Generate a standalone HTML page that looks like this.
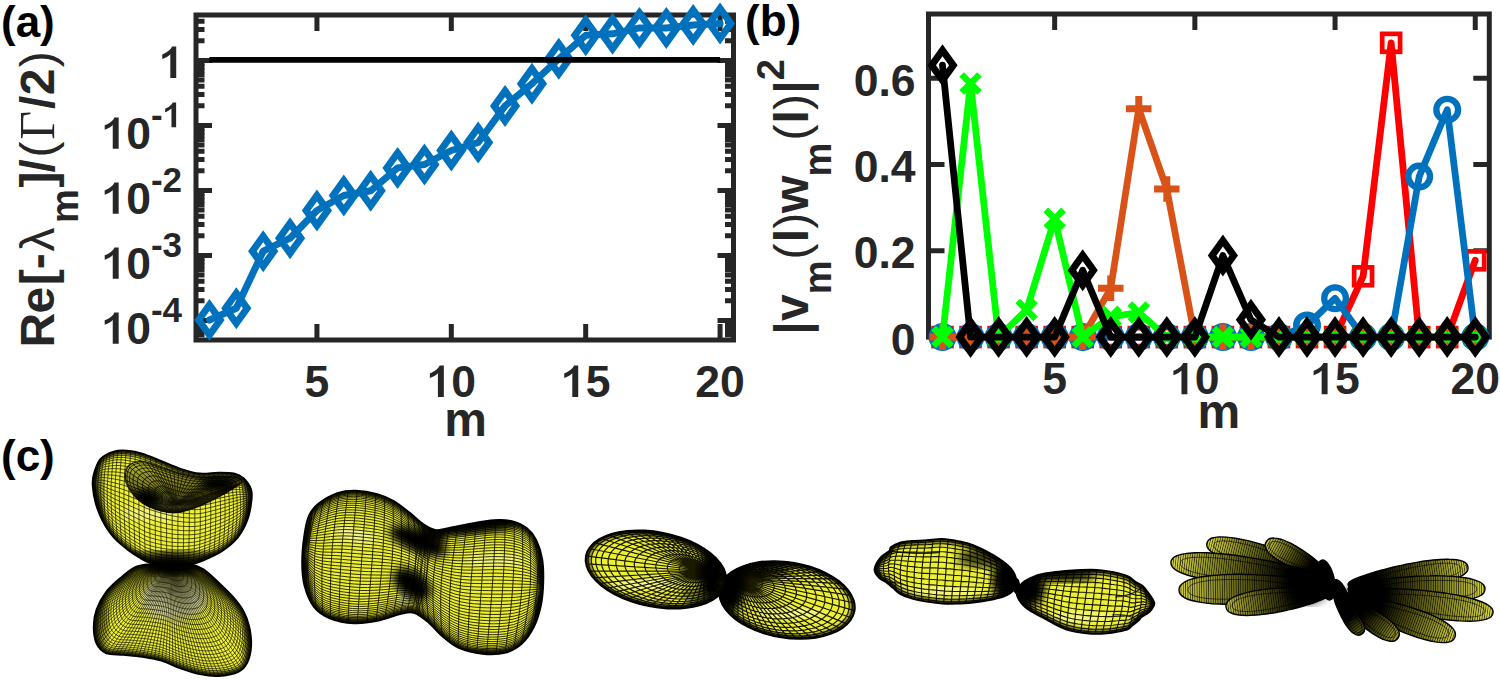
<!DOCTYPE html>
<html><head><meta charset="utf-8"><style>
html,body{margin:0;padding:0;background:#fff;width:1500px;height:680px;overflow:hidden}
svg{display:block}
</style></head><body>
<svg width="1500" height="680" viewBox="0 0 1500 680">
<defs>
<pattern id="mesh" width="3.6" height="3.6" patternUnits="userSpaceOnUse"><path d="M0 0.4H3.6M0.4 0V3.6" stroke="#1e1e00" stroke-width="0.7" fill="none"/></pattern>
<pattern id="mesh2" width="4.5" height="3" patternUnits="userSpaceOnUse" patternTransform="rotate(5)"><path d="M0 0.4H4.5M0.4 0V3" stroke="#1e1e00" stroke-width="0.65" fill="none"/></pattern>
<pattern id="mesh3" width="6" height="4.5" patternUnits="userSpaceOnUse" patternTransform="rotate(10)"><path d="M0 0.5H6M0.5 0V4.5" stroke="#1e1e00" stroke-width="1" fill="none"/></pattern>
<pattern id="mesh4" width="5.5" height="4.5" patternUnits="userSpaceOnUse" patternTransform="rotate(-20)"><path d="M0 0.5H5.5M0.5 0V4.5" stroke="#1e1e00" stroke-width="0.9" fill="none"/></pattern>
<radialGradient id="dk" cx="0.5" cy="0.5" r="0.5"><stop offset="0" stop-color="#000" stop-opacity="1"/><stop offset="0.55" stop-color="#000" stop-opacity="0.85"/><stop offset="1" stop-color="#000" stop-opacity="0"/></radialGradient>
<radialGradient id="hl" cx="0.5" cy="0.5" r="0.5"><stop offset="0" stop-color="#fff" stop-opacity="0.75"/><stop offset="1" stop-color="#fff" stop-opacity="0"/></radialGradient>
<filter id="bl2"><feGaussianBlur stdDeviation="2"/></filter>
<filter id="bl4"><feGaussianBlur stdDeviation="4"/></filter>
</defs>
<clipPath id="c1a"><path d="M93.6 474.4C94.9 469.9 96.9 462.8 100.3 459.0C103.7 455.2 109.2 452.9 113.7 451.5C118.2 450.1 122.2 450.2 127.0 450.5C131.8 450.8 136.6 451.6 142.3 453.4C148.0 455.1 155.0 458.4 161.4 461.0C167.8 463.6 174.1 466.6 180.5 468.7C186.9 470.8 193.3 472.8 199.7 473.4C206.1 474.0 213.1 472.5 218.8 472.5C224.5 472.5 229.9 472.4 234.0 473.4C238.1 474.3 240.7 475.5 243.6 478.2C246.5 480.9 250.0 485.6 251.3 489.7C252.6 493.8 252.0 497.9 251.3 503.0C250.7 508.1 249.6 514.5 247.4 520.3C245.2 526.0 242.0 532.4 237.9 537.5C233.8 542.6 228.3 547.0 222.6 550.8C216.9 554.6 208.9 558.1 203.5 560.4C198.1 562.7 195.6 563.6 190.0 564.5C184.4 565.4 176.7 566.2 170.0 566.0C163.3 565.8 155.0 564.3 150.0 563.0C145.0 561.7 143.5 560.0 140.0 558.0C136.5 556.0 133.4 554.2 129.0 550.8C124.6 547.4 118.2 542.6 113.7 537.5C109.2 532.4 105.2 526.0 102.2 520.3C99.2 514.5 97.1 508.7 95.5 503.0C93.9 497.3 92.9 490.8 92.6 486.0C92.3 481.2 92.3 478.9 93.6 474.4Z"/></clipPath>
<g clip-path="url(#c1a)">
<path d="M93.6 474.4C94.9 469.9 96.9 462.8 100.3 459.0C103.7 455.2 109.2 452.9 113.7 451.5C118.2 450.1 122.2 450.2 127.0 450.5C131.8 450.8 136.6 451.6 142.3 453.4C148.0 455.1 155.0 458.4 161.4 461.0C167.8 463.6 174.1 466.6 180.5 468.7C186.9 470.8 193.3 472.8 199.7 473.4C206.1 474.0 213.1 472.5 218.8 472.5C224.5 472.5 229.9 472.4 234.0 473.4C238.1 474.3 240.7 475.5 243.6 478.2C246.5 480.9 250.0 485.6 251.3 489.7C252.6 493.8 252.0 497.9 251.3 503.0C250.7 508.1 249.6 514.5 247.4 520.3C245.2 526.0 242.0 532.4 237.9 537.5C233.8 542.6 228.3 547.0 222.6 550.8C216.9 554.6 208.9 558.1 203.5 560.4C198.1 562.7 195.6 563.6 190.0 564.5C184.4 565.4 176.7 566.2 170.0 566.0C163.3 565.8 155.0 564.3 150.0 563.0C145.0 561.7 143.5 560.0 140.0 558.0C136.5 556.0 133.4 554.2 129.0 550.8C124.6 547.4 118.2 542.6 113.7 537.5C109.2 532.4 105.2 526.0 102.2 520.3C99.2 514.5 97.1 508.7 95.5 503.0C93.9 497.3 92.9 490.8 92.6 486.0C92.3 481.2 92.3 478.9 93.6 474.4Z" fill="#eef034"/>
<ellipse cx="150" cy="514" rx="30" ry="6" fill="#fff" opacity="0.45" filter="url(#bl4)"/>
<path d="M92.6 478.9L91.6 479.5 90.6 480.1 89.8 480.8 89.2 481.4 88.8 482.0 88.6 482.6 88.8 483.3 89.2 483.9 89.8 484.5 90.6 485.1 91.6 485.8 92.6 486.4M93.2 476.0L92.2 477.3 91.2 478.6 90.4 479.9 89.8 481.2 89.4 482.5 89.2 483.8 89.4 485.1 89.8 486.4 90.4 487.7 91.2 489.0 92.2 490.3 93.2 491.6M94.1 472.6L93.1 474.7 92.2 476.7 91.3 478.8 90.7 480.8 90.3 482.8 90.2 484.9 90.3 486.9 90.7 489.0 91.3 491.0 92.2 493.1 93.1 495.1 94.1 497.1M95.4 468.6L94.4 471.4 93.5 474.2 92.7 477.1 92.1 479.9 91.7 482.8 91.6 485.6 91.7 488.4 92.1 491.3 92.7 494.1 93.5 497.0 94.4 499.8 95.4 502.6M97.1 464.4L96.1 468.0 95.2 471.7 94.4 475.3 93.8 478.9 93.4 482.6 93.3 486.2 93.4 489.9 93.8 493.5 94.4 497.1 95.2 500.8 96.1 504.4 97.1 508.1M99 460.7L98.1 465.1 97.2 469.5 96.5 473.9 95.9 478.3 95.5 482.7 95.4 487.1 95.5 491.5 95.9 495.9 96.5 500.3 97.2 504.7 98.1 509.1 99.0 513.5M101.4 457.9L100.5 463.0 99.6 468.0 98.9 473.1 98.3 478.2 98.0 483.2 97.8 488.3 98.0 493.4 98.3 498.4 98.9 503.5 99.6 508.6 100.5 513.6 101.4 518.7M104.1 455.8L103.2 461.5 102.4 467.1 101.6 472.8 101.1 478.4 100.8 484.1 100.6 489.7 100.8 495.4 101.1 501.1 101.6 506.7 102.4 512.4 103.2 518.0 104.1 523.7M107 454.1L106.2 460.3 105.4 466.5 104.7 472.7 104.2 478.9 103.9 485.1 103.8 491.4 103.9 497.6 104.2 503.8 104.7 510.0 105.4 516.2 106.2 522.4 107.0 528.6M110.3 452.7L109.5 459.4 108.8 466.1 108.1 472.8 107.7 479.6 107.3 486.3 107.2 493.0 107.3 499.7 107.7 506.4 108.1 513.2 108.8 519.9 109.5 526.6 110.3 533.3M113.9 451.4L113.2 458.6 112.5 465.8 111.9 473.0 111.4 480.2 111.1 487.4 111.0 494.6 111.1 501.8 111.4 509.0 111.9 516.2 112.5 523.4 113.2 530.5 113.9 537.7M117.8 450.6L117.1 458.2 116.4 465.8 115.8 473.3 115.4 480.9 115.1 488.5 115.0 496.1 115.1 503.7 115.4 511.3 115.8 518.9 116.4 526.4 117.1 534.0 117.8 541.6M121.9 450.3L121.2 458.2 120.6 466.1 120.1 474.0 119.7 481.9 119.4 489.8 119.4 497.7 119.4 505.7 119.7 513.6 120.1 521.5 120.6 529.4 121.2 537.3 121.9 545.2M126.2 450.5L125.6 458.6 125.1 466.8 124.6 475.0 124.2 483.2 124.0 491.4 123.9 499.5 124.0 507.7 124.2 515.9 124.6 524.1 125.1 532.3 125.6 540.5 126.2 548.6M130.8 450.9L130.2 459.3 129.7 467.7 129.3 476.2 129.0 484.6 128.8 493.1 128.7 501.5 128.8 509.9 129.0 518.4 129.3 526.8 129.7 535.3 130.2 543.7 130.8 552.1M135.5 451.7L135.1 460.3 134.6 468.9 134.2 477.6 133.9 486.2 133.7 494.9 133.7 503.5 133.7 512.1 133.9 520.8 134.2 529.4 134.6 538.1 135.1 546.7 135.5 555.4M140.4 452.9L140.0 461.6 139.7 470.4 139.3 479.2 139.1 488.0 138.9 496.8 138.9 505.6 138.9 514.3 139.1 523.1 139.3 531.9 139.7 540.7 140.0 549.5 140.4 558.3M145.5 454.5L145.2 463.4 144.8 472.3 144.6 481.2 144.4 490.1 144.2 499.0 144.2 507.9 144.2 516.8 144.4 525.7 144.6 534.6 144.8 543.5 145.2 552.4 145.5 561.3M150.7 456.5L150.4 465.4 150.2 474.3 149.9 483.2 149.8 492.1 149.7 501.0 149.6 509.9 149.7 518.7 149.8 527.6 149.9 536.5 150.2 545.4 150.4 554.3 150.7 563.2M156 458.8L155.8 467.6 155.6 476.4 155.4 485.1 155.3 493.9 155.2 502.7 155.2 511.5 155.2 520.3 155.3 529.1 155.4 537.9 155.6 546.7 155.8 555.5 156.0 564.3M161.4 461.0L161.2 469.7 161.1 478.4 161.0 487.0 160.9 495.7 160.8 504.4 160.8 513.1 160.8 521.8 160.9 530.5 161.0 539.1 161.1 547.8 161.2 556.5 161.4 565.2M166.8 463.3L166.7 471.8 166.7 480.3 166.6 488.9 166.6 497.4 166.5 506.0 166.5 514.5 166.5 523.1 166.6 531.6 166.6 540.2 166.7 548.7 166.7 557.3 166.8 565.8M172.2 465.6L172.2 473.9 172.2 482.3 172.2 490.7 172.2 499.1 172.2 507.4 172.2 515.8 172.2 524.2 172.2 532.6 172.2 540.9 172.2 549.3 172.2 557.7 172.2 566.0M177.7 467.7L177.8 475.9 177.8 484.1 177.9 492.3 177.9 500.4 177.9 508.6 178.0 516.8 177.9 525.0 177.9 533.2 177.9 541.3 177.8 549.5 177.8 557.7 177.7 565.9M183.1 469.5L183.2 477.5 183.4 485.5 183.5 493.5 183.6 501.5 183.6 509.5 183.6 517.5 183.6 525.5 183.6 533.5 183.5 541.5 183.4 549.5 183.2 557.4 183.1 565.4M188.5 471.1L188.7 478.9 188.9 486.7 189.0 494.5 189.2 502.3 189.3 510.1 189.3 517.9 189.3 525.7 189.2 533.5 189.0 541.3 188.9 549.1 188.7 556.9 188.5 564.7M193.8 472.5L194.0 480.1 194.3 487.7 194.5 495.3 194.7 502.9 194.8 510.5 194.8 518.1 194.8 525.7 194.7 533.3 194.5 540.9 194.3 548.6 194.0 556.2 193.8 563.8M199 473.3L199.3 480.7 199.6 488.1 199.9 495.5 200.1 502.9 200.3 510.4 200.3 517.8 200.3 525.2 200.1 532.6 199.9 540.0 199.6 547.4 199.3 554.8 199.0 562.2M204 473.5L204.4 480.8 204.8 488.0 205.2 495.2 205.4 502.4 205.6 509.6 205.6 516.9 205.6 524.1 205.4 531.3 205.2 538.5 204.8 545.7 204.4 553.0 204.0 560.2M208.9 473.2L209.4 480.3 209.9 487.4 210.3 494.4 210.5 501.5 210.7 508.6 210.8 515.6 210.7 522.7 210.5 529.8 210.3 536.8 209.9 543.9 209.4 551.0 208.9 558.0M213.7 472.8L214.2 479.7 214.7 486.6 215.2 493.5 215.5 500.5 215.7 507.4 215.8 514.3 215.7 521.2 215.5 528.1 215.2 535.0 214.7 542.0 214.2 548.9 213.7 555.8M218.3 472.5L218.9 479.3 219.4 486.0 219.9 492.7 220.3 499.5 220.5 506.2 220.6 513.0 220.5 519.7 220.3 526.5 219.9 533.2 219.4 539.9 218.9 546.7 218.3 553.4M222.6 472.5L223.2 479.0 223.9 485.6 224.4 492.1 224.8 498.6 225.0 505.1 225.1 511.7 225.0 518.2 224.8 524.7 224.4 531.2 223.9 537.8 223.2 544.3 222.6 550.8M226.7 472.6L227.4 478.9 228.1 485.1 228.6 491.4 229.1 497.7 229.3 504.0 229.4 510.3 229.3 516.5 229.1 522.8 228.6 529.1 228.1 535.4 227.4 541.6 226.7 547.9M230.6 472.8L231.3 478.8 232.0 484.9 232.6 490.9 233.1 496.9 233.4 502.9 233.5 508.9 233.4 514.9 233.1 520.9 232.6 526.9 232.0 532.9 231.3 538.9 230.6 544.9M234.1 473.4L234.9 479.1 235.7 484.8 236.3 490.5 236.8 496.2 237.1 501.8 237.2 507.5 237.1 513.2 236.8 518.9 236.3 524.6 235.7 530.2 234.9 535.9 234.1 541.6M237.4 474.4L238.3 479.7 239.1 485.0 239.7 490.3 240.3 495.6 240.6 500.9 240.7 506.2 240.6 511.5 240.3 516.8 239.7 522.1 239.1 527.4 238.3 532.8 237.4 538.1M240.4 475.8L241.3 480.6 242.1 485.5 242.8 490.3 243.4 495.2 243.7 500.1 243.8 504.9 243.7 509.8 243.4 514.6 242.8 519.5 242.1 524.4 241.3 529.2 240.4 534.1M243.1 477.7L244.0 482.1 244.9 486.4 245.6 490.7 246.2 495.0 246.5 499.4 246.6 503.7 246.5 508.0 246.2 512.3 245.6 516.7 244.9 521.0 244.0 525.3 243.1 529.6M245.4 480.1L246.4 483.8 247.3 487.6 248.0 491.3 248.6 495.1 249.0 498.8 249.1 502.5 249.0 506.3 248.6 510.0 248.0 513.8 247.3 517.5 246.4 521.2 245.4 525.0M247.4 482.6L248.4 485.7 249.3 488.8 250.1 492.0 250.7 495.1 251.1 498.3 251.2 501.4 251.1 504.5 250.7 507.7 250.1 510.8 249.3 514.0 248.4 517.1 247.4 520.2M249.1 485.0L250.1 487.5 251.0 490.0 251.8 492.5 252.4 495.0 252.8 497.5 252.9 500.0 252.8 502.5 252.4 505.1 251.8 507.6 251.0 510.1 250.1 512.6 249.1 515.1M250.4 487.4L251.4 489.2 252.3 491.0 253.1 492.8 253.8 494.6 254.1 496.5 254.3 498.3 254.1 500.1 253.8 501.9 253.1 503.7 252.3 505.6 251.4 507.4 250.4 509.2M251.3 489.7L252.3 490.8 253.3 491.9 254.1 493.0 254.7 494.1 255.1 495.3 255.3 496.4 255.1 497.5 254.7 498.6 254.1 499.7 253.3 500.8 252.3 502.0 251.3 503.1M251.8 492.2L252.9 492.7 253.8 493.2 254.7 493.8 255.3 494.3 255.7 494.8 255.8 495.3 255.7 495.8 255.3 496.4 254.7 496.9 253.8 497.4 252.9 497.9 251.8 498.5M92.4 481.4L96.9 464.8 101.3 458.1 105.7 455.0 110.2 452.9 114.6 451.4 119.0 450.6 123.5 450.5 127.9 450.8 132.3 451.3 136.8 452.1 141.2 453.3 145.6 454.8 150.1 456.5 154.5 458.3 158.9 460.2 163.4 462.0 167.8 463.9 172.2 465.8 176.7 467.6 181.1 469.1 185.5 470.5 190.0 471.8 194.4 472.8 198.8 473.5 203.3 473.7 207.7 473.5 212.1 473.1 216.6 472.7 221.0 472.7 225.4 472.7 229.9 472.9 234.3 473.6 238.7 475.0 243.2 477.9 247.6 482.9 252.0 494.5M92.4 481.4L96.9 465.1 101.3 458.5 105.7 455.4 110.2 453.4 114.6 452.0 119.0 451.2 123.5 451.1 127.9 451.4 132.3 452.0 136.8 452.8 141.2 454.0 145.6 455.4 150.1 457.2 154.5 459.0 158.9 460.9 163.4 462.7 167.8 464.6 172.2 466.4 176.7 468.2 181.1 469.7 185.5 471.1 190.0 472.3 194.4 473.4 198.8 474.1 203.3 474.3 207.7 474.1 212.1 473.6 216.6 473.3 221.0 473.2 225.4 473.2 229.9 473.4 234.3 474.1 238.7 475.4 243.2 478.2 247.6 483.1 252.0 494.5M92.4 481.4L96.9 465.6 101.3 459.1 105.7 456.2 110.2 454.3 114.6 452.9 119.0 452.2 123.5 452.2 127.9 452.5 132.3 453.0 136.8 453.9 141.2 455.1 145.6 456.6 150.1 458.3 154.5 460.1 158.9 462.0 163.4 463.8 167.8 465.6 172.2 467.5 176.7 469.2 181.1 470.7 185.5 472.1 190.0 473.3 194.4 474.3 198.8 475.0 203.3 475.2 207.7 475.0 212.1 474.5 216.6 474.1 221.0 474.0 225.4 474.0 229.9 474.2 234.3 474.8 238.7 476.1 243.2 478.8 247.6 483.5 252.0 494.6M92.4 481.4L96.9 466.2 101.3 460.0 105.7 457.2 110.2 455.5 114.6 454.2 119.0 453.6 123.5 453.6 127.9 453.9 132.3 454.5 136.8 455.4 141.2 456.6 145.6 458.1 150.1 459.9 154.5 461.7 158.9 463.5 163.4 465.3 167.8 467.1 172.2 469.0 176.7 470.7 181.1 472.2 185.5 473.5 190.0 474.7 194.4 475.7 198.8 476.3 203.3 476.5 207.7 476.2 212.1 475.8 216.6 475.3 221.0 475.2 225.4 475.1 229.9 475.2 234.3 475.8 238.7 477.0 243.2 479.6 247.6 484.0 252.0 494.6M92.4 481.5L96.9 467.0 101.3 461.1 105.7 458.6 110.2 457.0 114.6 455.8 119.0 455.3 123.5 455.4 127.9 455.8 132.3 456.4 136.8 457.4 141.2 458.6 145.6 460.1 150.1 461.9 154.5 463.7 158.9 465.5 163.4 467.2 167.8 469.0 172.2 470.8 176.7 472.5 181.1 474.0 185.5 475.3 190.0 476.4 194.4 477.4 198.8 478.0 203.3 478.1 207.7 477.8 212.1 477.3 216.6 476.9 221.0 476.7 225.4 476.5 229.9 476.6 234.3 477.0 238.7 478.1 243.2 480.5 247.6 484.7 252.0 494.6M92.4 481.5L96.9 468.0 101.3 462.5 105.7 460.2 110.2 458.8 114.6 457.8 119.0 457.4 123.5 457.5 127.9 458.0 132.3 458.7 136.8 459.7 141.2 461.0 145.6 462.5 150.1 464.3 154.5 466.1 158.9 467.8 163.4 469.6 167.8 471.3 172.2 473.1 176.7 474.7 181.1 476.1 185.5 477.4 190.0 478.5 194.4 479.4 198.8 480.0 203.3 480.1 207.7 479.7 212.1 479.2 216.6 478.7 221.0 478.4 225.4 478.3 229.9 478.2 234.3 478.6 238.7 479.5 243.2 481.7 247.6 485.6 252.0 494.6M92.4 481.5L96.9 469.1 101.3 464.1 105.7 462.0 110.2 460.9 114.6 460.0 119.0 459.8 123.5 460.0 127.9 460.6 132.3 461.4 136.8 462.4 141.2 463.7 145.6 465.3 150.1 467.0 154.5 468.8 158.9 470.6 163.4 472.3 167.8 474.0 172.2 475.7 176.7 477.3 181.1 478.7 185.5 479.9 190.0 480.9 194.4 481.8 198.8 482.3 203.3 482.3 207.7 482.0 212.1 481.4 216.6 480.8 221.0 480.5 225.4 480.3 229.9 480.1 234.3 480.3 238.7 481.1 243.2 483.0 247.6 486.5 252.0 494.6M92.4 481.6L96.9 470.3 101.3 465.9 105.7 464.2 110.2 463.2 114.6 462.6 119.0 462.5 123.5 462.9 127.9 463.5 132.3 464.4 136.8 465.5 141.2 466.9 145.6 468.5 150.1 470.2 154.5 471.9 158.9 473.7 163.4 475.3 167.8 477.0 172.2 478.7 176.7 480.2 181.1 481.5 185.5 482.7 190.0 483.7 194.4 484.5 198.8 484.9 203.3 484.9 207.7 484.5 212.1 483.8 216.6 483.2 221.0 482.9 225.4 482.5 229.9 482.3 234.3 482.3 238.7 482.9 243.2 484.6 247.6 487.6 252.0 494.7M92.4 481.6L96.9 471.7 101.3 467.8 105.7 466.5 110.2 465.9 114.6 465.5 119.0 465.5 123.5 466.0 127.9 466.8 132.3 467.8 136.8 468.9 141.2 470.3 145.6 472.0 150.1 473.7 154.5 475.4 158.9 477.1 163.4 478.7 167.8 480.4 172.2 482.0 176.7 483.4 181.1 484.7 185.5 485.8 190.0 486.7 194.4 487.4 198.8 487.8 203.3 487.7 207.7 487.3 212.1 486.6 216.6 485.9 221.0 485.4 225.4 485.0 229.9 484.6 234.3 484.6 238.7 484.9 243.2 486.2 247.6 488.8 252.0 494.7M92.4 481.7L96.9 473.3 101.3 470.0 105.7 469.1 110.2 468.7 114.6 468.6 119.0 468.8 123.5 469.4 127.9 470.3 132.3 471.4 136.8 472.6 141.2 474.1 145.6 475.8 150.1 477.5 154.5 479.2 158.9 480.8 163.4 482.4 167.8 484.0 172.2 485.5 176.7 486.9 181.1 488.1 185.5 489.1 190.0 490.0 194.4 490.7 198.8 491.0 203.3 490.8 207.7 490.3 212.1 489.5 216.6 488.8 221.0 488.3 225.4 487.7 229.9 487.2 234.3 487.0 238.7 487.1 243.2 488.1 247.6 490.1 252.0 494.7M92.4 481.7L96.9 474.9 101.3 472.3 105.7 471.8 110.2 471.8 114.6 471.9 119.0 472.3 123.5 473.1 127.9 474.1 132.3 475.3 136.8 476.6 141.2 478.1 145.6 479.8 150.1 481.5 154.5 483.2 158.9 484.8 163.4 486.3 167.8 487.9 172.2 489.4 176.7 490.7 181.1 491.8 185.5 492.8 190.0 493.6 194.4 494.1 198.8 494.4 203.3 494.1 207.7 493.5 212.1 492.7 216.6 491.9 221.0 491.3 225.4 490.6 229.9 490.0 234.3 489.6 238.7 489.5 243.2 490.0 247.6 491.5 252.0 494.8M92.4 481.8L96.9 476.6 101.3 474.8 105.7 474.7 110.2 475.0 114.6 475.4 119.0 476.0 123.5 477.0 127.9 478.1 132.3 479.4 136.8 480.8 141.2 482.4 145.6 484.1 150.1 485.8 154.5 487.5 158.9 489.0 163.4 490.5 167.8 492.0 172.2 493.4 176.7 494.7 181.1 495.7 185.5 496.6 190.0 497.3 194.4 497.8 198.8 498.0 203.3 497.6 207.7 497.0 212.1 496.1 216.6 495.2 221.0 494.5 225.4 493.7 229.9 492.9 234.3 492.3 238.7 491.9 243.2 492.1 247.6 493.0 252.0 494.8M92.4 481.8L96.9 478.4 101.3 477.3 105.7 477.7 110.2 478.4 114.6 479.1 119.0 479.9 123.5 481.0 127.9 482.3 132.3 483.7 136.8 485.2 141.2 486.8 145.6 488.7 150.1 490.4 154.5 491.9 158.9 493.5 163.4 494.9 167.8 496.3 172.2 497.7 176.7 498.8 181.1 499.8 185.5 500.6 190.0 501.2 194.4 501.7 198.8 501.7 203.3 501.3 207.7 500.6 212.1 499.6 216.6 498.7 221.0 497.8 225.4 496.9 229.9 496.0 234.3 495.2 238.7 494.5 243.2 494.3 247.6 494.6 252.0 494.8M92.4 481.9L96.9 480.3 101.3 480.0 105.7 480.8 110.2 481.9 114.6 482.9 119.0 484.0 123.5 485.2 127.9 486.7 132.3 488.2 136.8 489.8 141.2 491.4 145.6 493.3 150.1 495.0 154.5 496.6 158.9 498.1 163.4 499.4 167.8 500.8 172.2 502.1 176.7 503.2 181.1 504.0 185.5 504.7 190.0 505.3 194.4 505.6 198.8 505.6 203.3 505.1 207.7 504.3 212.1 503.3 216.6 502.3 221.0 501.3 225.4 500.3 229.9 499.2 234.3 498.2 238.7 497.2 243.2 496.6 247.6 496.2 252.0 494.9M92.4 482.0L96.9 482.2 101.3 482.7 105.7 484.1 110.2 485.5 114.6 486.8 119.0 488.1 123.5 489.6 127.9 491.1 132.3 492.8 136.8 494.4 141.2 496.2 145.6 498.1 150.1 499.8 154.5 501.3 158.9 502.8 163.4 504.1 167.8 505.4 172.2 506.6 176.7 507.6 181.1 508.4 185.5 509.0 190.0 509.5 194.4 509.7 198.8 509.6 203.3 509.0 207.7 508.1 212.1 507.1 216.6 505.9 221.0 504.9 225.4 503.7 229.9 502.4 234.3 501.2 238.7 500.0 243.2 498.9 247.6 497.9 252.0 494.9M92.4 482.0L96.9 484.2 101.3 485.5 105.7 487.4 110.2 489.2 114.6 490.8 119.0 492.3 123.5 494.0 127.9 495.7 132.3 497.5 136.8 499.2 141.2 501.0 145.6 503.0 150.1 504.7 154.5 506.2 158.9 507.6 163.4 508.8 167.8 510.1 172.2 511.2 176.7 512.1 181.1 512.8 185.5 513.3 190.0 513.7 194.4 513.9 198.8 513.7 203.3 513.0 207.7 512.0 212.1 510.9 216.6 509.7 221.0 508.5 225.4 507.2 229.9 505.8 234.3 504.3 238.7 502.8 243.2 501.3 247.6 499.6 252.0 495.0M92.4 482.1L96.9 486.2 101.3 488.3 105.7 490.7 110.2 492.9 114.6 494.9 119.0 496.6 123.5 498.4 127.9 500.3 132.3 502.2 136.8 504.0 141.2 505.9 145.6 508.0 150.1 509.6 154.5 511.1 158.9 512.4 163.4 513.6 167.8 514.8 172.2 515.8 176.7 516.6 181.1 517.3 185.5 517.7 190.0 518.0 194.4 518.1 198.8 517.8 203.3 517.0 207.7 516.0 212.1 514.7 216.6 513.5 221.0 512.2 225.4 510.7 229.9 509.1 234.3 507.5 238.7 505.7 243.2 503.7 247.6 501.3 252.0 495.0M92.4 482.2L96.9 488.1 101.3 491.1 105.7 494.0 110.2 496.6 114.6 498.9 119.0 500.9 123.5 502.8 127.9 504.8 132.3 506.9 136.8 508.8 141.2 510.8 145.6 512.9 150.1 514.6 154.5 516.0 158.9 517.3 163.4 518.4 167.8 519.5 172.2 520.4 176.7 521.2 181.1 521.7 185.5 522.1 190.0 522.3 194.4 522.3 198.8 521.9 203.3 521.0 207.7 519.9 212.1 518.6 216.6 517.2 221.0 515.8 225.4 514.2 229.9 512.5 234.3 510.6 238.7 508.5 243.2 506.0 247.6 503.0 252.0 495.1M92.4 482.2L96.9 490.1 101.3 493.8 105.7 497.3 110.2 500.3 114.6 502.9 119.0 505.1 123.5 507.2 127.9 509.4 132.3 511.6 136.8 513.6 141.2 515.6 145.6 517.8 150.1 519.4 154.5 520.8 158.9 522.0 163.4 523.2 167.8 524.2 172.2 525.0 176.7 525.7 181.1 526.2 185.5 526.4 190.0 526.6 194.4 526.5 198.8 526.0 203.3 525.0 207.7 523.8 212.1 522.4 216.6 521.0 221.0 519.4 225.4 517.7 229.9 515.8 234.3 513.7 238.7 511.3 243.2 508.4 247.6 504.7 252.0 495.1M92.4 482.3L96.9 492.0 101.3 496.5 105.7 500.5 110.2 503.9 114.6 506.8 119.0 509.2 123.5 511.6 127.9 513.9 132.3 516.2 136.8 518.3 141.2 520.4 145.6 522.6 150.1 524.2 154.5 525.6 158.9 526.8 163.4 527.8 167.8 528.8 172.2 529.6 176.7 530.1 181.1 530.5 185.5 530.7 190.0 530.7 194.4 530.6 198.8 530.0 203.3 528.9 207.7 527.6 212.1 526.2 216.6 524.6 221.0 523.0 225.4 521.1 229.9 519.1 234.3 516.8 238.7 514.1 243.2 510.7 247.6 506.3 252.0 495.2M92.4 482.4L96.9 493.9 101.3 499.2 105.7 503.6 110.2 507.4 114.6 510.6 119.0 513.3 123.5 515.8 127.9 518.2 132.3 520.6 136.8 522.8 141.2 525.0 145.6 527.3 150.1 528.9 154.5 530.2 158.9 531.4 163.4 532.4 167.8 533.2 172.2 534.0 176.7 534.5 181.1 534.7 185.5 534.9 190.0 534.8 194.4 534.5 198.8 533.9 203.3 532.7 207.7 531.4 212.1 529.8 216.6 528.2 221.0 526.5 225.4 524.5 229.9 522.2 234.3 519.7 238.7 516.8 243.2 513.0 247.6 508.0 252.0 495.2M92.4 482.4L96.9 495.7 101.3 501.8 105.7 506.6 110.2 510.8 114.6 514.3 119.0 517.2 123.5 519.8 127.9 522.4 132.3 524.9 136.8 527.2 141.2 529.5 145.6 531.8 150.1 533.4 154.5 534.7 158.9 535.8 163.4 536.7 167.8 537.6 172.2 538.2 176.7 538.6 181.1 538.8 185.5 538.9 190.0 538.7 194.4 538.4 198.8 537.6 203.3 536.4 207.7 535.0 212.1 533.4 216.6 531.7 221.0 529.8 225.4 527.7 229.9 525.3 234.3 522.6 238.7 519.4 243.2 515.2 247.6 509.5 252.0 495.2M92.4 482.5L96.9 497.4 101.3 504.2 105.7 509.5 110.2 514.1 114.6 517.8 119.0 520.9 123.5 523.7 127.9 526.4 132.3 529.1 136.8 531.4 141.2 533.7 145.6 536.1 150.1 537.7 154.5 539.0 158.9 540.0 163.4 540.9 167.8 541.7 172.2 542.3 176.7 542.6 181.1 542.7 185.5 542.7 190.0 542.5 194.4 542.1 198.8 541.2 203.3 539.9 207.7 538.4 212.1 536.8 216.6 535.0 221.0 533.0 225.4 530.8 229.9 528.2 234.3 525.4 238.7 521.9 243.2 517.3 247.6 511.0 252.0 495.3M92.4 482.6L96.9 499.0 101.3 506.5 105.7 512.3 110.2 517.1 114.6 521.2 119.0 524.4 123.5 527.4 127.9 530.2 132.3 533.0 136.8 535.4 141.2 537.7 145.6 540.2 150.1 541.8 154.5 543.0 158.9 544.0 163.4 544.9 167.8 545.6 172.2 546.1 176.7 546.4 181.1 546.4 185.5 546.3 190.0 546.0 194.4 545.5 198.8 544.6 203.3 543.2 207.7 541.7 212.1 539.9 216.6 538.1 221.0 536.1 225.4 533.7 229.9 531.0 234.3 527.9 238.7 524.2 243.2 519.2 247.6 512.4 252.0 495.3M92.4 482.6L96.9 500.6 101.3 508.7 105.7 514.8 110.2 520.0 114.6 524.3 119.0 527.7 123.5 530.8 127.9 533.7 132.3 536.6 136.8 539.1 141.2 541.5 145.6 544.0 150.1 545.6 154.5 546.8 158.9 547.7 163.4 548.5 167.8 549.2 172.2 549.6 176.7 549.9 181.1 549.8 185.5 549.7 190.0 549.3 194.4 548.8 198.8 547.8 203.3 546.3 207.7 544.7 212.1 542.9 216.6 541.0 221.0 538.9 225.4 536.4 229.9 533.6 234.3 530.4 238.7 526.4 243.2 521.1 247.6 513.7 252.0 495.3M92.4 482.7L96.9 502.0 101.3 510.6 105.7 517.2 110.2 522.6 114.6 527.1 119.0 530.7 123.5 533.9 127.9 537.0 132.3 539.9 136.8 542.5 141.2 544.9 145.6 547.5 150.1 549.1 154.5 550.2 158.9 551.2 163.4 551.9 167.8 552.5 172.2 552.9 176.7 553.1 181.1 553.0 185.5 552.8 190.0 552.4 194.4 551.7 198.8 550.7 203.3 549.1 207.7 547.5 212.1 545.6 216.6 543.7 221.0 541.5 225.4 538.9 229.9 536.0 234.3 532.6 238.7 528.4 243.2 522.8 247.6 514.9 252.0 495.4M92.4 482.7L96.9 503.2 101.3 512.4 105.7 519.3 110.2 525.0 114.6 529.7 119.0 533.4 123.5 536.8 127.9 539.9 132.3 542.9 136.8 545.6 141.2 548.1 145.6 550.6 150.1 552.2 154.5 553.3 158.9 554.2 163.4 555.0 167.8 555.6 172.2 555.9 176.7 556.0 181.1 555.9 185.5 555.6 190.0 555.1 194.4 554.4 198.8 553.3 203.3 551.7 207.7 550.0 212.1 548.1 216.6 546.1 221.0 543.8 225.4 541.1 229.9 538.1 234.3 534.6 238.7 530.2 243.2 524.3 247.6 516.0 252.0 495.4M92.4 482.7L96.9 504.3 101.3 514.0 105.7 521.1 110.2 527.1 114.6 532.0 119.0 535.9 123.5 539.3 127.9 542.5 132.3 545.6 136.8 548.3 141.2 550.8 145.6 553.4 150.1 555.0 154.5 556.1 158.9 557.0 163.4 557.7 167.8 558.2 172.2 558.5 176.7 558.6 181.1 558.4 185.5 558.0 190.0 557.5 194.4 556.8 198.8 555.6 203.3 554.0 207.7 552.2 212.1 550.3 216.6 548.2 221.0 545.9 225.4 543.1 229.9 540.0 234.3 536.4 238.7 531.8 243.2 525.6 247.6 517.0 252.0 495.4M92.4 482.8L96.9 505.3 101.3 515.4 105.7 522.8 110.2 528.9 114.6 533.9 119.0 537.9 123.5 541.4 127.9 544.7 132.3 547.9 136.8 550.7 141.2 553.2 145.6 555.8 150.1 557.4 154.5 558.5 158.9 559.3 163.4 560.0 167.8 560.5 172.2 560.8 176.7 560.8 181.1 560.6 185.5 560.2 190.0 559.6 194.4 558.8 198.8 557.6 203.3 555.9 207.7 554.1 212.1 552.2 216.6 550.1 221.0 547.7 225.4 544.8 229.9 541.6 234.3 537.9 238.7 533.2 243.2 526.8 247.6 517.8 252.0 495.4M92.4 482.8L96.9 506.1 101.3 516.5 105.7 524.1 110.2 530.4 114.6 535.5 119.0 539.6 123.5 543.2 127.9 546.6 132.3 549.8 136.8 552.6 141.2 555.2 145.6 557.8 150.1 559.4 154.5 560.5 158.9 561.3 163.4 562.0 167.8 562.4 172.2 562.6 176.7 562.6 181.1 562.4 185.5 561.9 190.0 561.4 194.4 560.5 198.8 559.3 203.3 557.6 207.7 555.7 212.1 553.7 216.6 551.6 221.0 549.1 225.4 546.3 229.9 543.0 234.3 539.2 238.7 534.4 243.2 527.8 247.6 518.5 252.0 495.5M92.4 482.8L96.9 506.7 101.3 517.4 105.7 525.1 110.2 531.6 114.6 536.8 119.0 541.0 123.5 544.6 127.9 548.1 132.3 551.3 136.8 554.1 141.2 556.7 145.6 559.4 150.1 561.0 154.5 562.0 158.9 562.8 163.4 563.5 167.8 563.9 172.2 564.1 176.7 564.1 181.1 563.8 185.5 563.3 190.0 562.7 194.4 561.9 198.8 560.6 203.3 558.8 207.7 557.0 212.1 555.0 216.6 552.8 221.0 550.3 225.4 547.4 229.9 544.1 234.3 540.2 238.7 535.3 243.2 528.5 247.6 519.0 252.0 495.5M92.4 482.8L96.9 507.2 101.3 518.0 105.7 525.9 110.2 532.4 114.6 537.8 119.0 542.0 123.5 545.7 127.9 549.1 132.3 552.4 136.8 555.2 141.2 557.8 145.6 560.5 150.1 562.1 154.5 563.1 158.9 563.9 163.4 564.6 167.8 565.0 172.2 565.2 176.7 565.1 181.1 564.8 185.5 564.3 190.0 563.7 194.4 562.8 198.8 561.5 203.3 559.8 207.7 557.9 212.1 555.8 216.6 553.6 221.0 551.1 225.4 548.2 229.9 544.8 234.3 540.9 238.7 535.9 243.2 529.1 247.6 519.4 252.0 495.5M92.4 482.8L96.9 507.5 101.3 518.4 105.7 526.4 110.2 532.9 114.6 538.3 119.0 542.6 123.5 546.3 127.9 549.7 132.3 553.0 136.8 555.9 141.2 558.5 145.6 561.2 150.1 562.8 154.5 563.8 158.9 564.6 163.4 565.2 167.8 565.7 172.2 565.8 176.7 565.7 181.1 565.4 185.5 565.0 190.0 564.3 194.4 563.4 198.8 562.1 203.3 560.3 207.7 558.4 212.1 556.4 216.6 554.2 221.0 551.7 225.4 548.7 229.9 545.3 234.3 541.3 238.7 536.3 243.2 529.4 247.6 519.7 252.0 495.5" fill="none" stroke="#1a1a00" stroke-width="0.75"/>

<ellipse cx="150" cy="562" rx="40" ry="10" fill="#000" opacity="0.8" filter="url(#bl4)"/>
<ellipse cx="190" cy="562" rx="40" ry="10" fill="#000" opacity="0.8" filter="url(#bl4)"/>
<ellipse cx="95" cy="505" rx="8" ry="40" fill="#000" opacity="0.5" filter="url(#bl4)"/>
<ellipse cx="250" cy="505" rx="6" ry="35" fill="#000" opacity="0.5" filter="url(#bl4)"/>


<linearGradient id="bowlg" x1="0" y1="0" x2="0" y2="1"><stop offset="0" stop-color="#b8b830"/><stop offset="0.6" stop-color="#6a6a14"/><stop offset="1" stop-color="#303006"/></linearGradient>
<clipPath id="c1i"><path d="M128.0 466.0C130.8 463.0 136.5 460.8 142.0 461.0C147.5 461.2 154.7 465.0 161.0 467.0C167.3 469.0 173.5 471.3 180.0 473.0C186.5 474.7 193.5 476.5 200.0 477.0C206.5 477.5 213.0 476.0 219.0 476.0C225.0 476.0 232.2 476.0 236.0 477.0C239.8 478.0 242.8 479.8 242.0 482.0C241.2 484.2 235.5 487.2 231.0 490.0C226.5 492.8 221.0 496.0 215.0 499.0C209.0 502.0 201.7 505.7 195.0 508.0C188.3 510.3 181.3 512.7 175.0 513.0C168.7 513.3 162.5 511.7 157.0 510.0C151.5 508.3 146.3 506.0 142.0 503.0C137.7 500.0 133.8 496.0 131.0 492.0C128.2 488.0 125.5 483.3 125.0 479.0C124.5 474.7 125.2 469.0 128.0 466.0Z"/></clipPath>
<g clip-path="url(#c1i)">
<path d="M128.0 466.0C130.8 463.0 136.5 460.8 142.0 461.0C147.5 461.2 154.7 465.0 161.0 467.0C167.3 469.0 173.5 471.3 180.0 473.0C186.5 474.7 193.5 476.5 200.0 477.0C206.5 477.5 213.0 476.0 219.0 476.0C225.0 476.0 232.2 476.0 236.0 477.0C239.8 478.0 242.8 479.8 242.0 482.0C241.2 484.2 235.5 487.2 231.0 490.0C226.5 492.8 221.0 496.0 215.0 499.0C209.0 502.0 201.7 505.7 195.0 508.0C188.3 510.3 181.3 512.7 175.0 513.0C168.7 513.3 162.5 511.7 157.0 510.0C151.5 508.3 146.3 506.0 142.0 503.0C137.7 500.0 133.8 496.0 131.0 492.0C128.2 488.0 125.5 483.3 125.0 479.0C124.5 474.7 125.2 469.0 128.0 466.0Z" fill="url(#bowlg)"/>
<ellipse cx="176" cy="503" rx="16" ry="7" fill="#d8d8c8" filter="url(#bl4)"/>
<path d="M169.2 498.6L169.5 498.3 170.0 498.1 170.6 497.9 171.2 497.9 171.8 498.0 172.5 498.2 173.2 498.5 173.9 498.7 174.5 499.0 175.2 499.2 175.9 499.4 176.6 499.6 177.3 499.8 178.0 499.9 178.7 500.1 179.4 500.2 180.1 500.2 180.8 500.1 181.5 500.0 182.1 500.0 182.8 500.0 183.4 500.0 184.1 500.1 184.5 500.2 184.9 500.3 185.2 500.5 185.4 500.6 185.4 500.9 185.2 501.1 184.8 501.4 184.3 501.7 183.8 502.0 183.3 502.3 182.8 502.6 182.2 503.0 181.6 503.3 180.9 503.6 180.2 504.0 179.4 504.3 178.7 504.6 178.0 504.8 177.3 505.0 176.5 505.2 175.9 505.3 175.2 505.3 174.5 505.2 173.9 505.0 173.3 504.9 172.7 504.7 172.2 504.4 171.6 504.2 171.2 503.9 170.7 503.5 170.3 503.1 169.9 502.7 169.6 502.3 169.3 501.8 169.0 501.4 168.8 500.9 168.7 500.4 168.7 500.0 168.8 499.4 168.9 499.0 169.2 498.6M162.5 493.3L163.2 492.7 164.2 492.3 165.3 492.0 166.4 491.9 167.7 492.1 169.0 492.5 170.4 493.1 171.8 493.6 173.1 494.0 174.4 494.5 175.8 494.9 177.1 495.3 178.5 495.6 179.9 496.0 181.4 496.2 182.8 496.4 184.1 496.4 185.5 496.3 186.8 496.2 188.1 496.1 189.4 496.1 190.7 496.1 191.9 496.2 192.9 496.4 193.7 496.6 194.2 497.0 194.6 497.4 194.6 497.8 194.2 498.3 193.4 498.9 192.5 499.5 191.5 500.1 190.5 500.7 189.4 501.3 188.2 502.0 187.0 502.6 185.7 503.3 184.2 503.9 182.8 504.6 181.4 505.1 179.9 505.6 178.5 506.0 177.1 506.4 175.7 506.5 174.4 506.5 173.1 506.3 171.8 506.0 170.6 505.7 169.5 505.3 168.4 504.8 167.4 504.3 166.4 503.7 165.5 503.0 164.7 502.3 164.0 501.5 163.3 500.6 162.7 499.7 162.2 498.8 161.8 497.9 161.6 497.0 161.6 496.0 161.7 495.0 162.0 494.1 162.5 493.3M156.1 488.2L157.1 487.4 158.6 486.7 160.2 486.3 161.9 486.1 163.7 486.4 165.7 487.1 167.7 487.9 169.8 488.6 171.7 489.3 173.7 489.9 175.7 490.6 177.7 491.1 179.7 491.6 181.8 492.1 183.9 492.5 186.0 492.8 188.0 492.8 190.0 492.7 192.0 492.5 193.9 492.4 195.8 492.4 197.7 492.4 199.5 492.5 200.9 492.8 202.0 493.2 202.9 493.6 203.4 494.2 203.4 494.9 202.8 495.6 201.7 496.4 200.3 497.3 198.8 498.2 197.4 499.1 195.8 500.0 194.0 501.0 192.2 501.9 190.2 502.9 188.2 503.9 186.0 504.8 183.9 505.7 181.8 506.4 179.7 507.0 177.6 507.5 175.6 507.7 173.6 507.7 171.7 507.4 169.9 507.0 168.1 506.5 166.4 505.9 164.8 505.2 163.3 504.5 161.9 503.6 160.6 502.6 159.4 501.5 158.3 500.3 157.3 499.0 156.4 497.7 155.7 496.4 155.1 495.0 154.8 493.6 154.8 492.2 154.9 490.7 155.3 489.3 156.1 488.2M150 483.5L151.5 482.3 153.3 481.5 155.4 480.9 157.6 480.8 160.0 481.1 162.6 482.0 165.3 483.0 167.9 484.0 170.4 484.8 173.0 485.7 175.6 486.5 178.2 487.2 180.8 487.9 183.6 488.6 186.3 489.1 189.0 489.4 191.6 489.4 194.2 489.2 196.8 489.0 199.2 488.9 201.8 488.9 204.3 488.9 206.6 489.1 208.4 489.4 209.9 489.9 211.0 490.5 211.7 491.3 211.7 492.1 210.9 493.1 209.5 494.1 207.6 495.3 205.7 496.4 203.8 497.6 201.7 498.8 199.5 500.1 197.1 501.3 194.5 502.6 191.8 503.9 189.0 505.1 186.3 506.2 183.5 507.1 180.8 507.9 178.1 508.5 175.5 508.9 172.9 508.8 170.4 508.5 168.0 507.9 165.7 507.2 163.5 506.5 161.4 505.6 159.5 504.6 157.6 503.5 155.9 502.1 154.3 500.7 152.9 499.1 151.7 497.5 150.6 495.8 149.6 494.1 148.8 492.3 148.4 490.5 148.4 488.6 148.6 486.7 149.1 484.9 150.0 483.5M144.6 479.1L146.3 477.8 148.5 476.7 151.0 476.0 153.7 475.8 156.6 476.3 159.8 477.4 163.0 478.6 166.2 479.8 169.3 480.8 172.4 481.8 175.5 482.8 178.6 483.7 181.9 484.5 185.2 485.3 188.5 485.9 191.7 486.3 194.9 486.4 198.1 486.1 201.2 485.8 204.2 485.7 207.2 485.7 210.3 485.7 213.0 485.9 215.3 486.3 217.0 486.9 218.4 487.7 219.2 488.6 219.2 489.6 218.3 490.7 216.5 492.0 214.3 493.4 212.0 494.8 209.7 496.3 207.1 497.7 204.4 499.2 201.5 500.7 198.4 502.3 195.2 503.8 191.8 505.3 188.4 506.6 185.1 507.7 181.8 508.7 178.5 509.5 175.3 509.9 172.3 509.8 169.2 509.4 166.3 508.7 163.6 507.9 160.9 507.0 158.4 506.0 156.0 504.7 153.7 503.3 151.7 501.8 149.8 500.0 148.0 498.1 146.5 496.1 145.2 494.1 144.0 492.0 143.1 489.8 142.6 487.6 142.5 485.4 142.8 483.0 143.4 480.9 144.6 479.1M139.7 475.3L141.7 473.7 144.3 472.5 147.2 471.7 150.3 471.5 153.6 472.1 157.2 473.3 161.0 474.7 164.7 476.0 168.2 477.2 171.8 478.4 175.4 479.5 179.0 480.6 182.8 481.5 186.6 482.4 190.4 483.1 194.1 483.6 197.8 483.6 201.5 483.4 205.0 483.0 208.5 482.8 212.0 482.9 215.5 482.9 218.8 483.2 221.3 483.6 223.4 484.3 224.9 485.2 225.8 486.2 225.9 487.4 224.8 488.7 222.8 490.2 220.2 491.8 217.6 493.4 214.9 495.1 211.9 496.8 208.8 498.5 205.5 500.2 201.9 502.0 198.1 503.8 194.2 505.5 190.4 507.0 186.5 508.3 182.7 509.5 178.9 510.4 175.2 510.8 171.7 510.7 168.2 510.2 164.8 509.5 161.6 508.5 158.6 507.5 155.6 506.3 152.9 504.9 150.3 503.2 147.9 501.4 145.7 499.4 143.7 497.2 142.0 494.9 140.4 492.6 139.1 490.1 138.0 487.6 137.5 485.1 137.4 482.5 137.6 479.8 138.4 477.3 139.7 475.3M135.6 472.0L137.8 470.3 140.7 468.9 143.9 468.1 147.4 467.8 151.1 468.4 155.1 469.8 159.3 471.4 163.4 472.9 167.4 474.2 171.3 475.5 175.3 476.8 179.4 477.9 183.5 479.0 187.8 480.0 192.0 480.8 196.2 481.3 200.3 481.3 204.3 481.0 208.3 480.6 212.2 480.4 216.1 480.5 220.0 480.6 223.6 480.8 226.5 481.3 228.7 482.0 230.5 483.0 231.5 484.2 231.5 485.5 230.3 487.0 228.1 488.6 225.2 490.4 222.3 492.2 219.3 494.1 216.0 496.0 212.5 497.9 208.8 499.8 204.8 501.8 200.6 503.8 196.3 505.7 192.0 507.4 187.7 508.8 183.5 510.1 179.2 511.1 175.2 511.6 171.2 511.5 167.3 510.9 163.6 510.1 160.0 509.0 156.6 507.9 153.3 506.5 150.3 504.9 147.4 503.2 144.7 501.1 142.3 498.8 140.1 496.4 138.1 493.9 136.4 491.3 134.9 488.5 133.7 485.7 133.1 483.0 133.0 480.1 133.3 477.1 134.2 474.3 135.6 472.0M132.3 469.4L134.7 467.6 137.8 466.1 141.3 465.1 145.1 464.9 149.1 465.5 153.4 467.0 157.9 468.7 162.4 470.3 166.7 471.8 170.9 473.2 175.3 474.6 179.6 475.8 184.1 476.9 188.7 478.0 193.3 478.9 197.8 479.4 202.3 479.5 206.6 479.2 210.9 478.7 215.1 478.5 219.3 478.5 223.6 478.6 227.5 478.9 230.6 479.4 233.0 480.3 234.9 481.3 236.0 482.6 236.0 484.0 234.7 485.6 232.3 487.4 229.2 489.3 226.0 491.3 222.8 493.2 219.3 495.3 215.5 497.4 211.5 499.5 207.2 501.6 202.6 503.8 197.9 505.8 193.3 507.6 188.7 509.2 184.1 510.6 179.5 511.6 175.1 512.2 170.8 512.1 166.6 511.5 162.6 510.6 158.7 509.5 155.0 508.2 151.5 506.7 148.2 505.0 145.1 503.1 142.2 500.9 139.6 498.4 137.2 495.8 135.1 493.1 133.2 490.3 131.5 487.3 130.3 484.3 129.6 481.3 129.5 478.1 129.8 474.9 130.8 471.9 132.3 469.4M129.9 467.5L132.4 465.6 135.7 464.0 139.4 463.0 143.4 462.7 147.6 463.4 152.2 465.0 156.9 466.8 161.6 468.5 166.1 470.0 170.7 471.5 175.2 473.0 179.8 474.3 184.6 475.5 189.4 476.6 194.3 477.5 199.0 478.1 203.7 478.1 208.3 477.8 212.9 477.4 217.3 477.1 221.7 477.1 226.2 477.3 230.3 477.5 233.6 478.1 236.1 479.0 238.1 480.1 239.3 481.4 239.3 482.9 237.9 484.6 235.4 486.5 232.1 488.5 228.8 490.6 225.4 492.7 221.6 494.8 217.6 497.0 213.4 499.2 208.9 501.5 204.1 503.8 199.1 505.9 194.2 507.8 189.4 509.5 184.5 511.0 179.7 512.1 175.0 512.6 170.5 512.5 166.1 511.9 161.8 510.9 157.8 509.8 153.9 508.4 150.2 506.9 146.6 505.1 143.4 503.0 140.4 500.7 137.6 498.1 135.0 495.3 132.8 492.5 130.8 489.5 129.1 486.4 127.8 483.2 127.1 480.0 126.9 476.7 127.3 473.3 128.3 470.1 129.9 467.5M128.5 466.4L131.1 464.3 134.4 462.7 138.3 461.7 142.3 461.4 146.7 462.2 151.4 463.7 156.3 465.6 161.2 467.4 165.8 468.9 170.5 470.5 175.2 472.0 180.0 473.3 184.9 474.6 189.9 475.7 194.9 476.7 199.8 477.3 204.6 477.3 209.3 477.0 214.0 476.5 218.6 476.3 223.2 476.3 227.8 476.4 232.0 476.7 235.4 477.3 238.0 478.2 240.1 479.3 241.3 480.7 241.3 482.2 239.9 484.0 237.2 485.9 233.9 488.0 230.4 490.1 226.9 492.3 223.1 494.5 219.0 496.8 214.6 499.1 209.9 501.4 205.0 503.8 199.8 506.0 194.8 508.0 189.8 509.7 184.8 511.2 179.8 512.3 175.0 512.9 170.3 512.8 165.8 512.2 161.4 511.1 157.2 509.9 153.2 508.6 149.3 507.0 145.7 505.1 142.3 503.0 139.2 500.6 136.3 497.9 133.7 495.1 131.5 492.1 129.4 489.0 127.6 485.8 126.3 482.5 125.5 479.3 125.4 475.9 125.8 472.3 126.8 469.0 128.5 466.4M176 504.0L128.0 466.0M176 504.0L132.0 463.3M176 504.0L136.6 461.6M176 504.0L141.4 461.0M176 504.0L146.3 461.7M176 504.0L150.9 463.2M176 504.0L155.5 465.0M176 504.0L160.1 466.7M176 504.0L164.7 468.2M176 504.0L169.3 469.8M176 504.0L174.0 471.3M176 504.0L178.7 472.6M176 504.0L183.4 473.9M176 504.0L188.1 475.0M176 504.0L192.9 476.0M176 504.0L197.8 476.7M176 504.0L202.6 477.0M176 504.0L207.5 476.9M176 504.0L212.4 476.4M176 504.0L217.2 476.1M176 504.0L222.1 476.0M176 504.0L227.0 476.1M176 504.0L231.9 476.4M176 504.0L236.7 477.2M176 504.0L241.0 479.4M176 504.0L240.8 483.5M176 504.0L236.9 486.4M176 504.0L232.7 488.9M176 504.0L228.6 491.5M176 504.0L224.3 494.0M176 504.0L220.1 496.4M176 504.0L215.7 498.6M176 504.0L211.4 500.8M176 504.0L207.0 502.9M176 504.0L202.5 505.0M176 504.0L198.0 506.8M176 504.0L193.4 508.5M176 504.0L188.8 510.1M176 504.0L184.1 511.4M176 504.0L179.3 512.5M176 504.0L174.5 513.0M176 504.0L169.6 512.8M176 504.0L164.8 512.0M176 504.0L160.0 510.9M176 504.0L155.4 509.4M176 504.0L150.8 507.7M176 504.0L146.4 505.6M176 504.0L142.2 503.1M176 504.0L138.3 500.1M176 504.0L134.9 496.7M176 504.0L131.7 492.9M176 504.0L129.0 488.9M176 504.0L126.7 484.6M176 504.0L125.2 479.9M176 504.0L124.9 475.1M176 504.0L125.8 470.3" fill="none" stroke="#141400" stroke-width="0.9"/>
<ellipse cx="146" cy="499" rx="14" ry="10" fill="#000" filter="url(#bl4)"/>
<ellipse cx="220" cy="484" rx="20" ry="9" fill="#000" filter="url(#bl4)"/>
<ellipse cx="180" cy="514" rx="30" ry="5" fill="#000" opacity="0.6" filter="url(#bl4)"/>
</g>
<path d="M128.0 466.0C130.8 463.0 136.5 460.8 142.0 461.0C147.5 461.2 154.7 465.0 161.0 467.0C167.3 469.0 173.5 471.3 180.0 473.0C186.5 474.7 193.5 476.5 200.0 477.0C206.5 477.5 213.0 476.0 219.0 476.0C225.0 476.0 232.2 476.0 236.0 477.0C239.8 478.0 242.8 479.8 242.0 482.0C241.2 484.2 235.5 487.2 231.0 490.0C226.5 492.8 221.0 496.0 215.0 499.0C209.0 502.0 201.7 505.7 195.0 508.0C188.3 510.3 181.3 512.7 175.0 513.0C168.7 513.3 162.5 511.7 157.0 510.0C151.5 508.3 146.3 506.0 142.0 503.0C137.7 500.0 133.8 496.0 131.0 492.0C128.2 488.0 125.5 483.3 125.0 479.0C124.5 474.7 125.2 469.0 128.0 466.0Z" fill="none" stroke="#000" stroke-width="1.2" opacity="0.6"/>

<path d="M93.6 474.4C94.9 469.9 96.9 462.8 100.3 459.0C103.7 455.2 109.2 452.9 113.7 451.5C118.2 450.1 122.2 450.2 127.0 450.5C131.8 450.8 136.6 451.6 142.3 453.4C148.0 455.1 155.0 458.4 161.4 461.0C167.8 463.6 174.1 466.6 180.5 468.7C186.9 470.8 193.3 472.8 199.7 473.4C206.1 474.0 213.1 472.5 218.8 472.5C224.5 472.5 229.9 472.4 234.0 473.4C238.1 474.3 240.7 475.5 243.6 478.2C246.5 480.9 250.0 485.6 251.3 489.7C252.6 493.8 252.0 497.9 251.3 503.0C250.7 508.1 249.6 514.5 247.4 520.3C245.2 526.0 242.0 532.4 237.9 537.5C233.8 542.6 228.3 547.0 222.6 550.8C216.9 554.6 208.9 558.1 203.5 560.4C198.1 562.7 195.6 563.6 190.0 564.5C184.4 565.4 176.7 566.2 170.0 566.0C163.3 565.8 155.0 564.3 150.0 563.0C145.0 561.7 143.5 560.0 140.0 558.0C136.5 556.0 133.4 554.2 129.0 550.8C124.6 547.4 118.2 542.6 113.7 537.5C109.2 532.4 105.2 526.0 102.2 520.3C99.2 514.5 97.1 508.7 95.5 503.0C93.9 497.3 92.9 490.8 92.6 486.0C92.3 481.2 92.3 478.9 93.6 474.4Z" fill="none" stroke="#000" stroke-width="7" opacity="0.85" filter="url(#bl2)"/>
</g>
<path d="M93.6 474.4C94.9 469.9 96.9 462.8 100.3 459.0C103.7 455.2 109.2 452.9 113.7 451.5C118.2 450.1 122.2 450.2 127.0 450.5C131.8 450.8 136.6 451.6 142.3 453.4C148.0 455.1 155.0 458.4 161.4 461.0C167.8 463.6 174.1 466.6 180.5 468.7C186.9 470.8 193.3 472.8 199.7 473.4C206.1 474.0 213.1 472.5 218.8 472.5C224.5 472.5 229.9 472.4 234.0 473.4C238.1 474.3 240.7 475.5 243.6 478.2C246.5 480.9 250.0 485.6 251.3 489.7C252.6 493.8 252.0 497.9 251.3 503.0C250.7 508.1 249.6 514.5 247.4 520.3C245.2 526.0 242.0 532.4 237.9 537.5C233.8 542.6 228.3 547.0 222.6 550.8C216.9 554.6 208.9 558.1 203.5 560.4C198.1 562.7 195.6 563.6 190.0 564.5C184.4 565.4 176.7 566.2 170.0 566.0C163.3 565.8 155.0 564.3 150.0 563.0C145.0 561.7 143.5 560.0 140.0 558.0C136.5 556.0 133.4 554.2 129.0 550.8C124.6 547.4 118.2 542.6 113.7 537.5C109.2 532.4 105.2 526.0 102.2 520.3C99.2 514.5 97.1 508.7 95.5 503.0C93.9 497.3 92.9 490.8 92.6 486.0C92.3 481.2 92.3 478.9 93.6 474.4Z" fill="none" stroke="#000" stroke-width="1.6"/>
<clipPath id="c1b"><path d="M134.7 567.2C129.6 569.7 124.2 574.6 119.4 578.7C114.6 582.8 109.8 586.9 106.0 592.0C102.2 597.1 98.6 603.5 96.5 609.2C94.4 614.9 93.6 620.7 93.6 626.4C93.6 632.1 94.4 639.1 96.5 643.6C98.6 648.1 101.5 651.3 106.0 653.2C110.5 655.1 117.2 654.4 123.2 655.0C129.2 655.6 135.9 656.0 142.3 657.0C148.7 658.0 155.0 658.9 161.4 660.8C167.8 662.7 174.1 666.3 180.5 668.5C186.9 670.7 193.3 672.9 199.7 674.2C206.1 675.5 212.4 676.4 218.8 676.1C225.2 675.8 233.1 674.5 237.9 672.3C242.7 670.1 245.2 667.2 247.4 662.7C249.6 658.2 251.0 651.5 251.3 645.5C251.6 639.5 250.6 632.1 249.3 626.4C248.0 620.7 246.2 616.0 243.6 611.2C241.0 606.4 238.1 602.6 234.0 597.8C229.9 593.0 223.9 587.3 218.8 582.5C213.7 577.7 208.3 572.2 203.5 569.1C198.7 566.0 195.6 565.0 190.0 564.0C184.4 563.0 176.7 563.0 170.0 563.0C163.3 563.0 155.9 563.3 150.0 564.0C144.1 564.7 139.8 564.8 134.7 567.2Z"/></clipPath>
<g clip-path="url(#c1b)">
<path d="M134.7 567.2C129.6 569.7 124.2 574.6 119.4 578.7C114.6 582.8 109.8 586.9 106.0 592.0C102.2 597.1 98.6 603.5 96.5 609.2C94.4 614.9 93.6 620.7 93.6 626.4C93.6 632.1 94.4 639.1 96.5 643.6C98.6 648.1 101.5 651.3 106.0 653.2C110.5 655.1 117.2 654.4 123.2 655.0C129.2 655.6 135.9 656.0 142.3 657.0C148.7 658.0 155.0 658.9 161.4 660.8C167.8 662.7 174.1 666.3 180.5 668.5C186.9 670.7 193.3 672.9 199.7 674.2C206.1 675.5 212.4 676.4 218.8 676.1C225.2 675.8 233.1 674.5 237.9 672.3C242.7 670.1 245.2 667.2 247.4 662.7C249.6 658.2 251.0 651.5 251.3 645.5C251.6 639.5 250.6 632.1 249.3 626.4C248.0 620.7 246.2 616.0 243.6 611.2C241.0 606.4 238.1 602.6 234.0 597.8C229.9 593.0 223.9 587.3 218.8 582.5C213.7 577.7 208.3 572.2 203.5 569.1C198.7 566.0 195.6 565.0 190.0 564.0C184.4 563.0 176.7 563.0 170.0 563.0C163.3 563.0 155.9 563.3 150.0 564.0C144.1 564.7 139.8 564.8 134.7 567.2Z" fill="#eef034"/>
<ellipse cx="174" cy="597" rx="34" ry="24" fill="#e0e0d0" opacity="0.8" filter="url(#bl4)"/>
<path d="M169.1 563.2L168.9 563.3 168.7 563.5 168.5 563.7 168.3 563.8 168.1 564.0 167.9 564.2 167.8 564.3 167.6 564.5 167.5 564.7 167.3 565.0 167.2 565.2 167.1 565.4 167.0 565.6 167.0 565.9 167.0 566.1 166.9 566.3 167.0 566.6 167.0 566.8 167.0 567.0 167.1 567.2 167.2 567.4 167.3 567.5 167.4 567.6 167.6 567.7 167.8 567.8 168.0 567.8 168.3 567.8 168.5 567.8 168.7 567.8 169.0 567.9 169.2 567.9 169.5 567.9 169.7 568.0 170.0 568.0 170.2 568.1 170.5 568.1 170.7 568.2 171.0 568.3 171.2 568.4 171.5 568.5 171.7 568.6 172.0 568.7 172.3 568.8 172.5 568.8 172.8 568.9 173.0 568.9 173.3 568.9 173.5 568.9 173.8 568.9 174.0 568.9 174.3 568.8 174.5 568.7 174.7 568.6 174.8 568.5 174.9 568.4 175.0 568.2 175.1 568.0 175.1 567.8 175.2 567.6 175.2 567.3 175.2 567.1 175.2 566.8 175.1 566.6 175.1 566.3 175.0 566.1 175.0 565.9 174.9 565.7 174.8 565.5 174.7 565.3 174.6 565.2 174.4 565.0 174.3 564.8 174.1 564.6 173.9 564.4 173.7 564.2 173.5 564.0 173.3 563.8 173.1 563.6 172.9 563.5 172.7 563.3 172.5 563.2 172.4 563.1 172.2 563.1 172.0 563.1 171.8 563.0 171.5 563.0 171.2 563.0 170.9 563.0 170.7 563.0 170.4 563.0 170.1 563.0 169.9 563.1 169.7 563.1 169.5 563.1 169.3 563.1 169.1 563.2M167.2 563.4L166.8 563.7 166.4 564.0 166.0 564.3 165.6 564.6 165.2 565.0 164.9 565.3 164.5 565.7 164.2 566.0 163.9 566.5 163.6 566.9 163.4 567.4 163.2 567.8 163.1 568.3 163.0 568.7 162.9 569.2 162.9 569.6 162.9 570.1 163.0 570.6 163.1 571.0 163.2 571.4 163.4 571.8 163.6 572.0 163.9 572.3 164.2 572.4 164.6 572.5 165.0 572.6 165.5 572.6 166.0 572.6 166.5 572.7 167.0 572.7 167.5 572.8 168.0 572.8 168.5 572.9 169.0 573.0 169.5 573.1 170.0 573.2 170.5 573.4 171.0 573.6 171.5 573.8 172.0 574.0 172.5 574.2 173.0 574.4 173.5 574.5 174.0 574.6 174.5 574.7 175.0 574.8 175.5 574.8 176.0 574.8 176.5 574.8 177.1 574.7 177.6 574.6 178.0 574.4 178.3 574.2 178.6 574.0 178.8 573.7 179.0 573.4 179.1 573.0 179.3 572.6 179.3 572.1 179.4 571.6 179.4 571.1 179.4 570.6 179.3 570.1 179.2 569.6 179.1 569.2 178.9 568.8 178.8 568.4 178.6 568.0 178.4 567.7 178.1 567.3 177.9 567.0 177.6 566.6 177.2 566.2 176.8 565.8 176.4 565.4 176.0 565.0 175.6 564.7 175.2 564.3 174.8 563.9 174.4 563.6 174.0 563.4 173.7 563.3 173.4 563.2 173.0 563.1 172.5 563.0 172.0 563.0 171.4 563.0 170.9 563.0 170.4 563.0 169.8 563.0 169.3 563.1 168.8 563.1 168.4 563.2 168.0 563.2 167.6 563.3 167.2 563.4M165.3 563.7L164.7 564.0 164.1 564.5 163.5 565.0 162.9 565.5 162.4 565.9 161.8 566.4 161.3 567.0 160.8 567.5 160.4 568.2 160.0 568.8 159.6 569.5 159.3 570.2 159.1 570.9 159.0 571.6 158.9 572.2 158.9 572.9 158.9 573.6 159.0 574.3 159.1 575.0 159.3 575.6 159.6 576.1 159.9 576.5 160.4 576.8 160.8 577.1 161.4 577.3 162.1 577.3 162.8 577.3 163.5 577.4 164.2 577.5 165.0 577.5 165.8 577.6 166.5 577.7 167.3 577.8 168.0 577.9 168.8 578.1 169.5 578.3 170.2 578.6 171.0 578.9 171.7 579.2 172.5 579.5 173.2 579.8 174.0 580.0 174.7 580.2 175.5 580.4 176.2 580.5 177.0 580.6 177.7 580.7 178.5 580.7 179.3 580.6 180.1 580.5 180.8 580.3 181.5 580.1 182.0 579.8 182.4 579.5 182.7 579.1 183.0 578.6 183.2 578.0 183.4 577.3 183.5 576.6 183.6 575.9 183.6 575.2 183.5 574.4 183.4 573.6 183.2 572.9 183.1 572.3 182.9 571.7 182.6 571.1 182.4 570.5 182.0 570.0 181.7 569.5 181.3 569.0 180.9 568.4 180.3 567.9 179.7 567.2 179.1 566.6 178.5 566.1 177.9 565.5 177.3 564.9 176.7 564.4 176.1 564.0 175.6 563.6 175.1 563.4 174.6 563.3 174.0 563.2 173.3 563.1 172.5 563.0 171.6 563.0 170.8 563.0 170.0 563.0 169.2 563.0 168.4 563.1 167.7 563.2 167.1 563.2 166.5 563.3 165.9 563.4 165.3 563.7M163.5 563.9L162.6 564.3 161.8 564.9 161.0 565.6 160.3 566.3 159.5 566.9 158.8 567.6 158.1 568.3 157.5 569.0 156.9 569.9 156.4 570.8 155.9 571.7 155.5 572.6 155.2 573.5 155.0 574.4 154.9 575.3 154.9 576.2 154.9 577.1 155.0 578.1 155.2 579.0 155.5 579.8 155.9 580.4 156.3 581.0 156.8 581.4 157.5 581.8 158.3 582.0 159.1 582.0 160.1 582.1 161.1 582.1 162.0 582.2 163.0 582.3 164.0 582.4 165.0 582.5 166.0 582.7 167.0 582.9 168.0 583.1 169.0 583.3 170.0 583.7 171.0 584.1 172.0 584.5 173.0 584.9 174.0 585.3 175.0 585.6 176.0 585.9 177.0 586.1 178.0 586.3 179.0 586.4 179.9 586.5 180.9 586.5 182.0 586.4 183.0 586.3 184.1 586.0 184.9 585.7 185.6 585.3 186.1 584.9 186.5 584.4 186.9 583.7 187.2 583.0 187.4 582.1 187.6 581.1 187.7 580.2 187.7 579.2 187.6 578.1 187.5 577.1 187.3 576.2 187.1 575.3 186.8 574.5 186.5 573.8 186.1 573.0 185.7 572.3 185.2 571.6 184.7 571.0 184.1 570.2 183.4 569.5 182.6 568.6 181.8 567.8 180.9 567.1 180.1 566.3 179.3 565.5 178.5 564.8 177.8 564.3 177.1 563.9 176.4 563.6 175.7 563.4 175.0 563.2 174.0 563.1 173.0 563.0 171.9 563.0 170.8 563.0 169.7 563.0 168.7 563.0 167.6 563.1 166.6 563.2 165.8 563.3 165.0 563.4 164.2 563.6 163.5 563.9M161.6 564.1L160.6 564.7 159.6 565.4 158.6 566.2 157.6 567.1 156.7 567.9 155.8 568.7 155.0 569.6 154.2 570.5 153.5 571.5 152.8 572.7 152.2 573.8 151.7 575.0 151.4 576.1 151.1 577.2 151.0 578.3 151.0 579.4 151.0 580.6 151.1 581.8 151.4 582.9 151.7 583.9 152.2 584.7 152.7 585.4 153.4 585.9 154.2 586.3 155.1 586.6 156.2 586.7 157.4 586.7 158.6 586.8 159.8 586.9 161.1 587.0 162.3 587.2 163.6 587.3 164.8 587.5 166.0 587.7 167.3 588.0 168.5 588.3 169.8 588.8 171.0 589.3 172.2 589.8 173.5 590.3 174.7 590.7 175.9 591.1 177.2 591.5 178.4 591.8 179.7 592.0 180.9 592.2 182.1 592.3 183.4 592.3 184.7 592.2 186.0 592.0 187.3 591.7 188.3 591.3 189.1 590.8 189.8 590.3 190.3 589.6 190.8 588.8 191.2 587.8 191.5 586.7 191.7 585.5 191.8 584.4 191.8 583.1 191.7 581.8 191.5 580.6 191.3 579.4 191.0 578.3 190.7 577.3 190.3 576.4 189.8 575.5 189.3 574.6 188.7 573.7 188.1 572.9 187.3 572.0 186.4 571.0 185.4 570.0 184.4 569.0 183.4 568.0 182.4 567.1 181.4 566.1 180.4 565.3 179.4 564.6 178.5 564.1 177.7 563.7 176.9 563.5 175.9 563.3 174.7 563.1 173.4 563.0 172.1 563.0 170.7 563.0 169.4 563.0 168.1 563.1 166.8 563.1 165.6 563.3 164.5 563.4 163.5 563.5 162.6 563.7 161.6 564.1M159.8 564.3L158.6 565.0 157.4 565.9 156.2 566.9 155.1 567.9 153.9 568.8 152.9 569.8 151.9 570.8 150.9 572.0 150.0 573.2 149.2 574.5 148.5 575.9 148.0 577.3 147.6 578.6 147.3 579.9 147.1 581.3 147.1 582.6 147.1 584.0 147.3 585.4 147.6 586.7 148.0 587.9 148.5 588.9 149.2 589.7 150.0 590.4 150.9 590.9 152.1 591.2 153.4 591.3 154.8 591.3 156.2 591.4 157.7 591.6 159.1 591.7 160.6 591.9 162.1 592.0 163.6 592.3 165.1 592.5 166.6 592.8 168.0 593.2 169.5 593.7 171.0 594.4 172.5 595.0 173.9 595.6 175.4 596.1 176.9 596.6 178.4 597.0 179.9 597.4 181.3 597.6 182.8 597.8 184.3 598.0 185.8 597.9 187.3 597.8 188.9 597.6 190.4 597.2 191.7 596.8 192.7 596.2 193.4 595.6 194.1 594.8 194.6 593.8 195.1 592.7 195.4 591.3 195.7 589.9 195.8 588.5 195.8 587.0 195.7 585.5 195.5 584.0 195.2 582.6 194.9 581.3 194.5 580.1 194.0 579.0 193.4 577.9 192.8 576.8 192.1 575.8 191.4 574.8 190.5 573.8 189.4 572.6 188.2 571.4 187.0 570.2 185.8 569.0 184.6 567.9 183.4 566.8 182.2 565.7 181.0 564.9 180.0 564.3 179.0 563.9 178.0 563.6 176.9 563.3 175.5 563.1 173.9 563.0 172.3 563.0 170.7 563.0 169.1 563.0 167.5 563.1 166.0 563.2 164.5 563.3 163.2 563.4 162.1 563.6 160.9 563.9 159.8 564.3M158 564.5L156.6 565.3 155.2 566.3 153.8 567.5 152.5 568.6 151.2 569.7 150.0 570.9 148.8 572.1 147.7 573.4 146.7 574.8 145.8 576.4 145.0 578.0 144.3 579.6 143.8 581.1 143.5 582.6 143.3 584.2 143.3 585.7 143.3 587.3 143.5 589.0 143.8 590.5 144.3 591.9 144.9 593.0 145.7 593.9 146.6 594.7 147.7 595.3 149.0 595.7 150.6 595.8 152.2 595.9 153.9 596.0 155.5 596.1 157.2 596.3 159.0 596.5 160.7 596.7 162.4 596.9 164.1 597.2 165.8 597.6 167.6 598.0 169.3 598.7 171.0 599.4 172.7 600.1 174.4 600.8 176.1 601.4 177.8 602.0 179.6 602.5 181.3 602.9 183.0 603.2 184.7 603.4 186.4 603.5 188.1 603.5 189.9 603.4 191.8 603.1 193.5 602.7 195.0 602.2 196.1 601.5 197.0 600.7 197.7 599.8 198.4 598.7 198.9 597.4 199.3 595.9 199.6 594.2 199.8 592.6 199.8 590.9 199.6 589.1 199.4 587.3 199.1 585.7 198.7 584.2 198.2 582.9 197.7 581.6 197.0 580.3 196.3 579.0 195.5 577.9 194.6 576.7 193.6 575.5 192.4 574.1 191.0 572.7 189.5 571.3 188.1 570.0 186.7 568.7 185.4 567.4 184.0 566.2 182.6 565.2 181.4 564.5 180.3 564.0 179.2 563.6 177.8 563.4 176.2 563.1 174.4 563.0 172.5 563.0 170.6 563.0 168.8 563.0 167.0 563.1 165.1 563.2 163.5 563.4 162.0 563.5 160.6 563.7 159.3 564.0 158.0 564.5M156.2 564.7L154.7 565.6 153.1 566.8 151.5 568.1 150.0 569.4 148.6 570.6 147.1 571.9 145.8 573.3 144.6 574.8 143.4 576.4 142.4 578.2 141.4 580.0 140.7 581.8 140.2 583.5 139.8 585.3 139.6 587.0 139.5 588.8 139.6 590.6 139.8 592.5 140.2 594.3 140.7 595.8 141.4 597.1 142.3 598.1 143.3 599.0 144.6 599.7 146.1 600.1 147.8 600.2 149.7 600.3 151.6 600.4 153.4 600.6 155.4 600.8 157.4 601.0 159.3 601.2 161.3 601.5 163.2 601.9 165.2 602.3 167.1 602.8 169.0 603.5 171.0 604.3 172.9 605.1 174.9 605.9 176.8 606.6 178.8 607.2 180.7 607.8 182.7 608.2 184.6 608.6 186.6 608.9 188.5 609.0 190.4 609.0 192.5 608.8 194.6 608.5 196.5 608.1 198.2 607.5 199.5 606.7 200.5 605.8 201.4 604.8 202.1 603.6 202.7 602.0 203.2 600.3 203.5 598.4 203.7 596.6 203.7 594.6 203.5 592.6 203.2 590.6 202.8 588.8 202.4 587.1 201.9 585.6 201.3 584.1 200.5 582.6 199.7 581.2 198.8 579.9 197.8 578.6 196.6 577.2 195.2 575.6 193.7 574.0 192.0 572.5 190.4 570.9 188.9 569.4 187.3 567.9 185.7 566.6 184.2 565.5 182.9 564.7 181.6 564.1 180.3 563.7 178.7 563.4 176.9 563.2 174.8 563.0 172.7 563.0 170.6 563.0 168.5 563.0 166.4 563.1 164.4 563.2 162.5 563.4 160.8 563.6 159.2 563.8 157.7 564.1 156.2 564.7M154.5 564.9L152.8 565.9 151.0 567.2 149.2 568.7 147.6 570.1 146.0 571.5 144.4 573.0 142.9 574.5 141.5 576.2 140.2 578.0 139.0 580.0 138.0 582.0 137.2 584.0 136.6 585.9 136.2 587.9 135.9 589.8 135.9 591.8 135.9 593.8 136.2 595.9 136.6 597.9 137.2 599.6 138.0 601.0 138.9 602.2 140.1 603.2 141.5 603.9 143.2 604.4 145.1 604.6 147.2 604.6 149.3 604.8 151.4 605.0 153.6 605.2 155.8 605.4 158.0 605.7 160.1 606.0 162.3 606.4 164.5 606.8 166.6 607.4 168.8 608.2 171.0 609.1 173.1 610.0 175.3 610.9 177.5 611.6 179.7 612.4 181.9 613.0 184.0 613.5 186.2 613.9 188.4 614.2 190.5 614.4 192.7 614.3 195.0 614.2 197.3 613.8 199.5 613.3 201.4 612.6 202.8 611.8 204.0 610.8 204.9 609.7 205.7 608.3 206.4 606.6 206.9 604.6 207.3 602.5 207.5 600.5 207.5 598.3 207.3 596.1 207.0 593.8 206.5 591.8 206.1 589.9 205.5 588.2 204.8 586.5 204.0 584.9 203.1 583.3 202.1 581.8 200.9 580.4 199.6 578.8 198.1 577.1 196.3 575.3 194.5 573.5 192.7 571.9 190.9 570.2 189.2 568.5 187.4 567.0 185.8 565.8 184.2 564.9 182.8 564.3 181.3 563.8 179.6 563.5 177.6 563.2 175.3 563.1 172.9 563.0 170.5 563.0 168.2 563.0 165.9 563.1 163.6 563.2 161.5 563.5 159.6 563.7 157.9 563.9 156.2 564.3 154.5 564.9M152.8 565.1L150.9 566.2 149.0 567.7 147.0 569.3 145.2 570.9 143.4 572.4 141.7 574.0 140.0 575.7 138.5 577.5 137.1 579.5 135.8 581.7 134.7 583.9 133.8 586.1 133.1 588.2 132.6 590.4 132.4 592.5 132.3 594.7 132.4 596.9 132.6 599.2 133.1 601.4 133.8 603.3 134.6 604.9 135.7 606.2 137.0 607.3 138.5 608.1 140.4 608.6 142.5 608.8 144.8 608.9 147.1 609.0 149.4 609.2 151.8 609.4 154.2 609.7 156.7 610.0 159.0 610.4 161.4 610.8 163.8 611.3 166.2 611.9 168.6 612.7 171.0 613.8 173.4 614.8 175.8 615.8 178.1 616.6 180.5 617.4 183.0 618.0 185.3 618.6 187.7 619.0 190.1 619.4 192.5 619.6 194.9 619.5 197.4 619.3 200.0 619.0 202.4 618.4 204.4 617.6 206.0 616.7 207.3 615.7 208.3 614.4 209.2 612.9 210.0 611.0 210.5 608.8 210.9 606.6 211.2 604.2 211.2 601.9 210.9 599.4 210.6 597.0 210.2 594.7 209.6 592.6 209.0 590.7 208.2 588.9 207.3 587.1 206.3 585.4 205.2 583.8 203.9 582.1 202.5 580.4 200.8 578.5 198.9 576.6 196.9 574.6 194.9 572.8 193.0 570.9 191.0 569.1 189.1 567.4 187.2 566.0 185.6 565.1 184.0 564.4 182.4 563.9 180.5 563.5 178.2 563.2 175.7 563.1 173.1 563.0 170.5 563.0 167.9 563.0 165.4 563.1 162.8 563.3 160.5 563.5 158.4 563.7 156.5 564.0 154.7 564.4 152.8 565.1M151.2 565.3L149.1 566.5 147.0 568.1 144.9 569.8 142.9 571.6 140.9 573.2 139.1 575.0 137.2 576.8 135.6 578.8 134.1 581.0 132.7 583.3 131.4 585.8 130.4 588.2 129.7 590.5 129.2 592.8 128.9 595.2 128.8 597.5 128.9 600.0 129.2 602.5 129.7 604.8 130.4 606.9 131.4 608.6 132.5 610.0 133.9 611.2 135.6 612.1 137.6 612.7 140.0 612.9 142.5 613.0 145.0 613.1 147.5 613.3 150.1 613.6 152.7 613.9 155.4 614.2 158.0 614.6 160.6 615.0 163.2 615.6 165.8 616.3 168.4 617.2 171.0 618.3 173.6 619.4 176.2 620.5 178.8 621.4 181.4 622.2 184.0 623.0 186.6 623.6 189.2 624.0 191.8 624.4 194.4 624.6 197.0 624.6 199.8 624.4 202.6 624.0 205.2 623.3 207.4 622.5 209.2 621.5 210.5 620.4 211.7 619.0 212.6 617.3 213.4 615.3 214.1 612.9 214.5 610.4 214.7 607.9 214.7 605.4 214.5 602.7 214.1 600.0 213.6 597.5 213.1 595.3 212.4 593.2 211.5 591.2 210.5 589.3 209.5 587.4 208.2 585.6 206.9 583.8 205.3 582.0 203.5 579.9 201.4 577.8 199.2 575.7 197.0 573.6 194.9 571.6 192.8 569.6 190.7 567.8 188.7 566.3 186.9 565.3 185.2 564.5 183.4 564.0 181.3 563.5 178.9 563.2 176.1 563.1 173.3 563.0 170.5 563.0 167.7 563.0 164.8 563.1 162.1 563.3 159.6 563.5 157.3 563.8 155.2 564.1 153.3 564.5 151.2 565.3M149.7 565.5L147.4 566.8 145.1 568.5 142.8 570.3 140.7 572.2 138.6 574.1 136.5 575.9 134.6 577.9 132.8 580.0 131.1 582.4 129.6 585.0 128.3 587.6 127.2 590.2 126.4 592.7 125.9 595.2 125.6 597.7 125.5 600.3 125.6 602.9 125.9 605.6 126.4 608.2 127.2 610.4 128.2 612.2 129.5 613.8 131.0 615.0 132.8 616.0 135.0 616.6 137.5 616.8 140.2 616.9 142.9 617.1 145.6 617.3 148.4 617.6 151.3 617.9 154.1 618.3 156.9 618.7 159.7 619.2 162.6 619.7 165.4 620.5 168.2 621.5 171.0 622.7 173.8 623.9 176.6 625.0 179.4 626.0 182.2 626.9 185.1 627.7 187.9 628.4 190.7 628.9 193.5 629.3 196.3 629.5 199.1 629.5 202.0 629.2 205.1 628.8 207.9 628.1 210.3 627.2 212.2 626.2 213.7 624.9 214.9 623.4 215.9 621.6 216.8 619.4 217.5 616.9 217.9 614.2 218.2 611.5 218.2 608.7 218.0 605.8 217.6 602.9 217.0 600.3 216.4 597.8 215.6 595.6 214.7 593.4 213.7 591.3 212.5 589.3 211.2 587.4 209.7 585.5 208.0 583.5 206.0 581.3 203.8 579.0 201.4 576.7 199.1 574.5 196.8 572.3 194.5 570.1 192.3 568.2 190.1 566.6 188.1 565.4 186.3 564.6 184.4 564.1 182.2 563.6 179.5 563.2 176.5 563.1 173.4 563.0 170.4 563.0 167.4 563.0 164.4 563.1 161.4 563.3 158.7 563.6 156.2 563.9 154.0 564.1 151.8 564.6 149.7 565.5M148.2 565.6L145.7 567.1 143.3 568.9 140.9 570.9 138.5 572.9 136.3 574.8 134.1 576.8 132.0 579.0 130.1 581.3 128.3 583.8 126.7 586.5 125.3 589.3 124.1 592.1 123.3 594.8 122.7 597.5 122.4 600.2 122.3 602.9 122.4 605.7 122.7 608.6 123.3 611.4 124.1 613.7 125.2 615.7 126.5 617.3 128.2 618.7 130.1 619.8 132.4 620.4 135.1 620.6 138.0 620.7 140.9 620.9 143.8 621.2 146.9 621.4 149.9 621.8 152.9 622.2 155.9 622.6 158.9 623.1 162.0 623.8 165.0 624.5 168.0 625.6 171.0 626.9 174.0 628.2 177.0 629.4 180.0 630.4 183.0 631.4 186.0 632.3 189.1 633.0 192.1 633.5 195.1 634.0 198.1 634.2 201.1 634.2 204.2 633.9 207.5 633.4 210.5 632.7 213.1 631.8 215.1 630.6 216.7 629.3 218.0 627.7 219.1 625.7 220.0 623.4 220.8 620.7 221.3 617.8 221.5 614.9 221.5 611.9 221.3 608.8 220.8 605.8 220.3 602.9 219.6 600.3 218.8 597.9 217.8 595.6 216.7 593.3 215.4 591.2 214.0 589.1 212.5 587.1 210.6 584.9 208.5 582.5 206.1 580.1 203.6 577.6 201.1 575.3 198.7 573.0 196.2 570.7 193.8 568.6 191.5 566.8 189.3 565.6 187.4 564.7 185.3 564.1 183.0 563.6 180.1 563.3 176.9 563.1 173.6 563.0 170.4 563.0 167.2 563.0 163.9 563.1 160.7 563.3 157.8 563.6 155.2 563.9 152.8 564.2 150.5 564.7 148.2 565.6M146.7 565.8L144.1 567.3 141.5 569.2 138.9 571.4 136.5 573.5 134.1 575.6 131.7 577.7 129.5 580.0 127.5 582.4 125.6 585.1 123.9 588.0 122.4 591.0 121.1 593.9 120.3 596.8 119.7 599.7 119.3 602.5 119.2 605.4 119.3 608.4 119.7 611.5 120.3 614.4 121.1 616.9 122.3 619.0 123.7 620.8 125.5 622.2 127.5 623.4 130.0 624.0 132.9 624.3 135.9 624.4 139.0 624.6 142.1 624.9 145.3 625.1 148.6 625.5 151.8 625.9 155.0 626.4 158.2 626.9 161.4 627.6 164.6 628.4 167.8 629.6 171.0 630.9 174.2 632.3 177.4 633.6 180.6 634.7 183.8 635.7 187.0 636.7 190.2 637.4 193.4 638.0 196.6 638.4 199.8 638.7 203.0 638.7 206.3 638.4 209.8 637.9 213.0 637.1 215.8 636.1 217.9 634.9 219.6 633.5 220.9 631.8 222.1 629.7 223.1 627.2 223.9 624.4 224.4 621.3 224.7 618.2 224.7 615.0 224.5 611.7 224.0 608.5 223.4 605.4 222.7 602.7 221.8 600.1 220.8 597.6 219.6 595.3 218.2 593.0 216.8 590.8 215.1 588.6 213.2 586.3 210.9 583.8 208.3 581.2 205.6 578.5 203.0 576.0 200.4 573.6 197.8 571.1 195.2 568.9 192.7 567.1 190.5 565.8 188.4 564.9 186.2 564.2 183.7 563.7 180.7 563.3 177.3 563.1 173.8 563.0 170.3 563.0 166.9 563.0 163.4 563.2 160.1 563.4 156.9 563.7 154.2 564.0 151.6 564.3 149.2 564.9 146.7 565.8M145.3 566.0L142.6 567.6 139.8 569.6 137.1 571.8 134.5 574.1 132.0 576.3 129.5 578.6 127.2 580.9 125.0 583.5 123.1 586.4 121.2 589.4 119.6 592.6 118.3 595.7 117.4 598.7 116.7 601.7 116.4 604.8 116.3 607.8 116.4 611.0 116.7 614.2 117.4 617.3 118.3 620.0 119.5 622.2 121.0 624.1 122.9 625.6 125.0 626.8 127.7 627.5 130.7 627.8 133.9 627.9 137.2 628.1 140.5 628.4 143.9 628.7 147.3 629.0 150.7 629.5 154.1 630.0 157.5 630.6 160.8 631.3 164.2 632.2 167.6 633.4 171.0 634.8 174.3 636.3 177.7 637.6 181.1 638.8 184.5 639.9 187.9 640.8 191.3 641.6 194.7 642.2 198.1 642.7 201.4 643.0 204.8 643.0 208.3 642.7 212.0 642.1 215.4 641.3 218.3 640.3 220.6 639.0 222.3 637.5 223.8 635.7 225.0 633.5 226.1 630.9 226.9 627.8 227.5 624.6 227.8 621.3 227.8 618.0 227.5 614.5 227.0 611.0 226.4 607.8 225.6 604.9 224.7 602.2 223.6 599.6 222.3 597.1 220.9 594.7 219.4 592.3 217.6 590.0 215.5 587.6 213.1 585.0 210.4 582.2 207.6 579.4 204.8 576.8 202.1 574.2 199.3 571.6 196.6 569.2 194.0 567.3 191.6 565.9 189.4 565.0 187.1 564.3 184.4 563.7 181.2 563.3 177.7 563.1 173.9 563.0 170.3 563.0 166.7 563.0 163.0 563.2 159.5 563.4 156.2 563.7 153.2 564.0 150.5 564.4 148.0 565.0 145.3 566.0M144 566.1L141.1 567.8 138.3 569.9 135.4 572.3 132.7 574.7 130.0 577.0 127.4 579.3 124.9 581.8 122.7 584.6 120.6 587.5 118.7 590.8 117.0 594.1 115.6 597.3 114.7 600.5 114.0 603.7 113.6 606.9 113.5 610.1 113.6 613.4 114.0 616.9 114.7 620.1 115.6 622.9 116.9 625.2 118.5 627.2 120.4 628.8 122.7 630.0 125.5 630.8 128.6 631.1 132.0 631.2 135.5 631.4 138.9 631.7 142.5 632.0 146.1 632.4 149.7 632.9 153.2 633.4 156.8 634.0 160.3 634.7 163.9 635.7 167.4 636.9 171.0 638.5 174.5 640.0 178.1 641.4 181.6 642.6 185.2 643.8 188.8 644.8 192.3 645.6 195.9 646.3 199.4 646.8 203.0 647.1 206.5 647.0 210.2 646.7 214.1 646.2 217.7 645.3 220.7 644.2 223.1 642.9 225.0 641.3 226.5 639.4 227.8 637.1 228.9 634.3 229.8 631.1 230.4 627.7 230.7 624.3 230.7 620.8 230.4 617.1 229.9 613.5 229.2 610.1 228.4 607.1 227.4 604.2 226.3 601.5 225.0 598.8 223.5 596.3 221.8 593.8 220.0 591.4 217.8 588.9 215.3 586.1 212.4 583.2 209.4 580.3 206.5 577.5 203.7 574.8 200.8 572.0 197.9 569.6 195.2 567.5 192.7 566.1 190.4 565.1 187.9 564.3 185.1 563.7 181.7 563.3 178.0 563.1 174.1 563.0 170.3 563.0 166.5 563.0 162.6 563.2 158.9 563.4 155.4 563.7 152.3 564.1 149.5 564.4 146.8 565.1 144.0 566.1M142.8 566.3L139.8 568.0 136.8 570.2 133.8 572.7 130.9 575.2 128.1 577.6 125.4 580.1 122.8 582.7 120.5 585.5 118.3 588.7 116.3 592.0 114.5 595.5 113.1 598.9 112.1 602.2 111.4 605.6 111.0 608.9 110.8 612.3 111.0 615.8 111.4 619.3 112.1 622.7 113.1 625.6 114.4 628.1 116.1 630.1 118.1 631.8 120.5 633.1 123.4 633.9 126.7 634.2 130.3 634.3 133.9 634.5 137.5 634.8 141.2 635.2 145.0 635.6 148.7 636.1 152.4 636.6 156.1 637.3 159.8 638.0 163.5 639.0 167.2 640.3 171.0 641.9 174.7 643.5 178.4 645.0 182.1 646.3 185.8 647.5 189.6 648.6 193.3 649.4 197.0 650.1 200.7 650.6 204.4 650.9 208.1 650.9 212.0 650.6 216.0 650.0 219.8 649.1 223.0 647.9 225.5 646.5 227.4 644.9 229.0 642.9 230.4 640.5 231.5 637.6 232.4 634.3 233.1 630.7 233.4 627.1 233.4 623.4 233.1 619.6 232.5 615.8 231.9 612.3 231.0 609.1 230.0 606.1 228.8 603.2 227.4 600.5 225.9 597.8 224.2 595.3 222.2 592.7 220.0 590.0 217.3 587.1 214.3 584.1 211.2 581.1 208.1 578.2 205.1 575.3 202.1 572.5 199.1 569.9 196.3 567.7 193.7 566.2 191.2 565.2 188.7 564.4 185.8 563.8 182.2 563.3 178.3 563.1 174.2 563.0 170.2 563.0 166.3 563.0 162.2 563.2 158.3 563.4 154.7 563.8 151.5 564.1 148.5 564.5 145.7 565.1 142.8 566.3M141.6 566.4L138.5 568.2 135.3 570.5 132.2 573.1 129.3 575.7 126.4 578.2 123.5 580.8 120.9 583.5 118.4 586.5 116.1 589.7 114.0 593.2 112.2 596.8 110.7 600.4 109.7 603.9 108.9 607.3 108.5 610.8 108.4 614.3 108.5 617.9 108.9 621.6 109.7 625.2 110.7 628.2 112.1 630.7 113.8 632.9 115.9 634.6 118.4 636.0 121.4 636.8 124.9 637.1 128.6 637.2 132.3 637.4 136.1 637.8 140.0 638.1 143.9 638.5 147.8 639.0 151.6 639.6 155.5 640.3 159.4 641.1 163.2 642.1 167.1 643.5 171.0 645.1 174.8 646.8 178.7 648.4 182.6 649.7 186.5 651.0 190.3 652.1 194.2 653.0 198.1 653.7 201.9 654.2 205.8 654.5 209.7 654.5 213.7 654.2 217.9 653.5 221.8 652.6 225.1 651.4 227.7 650.0 229.7 648.2 231.4 646.1 232.8 643.7 234.0 640.6 235.0 637.2 235.6 633.5 236.0 629.7 236.0 625.9 235.6 621.9 235.1 618.0 234.3 614.3 233.5 611.0 232.4 607.9 231.2 604.9 229.7 602.0 228.1 599.2 226.3 596.6 224.3 593.9 222.0 591.2 219.2 588.1 216.1 585.0 212.9 581.8 209.7 578.8 206.5 575.8 203.4 572.8 200.3 570.1 197.3 567.9 194.6 566.4 192.1 565.2 189.4 564.4 186.4 563.8 182.7 563.3 178.6 563.1 174.4 563.0 170.2 563.0 166.1 563.0 161.9 563.2 157.8 563.4 154.0 563.8 150.6 564.2 147.6 564.6 144.6 565.2 141.6 566.4M140.6 566.5L137.3 568.4 134.0 570.8 130.8 573.5 127.7 576.2 124.7 578.8 121.8 581.4 119.0 584.3 116.5 587.3 114.1 590.7 112.0 594.3 110.0 598.1 108.5 601.7 107.4 605.4 106.7 609.0 106.2 612.6 106.1 616.2 106.2 619.9 106.7 623.8 107.4 627.4 108.5 630.6 110.0 633.2 111.8 635.4 113.9 637.2 116.5 638.6 119.6 639.5 123.2 639.8 127.0 639.9 130.9 640.2 134.8 640.5 138.8 640.9 142.9 641.3 146.9 641.8 150.9 642.4 154.9 643.1 158.9 644.0 162.9 645.0 167.0 646.4 171.0 648.2 175.0 649.9 179.0 651.5 183.0 652.9 187.0 654.2 191.0 655.3 195.1 656.3 199.1 657.0 203.1 657.6 207.1 657.9 211.1 657.9 215.3 657.5 219.6 656.9 223.7 655.9 227.1 654.7 229.8 653.1 231.9 651.3 233.6 649.2 235.1 646.6 236.3 643.5 237.3 639.9 238.0 636.1 238.3 632.2 238.3 628.2 238.0 624.1 237.4 620.0 236.7 616.2 235.8 612.7 234.7 609.5 233.4 606.4 231.9 603.4 230.2 600.5 228.4 597.8 226.3 595.1 223.8 592.2 221.0 589.1 217.8 585.8 214.4 582.5 211.1 579.4 207.9 576.3 204.6 573.2 201.4 570.4 198.3 568.1 195.4 566.5 192.8 565.3 190.1 564.5 186.9 563.8 183.1 563.3 178.9 563.1 174.5 563.0 170.2 563.0 165.9 563.0 161.5 563.2 157.3 563.5 153.4 563.8 149.9 564.2 146.7 564.6 143.7 565.3 140.6 566.5M139.6 566.6L136.2 568.6 132.8 571.1 129.5 573.8 126.3 576.6 123.2 579.3 120.2 582.0 117.3 585.0 114.7 588.1 112.3 591.6 110.0 595.4 108.1 599.2 106.5 603.0 105.3 606.7 104.6 610.5 104.1 614.2 104.0 617.9 104.1 621.8 104.6 625.8 105.3 629.5 106.5 632.8 108.0 635.5 109.8 637.8 112.0 639.7 114.7 641.1 117.9 642.0 121.6 642.3 125.6 642.4 129.6 642.7 133.6 643.1 137.8 643.4 142.0 643.9 146.1 644.4 150.3 645.0 154.4 645.7 158.6 646.6 162.7 647.7 166.8 649.2 171.0 650.9 175.1 652.7 179.2 654.4 183.4 655.8 187.5 657.1 191.7 658.3 195.9 659.3 200.0 660.1 204.1 660.6 208.3 661.0 212.4 660.9 216.7 660.6 221.2 659.9 225.4 658.9 228.9 657.7 231.7 656.1 233.9 654.2 235.6 652.0 237.2 649.3 238.5 646.1 239.5 642.4 240.2 638.4 240.5 634.4 240.5 630.3 240.2 626.1 239.6 621.8 238.8 617.9 237.9 614.3 236.8 611.0 235.4 607.8 233.9 604.7 232.1 601.8 230.2 598.9 228.1 596.1 225.6 593.1 222.6 589.9 219.3 586.5 215.8 583.1 212.4 579.9 209.1 576.7 205.7 573.5 202.4 570.6 199.1 568.3 196.2 566.6 193.6 565.4 190.7 564.6 187.5 563.9 183.5 563.4 179.1 563.1 174.6 563.0 170.1 563.0 165.7 563.1 161.2 563.2 156.9 563.5 152.8 563.9 149.2 564.3 145.9 564.7 142.8 565.4 139.6 566.6M138.7 566.7L135.2 568.7 131.7 571.3 128.3 574.1 125.0 577.0 121.8 579.8 118.7 582.6 115.8 585.6 113.1 588.8 110.6 592.4 108.3 596.3 106.2 600.3 104.6 604.2 103.4 608.0 102.6 611.8 102.2 615.7 102.0 619.5 102.2 623.5 102.6 627.6 103.4 631.5 104.6 634.8 106.2 637.6 108.1 639.9 110.3 641.9 113.1 643.4 116.4 644.3 120.2 644.6 124.3 644.7 128.4 645.0 132.5 645.4 136.8 645.8 141.1 646.2 145.4 646.8 149.7 647.4 153.9 648.1 158.2 649.0 162.4 650.1 166.7 651.7 170.9 653.5 175.2 655.3 179.5 657.0 183.7 658.5 188.0 659.9 192.3 661.1 196.6 662.1 200.8 662.9 205.1 663.5 209.3 663.8 213.6 663.8 218.0 663.4 222.6 662.7 227.0 661.7 230.6 660.4 233.4 658.8 235.7 656.9 237.5 654.6 239.1 651.8 240.4 648.5 241.5 644.7 242.2 640.6 242.5 636.5 242.5 632.3 242.2 627.9 241.6 623.5 240.8 619.5 239.8 615.8 238.6 612.4 237.3 609.1 235.7 605.9 233.9 602.9 231.9 600.0 229.7 597.1 227.1 594.0 224.1 590.7 220.7 587.2 217.1 583.7 213.6 580.4 210.2 577.1 206.7 573.8 203.3 570.9 200.0 568.4 197.0 566.7 194.2 565.5 191.3 564.6 187.9 563.9 183.9 563.4 179.4 563.1 174.7 563.0 170.1 563.0 165.6 563.1 160.9 563.2 156.4 563.5 152.3 563.9 148.6 564.3 145.2 564.7 142.0 565.5 138.7 566.7M137.8 566.8L134.3 568.9 130.7 571.5 127.2 574.4 123.9 577.3 120.6 580.2 117.4 583.1 114.4 586.2 111.6 589.5 109.1 593.2 106.7 597.1 104.6 601.2 102.9 605.2 101.7 609.1 100.9 613.1 100.4 617.0 100.3 620.9 100.4 625.0 100.9 629.2 101.7 633.2 102.9 636.6 104.5 639.5 106.5 641.9 108.8 643.9 111.6 645.4 115.0 646.3 118.9 646.7 123.1 646.8 127.3 647.0 131.6 647.5 135.9 647.8 140.4 648.3 144.8 648.9 149.1 649.5 153.5 650.3 157.9 651.2 162.2 652.3 166.6 653.9 170.9 655.8 175.3 657.7 179.7 659.4 184.1 660.9 188.4 662.3 192.8 663.6 197.2 664.6 201.6 665.4 205.9 666.0 210.3 666.3 214.7 666.3 219.2 665.9 223.9 665.2 228.4 664.2 232.1 662.9 235.0 661.2 237.3 659.2 239.2 656.9 240.8 654.1 242.2 650.7 243.2 646.8 244.0 642.6 244.4 638.4 244.4 634.0 244.0 629.5 243.4 625.1 242.5 620.9 241.5 617.2 240.4 613.7 239.0 610.3 237.3 607.0 235.5 603.9 233.5 600.9 231.2 597.9 228.6 594.8 225.4 591.4 221.9 587.8 218.3 584.2 214.7 580.8 211.1 577.5 207.6 574.1 204.1 571.1 200.7 568.6 197.6 566.8 194.8 565.5 191.8 564.6 188.4 563.9 184.2 563.4 179.6 563.1 174.8 563.0 170.1 563.0 165.4 563.1 160.7 563.2 156.1 563.5 151.8 563.9 148.0 564.3 144.6 564.8 141.2 565.5 137.8 566.8M137.1 566.9L133.5 569.0 129.9 571.7 126.3 574.7 122.8 577.7 119.5 580.6 116.2 583.5 113.1 586.7 110.3 590.1 107.7 593.8 105.3 597.9 103.1 602.0 101.4 606.1 100.2 610.1 99.4 614.2 98.9 618.2 98.7 622.2 98.9 626.4 99.4 630.7 100.2 634.7 101.4 638.2 103.1 641.2 105.0 643.6 107.5 645.6 110.3 647.2 113.8 648.1 117.8 648.5 122.1 648.6 126.4 648.9 130.7 649.3 135.2 649.7 139.7 650.2 144.2 650.8 148.7 651.4 153.1 652.2 157.6 653.1 162.0 654.3 166.5 655.9 170.9 657.8 175.4 659.7 179.9 661.5 184.3 663.0 188.8 664.5 193.3 665.8 197.8 666.8 202.3 667.6 206.7 668.3 211.2 668.6 215.6 668.6 220.3 668.2 225.1 667.5 229.6 666.4 233.5 665.0 236.4 663.3 238.8 661.3 240.7 658.9 242.3 656.1 243.7 652.6 244.8 648.6 245.6 644.3 246.0 640.0 246.0 635.6 245.6 631.0 244.9 626.4 244.1 622.2 243.1 618.3 241.9 614.8 240.4 611.3 238.8 608.0 236.9 604.8 234.9 601.7 232.5 598.7 229.8 595.5 226.6 592.0 223.1 588.3 219.3 584.7 215.6 581.2 212.0 577.8 208.4 574.4 204.8 571.2 201.3 568.7 198.2 566.9 195.3 565.6 192.3 564.7 188.7 563.9 184.5 563.4 179.8 563.1 174.9 563.0 170.1 563.0 165.3 563.1 160.5 563.2 155.8 563.5 151.4 563.9 147.5 564.4 144.0 564.8 140.6 565.6 137.1 566.9M136.5 567.0L132.8 569.1 129.1 571.9 125.4 574.9 121.9 577.9 118.5 580.9 115.2 583.9 112.1 587.1 109.2 590.6 106.5 594.4 104.0 598.5 101.9 602.8 100.1 606.9 98.9 611.0 98.0 615.1 97.5 619.2 97.4 623.3 97.5 627.6 98.0 631.9 98.9 636.1 100.1 639.7 101.8 642.6 103.8 645.1 106.3 647.2 109.2 648.8 112.7 649.7 116.8 650.1 121.2 650.2 125.5 650.5 130.0 650.9 134.5 651.3 139.1 651.8 143.7 652.4 148.2 653.1 152.8 653.9 157.3 654.8 161.9 656.0 166.4 657.6 170.9 659.6 175.5 661.6 180.0 663.3 184.6 664.9 189.2 666.4 193.7 667.7 198.3 668.8 202.8 669.6 207.4 670.2 211.9 670.6 216.5 670.6 221.2 670.2 226.1 669.4 230.7 668.4 234.6 667.0 237.7 665.2 240.0 663.2 242.0 660.7 243.7 657.8 245.1 654.3 246.2 650.2 247.0 645.8 247.4 641.5 247.4 637.0 247.0 632.3 246.3 627.6 245.5 623.3 244.4 619.4 243.2 615.7 241.7 612.2 240.0 608.8 238.1 605.6 236.0 602.5 233.7 599.4 230.9 596.1 227.7 592.5 224.0 588.8 220.2 585.1 216.5 581.5 212.8 578.0 209.1 574.6 205.4 571.4 201.9 568.8 198.7 566.9 195.8 565.6 192.7 564.7 189.1 564.0 184.7 563.4 179.9 563.1 174.9 563.0 170.0 563.0 165.2 563.1 160.3 563.2 155.5 563.5 151.0 564.0 147.1 564.4 143.5 564.8 140.0 565.6 136.5 567.0M135.9 567.1L132.2 569.2 128.4 572.0 124.7 575.1 121.2 578.2 117.7 581.2 114.3 584.2 111.1 587.5 108.2 591.0 105.5 594.9 103.0 599.1 100.8 603.4 99.0 607.6 97.8 611.8 96.9 615.9 96.4 620.1 96.2 624.2 96.4 628.6 96.9 633.0 97.8 637.2 99.0 640.9 100.7 643.9 102.8 646.4 105.2 648.5 108.2 650.1 111.8 651.1 115.9 651.5 120.4 651.6 124.8 651.9 129.3 652.3 133.9 652.7 138.6 653.2 143.3 653.8 147.9 654.5 152.5 655.3 157.1 656.2 161.7 657.5 166.3 659.1 170.9 661.1 175.6 663.1 180.2 664.9 184.8 666.5 189.4 668.0 194.1 669.3 198.7 670.4 203.3 671.3 208.0 671.9 212.6 672.3 217.2 672.2 222.0 671.8 227.0 671.1 231.7 670.0 235.6 668.6 238.7 666.8 241.1 664.7 243.1 662.3 244.8 659.3 246.3 655.7 247.4 651.6 248.1 647.1 248.6 642.7 248.6 638.1 248.2 633.3 247.5 628.6 246.6 624.2 245.6 620.3 244.3 616.6 242.9 613.0 241.1 609.6 239.2 606.2 237.1 603.1 234.6 599.9 231.9 596.6 228.6 593.0 224.9 589.2 221.0 585.4 217.2 581.8 213.4 578.3 209.7 574.7 206.0 571.5 202.4 568.9 199.2 567.0 196.2 565.7 193.0 564.7 189.4 564.0 185.0 563.4 180.1 563.1 175.0 563.0 170.0 563.0 165.1 563.1 160.1 563.2 155.2 563.5 150.7 564.0 146.7 564.4 143.0 564.9 139.5 565.7 135.9 567.1M135.5 567.1L131.7 569.3 127.9 572.1 124.1 575.2 120.5 578.4 117.0 581.4 113.6 584.5 110.4 587.8 107.4 591.4 104.7 595.3 102.1 599.5 99.9 603.9 98.1 608.2 96.8 612.4 96.0 616.6 95.5 620.8 95.3 625.0 95.5 629.4 96.0 633.9 96.8 638.2 98.1 641.8 99.8 644.9 101.9 647.5 104.4 649.6 107.4 651.2 111.1 652.2 115.2 652.6 119.7 652.7 124.2 653.0 128.8 653.4 133.5 653.8 138.2 654.3 142.9 654.9 147.6 655.7 152.3 656.5 156.9 657.4 161.6 658.7 166.3 660.3 170.9 662.3 175.6 664.4 180.3 666.2 185.0 667.8 189.7 669.3 194.4 670.7 199.1 671.8 203.8 672.6 208.4 673.3 213.1 673.6 217.8 673.6 222.6 673.2 227.7 672.5 232.4 671.4 236.4 669.9 239.5 668.1 242.0 666.0 244.0 663.5 245.7 660.5 247.2 656.9 248.3 652.7 249.1 648.2 249.5 643.7 249.5 639.1 249.2 634.2 248.5 629.5 247.6 625.0 246.5 621.0 245.3 617.2 243.8 613.7 242.0 610.1 240.1 606.8 237.9 603.6 235.4 600.4 232.6 597.0 229.3 593.4 225.5 589.6 221.6 585.7 217.8 582.1 214.0 578.5 210.2 574.9 206.4 571.6 202.8 569.0 199.5 567.1 196.5 565.7 193.3 564.8 189.6 564.0 185.1 563.4 180.2 563.1 175.1 563.0 170.0 563.0 165.0 563.1 160.0 563.2 155.0 563.5 150.5 564.0 146.4 564.4 142.7 564.9 139.1 565.7 135.5 567.1M135.1 567.1L131.3 569.4 127.5 572.2 123.7 575.3 120.0 578.5 116.5 581.6 113.1 584.7 109.8 588.0 106.8 591.6 104.0 595.6 101.5 599.9 99.2 604.3 97.4 608.6 96.1 612.9 95.2 617.1 94.7 621.4 94.6 625.6 94.7 630.0 95.2 634.6 96.1 638.9 97.4 642.6 99.1 645.7 101.2 648.3 103.8 650.4 106.8 652.1 110.5 653.1 114.7 653.4 119.2 653.6 123.8 653.9 128.4 654.3 133.1 654.7 137.9 655.2 142.7 655.8 147.4 656.6 152.1 657.4 156.8 658.3 161.5 659.6 166.2 661.3 170.9 663.3 175.7 665.3 180.4 667.2 185.1 668.8 189.9 670.4 194.6 671.7 199.3 672.8 204.1 673.7 208.8 674.4 213.5 674.7 218.2 674.7 223.1 674.3 228.2 673.5 233.0 672.4 237.1 671.0 240.2 669.2 242.7 667.0 244.7 664.5 246.5 661.5 247.9 657.8 249.1 653.6 249.9 649.0 250.3 644.5 250.3 639.8 249.9 634.9 249.2 630.1 248.3 625.6 247.3 621.6 246.0 617.8 244.5 614.1 242.7 610.6 240.7 607.2 238.6 604.0 236.1 600.8 233.2 597.4 229.9 593.7 226.1 589.8 222.1 585.9 218.2 582.3 214.4 578.6 210.6 575.0 206.8 571.7 203.1 569.0 199.8 567.1 196.7 565.7 193.5 564.8 189.8 564.0 185.3 563.4 180.3 563.1 175.1 563.0 170.0 563.0 165.0 563.1 159.8 563.2 154.9 563.5 150.3 564.0 146.2 564.4 142.4 564.9 138.8 565.7 135.1 567.1M134.9 567.2L131.1 569.4 127.2 572.3 123.4 575.4 119.7 578.6 116.1 581.7 112.7 584.9 109.4 588.2 106.4 591.8 103.6 595.8 101.0 600.2 98.7 604.6 96.9 608.9 95.6 613.2 94.7 617.5 94.2 621.8 94.0 626.1 94.2 630.5 94.7 635.1 95.6 639.4 96.9 643.2 98.6 646.3 100.7 648.9 103.3 651.0 106.4 652.7 110.0 653.7 114.3 654.1 118.9 654.2 123.5 654.5 128.1 654.9 132.8 655.4 137.7 655.9 142.5 656.5 147.2 657.2 152.0 658.0 156.7 659.0 161.5 660.3 166.2 662.0 170.9 664.0 175.7 666.1 180.4 667.9 185.2 669.6 190.0 671.1 194.8 672.5 199.5 673.6 204.3 674.5 209.0 675.1 213.8 675.5 218.5 675.5 223.5 675.1 228.6 674.3 233.5 673.2 237.5 671.7 240.7 669.9 243.2 667.8 245.2 665.2 247.0 662.2 248.5 658.5 249.6 654.2 250.4 649.6 250.9 645.0 250.9 640.3 250.5 635.4 249.8 630.6 248.9 626.1 247.8 622.0 246.5 618.1 245.0 614.5 243.2 610.9 241.2 607.5 239.0 604.3 236.5 601.0 233.7 597.6 230.3 593.9 226.5 590.0 222.5 586.1 218.5 582.4 214.7 578.7 210.8 575.1 207.0 571.8 203.3 569.1 200.0 567.1 196.9 565.8 193.7 564.8 189.9 564.0 185.4 563.4 180.4 563.1 175.1 563.0 170.0 563.0 164.9 563.1 159.8 563.2 154.8 563.5 150.1 564.0 146.0 564.4 142.2 564.9 138.6 565.7 134.9 567.2M134.7 567.2L130.9 569.4 127.0 572.3 123.2 575.5 119.5 578.7 115.9 581.8 112.4 585.0 109.1 588.3 106.1 592.0 103.3 596.0 100.7 600.3 98.4 604.8 96.6 609.1 95.3 613.4 94.4 617.7 93.9 622.0 93.7 626.3 93.9 630.8 94.4 635.4 95.3 639.7 96.6 643.5 98.3 646.6 100.5 649.2 103.0 651.4 106.1 653.1 109.8 654.1 114.1 654.4 118.7 654.6 123.3 654.9 127.9 655.3 132.7 655.7 137.5 656.2 142.3 656.9 147.1 657.6 151.9 658.4 156.6 659.4 161.4 660.7 166.2 662.4 170.9 664.4 175.7 666.5 180.5 668.4 185.3 670.0 190.1 671.6 194.9 672.9 199.7 674.0 204.4 674.9 209.2 675.6 214.0 676.0 218.7 675.9 223.7 675.5 228.9 674.8 233.7 673.6 237.8 672.2 241.0 670.3 243.5 668.2 245.5 665.6 247.3 662.6 248.8 658.8 250.0 654.6 250.8 650.0 251.2 645.4 251.2 640.7 250.8 635.7 250.1 630.9 249.2 626.3 248.1 622.2 246.8 618.4 245.3 614.7 243.5 611.1 241.5 607.7 239.3 604.4 236.8 601.2 233.9 597.8 230.5 594.0 226.7 590.1 222.7 586.2 218.7 582.5 214.9 578.8 211.0 575.1 207.2 571.8 203.5 569.1 200.1 567.1 197.0 565.8 193.8 564.8 190.0 564.0 185.4 563.4 180.4 563.1 175.1 563.0 170.0 563.0 164.9 563.1 159.7 563.2 154.7 563.5 150.0 564.0 145.9 564.4 142.1 564.9 138.5 565.8 134.7 567.2M171 563.0L134.7 567.2M171 563.0L131.3 569.2M171 563.0L128.0 571.5M171 563.0L124.9 574.0M171 563.0L121.9 576.6M171 563.0L118.9 579.2M171 563.0L115.8 581.8M171 563.0L112.9 584.5M171 563.0L110.1 587.3M171 563.0L107.4 590.3M171 563.0L105.0 593.4M171 563.0L102.8 596.7M171 563.0L100.7 600.1M171 563.0L98.9 603.7M171 563.0L97.3 607.3M171 563.0L95.9 611.0M171 563.0L94.9 614.9M171 563.0L94.2 618.8M171 563.0L93.7 622.7M171 563.0L93.6 626.7M171 563.0L93.8 630.7M171 563.0L94.2 634.7M171 563.0L94.9 638.6M171 563.0L96.1 642.4M171 563.0L97.8 646.0M171 563.0L100.2 649.1M171 563.0L103.2 651.7M171 563.0L106.8 653.4M171 563.0L110.7 654.3M171 563.0L114.6 654.6M171 563.0L118.6 654.7M171 563.0L122.6 655.0M171 563.0L126.6 655.3M171 563.0L130.5 655.7M171 563.0L134.5 656.1M171 563.0L138.4 656.5M171 563.0L142.4 657.0M171 563.0L146.3 657.6M171 563.0L150.3 658.3M171 563.0L154.2 659.0M171 563.0L158.1 659.9M171 563.0L161.9 661.0M171 563.0L165.6 662.3M171 563.0L169.3 663.8M171 563.0L173.0 665.4M171 563.0L176.6 667.0M171 563.0L180.3 668.4M171 563.0L184.1 669.7M171 563.0L187.9 671.0M171 563.0L191.7 672.2M171 563.0L195.5 673.2M171 563.0L199.4 674.1M171 563.0L203.3 674.9M171 563.0L207.3 675.5M171 563.0L211.2 675.9M171 563.0L215.2 676.1M171 563.0L219.2 676.1M171 563.0L223.1 675.7M171 563.0L227.1 675.2M171 563.0L231.0 674.4M171 563.0L234.8 673.4M171 563.0L238.5 671.9M171 563.0L241.9 669.8M171 563.0L244.7 667.0M171 563.0L246.8 663.7M171 563.0L248.5 660.1M171 563.0L249.6 656.3M171 563.0L250.5 652.4M171 563.0L251.0 648.4M171 563.0L251.3 644.4M171 563.0L251.3 640.5M171 563.0L251.0 636.5M171 563.0L250.4 632.6M171 563.0L249.7 628.6M171 563.0L248.9 624.7M171 563.0L247.8 620.9M171 563.0L246.4 617.2M171 563.0L244.8 613.6M171 563.0L242.9 610.0M171 563.0L240.8 606.6M171 563.0L238.5 603.4M171 563.0L236.1 600.3M171 563.0L233.5 597.2M171 563.0L230.8 594.3M171 563.0L228.0 591.4M171 563.0L225.2 588.6M171 563.0L222.3 585.9M171 563.0L219.4 583.1M171 563.0L216.6 580.4M171 563.0L213.7 577.6M171 563.0L210.8 574.9M171 563.0L207.8 572.3M171 563.0L204.6 569.9M171 563.0L201.2 567.8M171 563.0L197.6 566.0M171 563.0L193.9 564.8M171 563.0L190.0 564.0M171 563.0L186.0 563.5M171 563.0L182.0 563.2M171 563.0L178.1 563.1M171 563.0L174.1 563.0M171 563.0L170.1 563.0M171 563.0L166.1 563.0M171 563.0L162.1 563.2M171 563.0L158.2 563.3M171 563.0L154.2 563.6M171 563.0L150.2 564.0M171 563.0L146.3 564.4M171 563.0L142.3 564.9M171 563.0L138.4 565.8" fill="none" stroke="#1a1a00" stroke-width="0.7"/>

<ellipse cx="172" cy="567" rx="30" ry="8" fill="#000" filter="url(#bl4)"/>
<ellipse cx="100" cy="625" rx="8" ry="30" fill="#000" opacity="0.45" filter="url(#bl4)"/>
<ellipse cx="250" cy="630" rx="6" ry="30" fill="#000" opacity="0.45" filter="url(#bl4)"/>


<path d="M134.7 567.2C129.6 569.7 124.2 574.6 119.4 578.7C114.6 582.8 109.8 586.9 106.0 592.0C102.2 597.1 98.6 603.5 96.5 609.2C94.4 614.9 93.6 620.7 93.6 626.4C93.6 632.1 94.4 639.1 96.5 643.6C98.6 648.1 101.5 651.3 106.0 653.2C110.5 655.1 117.2 654.4 123.2 655.0C129.2 655.6 135.9 656.0 142.3 657.0C148.7 658.0 155.0 658.9 161.4 660.8C167.8 662.7 174.1 666.3 180.5 668.5C186.9 670.7 193.3 672.9 199.7 674.2C206.1 675.5 212.4 676.4 218.8 676.1C225.2 675.8 233.1 674.5 237.9 672.3C242.7 670.1 245.2 667.2 247.4 662.7C249.6 658.2 251.0 651.5 251.3 645.5C251.6 639.5 250.6 632.1 249.3 626.4C248.0 620.7 246.2 616.0 243.6 611.2C241.0 606.4 238.1 602.6 234.0 597.8C229.9 593.0 223.9 587.3 218.8 582.5C213.7 577.7 208.3 572.2 203.5 569.1C198.7 566.0 195.6 565.0 190.0 564.0C184.4 563.0 176.7 563.0 170.0 563.0C163.3 563.0 155.9 563.3 150.0 564.0C144.1 564.7 139.8 564.8 134.7 567.2Z" fill="none" stroke="#000" stroke-width="7" opacity="0.85" filter="url(#bl2)"/>
</g>
<path d="M134.7 567.2C129.6 569.7 124.2 574.6 119.4 578.7C114.6 582.8 109.8 586.9 106.0 592.0C102.2 597.1 98.6 603.5 96.5 609.2C94.4 614.9 93.6 620.7 93.6 626.4C93.6 632.1 94.4 639.1 96.5 643.6C98.6 648.1 101.5 651.3 106.0 653.2C110.5 655.1 117.2 654.4 123.2 655.0C129.2 655.6 135.9 656.0 142.3 657.0C148.7 658.0 155.0 658.9 161.4 660.8C167.8 662.7 174.1 666.3 180.5 668.5C186.9 670.7 193.3 672.9 199.7 674.2C206.1 675.5 212.4 676.4 218.8 676.1C225.2 675.8 233.1 674.5 237.9 672.3C242.7 670.1 245.2 667.2 247.4 662.7C249.6 658.2 251.0 651.5 251.3 645.5C251.6 639.5 250.6 632.1 249.3 626.4C248.0 620.7 246.2 616.0 243.6 611.2C241.0 606.4 238.1 602.6 234.0 597.8C229.9 593.0 223.9 587.3 218.8 582.5C213.7 577.7 208.3 572.2 203.5 569.1C198.7 566.0 195.6 565.0 190.0 564.0C184.4 563.0 176.7 563.0 170.0 563.0C163.3 563.0 155.9 563.3 150.0 564.0C144.1 564.7 139.8 564.8 134.7 567.2Z" fill="none" stroke="#000" stroke-width="1.6"/>
<g clip-path="url(#c1a)"><path d="M93.6 474.4C94.9 469.9 96.9 462.8 100.3 459.0C103.7 455.2 109.2 452.9 113.7 451.5C118.2 450.1 122.2 450.2 127.0 450.5C131.8 450.8 136.6 451.6 142.3 453.4C148.0 455.1 155.0 458.4 161.4 461.0C167.8 463.6 174.1 466.6 180.5 468.7C186.9 470.8 193.3 472.8 199.7 473.4C206.1 474.0 213.1 472.5 218.8 472.5C224.5 472.5 229.9 472.4 234.0 473.4C238.1 474.3 240.7 475.5 243.6 478.2C246.5 480.9 250.0 485.6 251.3 489.7C252.6 493.8 252.0 497.9 251.3 503.0C250.7 508.1 249.6 514.5 247.4 520.3C245.2 526.0 242.0 532.4 237.9 537.5C233.8 542.6 228.3 547.0 222.6 550.8C216.9 554.6 208.9 558.1 203.5 560.4C198.1 562.7 195.6 563.6 190.0 564.5C184.4 565.4 176.7 566.2 170.0 566.0C163.3 565.8 155.0 564.3 150.0 563.0C145.0 561.7 143.5 560.0 140.0 558.0C136.5 556.0 133.4 554.2 129.0 550.8C124.6 547.4 118.2 542.6 113.7 537.5C109.2 532.4 105.2 526.0 102.2 520.3C99.2 514.5 97.1 508.7 95.5 503.0C93.9 497.3 92.9 490.8 92.6 486.0C92.3 481.2 92.3 478.9 93.6 474.4Z" fill="none"/></g>
<clipPath id="c2"><path d="M304.4 534.0C305.6 526.2 306.6 520.4 309.0 515.3C311.4 510.2 313.8 507.2 318.5 503.5C323.2 499.8 331.1 495.1 337.3 493.0C343.6 490.9 349.3 490.4 356.0 490.6C362.7 490.8 371.0 492.3 377.3 494.0C383.6 495.7 388.3 497.8 393.8 501.0C399.3 504.2 405.1 509.1 410.2 513.0C415.3 517.0 420.0 521.9 424.3 524.7C428.6 527.5 432.2 529.4 436.0 530.0C439.8 530.6 441.2 529.3 447.0 528.2C452.8 527.1 462.7 524.9 470.5 523.5C478.3 522.1 486.9 520.4 494.0 520.0C501.1 519.6 507.4 519.8 512.9 521.2C518.4 522.6 523.1 525.1 527.0 528.2C530.9 531.3 533.9 534.9 536.4 540.0C538.9 545.1 541.1 551.8 542.3 558.8C543.5 565.8 543.6 574.5 543.4 582.3C543.2 590.1 542.6 598.3 541.0 605.8C539.4 613.2 537.1 620.7 534.0 627.0C530.9 633.3 527.0 639.1 522.3 643.4C517.6 647.7 512.5 651.0 505.8 652.8C499.1 654.6 490.1 654.8 482.3 654.0C474.5 653.2 465.5 651.0 458.8 648.1C452.1 645.2 447.4 640.7 442.3 636.4C437.2 632.1 432.9 626.2 428.2 622.3C423.5 618.4 418.6 614.3 414.0 612.9C409.4 611.5 406.9 612.6 400.8 614.0C394.7 615.4 385.1 619.4 377.3 621.0C369.5 622.6 361.6 623.8 353.8 623.4C346.0 623.0 337.0 621.4 330.3 618.7C323.6 616.0 318.1 612.5 313.8 607.0C309.5 601.5 306.4 593.2 304.4 585.8C302.4 578.3 302.0 570.9 302.0 562.3C302.0 553.7 303.2 541.8 304.4 534.0Z"/></clipPath>
<g clip-path="url(#c2)">
<path d="M304.4 534.0C305.6 526.2 306.6 520.4 309.0 515.3C311.4 510.2 313.8 507.2 318.5 503.5C323.2 499.8 331.1 495.1 337.3 493.0C343.6 490.9 349.3 490.4 356.0 490.6C362.7 490.8 371.0 492.3 377.3 494.0C383.6 495.7 388.3 497.8 393.8 501.0C399.3 504.2 405.1 509.1 410.2 513.0C415.3 517.0 420.0 521.9 424.3 524.7C428.6 527.5 432.2 529.4 436.0 530.0C439.8 530.6 441.2 529.3 447.0 528.2C452.8 527.1 462.7 524.9 470.5 523.5C478.3 522.1 486.9 520.4 494.0 520.0C501.1 519.6 507.4 519.8 512.9 521.2C518.4 522.6 523.1 525.1 527.0 528.2C530.9 531.3 533.9 534.9 536.4 540.0C538.9 545.1 541.1 551.8 542.3 558.8C543.5 565.8 543.6 574.5 543.4 582.3C543.2 590.1 542.6 598.3 541.0 605.8C539.4 613.2 537.1 620.7 534.0 627.0C530.9 633.3 527.0 639.1 522.3 643.4C517.6 647.7 512.5 651.0 505.8 652.8C499.1 654.6 490.1 654.8 482.3 654.0C474.5 653.2 465.5 651.0 458.8 648.1C452.1 645.2 447.4 640.7 442.3 636.4C437.2 632.1 432.9 626.2 428.2 622.3C423.5 618.4 418.6 614.3 414.0 612.9C409.4 611.5 406.9 612.6 400.8 614.0C394.7 615.4 385.1 619.4 377.3 621.0C369.5 622.6 361.6 623.8 353.8 623.4C346.0 623.0 337.0 621.4 330.3 618.7C323.6 616.0 318.1 612.5 313.8 607.0C309.5 601.5 306.4 593.2 304.4 585.8C302.4 578.3 302.0 570.9 302.0 562.3C302.0 553.7 303.2 541.8 304.4 534.0Z" fill="#eef034"/>
<ellipse cx="355" cy="535" rx="22" ry="6" fill="#fff" opacity="0.55" transform="rotate(15 355 535)" filter="url(#bl4)"/>
<ellipse cx="495" cy="560" rx="32" ry="6" fill="#fff" opacity="0.45" filter="url(#bl4)"/>
<ellipse cx="403" cy="600" rx="8" ry="9" fill="#fff" opacity="0.6" filter="url(#bl4)"/>
<path d="M304.5 533.6L302.5 536.4 300.6 539.1 299.0 541.8 297.7 544.6 296.8 547.4 296.4 550.2 296.4 553.0 296.9 555.9 297.8 558.8 299.0 561.8 300.5 564.7 302.1 567.7M307.7 518.5L305.6 523.6 303.7 528.7 301.9 533.8 300.5 539.0 299.5 544.1 298.9 549.3 298.7 554.5 299.0 559.8 299.7 565.0 300.7 570.3 302.0 575.7 303.3 581.0M311.9 510.2L309.8 516.9 307.8 523.6 306.1 530.3 304.6 537.0 303.5 543.8 302.8 550.5 302.5 557.3 302.7 564.2 303.2 571.0 304.0 577.9 305.0 584.8 306.2 591.7M317.2 504.6L315.2 512.6 313.2 520.6 311.5 528.6 310.0 536.6 308.9 544.7 308.1 552.7 307.8 560.8 307.8 569.0 308.1 577.1 308.7 585.3 309.5 593.5 310.4 601.7M323.6 499.9L321.7 508.9 319.9 518.0 318.2 527.1 316.8 536.1 315.6 545.2 314.8 554.3 314.4 563.5 314.2 572.6 314.4 581.8 314.8 591.0 315.3 600.2 315.9 609.5M331 495.7L329.3 505.5 327.6 515.4 326.1 525.3 324.7 535.2 323.6 545.1 322.8 555.0 322.2 564.9 321.9 574.9 321.9 584.9 322.0 594.9 322.3 604.9 322.7 614.9M339.3 492.4L337.7 502.8 336.2 513.3 334.8 523.8 333.6 534.3 332.5 544.8 331.7 555.3 331.1 565.9 330.7 576.4 330.4 587.0 330.3 597.6 330.4 608.2 330.5 618.8M348.1 490.8L346.8 501.6 345.5 512.5 344.3 523.3 343.2 534.2 342.2 545.0 341.4 555.9 340.7 566.8 340.1 577.7 339.7 588.6 339.4 599.5 339.1 610.4 338.9 621.4M357.2 490.6L356.2 501.7 355.1 512.7 354.1 523.7 353.2 534.7 352.3 545.7 351.5 556.7 350.8 567.7 350.1 578.8 349.5 589.8 349.0 600.8 348.5 611.9 348.0 622.9M366.5 491.7L365.7 502.7 365.0 513.6 364.2 524.6 363.4 535.6 362.7 546.6 361.9 557.6 361.1 568.5 360.4 579.5 359.6 590.5 358.8 601.5 358.1 612.5 357.3 623.5M375.7 493.6L375.3 504.4 374.8 515.2 374.3 525.9 373.7 536.7 373.0 547.5 372.3 558.3 371.5 569.0 370.7 579.8 369.7 590.5 368.8 601.3 367.7 612.0 366.7 622.8M384.7 496.5L384.5 506.9 384.3 517.3 384.0 527.8 383.6 538.2 383.1 548.6 382.5 559.0 381.7 569.4 380.7 579.8 379.7 590.2 378.5 600.5 377.2 610.9 376.0 621.3M393.1 500.6L393.2 510.5 393.3 520.4 393.2 530.3 393.1 540.3 392.7 550.1 392.1 560.0 391.3 569.9 390.3 579.7 389.1 589.6 387.8 599.4 386.3 609.2 384.8 619.0M400.7 505.6L401.1 514.9 401.5 524.2 401.7 533.5 401.7 542.8 401.5 552.0 401.0 561.3 400.2 570.5 399.1 579.7 397.8 588.8 396.3 598.0 394.7 607.2 393.0 616.3M407.5 510.9L408.2 519.6 408.8 528.3 409.2 536.9 409.4 545.6 409.3 554.2 408.8 562.8 408.1 571.4 407.0 580.0 405.6 588.6 404.0 597.1 402.2 605.6 400.3 614.1M413.3 515.5L414.2 523.7 415.0 531.9 415.6 540.1 415.9 548.3 415.9 556.4 415.5 564.5 414.8 572.6 413.6 580.6 412.2 588.7 410.4 596.7 408.5 604.7 406.5 612.7M417.9 519.6L419.0 527.4 419.9 535.3 420.7 543.1 421.1 550.9 421.2 558.7 420.9 566.4 420.1 574.1 419.0 581.8 417.4 589.5 415.6 597.1 413.6 604.7 411.4 612.4M421.3 522.5L422.5 530.2 423.6 537.8 424.4 545.5 424.9 553.1 425.1 560.7 424.8 568.3 424.0 575.9 422.8 583.4 421.2 590.9 419.3 598.3 417.2 605.8 414.9 613.2M423.4 524.1L424.6 531.7 425.8 539.3 426.7 546.9 427.2 554.5 427.4 562.1 427.1 569.6 426.4 577.1 425.1 584.6 423.5 592.0 421.6 599.4 419.4 606.8 417.1 614.2M424.8 525.0L422.5 532.4 420.3 539.8 418.4 547.2 416.7 554.6 415.5 562.0 414.8 569.5 414.5 577.0 414.6 584.6 415.2 592.2 416.1 599.8 417.3 607.4 418.5 615.0M427 526.4L424.7 533.8 422.6 541.2 420.7 548.6 419.1 556.0 417.9 563.4 417.2 570.9 416.9 578.4 417.0 586.0 417.6 593.6 418.4 601.2 419.5 608.8 420.7 616.4M430.5 528.3L428.4 535.7 426.4 543.2 424.6 550.7 423.0 558.2 421.9 565.7 421.2 573.2 420.8 580.8 420.9 588.4 421.4 596.0 422.2 603.7 423.1 611.4 424.2 619.0M435.5 529.9L433.5 537.6 431.6 545.2 429.9 552.9 428.4 560.6 427.3 568.3 426.6 576.1 426.2 583.8 426.3 591.6 426.6 599.4 427.3 607.3 428.1 615.1 429.0 623.0M441.8 529.4L440.0 537.6 438.2 545.9 436.6 554.1 435.2 562.3 434.2 570.6 433.4 578.9 433.0 587.2 432.9 595.5 433.1 603.8 433.6 612.2 434.2 620.6 434.9 628.9M449.3 527.7L447.6 536.7 446.0 545.6 444.5 554.6 443.2 563.6 442.2 572.5 441.4 581.5 440.9 590.6 440.7 599.6 440.7 608.7 441.0 617.7 441.3 626.8 441.8 635.9M457.7 526.0L456.2 535.7 454.8 545.3 453.4 555.0 452.2 564.6 451.2 574.3 450.5 584.0 449.9 593.7 449.5 603.4 449.4 613.2 449.3 622.9 449.4 632.7 449.6 642.4M466.8 524.2L465.5 534.4 464.3 544.7 463.1 555.0 462.0 565.3 461.1 575.5 460.3 585.8 459.7 596.1 459.2 606.5 458.8 616.8 458.5 627.1 458.3 637.5 458.1 647.8M476.3 522.5L475.3 533.2 474.3 543.9 473.3 554.6 472.4 565.3 471.5 576.0 470.7 586.7 470.0 597.4 469.4 608.2 468.8 618.9 468.3 629.6 467.8 640.4 467.3 651.1M486.1 520.8L485.3 531.9 484.6 542.9 483.8 553.9 483.0 565.0 482.2 576.0 481.5 587.0 480.7 598.1 479.9 609.1 479.2 620.2 478.4 631.2 477.6 642.2 476.8 653.3M495.8 519.9L495.3 531.1 494.8 542.4 494.3 553.6 493.6 564.8 493.0 576.0 492.2 587.2 491.4 598.4 490.5 609.6 489.6 620.8 488.5 632.0 487.5 643.1 486.4 654.3M505.2 520.0L505.0 531.3 504.8 542.5 504.4 553.7 504.0 564.9 503.4 576.1 502.7 587.3 501.9 598.5 500.9 609.7 499.7 620.8 498.5 632.0 497.2 643.1 495.9 654.3M514.1 521.5L514.2 532.5 514.2 543.5 514.0 554.6 513.8 565.5 513.3 576.5 512.7 587.5 511.8 598.4 510.7 609.4 509.4 620.3 508.0 631.2 506.5 642.1 504.9 653.0M522.1 524.9L522.5 535.4 522.7 545.9 522.8 556.3 522.8 566.8 522.5 577.2 521.9 587.6 521.0 598.1 519.9 608.4 518.5 618.8 516.9 629.2 515.2 639.5 513.4 649.8M529.1 530.1L529.7 539.7 530.3 549.3 530.6 558.9 530.7 568.5 530.6 578.0 530.1 587.6 529.2 597.1 528.1 606.6 526.6 616.1 524.9 625.5 523.1 635.0 521.1 644.4M534.9 537.3L535.8 545.7 536.6 554.1 537.2 562.5 537.5 570.9 537.5 579.2 537.1 587.6 536.3 595.9 535.2 604.1 533.7 612.4 531.9 620.6 530.0 628.8 527.9 637.0M539.3 547.0L540.5 553.8 541.5 560.6 542.3 567.5 542.8 574.3 543.0 581.0 542.7 587.8 542.0 594.5 540.9 601.1 539.5 607.8 537.7 614.4 535.8 621.0 533.7 627.6M542.2 558.4L543.6 563.3 544.9 568.3 545.9 573.3 546.6 578.2 546.9 583.1 546.8 588.0 546.3 592.8 545.3 597.6 543.9 602.4 542.1 607.1 540.2 611.9 538.2 616.6M543.4 573.2L545.1 575.9 546.5 578.6 547.8 581.4 548.7 584.0 549.2 586.7 549.3 589.3 548.8 591.9 548.0 594.5 546.7 597.0 545.1 599.5 543.2 602.0 541.3 604.5M302.5 550.4L312.1 509.9 319.4 502.9 326.5 498.2 333.5 494.6 340.4 492.1 347.2 490.9 354.0 490.7 360.8 491.0 367.4 491.9 374.1 493.3 380.7 495.1 387.3 497.7 393.8 501.1 400.3 505.4 406.7 510.3 413.1 515.4 419.5 521.0 425.9 525.8 432.4 529.1 439.1 530.1 446.0 528.5 452.8 527.1 459.7 525.7 466.5 524.3 473.4 523.1 480.2 521.9 487.1 520.8 493.9 520.1 500.6 519.9 507.4 520.3 514.0 521.6 520.6 524.2 527.1 528.3 533.4 535.0 539.3 547.0 543.1 588.9M302.5 550.4L312.1 510.1 319.4 503.1 326.4 498.5 333.5 494.9 340.4 492.4 347.2 491.2 354.0 490.9 360.7 491.3 367.4 492.2 374.1 493.5 380.7 495.4 387.3 498.0 393.8 501.3 400.3 505.6 406.7 510.5 413.1 515.6 419.5 521.2 425.9 526.0 432.4 529.3 439.1 530.3 446.0 528.7 452.8 527.3 459.7 525.9 466.5 524.6 473.4 523.3 480.2 522.1 487.0 521.1 493.8 520.4 500.6 520.2 507.3 520.6 514.0 521.9 520.6 524.4 527.1 528.6 533.4 535.2 539.3 547.2 543.1 588.9M302.5 550.4L312.1 510.3 319.3 503.5 326.4 498.9 333.4 495.3 340.4 492.8 347.2 491.7 354.0 491.4 360.7 491.7 367.4 492.6 374.1 494.0 380.7 495.8 387.3 498.4 393.8 501.7 400.3 506.0 406.7 510.9 413.1 516.0 419.4 521.5 425.9 526.3 432.4 529.6 439.1 530.6 445.9 529.0 452.8 527.7 459.6 526.3 466.5 525.0 473.3 523.8 480.2 522.6 487.0 521.5 493.8 520.8 500.6 520.7 507.3 521.1 514.0 522.3 520.6 524.9 527.0 529.0 533.3 535.6 539.3 547.4 543.1 588.9M302.5 550.5L312.1 510.7 319.3 503.9 326.4 499.4 333.4 495.9 340.3 493.4 347.2 492.3 353.9 492.0 360.7 492.4 367.4 493.3 374.0 494.6 380.6 496.4 387.2 499.0 393.8 502.3 400.2 506.5 406.6 511.4 413.0 516.4 419.4 522.0 425.8 526.7 432.4 530.1 439.0 531.1 445.9 529.5 452.8 528.2 459.6 526.9 466.5 525.6 473.3 524.4 480.1 523.2 487.0 522.1 493.8 521.5 500.5 521.3 507.3 521.7 513.9 522.9 520.5 525.5 527.0 529.6 533.3 536.1 539.2 547.8 543.1 588.9M302.5 550.5L312.0 511.2 319.3 504.6 326.3 500.1 333.3 496.6 340.3 494.2 347.1 493.1 353.9 492.8 360.6 493.2 367.3 494.1 374.0 495.4 380.6 497.2 387.2 499.7 393.7 503.0 400.2 507.2 406.6 512.0 413.0 517.0 419.4 522.5 425.8 527.3 432.3 530.6 439.0 531.7 445.9 530.2 452.7 528.9 459.6 527.6 466.4 526.3 473.2 525.2 480.1 524.0 486.9 523.0 493.7 522.3 500.5 522.1 507.2 522.5 513.9 523.7 520.5 526.2 526.9 530.3 533.2 536.7 539.2 548.3 543.1 588.9M302.5 550.5L312.0 511.8 319.2 505.3 326.3 500.9 333.3 497.5 340.2 495.2 347.0 494.0 353.8 493.8 360.5 494.2 367.2 495.0 373.9 496.4 380.5 498.1 387.1 500.6 393.6 503.9 400.1 508.0 406.5 512.8 412.9 517.8 419.3 523.2 425.7 527.9 432.3 531.3 438.9 532.4 445.8 531.0 452.6 529.8 459.5 528.5 466.3 527.2 473.2 526.1 480.0 525.0 486.8 523.9 493.6 523.3 500.4 523.1 507.1 523.5 513.8 524.7 520.4 527.2 526.9 531.2 533.2 537.5 539.2 548.9 543.1 589.0M302.5 550.5L311.9 512.6 319.1 506.2 326.2 501.9 333.2 498.6 340.1 496.3 346.9 495.2 353.7 495.0 360.5 495.3 367.2 496.2 373.8 497.5 380.5 499.3 387.0 501.7 393.6 504.9 400.0 509.0 406.5 513.7 412.9 518.6 419.3 524.0 425.7 528.7 432.2 532.1 438.9 533.2 445.7 531.9 452.6 530.7 459.4 529.5 466.3 528.3 473.1 527.2 479.9 526.1 486.8 525.1 493.6 524.5 500.3 524.3 507.1 524.7 513.7 525.9 520.3 528.3 526.8 532.2 533.1 538.4 539.1 549.6 543.1 589.0M302.5 550.6L311.9 513.4 319.1 507.2 326.1 503.1 333.1 499.8 340.0 497.6 346.9 496.5 353.6 496.3 360.4 496.6 367.1 497.5 373.7 498.8 380.4 500.5 387.0 502.9 393.5 506.1 400.0 510.1 406.4 514.8 412.8 519.6 419.2 524.9 425.6 529.6 432.1 533.0 438.8 534.2 445.7 532.9 452.5 531.9 459.3 530.7 466.2 529.6 473.0 528.5 479.8 527.4 486.7 526.4 493.5 525.8 500.2 525.7 507.0 526.0 513.6 527.2 520.2 529.5 526.7 533.4 533.1 539.4 539.0 550.4 543.1 589.0M302.5 550.6L311.8 514.3 319.0 508.4 326.0 504.4 333.0 501.2 339.9 499.0 346.8 498.0 353.5 497.8 360.3 498.1 367.0 499.0 373.6 500.3 380.3 502.0 386.9 504.3 393.4 507.4 399.9 511.4 406.3 515.9 412.7 520.7 419.1 525.9 425.6 530.6 432.1 534.0 438.7 535.3 445.6 534.1 452.4 533.1 459.2 532.0 466.1 531.0 472.9 529.9 479.7 528.9 486.6 527.9 493.4 527.3 500.1 527.2 506.9 527.5 513.5 528.7 520.1 531.0 526.6 534.7 533.0 540.6 539.0 551.3 543.1 589.1M302.5 550.7L311.8 515.4 318.9 509.7 325.9 505.8 332.9 502.7 339.8 500.6 346.6 499.6 353.4 499.4 360.1 499.8 366.8 500.6 373.5 501.9 380.2 503.5 386.7 505.9 393.3 508.9 399.8 512.8 406.2 517.2 412.7 521.9 419.0 527.1 425.5 531.8 432.0 535.2 438.7 536.5 445.5 535.4 452.3 534.5 459.1 533.5 466.0 532.5 472.8 531.5 479.6 530.5 486.4 529.6 493.2 529.0 500.0 528.9 506.7 529.2 513.4 530.3 520.0 532.6 526.5 536.2 532.9 541.9 538.9 552.3 543.1 589.1M302.5 550.7L311.7 516.5 318.8 511.1 325.8 507.3 332.8 504.3 339.7 502.3 346.5 501.4 353.3 501.2 360.0 501.6 366.7 502.4 373.4 503.7 380.0 505.3 386.6 507.5 393.2 510.5 399.7 514.3 406.1 518.7 412.6 523.2 419.0 528.3 425.4 533.0 431.9 536.4 438.6 537.8 445.4 536.8 452.2 536.0 459.0 535.1 465.9 534.2 472.7 533.3 479.5 532.3 486.3 531.4 493.1 530.8 499.9 530.7 506.6 531.0 513.3 532.1 519.9 534.3 526.4 537.8 532.8 543.3 538.8 553.4 543.1 589.1M302.5 550.8L311.6 517.7 318.7 512.6 325.7 509.0 332.7 506.1 339.6 504.2 346.4 503.3 353.1 503.2 359.9 503.5 366.6 504.4 373.3 505.6 379.9 507.2 386.5 509.4 393.1 512.3 399.6 515.9 406.0 520.2 412.5 524.7 418.9 529.7 425.3 534.3 431.8 537.8 438.5 539.2 445.3 538.4 452.1 537.7 458.9 536.9 465.7 536.0 472.5 535.1 479.4 534.2 486.2 533.4 493.0 532.8 499.7 532.7 506.5 533.0 513.2 534.1 519.8 536.2 526.3 539.5 532.7 544.9 538.8 554.6 543.1 589.2M302.5 550.8L311.5 519.0 318.6 514.2 325.6 510.8 332.5 508.1 339.4 506.2 346.2 505.4 353.0 505.3 359.7 505.7 366.4 506.5 373.1 507.7 379.8 509.2 386.4 511.3 392.9 514.1 399.4 517.7 405.9 521.9 412.4 526.2 418.8 531.2 425.2 535.7 431.7 539.2 438.4 540.8 445.2 540.1 452.0 539.5 458.8 538.8 465.6 538.0 472.4 537.2 479.2 536.3 486.0 535.5 492.8 535.0 499.6 534.8 506.3 535.1 513.0 536.2 519.6 538.2 526.2 541.4 532.6 546.6 538.7 555.9 543.1 589.3M302.5 550.9L311.4 520.4 318.5 515.9 325.4 512.8 332.4 510.2 339.3 508.4 346.1 507.6 352.8 507.5 359.6 507.9 366.3 508.7 373.0 509.9 379.6 511.3 386.2 513.4 392.8 516.1 399.3 519.6 405.8 523.6 412.2 527.9 418.7 532.7 425.1 537.3 431.6 540.8 438.2 542.4 445.0 541.8 451.8 541.4 458.6 540.8 465.4 540.1 472.2 539.3 479.1 538.5 485.9 537.7 492.7 537.2 499.4 537.1 506.2 537.4 512.9 538.4 519.5 540.3 526.0 543.4 532.4 548.3 538.6 557.3 543.1 589.3M302.5 551.0L311.3 521.9 318.3 517.8 325.3 514.8 332.2 512.3 339.1 510.7 345.9 509.9 352.7 509.9 359.4 510.3 366.1 511.1 372.8 512.2 379.4 513.6 386.1 515.6 392.6 518.3 399.2 521.6 405.6 525.5 412.1 529.6 418.5 534.4 425.0 538.9 431.5 542.5 438.1 544.1 444.9 543.7 451.7 543.4 458.5 542.9 465.3 542.3 472.1 541.6 478.9 540.9 485.7 540.1 492.5 539.7 499.3 539.5 506.0 539.8 512.7 540.8 519.3 542.6 525.9 545.6 532.3 550.2 538.5 558.8 543.1 589.4M302.5 551.0L311.2 523.5 318.2 519.7 325.2 517.0 332.1 514.7 338.9 513.1 345.7 512.4 352.5 512.4 359.2 512.8 365.9 513.6 372.6 514.7 379.3 516.0 385.9 518.0 392.5 520.5 399.0 523.7 405.5 527.5 412.0 531.5 418.4 536.1 424.9 540.6 431.4 544.2 438.0 546.0 444.8 545.7 451.5 545.5 458.3 545.2 465.1 544.7 471.9 544.0 478.7 543.3 485.5 542.7 492.3 542.2 499.1 542.1 505.8 542.4 512.5 543.3 519.2 545.0 525.7 547.8 532.2 552.2 538.4 560.3 543.1 589.4M302.5 551.1L311.1 525.1 318.1 521.7 325.0 519.2 331.9 517.1 338.8 515.6 345.6 515.0 352.3 515.0 359.0 515.4 365.7 516.2 372.4 517.2 379.1 518.6 385.7 520.4 392.3 522.8 398.9 525.9 405.4 529.5 411.8 533.4 418.3 537.9 424.7 542.4 431.2 546.0 437.9 547.9 444.6 547.8 451.4 547.7 458.2 547.5 464.9 547.1 471.7 546.6 478.5 545.9 485.3 545.3 492.1 544.9 498.9 544.8 505.6 545.0 512.3 545.9 519.0 547.5 525.6 550.1 532.0 554.3 538.2 561.9 543.1 589.5M302.5 551.2L311.0 526.8 317.9 523.8 324.8 521.6 331.7 519.6 338.6 518.3 345.4 517.7 352.1 517.8 358.9 518.2 365.6 519.0 372.2 519.9 378.9 521.2 385.5 523.0 392.1 525.3 398.7 528.2 405.2 531.7 411.7 535.4 418.2 539.9 424.6 544.3 431.1 547.9 437.7 549.9 444.5 550.0 451.2 550.0 458.0 550.0 464.8 549.7 471.6 549.2 478.4 548.6 485.2 548.1 491.9 547.7 498.7 547.6 505.4 547.8 512.1 548.6 518.8 550.2 525.4 552.6 531.9 556.5 538.1 563.6 543.1 589.6M302.5 551.2L310.8 528.6 317.8 526.0 324.7 524.0 331.5 522.2 338.4 521.0 345.2 520.5 351.9 520.6 358.7 521.0 365.4 521.8 372.1 522.7 378.7 523.9 385.4 525.6 392.0 527.8 398.5 530.6 405.1 534.0 411.6 537.5 418.0 541.8 424.5 546.2 431.0 549.9 437.6 552.0 444.3 552.2 451.1 552.5 457.8 552.5 464.6 552.3 471.4 552.0 478.2 551.4 485.0 550.9 491.7 550.6 498.5 550.5 505.2 550.7 511.9 551.5 518.6 552.9 525.2 555.1 531.7 558.7 538.0 565.3 543.1 589.6M302.5 551.3L310.7 530.4 317.6 528.3 324.5 526.6 331.4 524.9 338.2 523.8 345.0 523.4 351.7 523.5 358.4 524.0 365.2 524.7 371.8 525.6 378.5 526.8 385.2 528.4 391.8 530.5 398.4 533.1 404.9 536.3 411.4 539.7 417.9 543.9 424.3 548.2 430.8 551.9 437.4 554.1 444.2 554.6 450.9 555.0 457.6 555.2 464.4 555.1 471.2 554.8 478.0 554.4 484.7 553.9 491.5 553.6 498.3 553.5 505.0 553.7 511.7 554.4 518.4 555.7 525.0 557.8 531.5 561.0 537.9 567.1 543.1 589.7M302.5 551.4L310.6 532.3 317.4 530.7 324.3 529.2 331.2 527.7 338.0 526.8 344.8 526.4 351.5 526.6 358.2 527.0 364.9 527.8 371.6 528.6 378.3 529.7 385.0 531.2 391.6 533.2 398.2 535.7 404.7 538.7 411.3 542.0 417.7 546.0 424.2 550.3 430.7 554.0 437.3 556.3 444.0 557.0 450.7 557.5 457.4 557.9 464.2 557.9 471.0 557.7 477.7 557.3 484.5 556.9 491.3 556.6 498.1 556.6 504.8 556.8 511.5 557.4 518.2 558.6 524.8 560.5 531.4 563.4 537.7 569.0 543.0 589.8M302.5 551.5L310.4 534.3 317.3 533.1 324.1 531.9 331.0 530.6 337.8 529.8 344.5 529.5 351.3 529.7 358.0 530.2 364.7 530.9 371.4 531.7 378.1 532.7 384.8 534.1 391.4 535.9 398.0 538.3 404.6 541.1 411.1 544.3 417.6 548.2 424.0 552.4 430.5 556.2 437.1 558.6 443.8 559.4 450.5 560.2 457.2 560.7 464.0 560.8 470.8 560.7 477.5 560.4 484.3 560.1 491.1 559.8 497.8 559.8 504.6 559.9 511.3 560.5 518.0 561.6 524.6 563.3 531.2 565.9 537.6 570.9 543.0 589.9M302.5 551.6L310.3 536.3 317.1 535.5 323.9 534.6 330.8 533.6 337.6 532.8 344.3 532.7 351.1 532.9 357.8 533.4 364.5 534.1 371.2 534.8 377.9 535.8 384.6 537.1 391.2 538.8 397.8 541.0 404.4 543.6 410.9 546.6 417.4 550.4 423.9 554.6 430.4 558.4 437.0 560.9 443.6 562.0 450.3 562.9 457.0 563.5 463.8 563.8 470.5 563.8 477.3 563.6 484.1 563.3 490.9 563.1 497.6 563.0 504.4 563.2 511.1 563.7 517.8 564.7 524.4 566.1 531.0 568.4 537.5 572.8 543.0 590.0M302.5 551.7L310.1 538.3 316.9 538.1 323.7 537.4 330.5 536.6 337.3 536.0 344.1 535.9 350.8 536.1 357.6 536.6 364.3 537.3 371.0 538.0 377.7 538.9 384.3 540.1 391.0 541.7 397.6 543.7 404.2 546.2 410.8 549.0 417.3 552.6 423.7 556.8 430.2 560.7 436.8 563.3 443.5 564.5 450.1 565.6 456.8 566.5 463.6 566.9 470.3 567.0 477.1 566.8 483.9 566.6 490.6 566.4 497.4 566.3 504.1 566.5 510.9 566.9 517.6 567.8 524.2 569.1 530.8 571.0 537.3 574.8 543.0 590.0M302.4 551.8L310.0 540.4 316.7 540.6 323.5 540.3 330.3 539.6 337.1 539.2 343.9 539.1 350.6 539.5 357.3 540.0 364.0 540.6 370.8 541.3 377.5 542.1 384.1 543.2 390.8 544.7 397.4 546.5 404.0 548.8 410.6 551.5 417.1 554.9 423.6 559.1 430.1 562.9 436.6 565.7 443.3 567.2 449.9 568.4 456.6 569.4 463.3 570.0 470.1 570.1 476.9 570.1 483.6 569.9 490.4 569.7 497.2 569.7 503.9 569.8 510.6 570.2 517.3 571.0 524.0 572.0 530.7 573.6 537.2 576.9 543.0 590.1M302.4 551.9L309.9 542.5 316.6 543.2 323.3 543.2 330.1 542.7 336.9 542.4 343.6 542.5 350.4 542.8 357.1 543.3 363.8 544.0 370.5 544.6 377.2 545.3 383.9 546.4 390.6 547.7 397.2 549.3 403.8 551.5 410.4 553.9 416.9 557.3 423.4 561.4 429.9 565.3 436.4 568.2 443.1 569.8 449.7 571.3 456.4 572.4 463.1 573.1 469.9 573.4 476.6 573.4 483.4 573.3 490.2 573.1 496.9 573.1 503.7 573.3 510.4 573.6 517.1 574.2 523.8 575.0 530.5 576.3 537.1 578.9 543.0 590.2M302.4 552.0L309.7 544.6 316.4 545.8 323.1 546.1 329.9 545.8 336.7 545.7 343.4 545.8 350.1 546.2 356.9 546.7 363.6 547.3 370.3 547.9 377.0 548.6 383.7 549.5 390.4 550.7 397.0 552.2 403.6 554.2 410.2 556.4 416.8 559.6 423.2 563.7 429.7 567.6 436.3 570.6 442.9 572.5 449.5 574.1 456.2 575.5 462.9 576.3 469.6 576.7 476.4 576.7 483.2 576.7 489.9 576.6 496.7 576.6 503.4 576.7 510.2 577.0 516.9 577.5 523.6 578.1 530.3 579.0 536.9 581.0 543.0 590.3M302.4 552.0L309.6 546.8 316.2 548.5 322.9 549.1 329.7 549.0 336.4 549.0 343.2 549.2 349.9 549.6 356.6 550.2 363.3 550.8 370.1 551.3 376.8 551.9 383.5 552.7 390.2 553.7 396.8 555.1 403.5 556.9 410.1 559.0 416.6 562.0 423.1 566.0 429.6 570.0 436.1 573.1 442.7 575.2 449.3 577.0 456.0 578.5 462.7 579.5 469.4 580.0 476.2 580.1 482.9 580.1 489.7 580.1 496.4 580.1 503.2 580.2 509.9 580.4 516.7 580.7 523.4 581.1 530.1 581.7 536.8 583.1 543.0 590.4M302.4 552.1L309.4 548.9 316.0 551.2 322.7 552.0 329.4 552.2 336.2 552.3 342.9 552.6 349.7 553.1 356.4 553.6 363.1 554.2 369.8 554.7 376.5 555.2 383.2 555.9 389.9 556.8 396.6 558.0 403.3 559.6 409.9 561.5 416.4 564.4 422.9 568.3 429.4 572.4 435.9 575.6 442.5 578.0 449.1 580.0 455.8 581.6 462.5 582.7 469.2 583.3 475.9 583.5 482.7 583.6 489.4 583.6 496.2 583.6 502.9 583.7 509.7 583.8 516.4 584.0 523.2 584.2 529.9 584.4 536.6 585.2 543.0 590.5M302.4 552.2L309.3 551.1 315.8 553.8 322.5 555.0 329.2 555.4 336.0 555.6 342.7 556.0 349.4 556.5 356.1 557.1 362.9 557.6 369.6 558.1 376.3 558.5 383.0 559.2 389.7 559.9 396.4 560.9 403.1 562.3 409.7 564.1 416.3 566.8 422.8 570.7 429.2 574.8 435.7 578.2 442.3 580.7 448.9 582.9 455.6 584.7 462.2 586.0 468.9 586.6 475.7 586.9 482.4 587.1 489.2 587.1 495.9 587.1 502.7 587.2 509.4 587.3 516.2 587.4 523.0 587.3 529.7 587.2 536.5 587.3 543.0 590.6M302.4 552.3L309.1 553.2 315.6 556.5 322.3 558.0 329.0 558.5 335.7 558.9 342.5 559.4 349.2 560.0 355.9 560.5 362.6 561.1 369.3 561.5 376.1 561.8 382.8 562.4 389.5 563.0 396.2 563.8 402.9 565.0 409.5 566.6 416.1 569.2 422.6 573.1 429.1 577.2 435.6 580.7 442.1 583.4 448.7 585.8 455.3 587.8 462.0 589.2 468.7 589.9 475.4 590.3 482.2 590.5 488.9 590.6 495.7 590.7 502.4 590.7 509.2 590.7 516.0 590.7 522.7 590.4 529.5 589.9 536.3 589.4 543.0 590.6M302.4 552.4L309.0 555.4 315.4 559.2 322.1 561.0 328.8 561.7 335.5 562.3 342.2 562.8 348.9 563.4 355.7 564.0 362.4 564.5 369.1 564.9 375.8 565.2 382.6 565.6 389.3 566.0 396.0 566.7 402.7 567.7 409.3 569.1 415.9 571.6 422.4 575.4 428.9 579.6 435.4 583.2 441.9 586.2 448.5 588.7 455.1 590.9 461.8 592.4 468.5 593.3 475.2 593.7 481.9 594.0 488.7 594.1 495.4 594.2 502.2 594.2 509.0 594.1 515.7 594.0 522.5 593.5 529.3 592.6 536.2 591.5 543.0 590.7M302.4 552.5L308.8 557.5 315.3 561.8 321.9 563.9 328.6 564.9 335.3 565.6 342.0 566.2 348.7 566.8 355.4 567.4 362.1 567.9 368.9 568.2 375.6 568.5 382.3 568.8 389.1 569.1 395.8 569.6 402.5 570.4 409.2 571.7 415.8 574.0 422.3 577.7 428.7 581.9 435.2 585.7 441.8 588.9 448.3 591.6 454.9 594.0 461.6 595.6 468.2 596.6 475.0 597.1 481.7 597.4 488.4 597.6 495.2 597.7 502.0 597.6 508.7 597.6 515.5 597.3 522.3 596.5 529.1 595.3 536.0 593.6 543.0 590.8M302.4 552.6L308.7 559.6 315.1 564.4 321.7 566.8 328.3 568.0 335.0 568.8 341.7 569.6 348.5 570.2 355.2 570.8 361.9 571.3 368.6 571.6 375.4 571.7 382.1 571.9 388.9 572.1 395.6 572.5 402.3 573.1 409.0 574.2 415.6 576.3 422.1 580.1 428.6 584.3 435.0 588.2 441.6 591.6 448.1 594.5 454.7 597.0 461.3 598.8 468.0 599.8 474.7 600.5 481.5 600.9 488.2 601.0 495.0 601.1 501.7 601.1 508.5 600.9 515.3 600.5 522.1 599.6 529.0 598.0 535.9 595.7 543.0 590.9M302.4 552.7L308.5 561.7 314.9 567.0 321.5 569.7 328.1 571.1 334.8 572.1 341.5 572.9 348.2 573.6 354.9 574.2 361.7 574.7 368.4 574.9 375.2 575.0 381.9 575.1 388.7 575.1 395.4 575.3 402.1 575.8 408.8 576.7 415.4 578.7 421.9 582.3 428.4 586.6 434.9 590.6 441.4 594.2 447.9 597.3 454.5 600.0 461.1 601.9 467.8 603.1 474.5 603.8 481.2 604.2 488.0 604.5 494.7 604.5 501.5 604.5 508.2 604.3 515.0 603.7 521.9 602.6 528.8 600.7 535.7 597.8 543.0 591.0M302.4 552.8L308.4 563.8 314.7 569.6 321.3 572.6 327.9 574.2 334.6 575.3 341.3 576.1 348.0 576.9 354.7 577.5 361.4 578.0 368.2 578.1 374.9 578.1 381.7 578.2 388.5 578.1 395.2 578.1 401.9 578.4 408.7 579.1 415.3 581.0 421.8 584.6 428.2 588.9 434.7 593.0 441.2 596.9 447.7 600.1 454.3 603.0 460.9 605.0 467.6 606.3 474.3 607.1 481.0 607.6 487.7 607.8 494.5 607.9 501.2 607.9 508.0 607.6 514.8 606.9 521.7 605.5 528.6 603.3 535.6 599.8 543.0 591.1M302.4 552.9L308.2 565.8 314.5 572.1 321.1 575.4 327.7 577.2 334.4 578.4 341.1 579.4 347.8 580.2 354.5 580.8 361.2 581.2 368.0 581.3 374.7 581.3 381.5 581.2 388.2 581.0 395.0 580.8 401.8 580.9 408.5 581.5 415.1 583.2 421.6 586.8 428.1 591.2 434.5 595.4 441.0 599.4 447.5 602.9 454.1 605.9 460.7 608.1 467.3 609.4 474.0 610.3 480.8 610.8 487.5 611.1 494.2 611.2 501.0 611.2 507.8 610.8 514.6 610.0 521.5 608.4 528.4 605.9 535.5 601.8 543.0 591.2M302.4 553.0L308.1 567.8 314.4 574.6 320.9 578.1 327.5 580.1 334.2 581.5 340.8 582.5 347.5 583.4 354.3 584.0 361.0 584.4 367.7 584.5 374.5 584.3 381.3 584.2 388.1 583.8 394.8 583.5 401.6 583.5 408.3 583.9 415.0 585.4 421.5 589.0 427.9 593.4 434.4 597.7 440.8 602.0 447.3 605.6 453.9 608.8 460.5 611.1 467.1 612.5 473.8 613.4 480.5 614.0 487.3 614.4 494.0 614.5 500.8 614.4 507.6 614.0 514.4 613.1 521.3 611.3 528.2 608.4 535.3 603.7 542.9 591.2M302.4 553.1L307.9 569.8 314.2 577.0 320.7 580.8 327.3 583.0 333.9 584.5 340.6 585.6 347.3 586.5 354.0 587.1 360.8 587.5 367.5 587.5 374.3 587.3 381.1 587.1 387.9 586.6 394.6 586.1 401.4 585.9 408.2 586.2 414.8 587.6 421.3 591.1 427.8 595.5 434.2 600.0 440.7 604.4 447.2 608.2 453.7 611.6 460.3 614.0 466.9 615.5 473.6 616.5 480.3 617.2 487.1 617.6 493.8 617.7 500.6 617.6 507.4 617.1 514.2 616.1 521.1 614.1 528.1 610.9 535.2 605.7 542.9 591.3M302.4 553.1L307.8 571.7 314.0 579.3 320.5 583.4 327.1 585.8 333.7 587.4 340.4 588.6 347.1 589.5 353.8 590.2 360.6 590.5 367.3 590.5 374.1 590.3 380.9 589.9 387.7 589.3 394.5 588.7 401.3 588.3 408.0 588.4 414.7 589.7 421.2 593.2 427.6 597.6 434.1 602.2 440.5 606.8 447.0 610.8 453.5 614.3 460.1 616.8 466.7 618.4 473.4 619.5 480.1 620.2 486.8 620.6 493.6 620.8 500.3 620.6 507.1 620.1 514.0 619.0 520.9 616.8 527.9 613.3 535.1 607.5 542.9 591.4M302.3 553.2L307.7 573.5 313.9 581.6 320.3 586.0 326.9 588.5 333.5 590.2 340.2 591.5 346.9 592.4 353.6 593.1 360.3 593.5 367.1 593.4 373.9 593.1 380.7 592.7 387.5 592.0 394.3 591.2 401.1 590.6 407.9 590.6 414.5 591.8 421.0 595.2 427.5 599.7 433.9 604.4 440.3 609.2 446.8 613.3 453.3 616.9 459.9 619.6 466.5 621.3 473.2 622.4 479.9 623.2 486.6 623.6 493.4 623.8 500.1 623.6 506.9 623.1 513.8 621.8 520.7 619.4 527.7 615.6 534.9 609.3 542.9 591.5M302.3 553.3L307.6 575.3 313.7 583.8 320.2 588.4 326.7 591.1 333.4 593.0 340.0 594.3 346.7 595.3 353.4 596.0 360.1 596.3 366.9 596.2 373.7 595.8 380.5 595.3 387.3 594.5 394.1 593.6 400.9 592.9 407.7 592.7 414.4 593.8 420.9 597.1 427.3 601.7 433.8 606.5 440.2 611.4 446.6 615.7 453.1 619.5 459.7 622.2 466.3 624.0 473.0 625.2 479.7 626.1 486.4 626.5 493.2 626.7 499.9 626.5 506.7 625.9 513.6 624.6 520.5 622.0 527.6 617.9 534.8 611.1 542.9 591.5M302.3 553.4L307.4 577.0 313.6 585.9 320.0 590.8 326.6 593.6 333.2 595.6 339.8 597.0 346.5 598.0 353.2 598.7 360.0 599.1 366.7 598.9 373.5 598.5 380.3 597.9 387.1 596.9 394.0 595.9 400.8 595.0 407.6 594.7 414.3 595.7 420.8 599.0 427.2 603.6 433.6 608.5 440.0 613.6 446.5 618.0 453.0 621.9 459.5 624.8 466.1 626.7 472.8 627.9 479.5 628.8 486.2 629.3 493.0 629.5 499.7 629.3 506.5 628.7 513.4 627.2 520.4 624.4 527.4 620.1 534.7 612.7 542.9 591.6M302.3 553.5L307.3 578.7 313.4 587.9 319.8 593.1 326.4 596.1 333.0 598.1 339.6 599.6 346.3 600.7 353.0 601.4 359.8 601.7 366.5 601.5 373.3 601.0 380.1 600.3 387.0 599.3 393.8 598.1 400.6 597.1 407.4 596.6 414.1 597.5 420.7 600.8 427.1 605.4 433.5 610.4 439.9 615.7 446.3 620.2 452.8 624.3 459.3 627.3 466.0 629.2 472.6 630.5 479.3 631.5 486.0 632.0 492.8 632.2 499.6 632.0 506.4 631.3 513.2 629.7 520.2 626.8 527.3 622.1 534.6 614.3 542.9 591.7M302.3 553.5L307.2 580.2 313.3 589.9 319.7 595.2 326.2 598.4 332.8 600.6 339.5 602.1 346.2 603.2 352.9 603.9 359.6 604.2 366.4 604.0 373.2 603.4 380.0 602.7 386.8 601.5 393.7 600.2 400.5 599.1 407.3 598.5 414.0 599.2 420.5 602.5 427.0 607.1 433.4 612.2 439.7 617.7 446.2 622.4 452.6 626.5 459.2 629.6 465.8 631.6 472.5 633.0 479.1 634.0 485.9 634.5 492.6 634.7 499.4 634.5 506.2 633.8 513.1 632.1 520.0 629.0 527.1 624.1 534.5 615.9 542.9 591.7M302.3 553.6L307.1 581.7 313.2 591.7 319.5 597.3 326.1 600.6 332.7 602.8 339.3 604.4 346.0 605.5 352.7 606.3 359.4 606.5 366.2 606.3 373.0 605.7 379.8 604.9 386.7 603.6 393.5 602.2 400.4 601.0 407.2 600.2 413.9 600.9 420.4 604.1 426.9 608.8 433.2 613.9 439.6 619.6 446.0 624.4 452.5 628.7 459.0 631.8 465.6 633.9 472.3 635.4 479.0 636.4 485.7 637.0 492.4 637.1 499.2 636.9 506.0 636.1 512.9 634.4 519.9 631.2 527.0 626.0 534.4 617.3 542.9 591.8M302.3 553.7L307.0 583.1 313.0 593.5 319.4 599.2 325.9 602.6 332.5 605.0 339.2 606.7 345.8 607.8 352.5 608.5 359.3 608.8 366.1 608.5 372.9 607.9 379.7 607.0 386.5 605.6 393.4 604.1 400.2 602.7 407.1 601.9 413.8 602.4 420.3 605.7 426.7 610.3 433.1 615.6 439.5 621.3 445.9 626.3 452.3 630.7 458.9 633.9 465.5 636.1 472.1 637.6 478.8 638.6 485.5 639.2 492.3 639.4 499.1 639.2 505.9 638.4 512.8 636.5 519.7 633.2 526.9 627.8 534.3 618.7 542.9 591.9M302.3 553.7L306.9 584.4 312.9 595.1 319.3 601.0 325.8 604.6 332.4 607.0 339.0 608.7 345.7 609.9 352.4 610.6 359.1 610.9 365.9 610.6 372.7 609.9 379.5 608.9 386.4 607.5 393.3 605.9 400.1 604.4 407.0 603.4 413.7 603.9 420.2 607.1 426.6 611.8 433.0 617.1 439.4 623.0 445.8 628.1 452.2 632.5 458.7 635.9 465.3 638.1 472.0 639.6 478.7 640.7 485.4 641.4 492.1 641.6 498.9 641.3 505.7 640.5 512.6 638.6 519.6 635.0 526.8 629.5 534.2 620.0 542.9 591.9M302.3 553.8L306.8 585.6 312.8 596.6 319.2 602.7 325.7 606.4 332.2 608.9 338.9 610.7 345.5 611.8 352.3 612.6 359.0 612.8 365.8 612.5 372.6 611.8 379.4 610.8 386.3 609.3 393.2 607.5 400.0 605.9 406.9 604.9 413.6 605.3 420.1 608.4 426.5 613.1 432.9 618.5 439.3 624.6 445.7 629.7 452.1 634.3 458.6 637.7 465.2 640.0 471.9 641.6 478.5 642.7 485.2 643.4 492.0 643.6 498.8 643.3 505.6 642.4 512.5 640.4 519.5 636.8 526.7 631.0 534.1 621.2 542.9 592.0M302.3 553.8L306.8 586.8 312.7 598.0 319.1 604.2 325.5 608.0 332.1 610.7 338.8 612.4 345.4 613.6 352.1 614.4 358.9 614.6 365.6 614.3 372.5 613.5 379.3 612.4 386.2 610.9 393.0 609.0 399.9 607.4 406.8 606.2 413.5 606.5 420.0 609.7 426.5 614.4 432.8 619.8 439.2 626.0 445.6 631.2 452.0 635.9 458.5 639.4 465.1 641.7 471.7 643.4 478.4 644.5 485.1 645.2 491.9 645.4 498.6 645.1 505.5 644.2 512.4 642.2 519.4 638.4 526.6 632.4 534.0 622.3 542.9 592.0M302.3 553.9L306.7 587.8 312.6 599.3 319.0 605.7 325.4 609.6 332.0 612.2 338.6 614.1 345.3 615.3 352.0 616.0 358.8 616.3 365.5 615.9 372.4 615.1 379.2 614.0 386.1 612.3 392.9 610.4 399.8 608.7 406.7 607.4 413.4 607.7 420.0 610.8 426.4 615.5 432.7 621.0 439.1 627.3 445.5 632.6 451.9 637.4 458.4 641.0 465.0 643.3 471.6 645.0 478.3 646.2 485.0 646.9 491.7 647.1 498.5 646.8 505.3 645.9 512.2 643.7 519.3 639.9 526.5 633.7 533.9 623.3 542.9 592.1M302.3 553.9L306.6 588.7 312.6 600.4 318.9 607.0 325.3 610.9 331.9 613.7 338.5 615.5 345.2 616.8 351.9 617.5 358.6 617.8 365.4 617.4 372.3 616.5 379.1 615.4 386.0 613.7 392.9 611.7 399.7 609.8 406.6 608.5 413.3 608.7 419.9 611.8 426.3 616.6 432.7 622.1 439.0 628.5 445.4 633.9 451.8 638.7 458.3 642.3 464.9 644.7 471.5 646.5 478.2 647.7 484.9 648.4 491.6 648.6 498.4 648.3 505.2 647.3 512.1 645.2 519.2 641.2 526.4 634.9 533.9 624.2 542.9 592.1M302.3 553.9L306.6 589.6 312.5 601.4 318.8 608.1 325.3 612.2 331.8 614.9 338.4 616.8 345.1 618.1 351.8 618.9 358.6 619.1 365.3 618.7 372.2 617.8 379.0 616.6 385.9 614.8 392.8 612.8 399.7 610.9 406.5 609.5 413.3 609.6 419.8 612.7 426.2 617.5 432.6 623.1 438.9 629.5 445.3 635.0 451.7 639.9 458.2 643.6 464.8 646.0 471.4 647.8 478.1 649.0 484.8 649.7 491.5 650.0 498.3 649.7 505.1 648.7 512.1 646.4 519.1 642.4 526.3 636.0 533.8 625.0 542.9 592.1M302.3 554.0L306.5 590.3 312.4 602.3 318.7 609.1 325.2 613.2 331.7 616.1 338.4 618.0 345.0 619.3 351.7 620.0 358.5 620.2 365.3 619.8 372.1 618.9 378.9 617.7 385.8 615.9 392.7 613.7 399.6 611.8 406.5 610.3 413.2 610.4 419.8 613.5 426.2 618.3 432.5 623.9 438.8 630.4 445.2 636.0 451.6 640.9 458.1 644.7 464.7 647.1 471.3 648.9 478.0 650.2 484.7 650.9 491.5 651.1 498.2 650.8 505.1 649.8 512.0 647.5 519.0 643.4 526.2 636.9 533.8 625.7 542.9 592.2M302.3 554.0L306.5 590.9 312.4 603.1 318.7 609.9 325.1 614.1 331.7 617.0 338.3 619.0 345.0 620.2 351.7 621.0 358.4 621.2 365.2 620.8 372.0 619.8 378.9 618.6 385.7 616.8 392.7 614.6 399.6 612.6 406.4 611.1 413.2 611.1 419.7 614.1 426.1 618.9 432.5 624.6 438.8 631.2 445.2 636.8 451.6 641.8 458.1 645.6 464.6 648.1 471.3 649.9 477.9 651.1 484.6 651.9 491.4 652.1 498.2 651.8 505.0 650.8 511.9 648.5 519.0 644.3 526.2 637.7 533.7 626.3 542.9 592.2M302.3 554.0L306.4 591.4 312.3 603.7 318.6 610.6 325.1 614.9 331.6 617.8 338.2 619.7 344.9 621.0 351.6 621.8 358.4 622.0 365.1 621.6 372.0 620.6 378.8 619.3 385.7 617.5 392.6 615.3 399.5 613.2 406.4 611.7 413.1 611.6 419.7 614.7 426.1 619.5 432.5 625.2 438.8 631.9 445.1 637.5 451.5 642.5 458.0 646.3 464.6 648.9 471.2 650.7 477.9 652.0 484.6 652.7 491.3 653.0 498.1 652.6 504.9 651.6 511.9 649.3 518.9 645.0 526.1 638.3 533.7 626.8 542.9 592.2M302.3 554.0L306.4 591.8 312.3 604.2 318.6 611.2 325.0 615.4 331.6 618.4 338.2 620.4 344.9 621.7 351.6 622.4 358.3 622.6 365.1 622.2 371.9 621.2 378.8 619.9 385.7 618.0 392.6 615.8 399.5 613.7 406.3 612.1 413.1 612.1 419.6 615.1 426.1 619.9 432.4 625.7 438.7 632.4 445.1 638.0 451.5 643.1 458.0 646.9 464.5 649.5 471.2 651.3 477.8 652.6 484.5 653.4 491.3 653.6 498.1 653.3 504.9 652.2 511.8 649.9 518.9 645.6 526.1 638.8 533.7 627.2 542.9 592.2M302.3 554.1L306.4 592.1 312.3 604.5 318.5 611.6 325.0 615.9 331.5 618.8 338.2 620.8 344.8 622.1 351.5 622.9 358.3 623.1 365.1 622.6 371.9 621.7 378.7 620.3 385.6 618.4 392.5 616.2 399.5 614.0 406.3 612.5 413.1 612.4 419.6 615.4 426.0 620.3 432.4 626.0 438.7 632.7 445.0 638.4 451.4 643.5 457.9 647.3 464.5 649.9 471.1 651.7 477.8 653.0 484.5 653.8 491.3 654.1 498.0 653.7 504.9 652.7 511.8 650.3 518.8 646.0 526.1 639.1 533.7 627.5 542.9 592.2M302.3 554.1L306.4 592.2 312.3 604.8 318.5 611.8 325.0 616.1 331.5 619.1 338.1 621.1 344.8 622.4 351.5 623.2 358.3 623.4 365.0 622.9 371.9 621.9 378.7 620.6 385.6 618.7 392.5 616.4 399.4 614.3 406.3 612.7 413.1 612.6 419.6 615.6 426.0 620.4 432.4 626.2 438.7 632.9 445.0 638.6 451.4 643.8 457.9 647.6 464.5 650.2 471.1 652.0 477.8 653.3 484.5 654.1 491.2 654.3 498.0 654.0 504.8 652.9 511.8 650.5 518.8 646.2 526.1 639.4 533.6 627.6 542.9 592.2" fill="none" stroke="#1a1a00" stroke-width="0.9"/>

<ellipse cx="418" cy="541" rx="30" ry="11" fill="#000" transform="rotate(22 418 541)" filter="url(#bl4)"/>
<ellipse cx="472" cy="526" rx="48" ry="8" fill="#000" transform="rotate(-5 472 526)" filter="url(#bl4)"/>
<ellipse cx="432" cy="537" rx="14" ry="8" fill="#000" opacity="0.9" filter="url(#bl4)"/>
<ellipse cx="412" cy="584" rx="21" ry="13" fill="#000" transform="rotate(35 412 584)" filter="url(#bl4)"/>
<ellipse cx="305" cy="565" rx="6" ry="30" fill="#000" opacity="0.4" filter="url(#bl4)"/>
<ellipse cx="541" cy="590" rx="6" ry="40" fill="#000" opacity="0.4" filter="url(#bl4)"/>
<ellipse cx="340" cy="622" rx="40" ry="5" fill="#000" opacity="0.5" filter="url(#bl4)"/>
<ellipse cx="490" cy="654" rx="40" ry="5" fill="#000" opacity="0.5" filter="url(#bl4)"/>


<path d="M304.4 534.0C305.6 526.2 306.6 520.4 309.0 515.3C311.4 510.2 313.8 507.2 318.5 503.5C323.2 499.8 331.1 495.1 337.3 493.0C343.6 490.9 349.3 490.4 356.0 490.6C362.7 490.8 371.0 492.3 377.3 494.0C383.6 495.7 388.3 497.8 393.8 501.0C399.3 504.2 405.1 509.1 410.2 513.0C415.3 517.0 420.0 521.9 424.3 524.7C428.6 527.5 432.2 529.4 436.0 530.0C439.8 530.6 441.2 529.3 447.0 528.2C452.8 527.1 462.7 524.9 470.5 523.5C478.3 522.1 486.9 520.4 494.0 520.0C501.1 519.6 507.4 519.8 512.9 521.2C518.4 522.6 523.1 525.1 527.0 528.2C530.9 531.3 533.9 534.9 536.4 540.0C538.9 545.1 541.1 551.8 542.3 558.8C543.5 565.8 543.6 574.5 543.4 582.3C543.2 590.1 542.6 598.3 541.0 605.8C539.4 613.2 537.1 620.7 534.0 627.0C530.9 633.3 527.0 639.1 522.3 643.4C517.6 647.7 512.5 651.0 505.8 652.8C499.1 654.6 490.1 654.8 482.3 654.0C474.5 653.2 465.5 651.0 458.8 648.1C452.1 645.2 447.4 640.7 442.3 636.4C437.2 632.1 432.9 626.2 428.2 622.3C423.5 618.4 418.6 614.3 414.0 612.9C409.4 611.5 406.9 612.6 400.8 614.0C394.7 615.4 385.1 619.4 377.3 621.0C369.5 622.6 361.6 623.8 353.8 623.4C346.0 623.0 337.0 621.4 330.3 618.7C323.6 616.0 318.1 612.5 313.8 607.0C309.5 601.5 306.4 593.2 304.4 585.8C302.4 578.3 302.0 570.9 302.0 562.3C302.0 553.7 303.2 541.8 304.4 534.0Z" fill="none" stroke="#000" stroke-width="7" opacity="0.85" filter="url(#bl2)"/>
</g>
<path d="M304.4 534.0C305.6 526.2 306.6 520.4 309.0 515.3C311.4 510.2 313.8 507.2 318.5 503.5C323.2 499.8 331.1 495.1 337.3 493.0C343.6 490.9 349.3 490.4 356.0 490.6C362.7 490.8 371.0 492.3 377.3 494.0C383.6 495.7 388.3 497.8 393.8 501.0C399.3 504.2 405.1 509.1 410.2 513.0C415.3 517.0 420.0 521.9 424.3 524.7C428.6 527.5 432.2 529.4 436.0 530.0C439.8 530.6 441.2 529.3 447.0 528.2C452.8 527.1 462.7 524.9 470.5 523.5C478.3 522.1 486.9 520.4 494.0 520.0C501.1 519.6 507.4 519.8 512.9 521.2C518.4 522.6 523.1 525.1 527.0 528.2C530.9 531.3 533.9 534.9 536.4 540.0C538.9 545.1 541.1 551.8 542.3 558.8C543.5 565.8 543.6 574.5 543.4 582.3C543.2 590.1 542.6 598.3 541.0 605.8C539.4 613.2 537.1 620.7 534.0 627.0C530.9 633.3 527.0 639.1 522.3 643.4C517.6 647.7 512.5 651.0 505.8 652.8C499.1 654.6 490.1 654.8 482.3 654.0C474.5 653.2 465.5 651.0 458.8 648.1C452.1 645.2 447.4 640.7 442.3 636.4C437.2 632.1 432.9 626.2 428.2 622.3C423.5 618.4 418.6 614.3 414.0 612.9C409.4 611.5 406.9 612.6 400.8 614.0C394.7 615.4 385.1 619.4 377.3 621.0C369.5 622.6 361.6 623.8 353.8 623.4C346.0 623.0 337.0 621.4 330.3 618.7C323.6 616.0 318.1 612.5 313.8 607.0C309.5 601.5 306.4 593.2 304.4 585.8C302.4 578.3 302.0 570.9 302.0 562.3C302.0 553.7 303.2 541.8 304.4 534.0Z" fill="none" stroke="#000" stroke-width="1.6"/>
<clipPath id="c3r"><path d="M854.7 610.7C854.1 614.0 852.8 617.2 850.8 620.1C848.8 623.0 846.0 625.7 842.6 628.0C839.3 630.4 835.1 632.5 830.6 634.1C826.1 635.8 821.0 637.0 815.7 637.9C810.4 638.7 804.5 639.1 798.8 639.0C793.0 639.0 786.9 638.5 781.1 637.5C775.2 636.6 769.3 635.2 763.7 633.5C758.2 631.7 752.8 629.6 748.0 627.1C743.2 624.7 738.7 621.9 735.0 619.0C731.2 616.0 727.9 612.8 725.4 609.5C723.0 606.2 721.1 602.7 720.1 599.4C719.1 596.0 718.8 592.5 719.3 589.3C719.9 586.0 721.2 582.8 723.2 579.9C725.2 577.0 728.0 574.3 731.4 572.0C734.7 569.6 738.9 567.5 743.4 565.9C747.9 564.2 753.0 563.0 758.3 562.1C763.6 561.3 769.5 560.9 775.2 561.0C781.0 561.0 787.1 561.5 792.9 562.5C798.8 563.4 804.7 564.8 810.3 566.5C815.8 568.3 821.2 570.4 826.0 572.9C830.8 575.3 835.3 578.1 839.0 581.0C842.8 584.0 846.1 587.2 848.6 590.5C851.0 593.8 852.9 597.3 853.9 600.6C854.9 604.0 855.2 607.5 854.7 610.7Z"/></clipPath>
<g clip-path="url(#c3r)">
<path d="M854.7 610.7C854.1 614.0 852.8 617.2 850.8 620.1C848.8 623.0 846.0 625.7 842.6 628.0C839.3 630.4 835.1 632.5 830.6 634.1C826.1 635.8 821.0 637.0 815.7 637.9C810.4 638.7 804.5 639.1 798.8 639.0C793.0 639.0 786.9 638.5 781.1 637.5C775.2 636.6 769.3 635.2 763.7 633.5C758.2 631.7 752.8 629.6 748.0 627.1C743.2 624.7 738.7 621.9 735.0 619.0C731.2 616.0 727.9 612.8 725.4 609.5C723.0 606.2 721.1 602.7 720.1 599.4C719.1 596.0 718.8 592.5 719.3 589.3C719.9 586.0 721.2 582.8 723.2 579.9C725.2 577.0 728.0 574.3 731.4 572.0C734.7 569.6 738.9 567.5 743.4 565.9C747.9 564.2 753.0 563.0 758.3 562.1C763.6 561.3 769.5 560.9 775.2 561.0C781.0 561.0 787.1 561.5 792.9 562.5C798.8 563.4 804.7 564.8 810.3 566.5C815.8 568.3 821.2 570.4 826.0 572.9C830.8 575.3 835.3 578.1 839.0 581.0C842.8 584.0 846.1 587.2 848.6 590.5C851.0 593.8 852.9 597.3 853.9 600.6C854.9 604.0 855.2 607.5 854.7 610.7Z" fill="#eef034"/>
<ellipse cx="790" cy="614" rx="34" ry="5" fill="#fff" opacity="0.6" filter="url(#bl4)"/>
<path d="M750.2 581.4L750.1 581.7 750.1 581.9 749.9 582.2 749.8 582.4 749.6 582.6 749.4 582.8 749.2 583.0 748.9 583.2 748.7 583.4 748.4 583.6 748.0 583.7 747.7 583.9 747.3 584.0 746.9 584.1 746.5 584.2 746.1 584.3 745.7 584.3 745.3 584.4 744.8 584.4 744.4 584.4 743.9 584.4 743.4 584.3 743.0 584.3 742.5 584.2 742.0 584.1 741.6 584.0 741.1 583.9 740.7 583.8 740.3 583.7 739.8 583.5 739.4 583.3 739.0 583.1 738.7 582.9 738.3 582.7 738.0 582.5 737.7 582.3 737.4 582.0 737.1 581.8 736.9 581.5 736.7 581.3 736.5 581.0 736.4 580.8 736.2 580.5 736.1 580.2 736.1 580.0 736.0 579.7 736.0 579.4 736.0 579.2 736.1 578.9 736.2 578.7 736.3 578.4 736.5 578.2 736.6 578.0 736.8 577.8 737.1 577.6 737.3 577.4 737.6 577.2 737.9 577.0 738.2 576.9 738.6 576.7 738.9 576.6 739.3 576.5 739.7 576.4 740.1 576.3 740.5 576.3 741.0 576.2 741.4 576.2 741.9 576.2 742.3 576.2 742.8 576.3 743.3 576.3 743.7 576.4 744.2 576.5 744.7 576.6 745.1 576.7 745.6 576.8 746.0 576.9 746.4 577.1 746.8 577.3 747.2 577.5 747.6 577.7 747.9 577.9 748.3 578.1 748.6 578.3 748.8 578.6 749.1 578.8 749.3 579.1 749.6 579.3 749.7 579.6 749.9 579.8 750.0 580.1 750.1 580.4 750.2 580.6 750.2 580.9 750.2 581.2 750.2 581.4M762.3 584.8L762.1 585.3 762.0 585.8 761.7 586.3 761.5 586.7 761.1 587.2 760.7 587.6 760.3 588.0 759.8 588.4 759.2 588.8 758.6 589.1 757.9 589.4 757.3 589.7 756.5 589.9 755.8 590.1 755.0 590.3 754.2 590.4 753.3 590.6 752.4 590.6 751.5 590.7 750.6 590.7 749.7 590.7 748.8 590.6 747.9 590.5 747.0 590.4 746.0 590.2 745.1 590.0 744.2 589.8 743.4 589.5 742.5 589.2 741.7 588.9 740.9 588.6 740.1 588.2 739.3 587.8 738.6 587.4 738.0 587.0 737.4 586.5 736.8 586.0 736.3 585.6 735.8 585.1 735.4 584.5 735.0 584.0 734.7 583.5 734.5 583.0 734.3 582.4 734.2 581.9 734.1 581.4 734.1 580.9 734.1 580.3 734.2 579.8 734.4 579.3 734.6 578.9 734.9 578.4 735.3 578.0 735.7 577.5 736.1 577.1 736.6 576.7 737.2 576.4 737.8 576.1 738.4 575.8 739.1 575.5 739.8 575.2 740.6 575.0 741.4 574.8 742.2 574.7 743.1 574.6 743.9 574.5 744.8 574.5 745.7 574.5 746.7 574.5 747.6 574.5 748.5 574.6 749.4 574.8 750.3 574.9 751.2 575.1 752.1 575.4 753.0 575.6 753.9 575.9 754.7 576.2 755.5 576.6 756.3 576.9 757.0 577.3 757.7 577.7 758.4 578.2 759.0 578.6 759.6 579.1 760.1 579.6 760.6 580.1 761.0 580.6 761.3 581.1 761.7 581.6 761.9 582.2 762.1 582.7 762.2 583.2 762.3 583.8 762.3 584.3 762.3 584.8M774 588.1L773.9 588.9 773.6 589.6 773.3 590.3 772.9 591.0 772.4 591.7 771.8 592.3 771.1 592.9 770.3 593.5 769.5 594.0 768.6 594.5 767.6 594.9 766.6 595.3 765.5 595.7 764.4 596.0 763.2 596.3 762.0 596.5 760.7 596.7 759.4 596.8 758.1 596.8 756.8 596.9 755.4 596.8 754.0 596.7 752.7 596.6 751.3 596.4 749.9 596.2 748.6 595.9 747.3 595.5 746.0 595.1 744.7 594.7 743.4 594.2 742.2 593.7 741.1 593.2 740.0 592.6 739.0 592.0 738.0 591.3 737.1 590.7 736.2 590.0 735.4 589.2 734.7 588.5 734.1 587.7 733.6 587.0 733.1 586.2 732.8 585.4 732.5 584.6 732.3 583.8 732.2 583.0 732.2 582.2 732.2 581.5 732.4 580.7 732.7 580.0 733.0 579.3 733.4 578.6 733.9 577.9 734.5 577.3 735.2 576.7 736.0 576.1 736.8 575.6 737.7 575.1 738.6 574.7 739.7 574.3 740.7 573.9 741.9 573.6 743.1 573.3 744.3 573.1 745.5 572.9 746.8 572.8 748.2 572.8 749.5 572.7 750.9 572.8 752.2 572.9 753.6 573.0 755.0 573.2 756.3 573.4 757.7 573.7 759.0 574.1 760.3 574.5 761.6 574.9 762.8 575.4 764.0 575.9 765.2 576.4 766.3 577.0 767.3 577.6 768.3 578.3 769.2 578.9 770.1 579.6 770.8 580.4 771.5 581.1 772.2 581.9 772.7 582.6 773.2 583.4 773.5 584.2 773.8 585.0 774.0 585.8 774.1 586.6 774.1 587.3 774.0 588.1M785.4 591.3L785.2 592.3 784.9 593.3 784.4 594.2 783.9 595.1 783.2 596.0 782.4 596.8 781.5 597.6 780.6 598.4 779.5 599.0 778.3 599.7 777.0 600.3 775.7 600.8 774.3 601.3 772.8 601.7 771.2 602.1 769.6 602.3 767.9 602.6 766.2 602.7 764.5 602.8 762.7 602.8 760.9 602.8 759.1 602.7 757.3 602.5 755.5 602.2 753.7 601.9 751.9 601.5 750.2 601.1 748.5 600.6 746.8 600.0 745.2 599.4 743.6 598.7 742.1 598.0 740.6 597.2 739.3 596.4 738.0 595.5 736.8 594.7 735.7 593.7 734.6 592.8 733.7 591.8 732.9 590.8 732.2 589.8 731.6 588.8 731.1 587.7 730.7 586.7 730.5 585.7 730.3 584.6 730.3 583.6 730.4 582.6 730.6 581.6 731.0 580.6 731.4 579.7 732.0 578.8 732.6 577.9 733.4 577.1 734.3 576.3 735.3 575.5 736.4 574.8 737.6 574.2 738.8 573.6 740.2 573.1 741.6 572.6 743.1 572.2 744.7 571.8 746.3 571.5 747.9 571.3 749.6 571.2 751.4 571.1 753.1 571.1 754.9 571.1 756.7 571.2 758.6 571.4 760.3 571.7 762.1 572.0 763.9 572.4 765.7 572.8 767.4 573.3 769.1 573.9 770.7 574.5 772.3 575.2 773.8 575.9 775.2 576.7 776.6 577.5 777.9 578.3 779.1 579.2 780.2 580.2 781.2 581.1 782.2 582.1 783.0 583.1 783.7 584.1 784.3 585.1 784.8 586.2 785.1 587.2 785.4 588.2 785.5 589.3 785.5 590.3 785.4 591.3M796.3 594.4L796.1 595.6 795.6 596.8 795.1 597.9 794.4 599.0 793.6 600.1 792.6 601.1 791.5 602.1 790.3 603.0 789.0 603.9 787.5 604.7 786.0 605.4 784.3 606.1 782.6 606.6 780.7 607.1 778.8 607.6 776.8 607.9 774.8 608.2 772.7 608.4 770.5 608.5 768.4 608.5 766.2 608.5 764.0 608.3 761.7 608.1 759.5 607.8 757.3 607.4 755.1 606.9 753.0 606.4 750.9 605.7 748.8 605.1 746.8 604.3 744.9 603.5 743.0 602.6 741.2 601.6 739.6 600.6 738.0 599.6 736.5 598.5 735.1 597.3 733.9 596.2 732.7 595.0 731.7 593.7 730.9 592.5 730.1 591.2 729.5 590.0 729.1 588.7 728.7 587.4 728.6 586.1 728.6 584.9 728.7 583.6 728.9 582.4 729.4 581.2 729.9 580.1 730.6 579.0 731.4 577.9 732.4 576.9 733.5 575.9 734.7 575.0 736.0 574.1 737.5 573.3 739.0 572.6 740.7 571.9 742.4 571.4 744.3 570.9 746.2 570.4 748.2 570.1 750.2 569.8 752.3 569.6 754.5 569.5 756.6 569.5 758.8 569.5 761.0 569.7 763.3 569.9 765.5 570.2 767.7 570.6 769.9 571.1 772.0 571.6 774.1 572.3 776.2 572.9 778.2 573.7 780.1 574.5 782.0 575.4 783.8 576.4 785.4 577.4 787.0 578.4 788.5 579.5 789.9 580.7 791.1 581.8 792.3 583.0 793.3 584.3 794.1 585.5 794.9 586.8 795.5 588.0 795.9 589.3 796.3 590.6 796.4 591.9 796.4 593.1 796.3 594.4M806.6 597.2L806.3 598.7 805.8 600.1 805.1 601.4 804.3 602.7 803.3 604.0 802.2 605.2 800.9 606.3 799.5 607.4 797.9 608.4 796.2 609.4 794.4 610.2 792.5 611.0 790.4 611.7 788.2 612.3 786.0 612.8 783.7 613.2 781.3 613.5 778.8 613.7 776.3 613.8 773.7 613.9 771.1 613.8 768.5 613.6 765.9 613.4 763.3 613.0 760.7 612.5 758.1 612.0 755.6 611.3 753.1 610.6 750.7 609.8 748.4 608.9 746.1 607.9 743.9 606.9 741.8 605.8 739.8 604.6 737.9 603.4 736.2 602.1 734.6 600.7 733.1 599.4 731.8 597.9 730.6 596.5 729.6 595.0 728.7 593.6 728.0 592.1 727.5 590.6 727.1 589.1 726.9 587.6 726.9 586.1 727.0 584.6 727.3 583.2 727.8 581.8 728.5 580.4 729.3 579.1 730.3 577.9 731.4 576.7 732.7 575.5 734.1 574.4 735.7 573.4 737.4 572.5 739.2 571.6 741.2 570.9 743.2 570.2 745.4 569.6 747.6 569.1 749.9 568.7 752.3 568.4 754.8 568.1 757.3 568.0 759.9 568.0 762.5 568.1 765.1 568.2 767.7 568.5 770.3 568.9 772.9 569.3 775.5 569.9 778.0 570.5 780.5 571.3 782.9 572.1 785.2 573.0 787.5 573.9 789.7 575.0 791.8 576.1 793.8 577.3 795.7 578.5 797.4 579.8 799.0 581.1 800.5 582.5 801.8 583.9 803.0 585.4 804.0 586.8 804.9 588.3 805.6 589.8 806.1 591.3 806.5 592.8 806.7 594.3 806.7 595.8 806.6 597.2M816.1 599.9L815.7 601.5 815.1 603.1 814.4 604.7 813.5 606.1 812.4 607.6 811.1 609.0 809.6 610.3 808.0 611.5 806.2 612.6 804.3 613.7 802.2 614.7 800.0 615.5 797.7 616.3 795.2 617.0 792.6 617.6 790.0 618.1 787.3 618.4 784.4 618.7 781.6 618.8 778.7 618.8 775.7 618.8 772.8 618.6 769.8 618.2 766.8 617.8 763.9 617.3 760.9 616.7 758.0 615.9 755.2 615.1 752.5 614.2 749.8 613.2 747.2 612.1 744.7 610.9 742.3 609.6 740.1 608.3 737.9 606.9 736.0 605.4 734.1 603.9 732.5 602.3 730.9 600.7 729.6 599.1 728.4 597.4 727.4 595.7 726.6 594.0 726.0 592.3 725.6 590.6 725.4 588.9 725.4 587.2 725.5 585.6 725.9 583.9 726.4 582.3 727.2 580.8 728.1 579.3 729.2 577.9 730.5 576.5 732.0 575.2 733.6 574.0 735.3 572.8 737.3 571.7 739.4 570.8 741.6 569.9 743.9 569.1 746.4 568.4 749.0 567.9 751.6 567.4 754.3 567.0 757.1 566.8 760.0 566.6 762.9 566.6 765.8 566.7 768.8 566.9 771.8 567.2 774.8 567.6 777.7 568.1 780.6 568.8 783.5 569.5 786.3 570.3 789.1 571.2 791.8 572.3 794.4 573.4 796.9 574.6 799.2 575.8 801.5 577.2 803.6 578.6 805.6 580.0 807.4 581.5 809.1 583.1 810.6 584.7 812.0 586.4 813.1 588.0 814.1 589.7 814.9 591.4 815.5 593.1 816.0 594.8 816.2 596.6 816.2 598.2 816.1 599.9M824.7 602.3L824.3 604.1 823.7 605.9 822.9 607.6 821.8 609.3 820.6 610.8 819.2 612.4 817.5 613.8 815.7 615.2 813.8 616.5 811.6 617.6 809.3 618.7 806.8 619.7 804.3 620.6 801.5 621.3 798.7 622.0 795.7 622.5 792.7 622.9 789.6 623.2 786.4 623.3 783.2 623.4 779.9 623.3 776.6 623.0 773.3 622.7 770.0 622.2 766.7 621.7 763.5 621.0 760.3 620.1 757.1 619.2 754.1 618.2 751.1 617.1 748.2 615.8 745.4 614.5 742.8 613.1 740.3 611.6 737.9 610.1 735.7 608.4 733.7 606.8 731.8 605.0 730.2 603.2 728.7 601.4 727.4 599.6 726.3 597.7 725.4 595.8 724.7 593.9 724.2 592.0 724.0 590.1 724.0 588.2 724.1 586.4 724.5 584.6 725.1 582.8 726.0 581.1 727.0 579.4 728.2 577.9 729.7 576.3 731.3 574.9 733.1 573.5 735.1 572.2 737.2 571.1 739.5 570.0 742.0 569.0 744.6 568.1 747.3 567.4 750.2 566.7 753.1 566.2 756.1 565.8 759.3 565.5 762.5 565.4 765.7 565.3 768.9 565.4 772.2 565.7 775.5 566.0 778.8 566.5 782.1 567.0 785.4 567.7 788.6 568.6 791.7 569.5 794.7 570.5 797.7 571.6 800.6 572.9 803.4 574.2 806.0 575.6 808.5 577.1 810.9 578.6 813.1 580.3 815.1 581.9 817.0 583.7 818.7 585.5 820.2 587.3 821.5 589.1 822.6 591.0 823.4 592.9 824.1 594.8 824.6 596.7 824.8 598.6 824.9 600.5 824.7 602.3M832.4 604.5L831.9 606.4 831.3 608.4 830.4 610.2 829.3 612.0 827.9 613.8 826.4 615.4 824.6 617.0 822.6 618.5 820.5 619.9 818.1 621.2 815.6 622.3 812.9 623.4 810.1 624.3 807.1 625.2 804.0 625.9 800.8 626.4 797.6 626.9 794.1 627.2 790.7 627.3 787.2 627.4 783.6 627.3 780.0 627.0 776.4 626.7 772.8 626.2 769.3 625.5 765.7 624.8 762.2 623.9 758.8 622.9 755.5 621.8 752.3 620.5 749.1 619.2 746.1 617.8 743.2 616.2 740.5 614.6 737.9 612.9 735.5 611.1 733.3 609.3 731.3 607.4 729.5 605.5 727.8 603.5 726.4 601.5 725.2 599.4 724.3 597.3 723.5 595.3 723.0 593.2 722.8 591.2 722.7 589.1 722.9 587.1 723.3 585.2 724.0 583.2 724.9 581.4 726.0 579.6 727.4 577.8 728.9 576.2 730.7 574.6 732.6 573.1 734.8 571.7 737.1 570.4 739.7 569.3 742.3 568.2 745.2 567.3 748.1 566.4 751.2 565.7 754.4 565.2 757.7 564.7 761.1 564.4 764.6 564.3 768.1 564.2 771.7 564.3 775.3 564.6 778.9 564.9 782.5 565.4 786.0 566.1 789.6 566.8 793.1 567.7 796.5 568.7 799.8 569.8 803.0 571.1 806.2 572.4 809.2 573.8 812.0 575.4 814.8 577.0 817.4 578.7 819.7 580.5 822.0 582.3 824.0 584.2 825.8 586.1 827.4 588.1 828.9 590.1 830.0 592.2 831.0 594.3 831.8 596.3 832.3 598.4 832.5 600.4 832.6 602.5 832.4 604.5M839 606.3L838.6 608.4 837.8 610.5 836.9 612.5 835.7 614.4 834.3 616.3 832.6 618.1 830.7 619.8 828.6 621.3 826.3 622.8 823.8 624.2 821.1 625.5 818.2 626.6 815.2 627.6 812.0 628.5 808.7 629.2 805.3 629.8 801.7 630.3 798.1 630.6 794.4 630.8 790.6 630.9 786.8 630.7 783.0 630.5 779.1 630.1 775.3 629.6 771.5 628.9 767.7 628.1 763.9 627.1 760.3 626.0 756.7 624.9 753.3 623.5 749.9 622.1 746.7 620.6 743.6 618.9 740.7 617.2 737.9 615.4 735.4 613.5 733.0 611.5 730.8 609.5 728.9 607.4 727.1 605.3 725.6 603.1 724.3 600.9 723.3 598.7 722.5 596.5 722.0 594.3 721.7 592.1 721.6 589.9 721.8 587.8 722.3 585.7 723.0 583.6 724.0 581.6 725.2 579.7 726.6 577.8 728.3 576.0 730.2 574.3 732.3 572.8 734.6 571.3 737.1 569.9 739.8 568.6 742.6 567.5 745.7 566.5 748.9 565.6 752.2 564.9 755.6 564.3 759.1 563.8 762.8 563.5 766.5 563.3 770.2 563.3 774.0 563.4 777.9 563.6 781.8 564.0 785.6 564.5 789.4 565.2 793.2 566.0 796.9 567.0 800.6 568.1 804.1 569.3 807.6 570.6 811.0 572.0 814.2 573.5 817.3 575.2 820.2 576.9 822.9 578.7 825.5 580.6 827.9 582.6 830.0 584.6 832.0 586.7 833.8 588.8 835.3 591.0 836.5 593.2 837.6 595.4 838.4 597.6 838.9 599.8 839.2 602.0 839.2 604.2 839.0 606.3M844.6 607.9L844.1 610.1 843.3 612.3 842.3 614.4 841.1 616.4 839.5 618.4 837.8 620.3 835.8 622.0 833.6 623.7 831.1 625.3 828.5 626.7 825.6 628.1 822.6 629.3 819.4 630.3 816.1 631.3 812.6 632.0 809.0 632.7 805.2 633.2 801.4 633.5 797.5 633.7 793.5 633.8 789.5 633.6 785.4 633.4 781.4 632.9 777.3 632.4 773.3 631.7 769.3 630.8 765.4 629.8 761.5 628.7 757.8 627.4 754.1 626.0 750.5 624.5 747.2 622.9 743.9 621.2 740.8 619.3 737.9 617.4 735.2 615.4 732.7 613.4 730.4 611.2 728.4 609.0 726.5 606.8 724.9 604.5 723.6 602.2 722.5 599.8 721.7 597.5 721.1 595.2 720.8 592.9 720.7 590.6 721.0 588.3 721.4 586.1 722.2 583.9 723.2 581.8 724.5 579.8 726.0 577.8 727.7 575.9 729.7 574.1 732.0 572.5 734.4 570.9 737.0 569.5 739.9 568.1 742.9 566.9 746.1 565.9 749.4 564.9 753.0 564.1 756.6 563.5 760.3 563.0 764.1 562.7 768.1 562.5 772.0 562.4 776.0 562.6 780.1 562.8 784.2 563.2 788.2 563.8 792.2 564.5 796.2 565.4 800.2 566.4 804.0 567.5 807.8 568.8 811.4 570.2 815.0 571.7 818.4 573.3 821.6 575.0 824.7 576.9 827.6 578.8 830.3 580.8 832.8 582.8 835.1 585.0 837.2 587.2 839.0 589.4 840.6 591.7 841.9 594.0 843.0 596.4 843.9 598.7 844.4 601.0 844.7 603.3 844.8 605.6 844.6 607.9M848.9 609.1L848.4 611.4 847.7 613.7 846.6 615.9 845.3 618.0 843.7 620.0 841.9 622.0 839.8 623.9 837.5 625.6 835.0 627.2 832.2 628.7 829.2 630.1 826.1 631.4 822.8 632.5 819.3 633.4 815.6 634.3 811.9 634.9 808.0 635.4 804.0 635.8 799.9 636.0 795.8 636.0 791.6 635.9 787.4 635.6 783.2 635.2 778.9 634.6 774.8 633.9 770.6 633.0 766.5 631.9 762.5 630.8 758.6 629.5 754.8 628.0 751.1 626.4 747.5 624.7 744.2 622.9 741.0 621.0 737.9 619.0 735.1 617.0 732.5 614.8 730.1 612.6 728.0 610.3 726.1 607.9 724.4 605.6 723.0 603.2 721.9 600.7 721.0 598.3 720.4 595.9 720.1 593.5 720.0 591.1 720.3 588.7 720.8 586.4 721.6 584.2 722.6 582.0 723.9 579.8 725.5 577.8 727.3 575.9 729.4 574.0 731.7 572.2 734.2 570.6 737.0 569.1 740.0 567.7 743.1 566.5 746.4 565.4 749.9 564.4 753.6 563.6 757.3 562.9 761.2 562.4 765.2 562.0 769.3 561.8 773.4 561.8 777.6 561.9 781.8 562.2 786.1 562.6 790.3 563.2 794.4 564.0 798.6 564.9 802.7 565.9 806.7 567.1 810.6 568.4 814.4 569.8 818.1 571.4 821.7 573.1 825.0 574.9 828.3 576.8 831.3 578.8 834.1 580.9 836.7 583.0 839.1 585.3 841.2 587.6 843.2 589.9 844.8 592.3 846.2 594.7 847.4 597.1 848.2 599.5 848.8 601.9 849.1 604.4 849.2 606.8 848.9 609.1M852.1 610.0L851.6 612.4 850.8 614.7 849.7 617.0 848.3 619.1 846.7 621.2 844.8 623.2 842.7 625.2 840.3 627.0 837.7 628.6 834.9 630.2 831.8 631.6 828.6 632.9 825.2 634.0 821.6 635.0 817.8 635.9 814.0 636.6 810.0 637.1 805.9 637.4 801.7 637.7 797.4 637.7 793.2 637.6 788.8 637.3 784.4 636.8 780.1 636.2 775.8 635.5 771.5 634.5 767.3 633.5 763.2 632.3 759.2 630.9 755.2 629.4 751.4 627.8 747.8 626.1 744.3 624.2 741.0 622.3 737.9 620.2 735.0 618.1 732.4 615.9 729.9 613.6 727.7 611.2 725.7 608.8 724.0 606.4 722.6 603.9 721.4 601.4 720.5 598.9 719.9 596.4 719.6 593.9 719.5 591.5 719.8 589.0 720.3 586.7 721.1 584.3 722.2 582.1 723.5 579.9 725.1 577.8 727.0 575.8 729.2 573.9 731.5 572.1 734.1 570.4 737.0 568.9 740.0 567.4 743.2 566.1 746.7 565.0 750.3 564.0 754.0 563.2 757.9 562.5 761.9 562.0 766.0 561.6 770.2 561.4 774.4 561.3 778.7 561.5 783.1 561.8 787.4 562.2 791.7 562.8 796.0 563.6 800.3 564.5 804.6 565.6 808.7 566.8 812.7 568.1 816.6 569.6 820.4 571.2 824.1 573.0 827.5 574.8 830.8 576.8 833.9 578.8 836.8 581.0 839.5 583.2 842.0 585.5 844.2 587.8 846.1 590.2 847.8 592.7 849.3 595.2 850.5 597.7 851.4 600.1 852.0 602.6 852.3 605.1 852.3 607.6 852.1 610.0M854 610.5L853.5 612.9 852.7 615.3 851.6 617.6 850.2 619.8 848.6 622.0 846.6 624.0 844.5 626.0 842.0 627.8 839.4 629.5 836.5 631.1 833.4 632.5 830.1 633.8 826.7 635.0 823.0 636.0 819.2 636.8 815.3 637.5 811.2 638.1 807.0 638.4 802.7 638.6 798.4 638.7 794.1 638.6 789.7 638.3 785.2 637.8 780.8 637.2 776.5 636.4 772.1 635.5 767.8 634.4 763.6 633.2 759.5 631.8 755.5 630.3 751.7 628.6 748.0 626.9 744.5 625.0 741.1 623.0 737.9 620.9 735.0 618.7 732.3 616.5 729.8 614.1 727.5 611.7 725.5 609.3 723.8 606.8 722.3 604.3 721.1 601.8 720.2 599.2 719.6 596.7 719.3 594.2 719.2 591.7 719.4 589.2 720.0 586.8 720.8 584.4 721.9 582.1 723.3 579.9 724.9 577.8 726.8 575.8 729.0 573.8 731.4 572.0 734.1 570.3 737.0 568.7 740.1 567.3 743.3 565.9 746.8 564.8 750.5 563.8 754.3 562.9 758.2 562.2 762.3 561.7 766.4 561.3 770.7 561.1 775.0 561.1 779.4 561.2 783.8 561.5 788.2 561.9 792.6 562.6 797.0 563.3 801.4 564.3 805.7 565.4 809.9 566.6 813.9 568.0 817.9 569.5 821.8 571.1 825.5 572.9 829.0 574.8 832.4 576.8 835.6 578.9 838.5 581.0 841.2 583.3 843.7 585.6 846.0 588.0 848.0 590.4 849.7 592.9 851.2 595.4 852.3 598.0 853.3 600.5 853.9 603.0 854.2 605.6 854.3 608.1 854.0 610.5M738 578.0L854.7 610.7M738 578.0L852.1 618.0M738 578.0L847.4 624.1M738 578.0L841.3 628.9M738 578.0L834.4 632.6M738 578.0L827.2 635.3M738 578.0L819.7 637.2M738 578.0L812.0 638.3M738 578.0L804.3 638.9M738 578.0L796.5 639.0M738 578.0L788.8 638.5M738 578.0L781.1 637.5M738 578.0L773.4 636.1M738 578.0L765.9 634.1M738 578.0L758.6 631.7M738 578.0L751.4 628.7M738 578.0L744.5 625.2M738 578.0L737.9 621.1M738 578.0L731.8 616.3M738 578.0L726.4 610.7M738 578.0L722.1 604.3M738 578.0L719.5 597.0M738 578.0L719.3 589.3M738 578.0L721.9 582.0M738 578.0L726.6 575.9M738 578.0L732.7 571.1M738 578.0L739.6 567.4M738 578.0L746.8 564.7M738 578.0L754.3 562.8M738 578.0L762.0 561.7M738 578.0L769.7 561.1M738 578.0L777.5 561.0M738 578.0L785.2 561.5M738 578.0L792.9 562.5M738 578.0L800.6 563.9M738 578.0L808.1 565.9M738 578.0L815.4 568.3M738 578.0L822.6 571.3M738 578.0L829.5 574.8M738 578.0L836.1 578.9M738 578.0L842.2 583.7M738 578.0L847.6 589.3M738 578.0L851.9 595.7M738 578.0L854.5 603.0" fill="none" stroke="#1a1a00" stroke-width="1.2"/>

<ellipse cx="730" cy="586" rx="16" ry="26" fill="#000" filter="url(#bl4)"/>
<ellipse cx="760" cy="570" rx="32" ry="7" fill="#000" opacity="0.8" filter="url(#bl4)"/>


<path d="M854.7 610.7C854.1 614.0 852.8 617.2 850.8 620.1C848.8 623.0 846.0 625.7 842.6 628.0C839.3 630.4 835.1 632.5 830.6 634.1C826.1 635.8 821.0 637.0 815.7 637.9C810.4 638.7 804.5 639.1 798.8 639.0C793.0 639.0 786.9 638.5 781.1 637.5C775.2 636.6 769.3 635.2 763.7 633.5C758.2 631.7 752.8 629.6 748.0 627.1C743.2 624.7 738.7 621.9 735.0 619.0C731.2 616.0 727.9 612.8 725.4 609.5C723.0 606.2 721.1 602.7 720.1 599.4C719.1 596.0 718.8 592.5 719.3 589.3C719.9 586.0 721.2 582.8 723.2 579.9C725.2 577.0 728.0 574.3 731.4 572.0C734.7 569.6 738.9 567.5 743.4 565.9C747.9 564.2 753.0 563.0 758.3 562.1C763.6 561.3 769.5 560.9 775.2 561.0C781.0 561.0 787.1 561.5 792.9 562.5C798.8 563.4 804.7 564.8 810.3 566.5C815.8 568.3 821.2 570.4 826.0 572.9C830.8 575.3 835.3 578.1 839.0 581.0C842.8 584.0 846.1 587.2 848.6 590.5C851.0 593.8 852.9 597.3 853.9 600.6C854.9 604.0 855.2 607.5 854.7 610.7Z" fill="none" stroke="#000" stroke-width="7" opacity="0.85" filter="url(#bl2)"/>
</g>
<path d="M854.7 610.7C854.1 614.0 852.8 617.2 850.8 620.1C848.8 623.0 846.0 625.7 842.6 628.0C839.3 630.4 835.1 632.5 830.6 634.1C826.1 635.8 821.0 637.0 815.7 637.9C810.4 638.7 804.5 639.1 798.8 639.0C793.0 639.0 786.9 638.5 781.1 637.5C775.2 636.6 769.3 635.2 763.7 633.5C758.2 631.7 752.8 629.6 748.0 627.1C743.2 624.7 738.7 621.9 735.0 619.0C731.2 616.0 727.9 612.8 725.4 609.5C723.0 606.2 721.1 602.7 720.1 599.4C719.1 596.0 718.8 592.5 719.3 589.3C719.9 586.0 721.2 582.8 723.2 579.9C725.2 577.0 728.0 574.3 731.4 572.0C734.7 569.6 738.9 567.5 743.4 565.9C747.9 564.2 753.0 563.0 758.3 562.1C763.6 561.3 769.5 560.9 775.2 561.0C781.0 561.0 787.1 561.5 792.9 562.5C798.8 563.4 804.7 564.8 810.3 566.5C815.8 568.3 821.2 570.4 826.0 572.9C830.8 575.3 835.3 578.1 839.0 581.0C842.8 584.0 846.1 587.2 848.6 590.5C851.0 593.8 852.9 597.3 853.9 600.6C854.9 604.0 855.2 607.5 854.7 610.7Z" fill="none" stroke="#000" stroke-width="1.6"/>
<clipPath id="c3l"><path d="M726.2 583.1C725.6 586.3 724.1 589.4 721.9 592.2C719.8 595.0 716.8 597.6 713.2 599.7C709.6 601.9 705.3 603.8 700.6 605.2C695.9 606.6 690.4 607.6 684.9 608.2C679.3 608.8 673.3 608.9 667.3 608.6C661.2 608.3 654.9 607.5 648.8 606.3C642.8 605.1 636.6 603.5 630.9 601.5C625.2 599.6 619.6 597.2 614.7 594.6C609.8 592.0 605.2 589.0 601.3 585.9C597.5 582.8 594.1 579.4 591.6 576.1C589.1 572.8 587.3 569.2 586.4 565.8C585.4 562.5 585.2 559.0 585.8 555.9C586.4 552.7 587.9 549.6 590.1 546.8C592.2 544.0 595.2 541.4 598.8 539.3C602.4 537.1 606.7 535.2 611.4 533.8C616.1 532.4 621.6 531.4 627.1 530.8C632.7 530.2 638.7 530.1 644.7 530.4C650.8 530.7 657.1 531.5 663.2 532.7C669.2 533.9 675.4 535.5 681.1 537.5C686.8 539.4 692.4 541.8 697.3 544.4C702.2 547.0 706.8 550.0 710.7 553.1C714.5 556.2 717.9 559.6 720.4 562.9C722.9 566.2 724.7 569.8 725.6 573.2C726.6 576.5 726.8 580.0 726.2 583.1Z"/></clipPath>
<g clip-path="url(#c3l)">
<path d="M726.2 583.1C725.6 586.3 724.1 589.4 721.9 592.2C719.8 595.0 716.8 597.6 713.2 599.7C709.6 601.9 705.3 603.8 700.6 605.2C695.9 606.6 690.4 607.6 684.9 608.2C679.3 608.8 673.3 608.9 667.3 608.6C661.2 608.3 654.9 607.5 648.8 606.3C642.8 605.1 636.6 603.5 630.9 601.5C625.2 599.6 619.6 597.2 614.7 594.6C609.8 592.0 605.2 589.0 601.3 585.9C597.5 582.8 594.1 579.4 591.6 576.1C589.1 572.8 587.3 569.2 586.4 565.8C585.4 562.5 585.2 559.0 585.8 555.9C586.4 552.7 587.9 549.6 590.1 546.8C592.2 544.0 595.2 541.4 598.8 539.3C602.4 537.1 606.7 535.2 611.4 533.8C616.1 532.4 621.6 531.4 627.1 530.8C632.7 530.2 638.7 530.1 644.7 530.4C650.8 530.7 657.1 531.5 663.2 532.7C669.2 533.9 675.4 535.5 681.1 537.5C686.8 539.4 692.4 541.8 697.3 544.4C702.2 547.0 706.8 550.0 710.7 553.1C714.5 556.2 717.9 559.6 720.4 562.9C722.9 566.2 724.7 569.8 725.6 573.2C726.6 576.5 726.8 580.0 726.2 583.1Z" fill="#eef034"/>
<ellipse cx="648" cy="584" rx="36" ry="5" fill="#fff" opacity="0.6" filter="url(#bl4)"/>
<path d="M706.3 572.3L706.3 572.5 706.2 572.8 706.0 573.0 705.9 573.2 705.7 573.4 705.5 573.6 705.2 573.8 705.0 574.0 704.7 574.2 704.3 574.3 704.0 574.5 703.6 574.6 703.3 574.7 702.9 574.8 702.4 574.8 702.0 574.9 701.6 574.9 701.1 574.9 700.6 574.9 700.2 574.9 699.7 574.9 699.2 574.8 698.7 574.8 698.2 574.7 697.8 574.6 697.3 574.5 696.8 574.3 696.4 574.2 695.9 574.0 695.5 573.9 695.1 573.7 694.7 573.5 694.3 573.3 693.9 573.0 693.6 572.8 693.3 572.6 693.0 572.3 692.7 572.1 692.5 571.8 692.3 571.5 692.1 571.3 691.9 571.0 691.8 570.7 691.7 570.5 691.6 570.2 691.6 569.9 691.6 569.7 691.6 569.4 691.7 569.2 691.8 568.9 691.9 568.7 692.1 568.5 692.3 568.3 692.5 568.1 692.7 567.9 693.0 567.7 693.3 567.5 693.6 567.4 694.0 567.2 694.3 567.1 694.7 567.0 695.1 566.9 695.5 566.9 696.0 566.8 696.4 566.8 696.9 566.7 697.3 566.7 697.8 566.8 698.3 566.8 698.8 566.8 699.3 566.9 699.7 567.0 700.2 567.1 700.7 567.2 701.1 567.3 701.6 567.5 702.0 567.7 702.5 567.8 702.9 568.0 703.3 568.2 703.7 568.4 704.0 568.7 704.4 568.9 704.7 569.1 705.0 569.4 705.3 569.6 705.5 569.9 705.7 570.2 705.9 570.4 706.0 570.7 706.2 571.0 706.3 571.2 706.3 571.5 706.4 571.8 706.4 572.0 706.3 572.3M708.6 573.5L708.5 574.0 708.3 574.5 708.0 575.0 707.7 575.4 707.4 575.8 706.9 576.2 706.4 576.6 705.9 577.0 705.3 577.3 704.7 577.6 704.0 577.9 703.3 578.1 702.5 578.3 701.7 578.5 700.9 578.6 700.0 578.7 699.1 578.8 698.2 578.8 697.3 578.8 696.4 578.8 695.4 578.7 694.4 578.6 693.5 578.5 692.5 578.3 691.6 578.1 690.6 577.9 689.7 577.6 688.8 577.3 687.9 577.0 687.1 576.7 686.2 576.3 685.4 575.9 684.7 575.5 684.0 575.0 683.3 574.6 682.6 574.1 682.1 573.6 681.5 573.1 681.1 572.6 680.6 572.1 680.3 571.5 680.0 571.0 679.7 570.5 679.5 569.9 679.4 569.4 679.4 568.9 679.4 568.4 679.4 567.9 679.6 567.4 679.7 566.9 680.0 566.4 680.3 566.0 680.7 565.5 681.1 565.1 681.6 564.8 682.1 564.4 682.7 564.1 683.3 563.8 684.0 563.5 684.8 563.3 685.5 563.1 686.3 562.9 687.2 562.7 688.0 562.6 688.9 562.6 689.8 562.5 690.7 562.5 691.7 562.6 692.6 562.6 693.6 562.7 694.6 562.9 695.5 563.0 696.5 563.2 697.4 563.5 698.3 563.7 699.2 564.0 700.1 564.4 701.0 564.7 701.8 565.1 702.6 565.5 703.4 565.9 704.1 566.3 704.8 566.8 705.4 567.3 706.0 567.8 706.5 568.3 707.0 568.8 707.4 569.3 707.8 569.8 708.1 570.4 708.3 570.9 708.5 571.4 708.6 572.0 708.7 572.5 708.7 573.0 708.6 573.5M710.9 574.8L710.7 575.5 710.4 576.2 710.0 576.9 709.5 577.6 709.0 578.2 708.4 578.8 707.6 579.4 706.8 579.9 706.0 580.4 705.0 580.8 704.0 581.2 702.9 581.6 701.8 581.9 700.6 582.1 699.4 582.3 698.1 582.5 696.8 582.6 695.4 582.7 694.0 582.7 692.6 582.6 691.2 582.5 689.8 582.4 688.4 582.2 687.0 581.9 685.5 581.6 684.1 581.3 682.8 580.9 681.4 580.4 680.1 580.0 678.8 579.4 677.6 578.9 676.4 578.3 675.3 577.7 674.2 577.0 673.2 576.3 672.3 575.6 671.4 574.9 670.6 574.1 669.9 573.3 669.3 572.6 668.7 571.8 668.3 571.0 667.9 570.2 667.6 569.4 667.5 568.6 667.4 567.8 667.4 567.1 667.5 566.3 667.7 565.6 668.0 564.9 668.3 564.2 668.8 563.5 669.3 562.9 670.0 562.3 670.7 561.7 671.5 561.2 672.4 560.7 673.3 560.3 674.3 559.9 675.4 559.5 676.5 559.2 677.7 558.9 679.0 558.7 680.2 558.6 681.6 558.5 682.9 558.4 684.3 558.4 685.7 558.5 687.1 558.6 688.5 558.7 690.0 558.9 691.4 559.2 692.8 559.5 694.2 559.8 695.6 560.2 696.9 560.6 698.2 561.1 699.5 561.6 700.7 562.2 701.9 562.8 703.0 563.4 704.1 564.1 705.1 564.8 706.1 565.5 706.9 566.2 707.7 567.0 708.4 567.7 709.1 568.5 709.6 569.3 710.0 570.1 710.4 570.9 710.7 571.7 710.9 572.4 711.0 573.2 711.0 574.0 710.9 574.8M713 575.9L712.8 576.9 712.4 577.8 711.9 578.8 711.3 579.6 710.6 580.5 709.7 581.2 708.8 582.0 707.7 582.7 706.6 583.3 705.4 583.9 704.0 584.4 702.6 584.9 701.1 585.3 699.5 585.6 697.9 585.9 696.2 586.1 694.5 586.3 692.7 586.3 690.9 586.4 689.1 586.3 687.2 586.2 685.3 586.0 683.4 585.7 681.6 585.4 679.7 585.0 677.9 584.5 676.0 584.0 674.3 583.4 672.6 582.8 670.9 582.1 669.2 581.4 667.7 580.6 666.2 579.8 664.8 578.9 663.5 578.0 662.2 577.1 661.1 576.1 660.1 575.1 659.1 574.1 658.3 573.1 657.6 572.0 657.0 571.0 656.5 569.9 656.1 568.9 655.9 567.9 655.8 566.8 655.8 565.8 655.9 564.8 656.2 563.9 656.6 562.9 657.0 562.0 657.7 561.2 658.4 560.3 659.2 559.5 660.2 558.8 661.2 558.1 662.4 557.5 663.6 556.9 664.9 556.3 666.3 555.9 667.8 555.5 669.4 555.1 671.0 554.9 672.7 554.6 674.5 554.5 676.2 554.4 678.1 554.4 679.9 554.5 681.8 554.6 683.6 554.8 685.5 555.1 687.4 555.4 689.2 555.8 691.1 556.3 692.9 556.8 694.7 557.4 696.4 558.0 698.1 558.7 699.7 559.4 701.3 560.2 702.7 561.0 704.2 561.9 705.5 562.8 706.7 563.7 707.9 564.7 708.9 565.7 709.8 566.7 710.7 567.7 711.4 568.7 712.0 569.8 712.4 570.8 712.8 571.9 713.0 572.9 713.2 573.9 713.2 575.0 713.0 575.9M715.1 577.1L714.8 578.3 714.3 579.4 713.7 580.5 713.0 581.6 712.1 582.6 711.0 583.6 709.9 584.5 708.6 585.4 707.2 586.1 705.7 586.9 704.0 587.5 702.3 588.1 700.5 588.6 698.5 589.0 696.5 589.3 694.4 589.6 692.3 589.8 690.1 589.9 687.9 589.9 685.6 589.8 683.3 589.6 681.0 589.4 678.7 589.1 676.4 588.7 674.1 588.2 671.9 587.6 669.6 587.0 667.5 586.3 665.3 585.5 663.3 584.6 661.3 583.7 659.4 582.8 657.5 581.8 655.8 580.7 654.2 579.6 652.7 578.4 651.3 577.3 650.0 576.0 648.8 574.8 647.8 573.5 646.9 572.3 646.2 571.0 645.6 569.7 645.2 568.4 644.9 567.2 644.7 565.9 644.8 564.6 644.9 563.4 645.2 562.2 645.7 561.1 646.3 560.0 647.0 558.9 647.9 557.9 649.0 556.9 650.1 556.0 651.4 555.1 652.8 554.4 654.3 553.6 656.0 553.0 657.7 552.4 659.5 551.9 661.5 551.5 663.5 551.2 665.6 550.9 667.7 550.7 669.9 550.6 672.1 550.6 674.4 550.7 676.7 550.9 679.0 551.1 681.3 551.4 683.6 551.8 685.9 552.3 688.1 552.9 690.4 553.5 692.5 554.2 694.7 555.0 696.7 555.9 698.7 556.8 700.6 557.7 702.5 558.7 704.2 559.8 705.8 560.9 707.3 562.1 708.7 563.2 710.0 564.5 711.2 565.7 712.2 567.0 713.1 568.2 713.8 569.5 714.4 570.8 714.8 572.1 715.1 573.3 715.3 574.6 715.2 575.9 715.1 577.1M717 578.1L716.7 579.5 716.1 580.9 715.4 582.2 714.5 583.5 713.5 584.7 712.3 585.8 710.9 586.9 709.4 587.9 707.8 588.8 706.0 589.6 704.0 590.4 702.0 591.1 699.8 591.7 697.6 592.2 695.2 592.6 692.8 592.9 690.3 593.1 687.7 593.2 685.1 593.2 682.4 593.1 679.7 592.9 677.0 592.6 674.3 592.2 671.6 591.8 668.9 591.2 666.2 590.5 663.6 589.8 661.0 588.9 658.6 588.0 656.1 587.0 653.8 586.0 651.5 584.8 649.4 583.7 647.3 582.4 645.4 581.1 643.6 579.7 642.0 578.4 640.5 576.9 639.1 575.5 638.0 574.0 636.9 572.5 636.1 571.0 635.4 569.5 634.8 568.0 634.5 566.5 634.3 565.0 634.3 563.5 634.5 562.1 634.9 560.7 635.4 559.3 636.2 558.0 637.0 556.8 638.1 555.6 639.3 554.4 640.7 553.4 642.2 552.4 643.8 551.4 645.6 550.6 647.6 549.8 649.6 549.1 651.7 548.6 654.0 548.1 656.4 547.7 658.8 547.4 661.3 547.2 663.9 547.1 666.5 547.1 669.2 547.1 671.9 547.3 674.6 547.6 677.3 548.0 680.0 548.5 682.7 549.1 685.3 549.7 688.0 550.5 690.5 551.3 693.0 552.2 695.5 553.2 697.8 554.3 700.1 555.4 702.2 556.6 704.2 557.8 706.2 559.1 707.9 560.5 709.6 561.9 711.1 563.3 712.4 564.8 713.6 566.2 714.6 567.7 715.5 569.2 716.2 570.8 716.7 572.3 717.1 573.8 717.2 575.2 717.2 576.7 717.0 578.1M718.8 579.1L718.4 580.7 717.8 582.3 717.0 583.8 716.0 585.2 714.8 586.6 713.4 587.9 711.9 589.1 710.2 590.2 708.3 591.3 706.2 592.2 704.0 593.1 701.7 593.9 699.3 594.5 696.7 595.1 694.0 595.5 691.2 595.9 688.4 596.1 685.4 596.2 682.4 596.3 679.4 596.2 676.4 595.9 673.3 595.6 670.2 595.2 667.1 594.6 664.0 594.0 661.0 593.2 658.0 592.4 655.1 591.4 652.3 590.4 649.5 589.3 646.8 588.0 644.3 586.8 641.8 585.4 639.5 584.0 637.3 582.5 635.3 581.0 633.4 579.4 631.7 577.7 630.2 576.1 628.8 574.4 627.7 572.7 626.7 571.0 625.9 569.3 625.3 567.6 624.9 565.9 624.7 564.2 624.7 562.5 624.9 560.9 625.3 559.3 625.9 557.7 626.8 556.2 627.8 554.8 628.9 553.4 630.3 552.1 631.9 550.9 633.6 549.8 635.5 548.7 637.5 547.8 639.7 546.9 642.1 546.1 644.5 545.5 647.1 544.9 649.8 544.4 652.5 544.1 655.4 543.9 658.3 543.7 661.3 543.7 664.4 543.8 667.4 544.1 670.5 544.4 673.6 544.8 676.7 545.4 679.7 546.0 682.8 546.8 685.8 547.6 688.7 548.6 691.5 549.6 694.3 550.7 697.0 551.9 699.5 553.2 701.9 554.6 704.3 556.0 706.5 557.5 708.5 559.0 710.3 560.6 712.1 562.2 713.6 563.9 714.9 565.6 716.1 567.3 717.1 569.0 717.9 570.7 718.5 572.4 718.9 574.1 719.1 575.8 719.1 577.5 718.8 579.1M720.5 580.0L720.0 581.8 719.3 583.5 718.4 585.2 717.3 586.8 716.0 588.3 714.5 589.7 712.7 591.1 710.8 592.3 708.8 593.5 706.5 594.6 704.0 595.5 701.5 596.4 698.7 597.1 695.9 597.8 692.9 598.3 689.8 598.6 686.6 598.9 683.4 599.0 680.0 599.0 676.7 598.9 673.3 598.7 669.9 598.3 666.4 597.8 663.0 597.2 659.6 596.5 656.3 595.7 652.9 594.7 649.7 593.7 646.5 592.5 643.5 591.3 640.5 589.9 637.6 588.5 634.9 587.0 632.4 585.4 629.9 583.8 627.7 582.1 625.6 580.3 623.7 578.5 622.0 576.6 620.5 574.8 619.2 572.9 618.1 571.0 617.2 569.1 616.6 567.2 616.1 565.3 615.9 563.4 615.9 561.6 616.2 559.7 616.6 558.0 617.3 556.3 618.2 554.6 619.3 553.0 620.6 551.5 622.2 550.1 623.9 548.7 625.8 547.4 627.9 546.3 630.2 545.2 632.6 544.2 635.2 543.4 637.9 542.6 640.8 542.0 643.8 541.5 646.9 541.1 650.0 540.9 653.3 540.7 656.6 540.7 660.0 540.8 663.4 541.1 666.8 541.4 670.2 541.9 673.6 542.5 677.0 543.2 680.4 544.1 683.7 545.0 687.0 546.1 690.1 547.2 693.2 548.5 696.2 549.8 699.0 551.3 701.7 552.8 704.3 554.4 706.7 556.0 709.0 557.7 711.0 559.5 712.9 561.3 714.7 563.1 716.2 565.0 717.5 566.9 718.5 568.8 719.4 570.7 720.1 572.6 720.5 574.5 720.7 576.4 720.7 578.2 720.5 580.0M721.9 580.8L721.4 582.7 720.7 584.6 719.7 586.4 718.5 588.2 717.1 589.8 715.4 591.4 713.5 592.9 711.4 594.2 709.2 595.5 706.7 596.7 704.0 597.7 701.2 598.6 698.3 599.4 695.1 600.1 691.9 600.7 688.5 601.1 685.1 601.4 681.5 601.5 677.9 601.5 674.3 601.4 670.6 601.1 666.8 600.7 663.1 600.2 659.4 599.6 655.7 598.8 652.0 597.9 648.4 596.8 644.9 595.7 641.4 594.4 638.1 593.1 634.8 591.6 631.8 590.1 628.8 588.4 626.0 586.7 623.4 584.9 620.9 583.0 618.7 581.1 616.6 579.2 614.7 577.1 613.1 575.1 611.7 573.1 610.5 571.0 609.5 568.9 608.8 566.8 608.4 564.8 608.1 562.7 608.1 560.7 608.4 558.7 608.9 556.8 609.6 555.0 610.6 553.1 611.8 551.4 613.3 549.8 614.9 548.2 616.8 546.7 618.9 545.3 621.2 544.1 623.6 542.9 626.3 541.8 629.1 540.9 632.1 540.1 635.2 539.4 638.4 538.9 641.8 538.5 645.2 538.2 648.8 538.1 652.4 538.0 656.1 538.2 659.8 538.4 663.5 538.8 667.2 539.4 671.0 540.0 674.6 540.8 678.3 541.7 681.9 542.7 685.5 543.9 688.9 545.1 692.2 546.5 695.5 548.0 698.6 549.5 701.5 551.2 704.3 552.9 707.0 554.7 709.4 556.5 711.7 558.4 713.7 560.4 715.6 562.4 717.2 564.5 718.6 566.5 719.8 568.6 720.8 570.7 721.5 572.7 722.0 574.8 722.2 576.8 722.2 578.9 721.9 580.8M723.2 581.5L722.7 583.6 721.9 585.6 720.8 587.5 719.5 589.4 718.0 591.1 716.2 592.8 714.2 594.4 712.0 595.9 709.5 597.2 706.9 598.5 704.0 599.6 701.0 600.6 697.9 601.5 694.5 602.2 691.0 602.8 687.5 603.2 683.8 603.5 680.0 603.7 676.1 603.7 672.2 603.6 668.2 603.3 664.2 602.8 660.2 602.3 656.2 601.6 652.3 600.7 648.4 599.8 644.5 598.7 640.7 597.4 637.0 596.1 633.4 594.6 630.0 593.1 626.7 591.4 623.5 589.7 620.5 587.8 617.7 585.9 615.1 583.9 612.7 581.8 610.4 579.7 608.4 577.6 606.7 575.4 605.2 573.2 603.9 571.0 602.9 568.8 602.1 566.5 601.6 564.3 601.4 562.1 601.4 560.0 601.6 557.9 602.2 555.8 603.0 553.8 604.0 551.9 605.3 550.0 606.9 548.3 608.7 546.6 610.7 545.0 612.9 543.5 615.3 542.2 618.0 540.9 620.8 539.8 623.8 538.8 627.0 537.9 630.3 537.2 633.8 536.6 637.4 536.2 641.1 535.9 644.9 535.7 648.8 535.7 652.7 535.8 656.6 536.1 660.6 536.6 664.7 537.1 668.6 537.8 672.6 538.7 676.5 539.6 680.4 540.7 684.1 542.0 687.8 543.3 691.4 544.8 694.9 546.3 698.2 548.0 701.3 549.8 704.3 551.6 707.2 553.5 709.8 555.5 712.2 557.6 714.4 559.7 716.4 561.8 718.2 564.0 719.7 566.2 721.0 568.4 722.0 570.7 722.7 572.9 723.2 575.1 723.5 577.3 723.5 579.4 723.2 581.5M724.3 582.1L723.7 584.3 722.9 586.4 721.8 588.4 720.4 590.4 718.8 592.2 716.9 594.0 714.8 595.7 712.4 597.2 709.8 598.7 707.0 600.0 704.0 601.2 700.9 602.2 697.5 603.1 694.0 603.9 690.3 604.5 686.5 605.0 682.7 605.3 678.6 605.5 674.6 605.5 670.4 605.3 666.3 605.0 662.0 604.6 657.8 604.0 653.6 603.3 649.5 602.4 645.3 601.3 641.2 600.2 637.2 598.9 633.4 597.5 629.6 595.9 625.9 594.3 622.4 592.5 619.1 590.7 615.9 588.7 612.9 586.7 610.2 584.6 607.6 582.4 605.3 580.2 603.2 577.9 601.4 575.7 599.8 573.3 598.4 571.0 597.3 568.6 596.5 566.3 596.0 564.0 595.7 561.7 595.7 559.4 596.0 557.2 596.6 555.0 597.4 552.9 598.5 550.8 599.9 548.9 601.5 547.0 603.4 545.2 605.5 543.6 607.9 542.0 610.5 540.6 613.3 539.3 616.3 538.1 619.4 537.0 622.8 536.1 626.3 535.4 630.0 534.7 633.8 534.3 637.6 534.0 641.7 533.8 645.7 533.8 649.9 533.9 654.0 534.2 658.3 534.7 662.5 535.3 666.7 536.0 670.8 536.9 675.0 537.9 679.1 539.1 683.1 540.4 686.9 541.8 690.7 543.3 694.4 545.0 697.9 546.7 701.2 548.6 704.4 550.5 707.4 552.6 710.1 554.7 712.7 556.8 715.0 559.0 717.1 561.3 718.9 563.6 720.5 565.9 721.9 568.3 723.0 570.6 723.8 573.0 724.3 575.3 724.6 577.6 724.6 579.9 724.3 582.1M725.1 582.5L724.5 584.8 723.6 587.0 722.5 589.1 721.1 591.2 719.4 593.1 717.4 595.0 715.2 596.7 712.8 598.3 710.1 599.8 707.2 601.2 704.0 602.4 700.7 603.5 697.3 604.4 693.6 605.2 689.8 605.9 685.8 606.4 681.8 606.7 677.6 606.9 673.3 606.9 669.1 606.7 664.7 606.4 660.3 606.0 655.9 605.4 651.5 604.6 647.2 603.7 642.9 602.6 638.6 601.4 634.5 600.0 630.5 598.6 626.5 596.9 622.7 595.2 619.1 593.4 615.6 591.5 612.3 589.4 609.2 587.3 606.3 585.2 603.7 582.9 601.3 580.6 599.1 578.2 597.1 575.8 595.5 573.4 594.1 571.0 593.0 568.5 592.1 566.1 591.6 563.7 591.3 561.3 591.3 558.9 591.6 556.6 592.2 554.3 593.1 552.1 594.2 550.0 595.6 548.0 597.3 546.0 599.3 544.2 601.5 542.4 603.9 540.8 606.6 539.3 609.5 538.0 612.7 536.7 616.0 535.6 619.4 534.7 623.1 533.9 626.9 533.3 630.9 532.8 634.9 532.4 639.1 532.3 643.4 532.3 647.6 532.4 652.0 532.7 656.4 533.2 660.8 533.8 665.2 534.6 669.5 535.5 673.8 536.6 678.1 537.8 682.2 539.1 686.2 540.6 690.2 542.2 694.0 543.9 697.6 545.7 701.1 547.7 704.4 549.7 707.5 551.8 710.4 554.0 713.0 556.2 715.4 558.6 717.6 560.9 719.6 563.3 721.2 565.7 722.6 568.2 723.7 570.6 724.6 573.0 725.1 575.5 725.4 577.9 725.4 580.2 725.1 582.5M725.7 582.9L725.1 585.2 724.2 587.5 723.0 589.7 721.6 591.7 719.8 593.7 717.8 595.6 715.5 597.4 713.0 599.1 710.3 600.6 707.2 602.0 704.0 603.3 700.6 604.4 697.1 605.4 693.3 606.2 689.4 606.9 685.3 607.4 681.2 607.7 676.9 607.9 672.5 607.9 668.1 607.8 663.6 607.5 659.1 607.0 654.5 606.3 650.0 605.5 645.6 604.6 641.2 603.5 636.8 602.2 632.5 600.9 628.4 599.3 624.3 597.7 620.4 595.9 616.7 594.0 613.1 592.1 609.7 590.0 606.5 587.8 603.6 585.6 600.8 583.2 598.3 580.9 596.1 578.4 594.1 576.0 592.4 573.5 591.0 571.0 589.8 568.5 588.9 566.0 588.4 563.5 588.1 561.0 588.1 558.6 588.4 556.2 589.0 553.9 589.9 551.6 591.1 549.4 592.5 547.3 594.3 545.3 596.3 543.4 598.6 541.6 601.1 540.0 603.8 538.4 606.8 537.0 610.1 535.8 613.5 534.6 617.0 533.7 620.8 532.8 624.7 532.2 628.8 531.7 632.9 531.3 637.2 531.2 641.6 531.2 646.0 531.3 650.5 531.6 655.0 532.1 659.6 532.7 664.0 533.5 668.5 534.5 672.9 535.6 677.3 536.8 681.6 538.2 685.7 539.7 689.8 541.4 693.7 543.2 697.4 545.0 701.0 547.0 704.4 549.1 707.6 551.3 710.5 553.5 713.3 555.8 715.8 558.2 718.0 560.6 720.0 563.1 721.7 565.6 723.1 568.1 724.3 570.6 725.2 573.1 725.7 575.6 726.0 578.1 726.0 580.5 725.7 582.9M726.1 583.1L725.4 585.4 724.5 587.7 723.3 590.0 721.8 592.1 720.1 594.1 718.0 596.1 715.7 597.9 713.2 599.6 710.4 601.1 707.3 602.6 704.0 603.9 700.6 605.0 696.9 606.0 693.1 606.8 689.1 607.5 685.0 608.0 680.8 608.3 676.4 608.5 671.9 608.5 667.5 608.4 662.9 608.1 658.3 607.6 653.7 606.9 649.1 606.1 644.6 605.2 640.1 604.0 635.6 602.8 631.3 601.4 627.1 599.8 623.0 598.1 619.0 596.3 615.2 594.4 611.6 592.4 608.1 590.3 604.9 588.1 601.9 585.8 599.1 583.5 596.6 581.0 594.3 578.6 592.3 576.1 590.5 573.5 589.1 571.0 587.9 568.4 587.0 565.9 586.4 563.4 586.1 560.8 586.2 558.4 586.5 555.9 587.1 553.6 588.0 551.3 589.2 549.1 590.7 546.9 592.4 544.9 594.5 543.0 596.8 541.1 599.4 539.5 602.2 537.9 605.2 536.5 608.5 535.2 611.9 534.0 615.6 533.0 619.4 532.2 623.4 531.5 627.5 531.0 631.8 530.7 636.1 530.5 640.6 530.5 645.1 530.6 649.6 531.0 654.2 531.4 658.8 532.1 663.4 532.9 667.9 533.9 672.4 535.0 676.9 536.3 681.2 537.7 685.4 539.2 689.5 540.9 693.5 542.7 697.3 544.6 700.9 546.6 704.4 548.7 707.6 550.9 710.7 553.2 713.4 555.6 716.0 558.0 718.3 560.5 720.3 563.0 722.0 565.5 723.5 568.0 724.6 570.6 725.5 573.1 726.1 575.7 726.4 578.2 726.4 580.7 726.1 583.1M704 571.0L726.2 583.1M704 571.0L723.2 590.5M704 571.0L717.9 596.4M704 571.0L711.3 600.8M704 571.0L704.0 604.1M704 571.0L696.3 606.3M704 571.0L688.5 607.8M704 571.0L680.6 608.5M704 571.0L672.6 608.7M704 571.0L664.6 608.4M704 571.0L656.7 607.6M704 571.0L648.8 606.3M704 571.0L641.1 604.5M704 571.0L633.4 602.3M704 571.0L625.9 599.7M704 571.0L618.6 596.5M704 571.0L611.5 592.8M704 571.0L604.8 588.5M704 571.0L598.6 583.6M704 571.0L593.0 577.8M704 571.0L588.6 571.2M704 571.0L585.9 563.8M704 571.0L585.8 555.9M704 571.0L588.8 548.5M704 571.0L594.1 542.6M704 571.0L600.7 538.2M704 571.0L608.0 534.9M704 571.0L615.7 532.7M704 571.0L623.5 531.2M704 571.0L631.4 530.5M704 571.0L639.4 530.3M704 571.0L647.4 530.6M704 571.0L655.3 531.4M704 571.0L663.2 532.7M704 571.0L670.9 534.5M704 571.0L678.6 536.7M704 571.0L686.1 539.3M704 571.0L693.4 542.5M704 571.0L700.5 546.2M704 571.0L707.2 550.5M704 571.0L713.4 555.4M704 571.0L719.0 561.2M704 571.0L723.4 567.8M704 571.0L726.1 575.2" fill="none" stroke="#1a1a00" stroke-width="1.2"/>

<ellipse cx="712" cy="575" rx="14" ry="24" fill="#000" filter="url(#bl4)"/>
<ellipse cx="700" cy="595" rx="18" ry="8" fill="#000" opacity="0.5" filter="url(#bl4)"/>


<path d="M726.2 583.1C725.6 586.3 724.1 589.4 721.9 592.2C719.8 595.0 716.8 597.6 713.2 599.7C709.6 601.9 705.3 603.8 700.6 605.2C695.9 606.6 690.4 607.6 684.9 608.2C679.3 608.8 673.3 608.9 667.3 608.6C661.2 608.3 654.9 607.5 648.8 606.3C642.8 605.1 636.6 603.5 630.9 601.5C625.2 599.6 619.6 597.2 614.7 594.6C609.8 592.0 605.2 589.0 601.3 585.9C597.5 582.8 594.1 579.4 591.6 576.1C589.1 572.8 587.3 569.2 586.4 565.8C585.4 562.5 585.2 559.0 585.8 555.9C586.4 552.7 587.9 549.6 590.1 546.8C592.2 544.0 595.2 541.4 598.8 539.3C602.4 537.1 606.7 535.2 611.4 533.8C616.1 532.4 621.6 531.4 627.1 530.8C632.7 530.2 638.7 530.1 644.7 530.4C650.8 530.7 657.1 531.5 663.2 532.7C669.2 533.9 675.4 535.5 681.1 537.5C686.8 539.4 692.4 541.8 697.3 544.4C702.2 547.0 706.8 550.0 710.7 553.1C714.5 556.2 717.9 559.6 720.4 562.9C722.9 566.2 724.7 569.8 725.6 573.2C726.6 576.5 726.8 580.0 726.2 583.1Z" fill="none" stroke="#000" stroke-width="7" opacity="0.85" filter="url(#bl2)"/>
</g>
<path d="M726.2 583.1C725.6 586.3 724.1 589.4 721.9 592.2C719.8 595.0 716.8 597.6 713.2 599.7C709.6 601.9 705.3 603.8 700.6 605.2C695.9 606.6 690.4 607.6 684.9 608.2C679.3 608.8 673.3 608.9 667.3 608.6C661.2 608.3 654.9 607.5 648.8 606.3C642.8 605.1 636.6 603.5 630.9 601.5C625.2 599.6 619.6 597.2 614.7 594.6C609.8 592.0 605.2 589.0 601.3 585.9C597.5 582.8 594.1 579.4 591.6 576.1C589.1 572.8 587.3 569.2 586.4 565.8C585.4 562.5 585.2 559.0 585.8 555.9C586.4 552.7 587.9 549.6 590.1 546.8C592.2 544.0 595.2 541.4 598.8 539.3C602.4 537.1 606.7 535.2 611.4 533.8C616.1 532.4 621.6 531.4 627.1 530.8C632.7 530.2 638.7 530.1 644.7 530.4C650.8 530.7 657.1 531.5 663.2 532.7C669.2 533.9 675.4 535.5 681.1 537.5C686.8 539.4 692.4 541.8 697.3 544.4C702.2 547.0 706.8 550.0 710.7 553.1C714.5 556.2 717.9 559.6 720.4 562.9C722.9 566.2 724.7 569.8 725.6 573.2C726.6 576.5 726.8 580.0 726.2 583.1Z" fill="none" stroke="#000" stroke-width="1.6"/>
<clipPath id="c4r"><path d="M1016.5 592.4C1017.0 589.6 1018.9 585.8 1022.0 583.0C1025.1 580.2 1030.3 577.6 1035.0 575.9C1039.7 574.1 1044.8 573.4 1050.0 572.5C1055.2 571.6 1060.7 571.2 1065.9 570.7C1071.1 570.2 1075.8 570.0 1081.0 569.8C1086.2 569.6 1091.6 569.4 1096.8 569.7C1102.0 570.0 1106.9 570.8 1112.0 571.8C1117.1 572.8 1123.6 574.2 1127.6 575.9C1131.6 577.6 1133.3 580.3 1135.9 582.0C1138.5 583.7 1141.0 584.3 1143.0 586.0C1145.0 587.7 1146.3 589.6 1148.2 592.4C1150.1 595.2 1153.8 599.8 1154.4 602.6C1155.0 605.4 1153.0 607.3 1152.0 609.0C1151.0 610.7 1149.9 611.7 1148.2 613.0C1146.5 614.3 1143.7 615.6 1142.0 617.0C1140.3 618.4 1139.7 619.7 1138.0 621.2C1136.3 622.7 1133.7 624.6 1132.0 626.0C1130.3 627.4 1130.1 628.4 1127.6 629.4C1125.1 630.4 1120.4 631.3 1117.0 632.0C1113.6 632.7 1110.5 633.2 1107.0 633.5C1103.5 633.8 1099.4 634.0 1096.0 634.0C1092.6 634.0 1089.8 633.8 1086.5 633.5C1083.2 633.2 1079.4 632.7 1076.0 632.0C1072.6 631.3 1069.4 630.6 1065.9 629.4C1062.4 628.1 1058.4 626.2 1055.0 624.5C1051.6 622.8 1048.8 621.0 1045.3 619.1C1041.8 617.2 1037.4 615.0 1034.0 613.0C1030.6 611.0 1027.2 609.0 1024.7 606.8C1022.2 604.6 1020.4 602.4 1019.0 600.0C1017.6 597.6 1016.0 595.2 1016.5 592.4Z"/></clipPath>
<g clip-path="url(#c4r)">
<path d="M1016.5 592.4C1017.0 589.6 1018.9 585.8 1022.0 583.0C1025.1 580.2 1030.3 577.6 1035.0 575.9C1039.7 574.1 1044.8 573.4 1050.0 572.5C1055.2 571.6 1060.7 571.2 1065.9 570.7C1071.1 570.2 1075.8 570.0 1081.0 569.8C1086.2 569.6 1091.6 569.4 1096.8 569.7C1102.0 570.0 1106.9 570.8 1112.0 571.8C1117.1 572.8 1123.6 574.2 1127.6 575.9C1131.6 577.6 1133.3 580.3 1135.9 582.0C1138.5 583.7 1141.0 584.3 1143.0 586.0C1145.0 587.7 1146.3 589.6 1148.2 592.4C1150.1 595.2 1153.8 599.8 1154.4 602.6C1155.0 605.4 1153.0 607.3 1152.0 609.0C1151.0 610.7 1149.9 611.7 1148.2 613.0C1146.5 614.3 1143.7 615.6 1142.0 617.0C1140.3 618.4 1139.7 619.7 1138.0 621.2C1136.3 622.7 1133.7 624.6 1132.0 626.0C1130.3 627.4 1130.1 628.4 1127.6 629.4C1125.1 630.4 1120.4 631.3 1117.0 632.0C1113.6 632.7 1110.5 633.2 1107.0 633.5C1103.5 633.8 1099.4 634.0 1096.0 634.0C1092.6 634.0 1089.8 633.8 1086.5 633.5C1083.2 633.2 1079.4 632.7 1076.0 632.0C1072.6 631.3 1069.4 630.6 1065.9 629.4C1062.4 628.1 1058.4 626.2 1055.0 624.5C1051.6 622.8 1048.8 621.0 1045.3 619.1C1041.8 617.2 1037.4 615.0 1034.0 613.0C1030.6 611.0 1027.2 609.0 1024.7 606.8C1022.2 604.6 1020.4 602.4 1019.0 600.0C1017.6 597.6 1016.0 595.2 1016.5 592.4Z" fill="#eef034"/>
<ellipse cx="1080" cy="617" rx="32" ry="5" fill="#fff" opacity="0.5" filter="url(#bl4)"/>
<path d="M1017.3 589.8L1015.7 590.0 1014.2 590.2 1012.9 590.5 1011.9 590.8 1011.3 591.1 1011.0 591.5 1011.1 591.9 1011.7 592.4 1012.6 593.0 1013.7 593.5 1015.1 594.2 1016.6 594.8M1018.8 586.8L1017.2 587.4 1015.7 588.1 1014.4 588.8 1013.3 589.5 1012.6 590.3 1012.3 591.1 1012.4 592.0 1012.8 592.9 1013.6 593.9 1014.7 595.0 1016.0 596.0 1017.4 597.1M1021.1 583.8L1019.5 585.0 1017.9 586.1 1016.6 587.3 1015.5 588.5 1014.7 589.7 1014.4 591.0 1014.4 592.4 1014.7 593.8 1015.5 595.3 1016.4 596.7 1017.6 598.3 1018.9 599.8M1024.1 581.4L1022.4 583.0 1020.9 584.6 1019.5 586.2 1018.4 587.9 1017.6 589.7 1017.1 591.4 1017.1 593.3 1017.4 595.1 1018.0 597.1 1018.8 599.0 1019.9 601.0 1021.1 603.0M1027.7 579.2L1026.1 581.2 1024.5 583.3 1023.1 585.4 1022.0 587.5 1021.2 589.7 1020.7 591.9 1020.5 594.2 1020.7 596.5 1021.2 598.9 1022.0 601.3 1022.9 603.7 1023.9 606.1M1032 577.1L1030.4 579.6 1028.8 582.1 1027.5 584.6 1026.3 587.1 1025.5 589.7 1024.9 592.4 1024.7 595.0 1024.8 597.8 1025.2 600.5 1025.9 603.3 1026.6 606.1 1027.5 609.0M1036.8 575.3L1035.3 578.1 1033.8 581.0 1032.4 583.9 1031.3 586.9 1030.5 589.8 1029.9 592.8 1029.6 595.9 1029.6 599.0 1029.9 602.1 1030.4 605.3 1031.0 608.5 1031.7 611.6M1042.2 573.9L1040.7 577.1 1039.3 580.4 1038.0 583.6 1036.9 586.9 1036.0 590.2 1035.4 593.6 1035.0 597.0 1035.0 600.4 1035.1 603.9 1035.5 607.4 1036.0 610.9 1036.5 614.4M1048 572.8L1046.6 576.4 1045.3 580.0 1044.0 583.6 1042.9 587.2 1042.1 590.9 1041.4 594.5 1041.0 598.3 1040.9 602.0 1040.9 605.8 1041.1 609.6 1041.4 613.4 1041.8 617.2M1054.3 571.9L1053.0 575.8 1051.7 579.7 1050.5 583.7 1049.5 587.7 1048.6 591.7 1047.9 595.7 1047.5 599.7 1047.2 603.8 1047.1 607.9 1047.1 612.0 1047.3 616.2 1047.5 620.3M1060.9 571.1L1059.7 575.4 1058.5 579.7 1057.4 584.1 1056.4 588.4 1055.5 592.7 1054.8 597.1 1054.3 601.5 1053.9 605.9 1053.7 610.3 1053.5 614.8 1053.5 619.3 1053.5 623.7M1067.8 570.5L1066.7 575.2 1065.6 579.8 1064.5 584.4 1063.6 589.1 1062.7 593.8 1062.0 598.5 1061.4 603.2 1061.0 607.9 1060.6 612.6 1060.3 617.4 1060.1 622.1 1059.9 626.9M1074.9 570.1L1073.9 575.0 1072.9 579.9 1072.0 584.8 1071.1 589.8 1070.3 594.7 1069.5 599.7 1068.9 604.6 1068.3 609.6 1067.8 614.6 1067.4 619.6 1067.0 624.6 1066.6 629.6M1082.2 569.8L1081.3 574.9 1080.4 580.0 1079.6 585.1 1078.8 590.3 1078.0 595.4 1077.2 600.5 1076.5 605.7 1075.9 610.8 1075.3 616.0 1074.7 621.2 1074.1 626.3 1073.5 631.5M1089.5 569.6L1088.8 574.8 1088.1 580.1 1087.3 585.4 1086.6 590.6 1085.8 595.9 1085.1 601.2 1084.3 606.4 1083.6 611.7 1082.9 617.0 1082.1 622.2 1081.4 627.5 1080.6 632.8M1096.8 569.7L1096.2 575.1 1095.6 580.4 1095.0 585.7 1094.4 591.1 1093.7 596.4 1092.9 601.8 1092.2 607.1 1091.4 612.4 1090.5 617.7 1089.6 623.0 1088.7 628.3 1087.8 633.6M1103.9 570.4L1103.5 575.8 1103.1 581.1 1102.6 586.4 1102.0 591.8 1101.4 597.1 1100.7 602.4 1099.9 607.7 1099.0 613.0 1098.1 618.2 1097.1 623.5 1096.1 628.7 1095.0 634.0M1110.8 571.6L1110.6 576.8 1110.3 582.1 1109.9 587.3 1109.5 592.6 1108.9 597.8 1108.3 603.0 1107.5 608.1 1106.6 613.3 1105.6 618.5 1104.4 623.6 1103.3 628.7 1102.1 633.8M1117.4 572.9L1117.4 578.1 1117.2 583.2 1117.0 588.3 1116.7 593.4 1116.2 598.4 1115.6 603.5 1114.8 608.5 1113.9 613.5 1112.8 618.4 1111.6 623.4 1110.3 628.4 1109.0 633.3M1123.7 574.5L1123.8 579.5 1123.9 584.4 1123.8 589.3 1123.6 594.1 1123.2 599.0 1122.6 603.8 1121.9 608.6 1120.9 613.4 1119.8 618.1 1118.5 622.9 1117.1 627.6 1115.6 632.3M1129.5 576.9L1129.8 581.5 1130.0 586.2 1130.1 590.8 1130.0 595.4 1129.7 599.9 1129.2 604.4 1128.5 608.9 1127.5 613.4 1126.3 617.8 1124.9 622.2 1123.5 626.6 1121.9 631.0M1134.6 581.0L1135.1 585.2 1135.5 589.4 1135.7 593.5 1135.8 597.6 1135.6 601.7 1135.2 605.7 1134.5 609.7 1133.6 613.7 1132.4 617.6 1131.0 621.5 1129.4 625.4 1127.8 629.3M1139.4 583.9L1140.1 587.4 1140.7 591.0 1141.1 594.5 1141.3 598.0 1141.3 601.5 1140.9 604.9 1140.3 608.3 1139.4 611.6 1138.2 614.9 1136.8 618.2 1135.3 621.5 1133.7 624.7M1143.6 586.6L1144.5 589.5 1145.2 592.5 1145.8 595.5 1146.2 598.4 1146.3 601.3 1146.1 604.1 1145.5 606.9 1144.6 609.7 1143.5 612.4 1142.1 615.0 1140.5 617.7 1138.9 620.3M1147 590.7L1148.1 593.0 1149.0 595.3 1149.8 597.5 1150.3 599.7 1150.5 601.9 1150.4 604.1 1149.9 606.1 1149.1 608.2 1148.0 610.2 1146.6 612.1 1145.1 614.1 1143.5 616.0M1149.8 594.6L1151.0 596.4 1152.0 598.2 1152.9 600.0 1153.6 601.7 1153.9 603.4 1153.9 605.0 1153.5 606.5 1152.7 608.1 1151.6 609.5 1150.3 611.0 1148.7 612.4 1147.1 613.8M1152 597.8L1153.3 599.1 1154.5 600.5 1155.5 601.8 1156.2 603.0 1156.6 604.2 1156.6 605.4 1156.3 606.5 1155.6 607.6 1154.5 608.6 1153.2 609.6 1151.7 610.5 1150.0 611.4M1153.5 600.3L1154.9 601.2 1156.2 602.1 1157.3 602.9 1158.1 603.8 1158.6 604.5 1158.7 605.2 1158.4 605.9 1157.8 606.5 1156.7 607.0 1155.4 607.5 1153.9 608.0 1152.3 608.5M1154.3 602.4L1155.8 602.9 1157.2 603.5 1158.4 603.9 1159.3 604.4 1159.8 604.8 1160.0 605.1 1159.7 605.4 1159.1 605.7 1158.1 605.9 1156.9 606.0 1155.4 606.1 1153.8 606.2M1016.5 592.3L1021.6 583.5 1026.0 580.4 1030.1 578.2 1034.3 576.5 1038.3 575.1 1042.3 574.2 1046.3 573.5 1050.3 572.8 1054.2 572.3 1058.2 571.8 1062.1 571.5 1066.0 571.2 1070.0 570.9 1073.9 570.6 1077.8 570.4 1081.7 570.3 1085.6 570.2 1089.5 570.1 1093.3 570.1 1097.2 570.3 1101.0 570.6 1104.8 571.1 1108.6 571.7 1112.4 572.4 1116.2 573.2 1119.9 574.0 1123.7 575.0 1127.4 576.3 1131.0 578.4 1134.4 581.3 1138.0 583.6 1141.6 585.4 1145.1 588.4 1148.3 592.8 1151.6 597.3 1154.5 603.9M1016.5 592.3L1021.6 583.9 1025.9 581.0 1030.0 578.9 1034.1 577.3 1038.2 576.1 1042.2 575.2 1046.2 574.6 1050.1 574.0 1054.1 573.5 1058.0 573.1 1061.9 572.8 1065.8 572.6 1069.8 572.3 1073.7 572.1 1077.6 572.0 1081.5 571.9 1085.3 571.8 1089.2 571.7 1093.1 571.7 1097.0 571.9 1100.8 572.2 1104.6 572.7 1108.4 573.3 1112.2 574.0 1116.0 574.7 1119.7 575.5 1123.5 576.5 1127.2 577.7 1130.8 579.7 1134.2 582.6 1137.8 584.6 1141.5 586.3 1145.0 589.1 1148.2 593.4 1151.5 597.7 1154.5 603.9M1016.5 592.3L1021.5 584.6 1025.7 582.0 1029.9 580.2 1033.9 578.7 1038.0 577.6 1042.0 576.9 1045.9 576.4 1049.9 575.9 1053.8 575.5 1057.7 575.2 1061.6 575.0 1065.5 574.8 1069.4 574.7 1073.3 574.5 1077.2 574.5 1081.1 574.4 1085.0 574.3 1088.9 574.3 1092.7 574.3 1096.6 574.5 1100.4 574.9 1104.2 575.3 1108.0 575.9 1111.8 576.5 1115.6 577.2 1119.4 578.0 1123.1 578.9 1126.8 580.0 1130.5 581.9 1134.0 584.5 1137.6 586.4 1141.3 587.9 1144.8 590.4 1148.1 594.3 1151.4 598.3 1154.5 604.0M1016.5 592.3L1021.4 585.6 1025.5 583.4 1029.6 581.8 1033.7 580.6 1037.7 579.7 1041.6 579.2 1045.6 578.8 1049.5 578.4 1053.4 578.2 1057.3 578.1 1061.2 578.0 1065.1 577.9 1069.0 577.9 1072.9 577.8 1076.7 577.8 1080.6 577.8 1084.5 577.8 1088.4 577.8 1092.2 577.9 1096.1 578.1 1099.9 578.4 1103.7 578.8 1107.5 579.4 1111.3 580.0 1115.1 580.6 1118.9 581.3 1122.7 582.1 1126.4 583.1 1130.1 584.8 1133.6 587.2 1137.2 588.8 1141.0 589.9 1144.5 592.0 1147.9 595.5 1151.3 599.1 1154.5 604.0M1016.5 592.4L1021.2 586.7 1025.3 585.0 1029.3 583.9 1033.4 582.9 1037.3 582.3 1041.3 581.9 1045.2 581.7 1049.1 581.6 1052.9 581.5 1056.8 581.5 1060.7 581.6 1064.6 581.7 1068.4 581.8 1072.3 581.9 1076.2 582.0 1080.0 582.0 1083.9 582.1 1087.8 582.1 1091.6 582.2 1095.5 582.4 1099.3 582.8 1103.1 583.2 1106.9 583.6 1110.7 584.2 1114.5 584.8 1118.3 585.3 1122.1 586.0 1125.9 586.9 1129.5 588.4 1133.1 590.5 1136.8 591.7 1140.6 592.5 1144.3 594.1 1147.7 597.0 1151.2 600.1 1154.5 604.0M1016.5 592.4L1021.0 588.1 1025.0 587.0 1029.0 586.2 1033.0 585.6 1036.9 585.2 1040.8 585.1 1044.7 585.1 1048.6 585.2 1052.4 585.3 1056.3 585.5 1060.1 585.8 1063.9 586.0 1067.8 586.3 1071.6 586.5 1075.5 586.7 1079.3 586.9 1083.2 587.0 1087.1 587.1 1090.9 587.2 1094.8 587.5 1098.6 587.8 1102.4 588.1 1106.3 588.6 1110.1 589.0 1113.9 589.5 1117.7 590.0 1121.5 590.5 1125.3 591.3 1129.0 592.5 1132.6 594.3 1136.4 595.1 1140.2 595.4 1143.9 596.4 1147.5 598.8 1151.0 601.3 1154.5 604.1M1016.5 592.5L1020.8 589.5 1024.7 589.1 1028.7 588.8 1032.6 588.6 1036.5 588.5 1040.3 588.6 1044.2 588.8 1048.0 589.1 1051.8 589.5 1055.6 589.9 1059.5 590.4 1063.3 590.8 1067.1 591.2 1070.9 591.6 1074.8 591.9 1078.6 592.2 1082.4 592.3 1086.3 592.5 1090.2 592.7 1094.0 593.0 1097.8 593.3 1101.7 593.6 1105.5 594.0 1109.3 594.4 1113.1 594.7 1117.0 595.1 1120.8 595.5 1124.6 596.0 1128.3 597.0 1132.0 598.5 1135.8 598.7 1139.7 598.7 1143.6 599.0 1147.2 600.7 1150.8 602.6 1154.5 604.2M1016.5 592.5L1020.6 591.1 1024.4 591.3 1028.3 591.5 1032.1 591.6 1036.0 591.9 1039.8 592.3 1043.6 592.8 1047.4 593.3 1051.2 593.9 1055.0 594.6 1058.8 595.2 1062.6 595.8 1066.4 596.4 1070.2 597.0 1074.0 597.4 1077.8 597.7 1081.7 598.0 1085.5 598.3 1089.3 598.5 1093.2 598.7 1097.0 599.1 1100.9 599.4 1104.7 599.7 1108.5 600.0 1112.4 600.3 1116.2 600.5 1120.1 600.7 1123.9 601.1 1127.7 601.8 1131.4 602.9 1135.3 602.6 1139.3 602.1 1143.2 601.7 1146.9 602.7 1150.6 603.9 1154.5 604.2M1016.5 592.6L1020.4 592.7 1024.1 593.6 1027.9 594.3 1031.7 594.8 1035.5 595.4 1039.3 596.1 1043.0 596.8 1046.8 597.5 1050.6 598.3 1054.3 599.3 1058.1 600.1 1061.8 601.0 1065.6 601.7 1069.4 602.4 1073.2 603.0 1077.0 603.4 1080.8 603.8 1084.7 604.1 1088.5 604.4 1092.4 604.6 1096.2 604.9 1100.0 605.2 1103.9 605.4 1107.7 605.7 1111.6 605.9 1115.4 606.0 1119.3 606.1 1123.2 606.2 1127.0 606.7 1130.8 607.4 1134.7 606.6 1138.8 605.5 1142.8 604.4 1146.6 604.8 1150.4 605.2 1154.5 604.3M1016.5 592.6L1020.1 594.2 1023.8 595.8 1027.5 597.0 1031.3 597.9 1035.0 598.8 1038.7 599.8 1042.5 600.7 1046.2 601.7 1050.0 602.7 1053.7 603.9 1057.4 605.0 1061.1 606.0 1064.9 607.0 1068.6 607.8 1072.4 608.5 1076.2 609.0 1080.0 609.5 1083.9 609.8 1087.7 610.1 1091.5 610.4 1095.4 610.7 1099.2 611.0 1103.1 611.1 1106.9 611.3 1110.8 611.4 1114.7 611.4 1118.6 611.3 1122.5 611.3 1126.3 611.5 1130.1 611.8 1134.2 610.4 1138.3 608.9 1142.4 607.2 1146.3 606.8 1150.3 606.6 1154.5 604.4M1016.5 592.7L1019.9 595.7 1023.5 597.9 1027.1 599.6 1030.8 600.8 1034.5 602.0 1038.3 603.3 1042.0 604.4 1045.7 605.6 1049.4 606.9 1053.1 608.3 1056.8 609.6 1060.5 610.8 1064.2 611.9 1067.9 612.9 1071.7 613.7 1075.5 614.3 1079.3 614.8 1083.1 615.3 1086.9 615.6 1090.8 615.9 1094.6 616.2 1098.5 616.4 1102.3 616.5 1106.2 616.6 1110.1 616.6 1114.0 616.5 1117.9 616.3 1121.8 616.1 1125.7 616.0 1129.6 615.9 1133.7 614.1 1137.8 612.2 1142.1 609.7 1146.1 608.7 1150.1 607.8 1154.4 604.4M1016.5 592.7L1019.7 597.0 1023.2 599.8 1026.8 601.9 1030.5 603.5 1034.1 605.0 1037.8 606.4 1041.5 607.8 1045.2 609.2 1048.8 610.7 1052.5 612.3 1056.2 613.7 1059.9 615.1 1063.6 616.4 1067.3 617.5 1071.0 618.5 1074.8 619.2 1078.6 619.7 1082.4 620.2 1086.2 620.6 1090.1 621.0 1093.9 621.2 1097.8 621.4 1101.6 621.5 1105.5 621.5 1109.4 621.4 1113.3 621.1 1117.2 620.8 1121.2 620.4 1125.1 620.1 1129.0 619.7 1133.2 617.5 1137.4 615.1 1141.7 612.1 1145.8 610.5 1149.9 609.0 1154.4 604.5M1016.5 592.8L1019.6 598.2 1023.0 601.5 1026.5 603.9 1030.1 605.8 1033.8 607.5 1037.4 609.2 1041.1 610.8 1044.7 612.4 1048.4 614.0 1052.0 615.7 1055.7 617.4 1059.3 618.9 1063.0 620.3 1066.7 621.6 1070.4 622.6 1074.2 623.4 1078.0 624.0 1081.8 624.5 1085.6 625.0 1089.5 625.3 1093.3 625.6 1097.2 625.7 1101.0 625.7 1104.9 625.7 1108.8 625.5 1112.7 625.2 1116.7 624.7 1120.6 624.2 1124.6 623.7 1128.6 623.0 1132.8 620.4 1137.1 617.7 1141.4 614.1 1145.6 612.0 1149.8 610.0 1154.4 604.5M1016.5 592.8L1019.4 599.2 1022.8 602.9 1026.3 605.6 1029.9 607.7 1033.5 609.6 1037.1 611.5 1040.7 613.2 1044.4 614.9 1048.0 616.7 1051.6 618.6 1055.2 620.3 1058.9 622.0 1062.6 623.5 1066.2 624.9 1070.0 625.9 1073.7 626.8 1077.5 627.5 1081.3 628.1 1085.1 628.5 1089.0 628.9 1092.8 629.1 1096.7 629.2 1100.5 629.2 1104.4 629.1 1108.3 628.9 1112.3 628.5 1116.2 627.9 1120.2 627.3 1124.2 626.6 1128.2 625.7 1132.5 622.8 1136.8 619.8 1141.2 615.8 1145.4 613.3 1149.7 610.8 1154.4 604.6M1016.5 592.8L1019.3 599.9 1022.7 603.9 1026.1 606.8 1029.7 609.1 1033.3 611.2 1036.9 613.1 1040.5 615.0 1044.1 616.8 1047.7 618.7 1051.3 620.7 1054.9 622.5 1058.6 624.3 1062.2 625.9 1065.9 627.3 1069.6 628.4 1073.4 629.3 1077.2 630.1 1080.9 630.7 1084.8 631.1 1088.6 631.5 1092.4 631.8 1096.3 631.9 1100.2 631.8 1104.1 631.7 1108.0 631.4 1111.9 630.9 1115.9 630.3 1119.9 629.6 1123.9 628.8 1127.9 627.7 1132.2 624.5 1136.6 621.3 1141.0 617.0 1145.3 614.2 1149.6 611.4 1154.4 604.6M1016.4 592.8L1019.3 600.3 1022.6 604.5 1026.0 607.6 1029.6 610.0 1033.1 612.1 1036.7 614.2 1040.3 616.1 1043.9 618.0 1047.5 619.9 1051.1 622.0 1054.7 623.9 1058.4 625.7 1062.0 627.3 1065.7 628.8 1069.4 630.0 1073.2 630.9 1076.9 631.6 1080.7 632.3 1084.5 632.7 1088.4 633.1 1092.2 633.4 1096.1 633.5 1100.0 633.4 1103.9 633.2 1107.8 632.9 1111.7 632.4 1115.7 631.8 1119.7 631.0 1123.7 630.1 1127.7 629.0 1132.1 625.6 1136.4 622.3 1140.9 617.8 1145.2 614.7 1149.5 611.8 1154.4 604.6" fill="none" stroke="#1a1a00" stroke-width="1.15"/>

<ellipse cx="1028" cy="589" rx="17" ry="18" fill="#000" filter="url(#bl4)"/>
<ellipse cx="1058" cy="575" rx="38" ry="7" fill="#000" opacity="0.9" filter="url(#bl4)"/>


<path d="M1016.5 592.4C1017.0 589.6 1018.9 585.8 1022.0 583.0C1025.1 580.2 1030.3 577.6 1035.0 575.9C1039.7 574.1 1044.8 573.4 1050.0 572.5C1055.2 571.6 1060.7 571.2 1065.9 570.7C1071.1 570.2 1075.8 570.0 1081.0 569.8C1086.2 569.6 1091.6 569.4 1096.8 569.7C1102.0 570.0 1106.9 570.8 1112.0 571.8C1117.1 572.8 1123.6 574.2 1127.6 575.9C1131.6 577.6 1133.3 580.3 1135.9 582.0C1138.5 583.7 1141.0 584.3 1143.0 586.0C1145.0 587.7 1146.3 589.6 1148.2 592.4C1150.1 595.2 1153.8 599.8 1154.4 602.6C1155.0 605.4 1153.0 607.3 1152.0 609.0C1151.0 610.7 1149.9 611.7 1148.2 613.0C1146.5 614.3 1143.7 615.6 1142.0 617.0C1140.3 618.4 1139.7 619.7 1138.0 621.2C1136.3 622.7 1133.7 624.6 1132.0 626.0C1130.3 627.4 1130.1 628.4 1127.6 629.4C1125.1 630.4 1120.4 631.3 1117.0 632.0C1113.6 632.7 1110.5 633.2 1107.0 633.5C1103.5 633.8 1099.4 634.0 1096.0 634.0C1092.6 634.0 1089.8 633.8 1086.5 633.5C1083.2 633.2 1079.4 632.7 1076.0 632.0C1072.6 631.3 1069.4 630.6 1065.9 629.4C1062.4 628.1 1058.4 626.2 1055.0 624.5C1051.6 622.8 1048.8 621.0 1045.3 619.1C1041.8 617.2 1037.4 615.0 1034.0 613.0C1030.6 611.0 1027.2 609.0 1024.7 606.8C1022.2 604.6 1020.4 602.4 1019.0 600.0C1017.6 597.6 1016.0 595.2 1016.5 592.4Z" fill="none" stroke="#000" stroke-width="7" opacity="0.85" filter="url(#bl2)"/>
</g>
<path d="M1016.5 592.4C1017.0 589.6 1018.9 585.8 1022.0 583.0C1025.1 580.2 1030.3 577.6 1035.0 575.9C1039.7 574.1 1044.8 573.4 1050.0 572.5C1055.2 571.6 1060.7 571.2 1065.9 570.7C1071.1 570.2 1075.8 570.0 1081.0 569.8C1086.2 569.6 1091.6 569.4 1096.8 569.7C1102.0 570.0 1106.9 570.8 1112.0 571.8C1117.1 572.8 1123.6 574.2 1127.6 575.9C1131.6 577.6 1133.3 580.3 1135.9 582.0C1138.5 583.7 1141.0 584.3 1143.0 586.0C1145.0 587.7 1146.3 589.6 1148.2 592.4C1150.1 595.2 1153.8 599.8 1154.4 602.6C1155.0 605.4 1153.0 607.3 1152.0 609.0C1151.0 610.7 1149.9 611.7 1148.2 613.0C1146.5 614.3 1143.7 615.6 1142.0 617.0C1140.3 618.4 1139.7 619.7 1138.0 621.2C1136.3 622.7 1133.7 624.6 1132.0 626.0C1130.3 627.4 1130.1 628.4 1127.6 629.4C1125.1 630.4 1120.4 631.3 1117.0 632.0C1113.6 632.7 1110.5 633.2 1107.0 633.5C1103.5 633.8 1099.4 634.0 1096.0 634.0C1092.6 634.0 1089.8 633.8 1086.5 633.5C1083.2 633.2 1079.4 632.7 1076.0 632.0C1072.6 631.3 1069.4 630.6 1065.9 629.4C1062.4 628.1 1058.4 626.2 1055.0 624.5C1051.6 622.8 1048.8 621.0 1045.3 619.1C1041.8 617.2 1037.4 615.0 1034.0 613.0C1030.6 611.0 1027.2 609.0 1024.7 606.8C1022.2 604.6 1020.4 602.4 1019.0 600.0C1017.6 597.6 1016.0 595.2 1016.5 592.4Z" fill="none" stroke="#000" stroke-width="1.6"/>
<clipPath id="c4l"><path d="M874.4 569.5C874.6 566.2 877.6 561.1 880.0 558.0C882.4 554.9 887.2 552.8 889.0 551.0C890.8 549.2 889.2 548.4 891.0 547.0C892.8 545.6 896.6 543.5 900.0 542.5C903.4 541.5 907.0 541.3 911.5 540.9C916.0 540.5 921.9 540.4 927.0 540.0C932.1 539.6 937.2 538.6 942.4 538.8C947.6 539.0 952.9 540.0 958.0 541.0C963.1 542.0 967.2 542.6 973.2 545.0C979.2 547.4 987.6 551.5 993.8 555.3C1000.0 559.1 1006.5 563.5 1010.3 567.6C1014.1 571.7 1015.9 576.3 1016.5 580.0C1017.1 583.7 1016.1 587.2 1014.0 590.0C1011.9 592.8 1008.4 594.8 1004.1 596.5C999.8 598.2 993.1 599.5 988.0 600.5C982.9 601.5 978.2 602.1 973.2 602.6C968.2 603.1 963.1 603.6 958.0 603.8C952.9 604.0 947.9 604.1 942.4 603.7C936.9 603.3 930.1 602.4 925.0 601.5C919.9 600.6 915.7 599.8 911.5 598.5C907.3 597.2 903.1 595.8 900.0 594.0C896.9 592.2 895.2 589.8 893.0 588.0C890.8 586.2 889.3 584.7 887.0 583.0C884.7 581.3 881.1 580.2 879.0 578.0C876.9 575.8 874.2 572.8 874.4 569.5Z"/></clipPath>
<g clip-path="url(#c4l)">
<path d="M874.4 569.5C874.6 566.2 877.6 561.1 880.0 558.0C882.4 554.9 887.2 552.8 889.0 551.0C890.8 549.2 889.2 548.4 891.0 547.0C892.8 545.6 896.6 543.5 900.0 542.5C903.4 541.5 907.0 541.3 911.5 540.9C916.0 540.5 921.9 540.4 927.0 540.0C932.1 539.6 937.2 538.6 942.4 538.8C947.6 539.0 952.9 540.0 958.0 541.0C963.1 542.0 967.2 542.6 973.2 545.0C979.2 547.4 987.6 551.5 993.8 555.3C1000.0 559.1 1006.5 563.5 1010.3 567.6C1014.1 571.7 1015.9 576.3 1016.5 580.0C1017.1 583.7 1016.1 587.2 1014.0 590.0C1011.9 592.8 1008.4 594.8 1004.1 596.5C999.8 598.2 993.1 599.5 988.0 600.5C982.9 601.5 978.2 602.1 973.2 602.6C968.2 603.1 963.1 603.6 958.0 603.8C952.9 604.0 947.9 604.1 942.4 603.7C936.9 603.3 930.1 602.4 925.0 601.5C919.9 600.6 915.7 599.8 911.5 598.5C907.3 597.2 903.1 595.8 900.0 594.0C896.9 592.2 895.2 589.8 893.0 588.0C890.8 586.2 889.3 584.7 887.0 583.0C884.7 581.3 881.1 580.2 879.0 578.0C876.9 575.8 874.2 572.8 874.4 569.5Z" fill="#eef034"/>
<ellipse cx="945" cy="592" rx="38" ry="5" fill="#fff" opacity="0.5" filter="url(#bl4)"/>
<path d="M875 566.8L873.4 567.1 872.0 567.4 870.7 567.7 869.7 568.0 869.1 568.4 868.9 568.7 869.0 569.2 869.6 569.6 870.5 570.1 871.7 570.6 873.1 571.1 874.7 571.6M876.4 563.6L874.8 564.3 873.3 565.1 872.1 565.9 871.1 566.7 870.4 567.5 870.2 568.3 870.3 569.2 870.8 570.1 871.7 571.0 872.9 571.9 874.2 572.9 875.7 573.9M878.6 559.9L877.0 561.2 875.5 562.5 874.3 563.7 873.3 565.0 872.6 566.4 872.3 567.7 872.4 569.1 872.9 570.5 873.7 571.9 874.8 573.4 876.1 574.8 877.4 576.3M881.5 556.4L880.0 558.2 878.5 560.0 877.3 561.8 876.3 563.6 875.6 565.4 875.3 567.3 875.3 569.1 875.7 571.1 876.5 573.0 877.5 574.9 878.7 576.9 879.9 578.9M885.1 553.8L883.6 555.9 882.2 558.1 881.0 560.3 880.0 562.5 879.3 564.7 879.0 567.0 879.0 569.2 879.3 571.5 880.0 573.8 880.9 576.2 882.0 578.5 883.2 580.9M889.4 550.5L888.0 553.2 886.6 555.8 885.4 558.4 884.5 561.1 883.8 563.8 883.4 566.5 883.4 569.2 883.7 571.9 884.3 574.7 885.1 577.5 886.1 580.3 887.1 583.1M894.5 544.8L893.1 548.2 891.8 551.6 890.6 555.1 889.7 558.5 889.0 562.0 888.6 565.5 888.5 569.0 888.7 572.5 889.2 576.1 889.9 579.6 890.7 583.2 891.6 586.8M900 542.5L898.7 546.5 897.4 550.5 896.3 554.5 895.4 558.6 894.7 562.6 894.3 566.7 894.1 570.8 894.2 574.9 894.6 579.0 895.1 583.1 895.8 587.3 896.6 591.4M905.9 541.4L904.7 545.8 903.5 550.2 902.5 554.7 901.6 559.1 900.9 563.5 900.5 568.0 900.3 572.5 900.3 577.0 900.6 581.5 901.0 586.0 901.5 590.6 902.1 595.1M912.2 540.8L911.1 545.5 910.0 550.2 909.1 554.8 908.3 559.5 907.7 564.2 907.2 568.9 907.0 573.7 907.0 578.4 907.1 583.2 907.4 587.9 907.8 592.7 908.2 597.5M918.9 540.4L917.9 545.3 917.0 550.2 916.2 555.1 915.4 559.9 914.8 564.8 914.4 569.7 914.2 574.7 914.1 579.6 914.1 584.5 914.3 589.5 914.5 594.5 914.8 599.4M925.9 540.1L925.1 545.1 924.3 550.1 923.6 555.2 922.9 560.2 922.4 565.3 922.0 570.4 921.7 575.4 921.5 580.5 921.4 585.6 921.5 590.7 921.6 595.8 921.7 600.9M933.2 539.4L932.5 544.6 931.9 549.8 931.2 555.0 930.7 560.2 930.2 565.4 929.8 570.7 929.5 575.9 929.2 581.1 929.0 586.4 928.9 591.6 928.9 596.9 928.8 602.1M940.7 538.8L940.1 544.1 939.6 549.5 939.1 554.8 938.6 560.2 938.2 565.5 937.8 570.9 937.4 576.3 937.1 581.6 936.8 587.0 936.6 592.4 936.4 597.7 936.2 603.1M948.1 539.3L947.7 544.7 947.4 550.0 947.0 555.4 946.6 560.8 946.2 566.2 945.9 571.5 945.5 576.9 945.1 582.3 944.7 587.7 944.3 593.0 944.0 598.4 943.6 603.8M955.5 540.5L955.3 545.8 955.1 551.1 954.8 556.4 954.6 561.7 954.3 567.0 953.9 572.3 953.5 577.6 953.1 582.8 952.6 588.1 952.1 593.4 951.6 598.7 951.1 604.0M962.8 541.9L962.8 547.1 962.7 552.3 962.6 557.5 962.4 562.6 962.2 567.8 961.9 573.0 961.5 578.1 961.0 583.2 960.4 588.4 959.8 593.5 959.2 598.7 958.5 603.8M969.9 543.8L970.0 548.8 970.1 553.8 970.2 558.8 970.1 563.8 970.0 568.7 969.7 573.7 969.3 578.7 968.7 583.6 968.1 588.5 967.4 593.5 966.6 598.4 965.7 603.3M976.7 546.5L977.0 551.2 977.3 555.9 977.5 560.6 977.5 565.4 977.4 570.0 977.2 574.7 976.8 579.4 976.2 584.1 975.5 588.7 974.7 593.4 973.7 598.0 972.8 602.6M983.2 549.5L983.7 553.9 984.1 558.3 984.4 562.7 984.6 567.1 984.5 571.5 984.3 575.9 983.9 580.3 983.3 584.6 982.6 588.9 981.6 593.2 980.6 597.6 979.5 601.9M989.2 552.7L989.9 556.8 990.4 560.8 990.9 564.9 991.2 569.0 991.2 573.0 991.1 577.0 990.7 581.0 990.0 585.0 989.2 589.0 988.2 593.0 987.1 596.9 985.9 600.9M994.8 555.9L995.6 559.7 996.3 563.4 996.9 567.1 997.3 570.8 997.4 574.5 997.3 578.1 996.9 581.8 996.3 585.4 995.4 589.0 994.3 592.6 993.1 596.2 991.8 599.8M999.9 559.2L1000.8 562.6 1001.7 565.9 1002.4 569.3 1002.8 572.6 1003.1 575.9 1003.0 579.2 1002.6 582.5 1001.9 585.7 1001.0 589.0 999.8 592.2 998.5 595.4 997.2 598.6M1004.4 562.4L1005.5 565.4 1006.4 568.4 1007.2 571.4 1007.8 574.3 1008.1 577.3 1008.0 580.2 1007.7 583.1 1007.0 585.9 1006.0 588.8 1004.8 591.6 1003.4 594.4 1002.0 597.3M1008.3 565.6L1009.4 568.2 1010.5 570.8 1011.4 573.3 1012.0 575.9 1012.4 578.4 1012.4 581.0 1012.0 583.5 1011.3 585.9 1010.4 588.4 1009.1 590.8 1007.7 593.2 1006.2 595.6M1011.4 568.9L1012.7 571.1 1013.9 573.3 1014.9 575.4 1015.6 577.5 1016.0 579.6 1016.0 581.7 1015.7 583.8 1015.0 585.8 1014.0 587.8 1012.7 589.8 1011.3 591.8 1009.7 593.8M1013.9 572.5L1015.2 574.2 1016.5 575.9 1017.6 577.6 1018.3 579.2 1018.8 580.9 1018.9 582.5 1018.6 584.1 1017.9 585.6 1016.9 587.1 1015.6 588.6 1014.1 590.1 1012.5 591.6M1015.5 576.3L1017.0 577.4 1018.3 578.6 1019.5 579.8 1020.3 580.9 1020.8 582.0 1020.9 583.1 1020.7 584.1 1020.0 585.1 1019.0 586.1 1017.7 587.1 1016.2 588.1 1014.6 589.1M1016.5 579.8L1018.0 580.4 1019.4 581.1 1020.6 581.7 1021.5 582.3 1022.0 582.9 1022.2 583.4 1022.0 583.9 1021.3 584.4 1020.3 584.9 1019.1 585.3 1017.6 585.7 1016.0 586.2M874.4 569.3L879.1 559.3 883.4 555.2 887.5 552.4 891.9 546.7 896.0 544.4 900.1 542.9 904.2 542.1 908.2 541.7 912.2 541.3 916.2 541.1 920.2 540.9 924.1 540.7 928.1 540.4 932.1 540.0 936.2 539.6 940.1 539.3 944.1 539.4 948.1 539.8 952.0 540.4 955.9 541.1 959.9 541.9 963.8 542.7 967.7 543.6 971.6 544.9 975.4 546.4 979.3 548.1 983.2 550.0 987.0 551.9 990.8 554.0 994.6 556.2 998.5 558.6 1002.3 561.2 1006.0 564.0 1009.8 567.3 1013.4 572.0 1016.7 582.6M874.4 569.3L879.1 559.8 883.3 555.8 887.5 553.2 891.8 547.6 896.0 545.5 900.0 544.1 904.1 543.4 908.1 543.0 912.1 542.8 916.1 542.5 920.1 542.4 924.0 542.2 928.0 542.0 932.0 541.6 936.0 541.2 940.0 541.0 944.0 541.1 948.0 541.5 951.9 542.0 955.8 542.7 959.7 543.5 963.7 544.2 967.6 545.2 971.5 546.4 975.3 547.9 979.2 549.5 983.1 551.3 986.9 553.2 990.7 555.2 994.6 557.3 998.4 559.6 1002.2 562.1 1006.0 564.8 1009.7 568.0 1013.4 572.5 1016.7 582.6M874.4 569.3L879.0 560.5 883.2 556.8 887.4 554.4 891.7 549.2 895.8 547.3 899.9 546.1 903.9 545.6 907.9 545.3 911.9 545.1 915.9 544.9 919.9 544.8 923.9 544.7 927.9 544.5 931.9 544.2 935.9 543.8 939.8 543.6 943.8 543.7 947.8 544.1 951.7 544.7 955.6 545.3 959.6 546.1 963.5 546.8 967.4 547.6 971.3 548.8 975.2 550.2 979.0 551.8 982.9 553.4 986.8 555.2 990.6 557.1 994.4 559.1 998.3 561.3 1002.1 563.6 1005.9 566.2 1009.6 569.2 1013.3 573.3 1016.7 582.6M874.4 569.3L878.9 561.5 883.2 558.2 887.3 556.1 891.6 551.3 895.7 549.8 899.7 548.9 903.7 548.5 907.7 548.3 911.7 548.2 915.7 548.2 919.7 548.1 923.6 548.1 927.6 547.9 931.6 547.6 935.6 547.3 939.6 547.2 943.6 547.3 947.5 547.7 951.5 548.2 955.4 548.9 959.3 549.5 963.3 550.2 967.2 551.0 971.1 552.1 975.0 553.4 978.8 554.8 982.7 556.3 986.6 558.0 990.4 559.7 994.3 561.6 998.1 563.6 1001.9 565.7 1005.8 568.0 1009.5 570.7 1013.3 574.4 1016.7 582.7M874.4 569.3L878.9 562.7 883.0 559.9 887.1 558.1 891.4 554.0 895.5 552.8 899.5 552.2 903.5 552.1 907.4 552.1 911.4 552.1 915.4 552.1 919.4 552.2 923.3 552.2 927.3 552.1 931.3 551.9 935.3 551.7 939.3 551.6 943.3 551.7 947.2 552.1 951.2 552.6 955.1 553.2 959.0 553.8 963.0 554.4 966.9 555.1 970.8 556.1 974.7 557.2 978.6 558.5 982.5 559.9 986.3 561.4 990.2 562.9 994.1 564.6 997.9 566.3 1001.8 568.2 1005.6 570.2 1009.4 572.6 1013.2 575.8 1016.7 582.7M874.4 569.4L878.8 564.1 882.9 561.9 887.0 560.4 891.2 557.0 895.2 556.2 899.2 556.1 903.2 556.2 907.1 556.4 911.1 556.5 915.1 556.7 919.0 556.8 923.0 556.9 927.0 556.9 931.0 556.8 935.0 556.6 938.9 556.6 942.9 556.8 946.9 557.2 950.8 557.6 954.7 558.2 958.7 558.7 962.6 559.2 966.6 559.9 970.5 560.7 974.4 561.7 978.3 562.8 982.2 564.0 986.1 565.3 989.9 566.6 993.8 568.0 997.7 569.5 1001.6 571.1 1005.4 572.8 1009.3 574.8 1013.0 577.4 1016.6 582.8M874.4 569.4L878.7 565.6 882.7 564.1 886.8 563.0 891.0 560.3 895.0 560.0 898.9 560.3 902.9 560.7 906.8 561.1 910.8 561.4 914.7 561.7 918.7 561.9 922.6 562.1 926.6 562.2 930.6 562.2 934.6 562.1 938.6 562.1 942.5 562.3 946.5 562.7 950.4 563.1 954.4 563.6 958.3 564.1 962.2 564.5 966.2 565.1 970.1 565.7 974.0 566.6 977.9 567.5 981.9 568.5 985.8 569.6 989.7 570.6 993.6 571.8 997.4 573.0 1001.3 574.3 1005.2 575.7 1009.1 577.1 1012.9 579.2 1016.6 582.9M874.4 569.4L878.5 567.2 882.6 566.3 886.6 565.7 890.7 563.8 894.7 564.0 898.6 564.7 902.5 565.5 906.5 566.1 910.4 566.5 914.4 566.9 918.3 567.3 922.3 567.6 926.2 567.8 930.2 567.8 934.2 567.9 938.1 568.0 942.1 568.2 946.1 568.6 950.0 568.9 954.0 569.4 957.9 569.7 961.9 570.1 965.8 570.5 969.7 571.1 973.7 571.7 977.6 572.5 981.5 573.3 985.4 574.1 989.4 574.9 993.3 575.8 997.2 576.7 1001.1 577.7 1005.0 578.6 1008.9 579.7 1012.8 581.0 1016.6 583.0M874.4 569.5L878.4 568.8 882.4 568.6 886.4 568.5 890.5 567.3 894.4 568.0 898.3 569.3 902.2 570.4 906.1 571.2 910.0 571.8 914.0 572.3 917.9 572.8 921.9 573.2 925.8 573.4 929.8 573.6 933.8 573.7 937.7 573.9 941.7 574.2 945.6 574.5 949.6 574.9 953.5 575.2 957.5 575.5 961.5 575.8 965.4 576.1 969.4 576.5 973.3 577.0 977.2 577.5 981.2 578.1 985.1 578.7 989.1 579.2 993.0 579.8 996.9 580.5 1000.9 581.1 1004.8 581.7 1008.7 582.2 1012.7 582.9 1016.6 583.1M874.4 569.5L878.3 570.4 882.3 570.9 886.2 571.2 890.2 570.8 894.1 572.0 898.0 573.7 901.9 575.2 905.8 576.1 909.7 576.9 913.6 577.6 917.5 578.2 921.5 578.6 925.4 579.0 929.4 579.3 933.4 579.5 937.3 579.7 941.3 580.0 945.2 580.4 949.2 580.7 953.1 580.9 957.1 581.2 961.1 581.4 965.0 581.6 969.0 581.8 972.9 582.1 976.9 582.5 980.9 582.8 984.8 583.2 988.8 583.5 992.7 583.8 996.7 584.2 1000.6 584.5 1004.6 584.7 1008.6 584.7 1012.5 584.7 1016.6 583.1M874.4 569.5L878.2 571.9 882.1 573.1 886.0 573.8 890.0 574.1 893.9 575.8 897.7 578.0 901.5 579.7 905.4 580.9 909.3 581.8 913.3 582.6 917.2 583.3 921.1 583.8 925.1 584.3 929.0 584.6 933.0 584.9 936.9 585.2 940.9 585.6 944.8 585.9 948.8 586.2 952.8 586.4 956.7 586.6 960.7 586.7 964.7 586.8 968.6 586.9 972.6 587.0 976.6 587.2 980.5 587.4 984.5 587.5 988.5 587.6 992.4 587.6 996.4 587.7 1000.4 587.7 1004.4 587.5 1008.4 587.1 1012.4 586.5 1016.6 583.2M874.4 569.5L878.1 573.3 882.0 575.0 885.9 576.1 889.8 577.1 893.6 579.3 897.4 581.8 901.2 583.8 905.1 585.2 909.0 586.2 912.9 587.1 916.9 587.9 920.8 588.6 924.7 589.1 928.7 589.5 932.6 589.9 936.6 590.3 940.5 590.6 944.5 591.0 948.5 591.2 952.4 591.4 956.4 591.5 960.4 591.5 964.3 591.5 968.3 591.5 972.3 591.5 976.3 591.5 980.2 591.5 984.2 591.4 988.2 591.2 992.2 591.1 996.2 590.9 1000.2 590.6 1004.2 590.1 1008.2 589.3 1012.3 588.0 1016.6 583.3M874.4 569.6L878.0 574.5 881.9 576.7 885.7 578.2 889.6 579.7 893.4 582.3 897.2 585.2 901.0 587.4 904.9 588.9 908.8 590.1 912.7 591.1 916.6 592.0 920.5 592.7 924.4 593.3 928.4 593.8 932.3 594.3 936.3 594.7 940.2 595.0 944.2 595.4 948.1 595.6 952.1 595.7 956.1 595.7 960.1 595.7 964.1 595.6 968.0 595.5 972.0 595.4 976.0 595.2 980.0 595.0 984.0 594.8 988.0 594.4 992.0 594.1 996.0 593.6 1000.0 593.1 1004.0 592.3 1008.1 591.2 1012.2 589.4 1016.6 583.3M874.4 569.6L878.0 575.5 881.8 578.1 885.6 579.8 889.5 581.9 893.2 584.7 897.0 587.9 900.8 590.3 904.7 591.9 908.5 593.2 912.4 594.3 916.4 595.3 920.3 596.1 924.2 596.7 928.1 597.3 932.1 597.8 936.0 598.2 940.0 598.6 943.9 598.9 947.9 599.1 951.9 599.2 955.8 599.2 959.8 599.1 963.8 599.0 967.8 598.8 971.8 598.5 975.8 598.2 979.8 597.9 983.8 597.6 987.8 597.1 991.8 596.5 995.8 595.9 999.9 595.2 1003.9 594.2 1008.0 592.7 1012.1 590.6 1016.6 583.4M874.4 569.6L877.9 576.2 881.7 579.2 885.5 581.0 889.3 583.5 893.1 586.5 896.8 589.9 900.6 592.5 904.5 594.2 908.4 595.6 912.3 596.7 916.2 597.7 920.1 598.5 924.0 599.2 928.0 599.8 931.9 600.4 935.8 600.9 939.8 601.3 943.7 601.6 947.7 601.8 951.7 601.8 955.7 601.8 959.7 601.7 963.6 601.5 967.6 601.2 971.6 600.9 975.6 600.5 979.6 600.1 983.7 599.6 987.7 599.0 991.7 598.3 995.7 597.6 999.8 596.7 1003.8 595.5 1007.9 593.9 1012.1 591.4 1016.6 583.4M874.4 569.6L877.9 576.6 881.6 579.8 885.5 581.8 889.3 584.4 893.0 587.6 896.8 591.2 900.5 593.8 904.4 595.6 908.3 597.0 912.2 598.2 916.1 599.2 920.0 600.1 923.9 600.8 927.9 601.4 931.8 602.0 935.7 602.5 939.7 602.9 943.6 603.2 947.6 603.4 951.6 603.4 955.6 603.3 959.5 603.2 963.5 603.0 967.5 602.7 971.5 602.3 975.5 601.9 979.6 601.4 983.6 600.9 987.6 600.2 991.6 599.4 995.7 598.6 999.7 597.6 1003.8 596.4 1007.9 594.6 1012.0 591.9 1016.6 583.4" fill="none" stroke="#1a1a00" stroke-width="1.15"/>

<ellipse cx="1008" cy="580" rx="16" ry="22" fill="#000" filter="url(#bl4)"/>
<ellipse cx="985" cy="558" rx="28" ry="10" fill="#000" opacity="0.7" filter="url(#bl4)"/>


<path d="M889 551C905 553 925 555 940 552" fill="none" stroke="#000" stroke-width="1.3" opacity="0.8"/>
<path d="M887 583C895 582 902 583 908 586" fill="none" stroke="#000" stroke-width="1.2" opacity="0.7"/>
<path d="M874.4 569.5C874.6 566.2 877.6 561.1 880.0 558.0C882.4 554.9 887.2 552.8 889.0 551.0C890.8 549.2 889.2 548.4 891.0 547.0C892.8 545.6 896.6 543.5 900.0 542.5C903.4 541.5 907.0 541.3 911.5 540.9C916.0 540.5 921.9 540.4 927.0 540.0C932.1 539.6 937.2 538.6 942.4 538.8C947.6 539.0 952.9 540.0 958.0 541.0C963.1 542.0 967.2 542.6 973.2 545.0C979.2 547.4 987.6 551.5 993.8 555.3C1000.0 559.1 1006.5 563.5 1010.3 567.6C1014.1 571.7 1015.9 576.3 1016.5 580.0C1017.1 583.7 1016.1 587.2 1014.0 590.0C1011.9 592.8 1008.4 594.8 1004.1 596.5C999.8 598.2 993.1 599.5 988.0 600.5C982.9 601.5 978.2 602.1 973.2 602.6C968.2 603.1 963.1 603.6 958.0 603.8C952.9 604.0 947.9 604.1 942.4 603.7C936.9 603.3 930.1 602.4 925.0 601.5C919.9 600.6 915.7 599.8 911.5 598.5C907.3 597.2 903.1 595.8 900.0 594.0C896.9 592.2 895.2 589.8 893.0 588.0C890.8 586.2 889.3 584.7 887.0 583.0C884.7 581.3 881.1 580.2 879.0 578.0C876.9 575.8 874.2 572.8 874.4 569.5Z" fill="none" stroke="#000" stroke-width="7" opacity="0.85" filter="url(#bl2)"/>
</g>
<path d="M874.4 569.5C874.6 566.2 877.6 561.1 880.0 558.0C882.4 554.9 887.2 552.8 889.0 551.0C890.8 549.2 889.2 548.4 891.0 547.0C892.8 545.6 896.6 543.5 900.0 542.5C903.4 541.5 907.0 541.3 911.5 540.9C916.0 540.5 921.9 540.4 927.0 540.0C932.1 539.6 937.2 538.6 942.4 538.8C947.6 539.0 952.9 540.0 958.0 541.0C963.1 542.0 967.2 542.6 973.2 545.0C979.2 547.4 987.6 551.5 993.8 555.3C1000.0 559.1 1006.5 563.5 1010.3 567.6C1014.1 571.7 1015.9 576.3 1016.5 580.0C1017.1 583.7 1016.1 587.2 1014.0 590.0C1011.9 592.8 1008.4 594.8 1004.1 596.5C999.8 598.2 993.1 599.5 988.0 600.5C982.9 601.5 978.2 602.1 973.2 602.6C968.2 603.1 963.1 603.6 958.0 603.8C952.9 604.0 947.9 604.1 942.4 603.7C936.9 603.3 930.1 602.4 925.0 601.5C919.9 600.6 915.7 599.8 911.5 598.5C907.3 597.2 903.1 595.8 900.0 594.0C896.9 592.2 895.2 589.8 893.0 588.0C890.8 586.2 889.3 584.7 887.0 583.0C884.7 581.3 881.1 580.2 879.0 578.0C876.9 575.8 874.2 572.8 874.4 569.5Z" fill="none" stroke="#000" stroke-width="1.6"/>
<ellipse cx="1016.5" cy="586" rx="3.5" ry="8" fill="#000"/>
<path d="M1143 586C1138 592 1128 596 1115 597" fill="none" stroke="#000" stroke-width="1.2" opacity="0.7"/>
<path d="M1138 621C1132 616 1122 614 1112 615" fill="none" stroke="#000" stroke-width="1.2" opacity="0.7"/>
<linearGradient id="p5a" gradientUnits="userSpaceOnUse" x1="1322.0" y1="572.0" x2="1207.0" y2="543.0"><stop offset="0" stop-color="#000"/><stop offset="0.2" stop-color="#000"/><stop offset="0.55" stop-color="#5a5a10"/><stop offset="1" stop-color="#dada44"/></linearGradient>
<pattern id="p5ap" width="2.3" height="40" patternUnits="userSpaceOnUse" patternTransform="rotate(-165.8)"><path d="M0.4 0V40" stroke="#000" stroke-width="0.8" opacity="0.7"/></pattern>
<path d="M1322.0 572.0C1322.2 571.3 1322.0 570.4 1321.4 569.6C1320.9 568.8 1319.9 568.0 1318.6 567.1C1317.3 566.2 1315.6 565.2 1313.7 564.1C1311.7 563.1 1309.4 562.0 1306.9 560.8C1304.4 559.7 1301.5 558.4 1298.6 557.2C1295.6 556.0 1292.3 554.7 1288.9 553.4C1285.6 552.2 1282.0 550.9 1278.4 549.6C1274.8 548.4 1271.1 547.2 1267.4 546.0C1263.7 544.9 1259.9 543.8 1256.3 542.8C1252.6 541.8 1249.0 540.9 1245.5 540.1C1242.0 539.4 1238.6 538.7 1235.4 538.2C1232.2 537.7 1229.2 537.3 1226.4 537.1C1223.6 536.9 1221.1 536.8 1218.8 536.9C1216.6 537.1 1214.6 537.3 1213.0 537.8C1211.3 538.2 1210.0 538.8 1209.0 539.7C1208.0 540.5 1207.3 541.8 1207.0 543.0C1206.7 544.2 1206.7 545.6 1207.2 546.9C1207.7 548.1 1208.6 549.2 1209.8 550.4C1211.0 551.6 1212.6 552.8 1214.5 553.9C1216.5 555.1 1218.8 556.3 1221.3 557.4C1223.8 558.5 1226.7 559.6 1229.7 560.7C1232.8 561.8 1236.1 562.8 1239.5 563.8C1242.9 564.7 1246.6 565.7 1250.3 566.5C1254.0 567.4 1257.8 568.2 1261.6 569.0C1265.4 569.7 1269.3 570.4 1273.0 571.0C1276.8 571.6 1280.5 572.2 1284.1 572.7C1287.6 573.2 1291.1 573.6 1294.3 573.9C1297.6 574.2 1300.6 574.5 1303.4 574.7C1306.2 574.9 1308.7 575.0 1310.9 575.0C1313.2 575.0 1315.1 574.9 1316.7 574.7C1318.2 574.5 1319.5 574.3 1320.4 573.8C1321.3 573.4 1321.8 572.7 1322.0 572.0Z" fill="url(#p5a)"/>
<path d="M1322.0 572.0C1322.2 571.3 1322.0 570.4 1321.4 569.6C1320.9 568.8 1319.9 568.0 1318.6 567.1C1317.3 566.2 1315.6 565.2 1313.7 564.1C1311.7 563.1 1309.4 562.0 1306.9 560.8C1304.4 559.7 1301.5 558.4 1298.6 557.2C1295.6 556.0 1292.3 554.7 1288.9 553.4C1285.6 552.2 1282.0 550.9 1278.4 549.6C1274.8 548.4 1271.1 547.2 1267.4 546.0C1263.7 544.9 1259.9 543.8 1256.3 542.8C1252.6 541.8 1249.0 540.9 1245.5 540.1C1242.0 539.4 1238.6 538.7 1235.4 538.2C1232.2 537.7 1229.2 537.3 1226.4 537.1C1223.6 536.9 1221.1 536.8 1218.8 536.9C1216.6 537.1 1214.6 537.3 1213.0 537.8C1211.3 538.2 1210.0 538.8 1209.0 539.7C1208.0 540.5 1207.3 541.8 1207.0 543.0C1206.7 544.2 1206.7 545.6 1207.2 546.9C1207.7 548.1 1208.6 549.2 1209.8 550.4C1211.0 551.6 1212.6 552.8 1214.5 553.9C1216.5 555.1 1218.8 556.3 1221.3 557.4C1223.8 558.5 1226.7 559.6 1229.7 560.7C1232.8 561.8 1236.1 562.8 1239.5 563.8C1242.9 564.7 1246.6 565.7 1250.3 566.5C1254.0 567.4 1257.8 568.2 1261.6 569.0C1265.4 569.7 1269.3 570.4 1273.0 571.0C1276.8 571.6 1280.5 572.2 1284.1 572.7C1287.6 573.2 1291.1 573.6 1294.3 573.9C1297.6 574.2 1300.6 574.5 1303.4 574.7C1306.2 574.9 1308.7 575.0 1310.9 575.0C1313.2 575.0 1315.1 574.9 1316.7 574.7C1318.2 574.5 1319.5 574.3 1320.4 573.8C1321.3 573.4 1321.8 572.7 1322.0 572.0Z" fill="url(#p5ap)"/>
<path d="M1299.0 566.2C1299.1 565.7 1299.0 565.2 1298.5 564.6C1298.1 564.0 1297.4 563.5 1296.4 562.9C1295.4 562.2 1294.2 561.5 1292.7 560.8C1291.3 560.1 1289.6 559.3 1287.7 558.5C1285.8 557.7 1283.7 556.8 1281.5 555.9C1279.3 555.0 1276.8 554.1 1274.3 553.2C1271.8 552.3 1269.2 551.4 1266.5 550.5C1263.9 549.6 1261.1 548.7 1258.4 547.9C1255.6 547.1 1252.8 546.3 1250.1 545.5C1247.4 544.8 1244.7 544.1 1242.1 543.6C1239.6 543.0 1237.0 542.5 1234.7 542.1C1232.3 541.7 1230.1 541.4 1228.1 541.2C1226.0 541.0 1224.1 540.9 1222.5 540.9C1220.8 541.0 1219.4 541.1 1218.2 541.4C1217.0 541.7 1216.0 542.0 1215.3 542.6C1214.6 543.1 1214.1 543.9 1213.9 544.7C1213.7 545.5 1213.8 546.5 1214.1 547.3C1214.5 548.2 1215.2 548.9 1216.1 549.7C1217.0 550.5 1218.2 551.3 1219.7 552.2C1221.1 553.0 1222.8 553.8 1224.7 554.6C1226.6 555.4 1228.7 556.2 1230.9 556.9C1233.2 557.7 1235.7 558.5 1238.2 559.2C1240.7 559.9 1243.4 560.6 1246.2 561.2C1248.9 561.9 1251.7 562.5 1254.5 563.0C1257.3 563.6 1260.2 564.1 1263.0 564.6C1265.7 565.1 1268.5 565.5 1271.1 565.9C1273.8 566.3 1276.3 566.7 1278.7 566.9C1281.1 567.2 1283.3 567.5 1285.4 567.6C1287.4 567.8 1289.3 567.9 1290.9 568.0C1292.6 568.0 1294.0 568.0 1295.1 567.9C1296.3 567.8 1297.2 567.7 1297.8 567.4C1298.5 567.1 1298.9 566.7 1299.0 566.2Z" fill="none" stroke="#000" stroke-width="0.9" opacity="0.7"/>
<path d="M1322.0 572.0C1322.2 571.3 1322.0 570.4 1321.4 569.6C1320.9 568.8 1319.9 568.0 1318.6 567.1C1317.3 566.2 1315.6 565.2 1313.7 564.1C1311.7 563.1 1309.4 562.0 1306.9 560.8C1304.4 559.7 1301.5 558.4 1298.6 557.2C1295.6 556.0 1292.3 554.7 1288.9 553.4C1285.6 552.2 1282.0 550.9 1278.4 549.6C1274.8 548.4 1271.1 547.2 1267.4 546.0C1263.7 544.9 1259.9 543.8 1256.3 542.8C1252.6 541.8 1249.0 540.9 1245.5 540.1C1242.0 539.4 1238.6 538.7 1235.4 538.2C1232.2 537.7 1229.2 537.3 1226.4 537.1C1223.6 536.9 1221.1 536.8 1218.8 536.9C1216.6 537.1 1214.6 537.3 1213.0 537.8C1211.3 538.2 1210.0 538.8 1209.0 539.7C1208.0 540.5 1207.3 541.8 1207.0 543.0C1206.7 544.2 1206.7 545.6 1207.2 546.9C1207.7 548.1 1208.6 549.2 1209.8 550.4C1211.0 551.6 1212.6 552.8 1214.5 553.9C1216.5 555.1 1218.8 556.3 1221.3 557.4C1223.8 558.5 1226.7 559.6 1229.7 560.7C1232.8 561.8 1236.1 562.8 1239.5 563.8C1242.9 564.7 1246.6 565.7 1250.3 566.5C1254.0 567.4 1257.8 568.2 1261.6 569.0C1265.4 569.7 1269.3 570.4 1273.0 571.0C1276.8 571.6 1280.5 572.2 1284.1 572.7C1287.6 573.2 1291.1 573.6 1294.3 573.9C1297.6 574.2 1300.6 574.5 1303.4 574.7C1306.2 574.9 1308.7 575.0 1310.9 575.0C1313.2 575.0 1315.1 574.9 1316.7 574.7C1318.2 574.5 1319.5 574.3 1320.4 573.8C1321.3 573.4 1321.8 572.7 1322.0 572.0Z" fill="none" stroke="#000" stroke-width="1.4"/>
<linearGradient id="p5b" gradientUnits="userSpaceOnUse" x1="1326.0" y1="574.0" x2="1266.0" y2="542.0"><stop offset="0" stop-color="#000"/><stop offset="0.25" stop-color="#000"/><stop offset="0.6" stop-color="#5a5a10"/><stop offset="1" stop-color="#c8c83e"/></linearGradient>
<pattern id="p5bp" width="2.3" height="40" patternUnits="userSpaceOnUse" patternTransform="rotate(-151.9)"><path d="M0.4 0V40" stroke="#000" stroke-width="0.8" opacity="0.7"/></pattern>
<path d="M1326.0 574.0C1326.3 573.5 1326.4 572.7 1326.3 572.0C1326.2 571.3 1325.8 570.6 1325.3 569.8C1324.8 569.0 1324.1 568.1 1323.2 567.1C1322.3 566.1 1321.3 565.0 1320.1 563.9C1318.9 562.8 1317.6 561.6 1316.1 560.4C1314.7 559.2 1313.1 557.9 1311.5 556.6C1309.8 555.3 1308.1 554.0 1306.3 552.8C1304.5 551.5 1302.6 550.2 1300.8 549.1C1298.9 547.9 1297.0 546.7 1295.1 545.6C1293.2 544.6 1291.3 543.5 1289.4 542.7C1287.6 541.8 1285.8 541.0 1284.0 540.3C1282.3 539.7 1280.6 539.1 1279.0 538.8C1277.4 538.4 1275.9 538.1 1274.6 538.1C1273.2 538.0 1272.0 538.1 1270.9 538.3C1269.8 538.5 1268.9 538.9 1268.1 539.5C1267.3 540.1 1266.5 541.1 1266.0 542.0C1265.5 542.9 1265.1 544.1 1265.1 545.1C1265.0 546.1 1265.2 547.1 1265.7 548.1C1266.1 549.2 1266.7 550.3 1267.5 551.3C1268.3 552.4 1269.4 553.5 1270.6 554.6C1271.8 555.7 1273.1 556.8 1274.7 557.9C1276.2 559.0 1277.8 560.1 1279.6 561.1C1281.4 562.1 1283.3 563.2 1285.2 564.1C1287.1 565.1 1289.2 566.1 1291.2 566.9C1293.3 567.8 1295.4 568.7 1297.4 569.5C1299.4 570.2 1301.5 571.0 1303.5 571.6C1305.4 572.3 1307.4 572.9 1309.2 573.4C1311.0 573.9 1312.7 574.4 1314.3 574.7C1315.9 575.1 1317.4 575.4 1318.7 575.5C1320.0 575.7 1321.2 575.8 1322.1 575.8C1323.1 575.7 1323.9 575.6 1324.5 575.3C1325.2 575.0 1325.7 574.5 1326.0 574.0Z" fill="url(#p5b)"/>
<path d="M1326.0 574.0C1326.3 573.5 1326.4 572.7 1326.3 572.0C1326.2 571.3 1325.8 570.6 1325.3 569.8C1324.8 569.0 1324.1 568.1 1323.2 567.1C1322.3 566.1 1321.3 565.0 1320.1 563.9C1318.9 562.8 1317.6 561.6 1316.1 560.4C1314.7 559.2 1313.1 557.9 1311.5 556.6C1309.8 555.3 1308.1 554.0 1306.3 552.8C1304.5 551.5 1302.6 550.2 1300.8 549.1C1298.9 547.9 1297.0 546.7 1295.1 545.6C1293.2 544.6 1291.3 543.5 1289.4 542.7C1287.6 541.8 1285.8 541.0 1284.0 540.3C1282.3 539.7 1280.6 539.1 1279.0 538.8C1277.4 538.4 1275.9 538.1 1274.6 538.1C1273.2 538.0 1272.0 538.1 1270.9 538.3C1269.8 538.5 1268.9 538.9 1268.1 539.5C1267.3 540.1 1266.5 541.1 1266.0 542.0C1265.5 542.9 1265.1 544.1 1265.1 545.1C1265.0 546.1 1265.2 547.1 1265.7 548.1C1266.1 549.2 1266.7 550.3 1267.5 551.3C1268.3 552.4 1269.4 553.5 1270.6 554.6C1271.8 555.7 1273.1 556.8 1274.7 557.9C1276.2 559.0 1277.8 560.1 1279.6 561.1C1281.4 562.1 1283.3 563.2 1285.2 564.1C1287.1 565.1 1289.2 566.1 1291.2 566.9C1293.3 567.8 1295.4 568.7 1297.4 569.5C1299.4 570.2 1301.5 571.0 1303.5 571.6C1305.4 572.3 1307.4 572.9 1309.2 573.4C1311.0 573.9 1312.7 574.4 1314.3 574.7C1315.9 575.1 1317.4 575.4 1318.7 575.5C1320.0 575.7 1321.2 575.8 1322.1 575.8C1323.1 575.7 1323.9 575.6 1324.5 575.3C1325.2 575.0 1325.7 574.5 1326.0 574.0Z" fill="url(#p5bp)"/>
<path d="M1314.0 567.6C1314.2 567.2 1314.3 566.8 1314.2 566.3C1314.0 565.8 1313.8 565.3 1313.4 564.7C1313.0 564.2 1312.4 563.5 1311.7 562.8C1311.1 562.1 1310.3 561.4 1309.4 560.6C1308.5 559.8 1307.5 558.9 1306.4 558.0C1305.4 557.2 1304.2 556.2 1302.9 555.3C1301.7 554.4 1300.4 553.5 1299.1 552.6C1297.7 551.7 1296.3 550.7 1294.9 549.9C1293.6 549.0 1292.1 548.1 1290.7 547.3C1289.3 546.6 1287.9 545.8 1286.5 545.1C1285.2 544.5 1283.8 543.9 1282.6 543.4C1281.3 542.9 1280.0 542.5 1278.9 542.2C1277.7 541.9 1276.7 541.6 1275.7 541.5C1274.7 541.4 1273.8 541.4 1273.0 541.6C1272.2 541.7 1271.6 541.9 1271.0 542.3C1270.4 542.7 1269.9 543.3 1269.6 543.9C1269.3 544.5 1269.0 545.3 1269.0 546.0C1269.0 546.7 1269.2 547.4 1269.6 548.1C1269.9 548.8 1270.4 549.5 1271.0 550.3C1271.6 551.0 1272.4 551.8 1273.3 552.6C1274.2 553.4 1275.3 554.2 1276.4 555.0C1277.5 555.8 1278.8 556.5 1280.1 557.3C1281.4 558.1 1282.8 558.8 1284.2 559.6C1285.6 560.3 1287.2 561.0 1288.7 561.7C1290.1 562.3 1291.7 563.0 1293.2 563.6C1294.7 564.2 1296.2 564.7 1297.7 565.2C1299.1 565.8 1300.5 566.2 1301.8 566.6C1303.2 567.0 1304.4 567.4 1305.6 567.7C1306.7 568.0 1307.8 568.2 1308.8 568.4C1309.7 568.6 1310.6 568.7 1311.3 568.7C1312.0 568.7 1312.5 568.6 1313.0 568.5C1313.4 568.3 1313.8 568.0 1314.0 567.6Z" fill="none" stroke="#000" stroke-width="0.9" opacity="0.7"/>
<path d="M1326.0 574.0C1326.3 573.5 1326.4 572.7 1326.3 572.0C1326.2 571.3 1325.8 570.6 1325.3 569.8C1324.8 569.0 1324.1 568.1 1323.2 567.1C1322.3 566.1 1321.3 565.0 1320.1 563.9C1318.9 562.8 1317.6 561.6 1316.1 560.4C1314.7 559.2 1313.1 557.9 1311.5 556.6C1309.8 555.3 1308.1 554.0 1306.3 552.8C1304.5 551.5 1302.6 550.2 1300.8 549.1C1298.9 547.9 1297.0 546.7 1295.1 545.6C1293.2 544.6 1291.3 543.5 1289.4 542.7C1287.6 541.8 1285.8 541.0 1284.0 540.3C1282.3 539.7 1280.6 539.1 1279.0 538.8C1277.4 538.4 1275.9 538.1 1274.6 538.1C1273.2 538.0 1272.0 538.1 1270.9 538.3C1269.8 538.5 1268.9 538.9 1268.1 539.5C1267.3 540.1 1266.5 541.1 1266.0 542.0C1265.5 542.9 1265.1 544.1 1265.1 545.1C1265.0 546.1 1265.2 547.1 1265.7 548.1C1266.1 549.2 1266.7 550.3 1267.5 551.3C1268.3 552.4 1269.4 553.5 1270.6 554.6C1271.8 555.7 1273.1 556.8 1274.7 557.9C1276.2 559.0 1277.8 560.1 1279.6 561.1C1281.4 562.1 1283.3 563.2 1285.2 564.1C1287.1 565.1 1289.2 566.1 1291.2 566.9C1293.3 567.8 1295.4 568.7 1297.4 569.5C1299.4 570.2 1301.5 571.0 1303.5 571.6C1305.4 572.3 1307.4 572.9 1309.2 573.4C1311.0 573.9 1312.7 574.4 1314.3 574.7C1315.9 575.1 1317.4 575.4 1318.7 575.5C1320.0 575.7 1321.2 575.8 1322.1 575.8C1323.1 575.7 1323.9 575.6 1324.5 575.3C1325.2 575.0 1325.7 574.5 1326.0 574.0Z" fill="none" stroke="#000" stroke-width="1.4"/>
<linearGradient id="q5a" gradientUnits="userSpaceOnUse" x1="1348.0" y1="585.0" x2="1468.0" y2="567.0"><stop offset="0" stop-color="#000"/><stop offset="0.25" stop-color="#000"/><stop offset="0.6" stop-color="#5a5a10"/><stop offset="1" stop-color="#cfcf40"/></linearGradient>
<pattern id="q5ap" width="2.3" height="40" patternUnits="userSpaceOnUse" patternTransform="rotate(-8.5)"><path d="M0.4 0V40" stroke="#000" stroke-width="0.8" opacity="0.7"/></pattern>
<path d="M1348.0 585.0C1348.1 585.7 1348.6 586.4 1349.5 587.0C1350.3 587.5 1351.6 587.9 1353.2 588.2C1354.7 588.6 1356.7 588.8 1358.9 589.0C1361.2 589.2 1363.8 589.4 1366.6 589.4C1369.5 589.5 1372.6 589.5 1375.9 589.5C1379.3 589.5 1382.8 589.4 1386.5 589.3C1390.2 589.1 1394.1 588.9 1397.9 588.7C1401.8 588.4 1405.8 588.1 1409.8 587.7C1413.7 587.3 1417.7 586.9 1421.5 586.3C1425.4 585.8 1429.2 585.3 1432.8 584.6C1436.4 584.0 1439.9 583.2 1443.1 582.5C1446.3 581.7 1449.3 580.9 1452.0 580.0C1454.7 579.1 1457.1 578.2 1459.2 577.2C1461.3 576.2 1463.0 575.2 1464.4 574.1C1465.8 573.1 1466.8 572.0 1467.4 570.9C1468.0 569.7 1468.2 568.2 1468.0 567.0C1467.8 565.8 1467.2 564.5 1466.3 563.5C1465.4 562.5 1464.1 561.9 1462.5 561.2C1460.8 560.6 1458.9 560.2 1456.6 559.8C1454.3 559.5 1451.7 559.3 1448.9 559.3C1446.0 559.2 1442.9 559.3 1439.6 559.5C1436.3 559.7 1432.8 560.1 1429.2 560.5C1425.5 560.9 1421.7 561.5 1417.9 562.1C1414.1 562.8 1410.1 563.5 1406.2 564.3C1402.4 565.1 1398.4 566.0 1394.7 566.8C1390.9 567.7 1387.1 568.7 1383.6 569.6C1380.0 570.6 1376.6 571.5 1373.4 572.5C1370.2 573.4 1367.2 574.4 1364.5 575.3C1361.8 576.2 1359.4 577.1 1357.3 578.0C1355.2 578.8 1353.4 579.6 1352.0 580.4C1350.6 581.2 1349.5 581.9 1348.8 582.7C1348.2 583.4 1347.9 584.3 1348.0 585.0Z" fill="url(#q5a)"/>
<path d="M1348.0 585.0C1348.1 585.7 1348.6 586.4 1349.5 587.0C1350.3 587.5 1351.6 587.9 1353.2 588.2C1354.7 588.6 1356.7 588.8 1358.9 589.0C1361.2 589.2 1363.8 589.4 1366.6 589.4C1369.5 589.5 1372.6 589.5 1375.9 589.5C1379.3 589.5 1382.8 589.4 1386.5 589.3C1390.2 589.1 1394.1 588.9 1397.9 588.7C1401.8 588.4 1405.8 588.1 1409.8 587.7C1413.7 587.3 1417.7 586.9 1421.5 586.3C1425.4 585.8 1429.2 585.3 1432.8 584.6C1436.4 584.0 1439.9 583.2 1443.1 582.5C1446.3 581.7 1449.3 580.9 1452.0 580.0C1454.7 579.1 1457.1 578.2 1459.2 577.2C1461.3 576.2 1463.0 575.2 1464.4 574.1C1465.8 573.1 1466.8 572.0 1467.4 570.9C1468.0 569.7 1468.2 568.2 1468.0 567.0C1467.8 565.8 1467.2 564.5 1466.3 563.5C1465.4 562.5 1464.1 561.9 1462.5 561.2C1460.8 560.6 1458.9 560.2 1456.6 559.8C1454.3 559.5 1451.7 559.3 1448.9 559.3C1446.0 559.2 1442.9 559.3 1439.6 559.5C1436.3 559.7 1432.8 560.1 1429.2 560.5C1425.5 560.9 1421.7 561.5 1417.9 562.1C1414.1 562.8 1410.1 563.5 1406.2 564.3C1402.4 565.1 1398.4 566.0 1394.7 566.8C1390.9 567.7 1387.1 568.7 1383.6 569.6C1380.0 570.6 1376.6 571.5 1373.4 572.5C1370.2 573.4 1367.2 574.4 1364.5 575.3C1361.8 576.2 1359.4 577.1 1357.3 578.0C1355.2 578.8 1353.4 579.6 1352.0 580.4C1350.6 581.2 1349.5 581.9 1348.8 582.7C1348.2 583.4 1347.9 584.3 1348.0 585.0Z" fill="url(#q5ap)"/>
<path d="M1372.0 581.4C1372.1 581.9 1372.4 582.3 1373.1 582.7C1373.7 583.0 1374.6 583.3 1375.8 583.5C1376.9 583.7 1378.4 583.8 1380.0 583.9C1381.7 584.0 1383.6 584.1 1385.7 584.1C1387.8 584.1 1390.1 584.1 1392.6 584.1C1395.0 584.0 1397.7 583.9 1400.4 583.8C1403.1 583.6 1406.0 583.5 1408.8 583.2C1411.7 583.0 1414.7 582.8 1417.6 582.5C1420.5 582.2 1423.4 581.8 1426.3 581.4C1429.1 581.0 1431.9 580.6 1434.6 580.1C1437.2 579.7 1439.8 579.2 1442.2 578.6C1444.6 578.1 1446.8 577.5 1448.8 576.9C1450.8 576.2 1452.6 575.6 1454.2 574.9C1455.7 574.3 1457.0 573.6 1458.1 572.8C1459.1 572.1 1459.9 571.4 1460.3 570.6C1460.8 569.8 1460.9 568.9 1460.8 568.1C1460.7 567.3 1460.3 566.4 1459.6 565.8C1458.9 565.2 1458.0 564.7 1456.8 564.3C1455.6 564.0 1454.1 563.7 1452.5 563.5C1450.8 563.3 1448.9 563.2 1446.8 563.2C1444.7 563.2 1442.4 563.3 1439.9 563.5C1437.5 563.6 1434.9 563.9 1432.2 564.2C1429.5 564.6 1426.7 565.0 1423.9 565.5C1421.0 565.9 1418.1 566.5 1415.2 567.0C1412.4 567.6 1409.5 568.2 1406.7 568.8C1403.9 569.5 1401.1 570.1 1398.4 570.8C1395.8 571.5 1393.2 572.2 1390.9 572.8C1388.5 573.5 1386.3 574.1 1384.3 574.8C1382.3 575.4 1380.5 576.0 1378.9 576.6C1377.4 577.2 1376.0 577.8 1375.0 578.3C1373.9 578.9 1373.1 579.3 1372.6 579.8C1372.1 580.4 1371.9 580.9 1372.0 581.4Z" fill="none" stroke="#000" stroke-width="0.9" opacity="0.7"/>
<path d="M1348.0 585.0C1348.1 585.7 1348.6 586.4 1349.5 587.0C1350.3 587.5 1351.6 587.9 1353.2 588.2C1354.7 588.6 1356.7 588.8 1358.9 589.0C1361.2 589.2 1363.8 589.4 1366.6 589.4C1369.5 589.5 1372.6 589.5 1375.9 589.5C1379.3 589.5 1382.8 589.4 1386.5 589.3C1390.2 589.1 1394.1 588.9 1397.9 588.7C1401.8 588.4 1405.8 588.1 1409.8 587.7C1413.7 587.3 1417.7 586.9 1421.5 586.3C1425.4 585.8 1429.2 585.3 1432.8 584.6C1436.4 584.0 1439.9 583.2 1443.1 582.5C1446.3 581.7 1449.3 580.9 1452.0 580.0C1454.7 579.1 1457.1 578.2 1459.2 577.2C1461.3 576.2 1463.0 575.2 1464.4 574.1C1465.8 573.1 1466.8 572.0 1467.4 570.9C1468.0 569.7 1468.2 568.2 1468.0 567.0C1467.8 565.8 1467.2 564.5 1466.3 563.5C1465.4 562.5 1464.1 561.9 1462.5 561.2C1460.8 560.6 1458.9 560.2 1456.6 559.8C1454.3 559.5 1451.7 559.3 1448.9 559.3C1446.0 559.2 1442.9 559.3 1439.6 559.5C1436.3 559.7 1432.8 560.1 1429.2 560.5C1425.5 560.9 1421.7 561.5 1417.9 562.1C1414.1 562.8 1410.1 563.5 1406.2 564.3C1402.4 565.1 1398.4 566.0 1394.7 566.8C1390.9 567.7 1387.1 568.7 1383.6 569.6C1380.0 570.6 1376.6 571.5 1373.4 572.5C1370.2 573.4 1367.2 574.4 1364.5 575.3C1361.8 576.2 1359.4 577.1 1357.3 578.0C1355.2 578.8 1353.4 579.6 1352.0 580.4C1350.6 581.2 1349.5 581.9 1348.8 582.7C1348.2 583.4 1347.9 584.3 1348.0 585.0Z" fill="none" stroke="#000" stroke-width="1.4"/>
<linearGradient id="p5c" gradientUnits="userSpaceOnUse" x1="1326.0" y1="580.0" x2="1171.0" y2="562.0"><stop offset="0" stop-color="#000"/><stop offset="0.25" stop-color="#000"/><stop offset="0.55" stop-color="#5a5a10"/><stop offset="1" stop-color="#dcdc46"/></linearGradient>
<pattern id="p5cp" width="2.3" height="40" patternUnits="userSpaceOnUse" patternTransform="rotate(-173.4)"><path d="M0.4 0V40" stroke="#000" stroke-width="0.8" opacity="0.7"/></pattern>
<path d="M1326.0 580.0C1326.1 579.2 1325.7 578.2 1324.8 577.4C1323.9 576.5 1322.5 575.7 1320.6 574.8C1318.8 574.0 1316.4 573.1 1313.7 572.1C1310.9 571.2 1307.7 570.2 1304.2 569.2C1300.7 568.3 1296.8 567.2 1292.7 566.2C1288.6 565.2 1284.1 564.2 1279.5 563.2C1274.9 562.2 1270.0 561.2 1265.1 560.2C1260.2 559.3 1255.1 558.4 1250.1 557.6C1245.0 556.8 1239.9 556.0 1235.0 555.3C1230.1 554.7 1225.1 554.1 1220.4 553.7C1215.8 553.3 1211.2 553.0 1207.0 552.8C1202.7 552.7 1198.7 552.6 1195.1 552.7C1191.5 552.9 1188.1 553.1 1185.2 553.6C1182.3 554.0 1179.8 554.6 1177.8 555.3C1175.7 556.0 1174.1 556.8 1173.0 558.0C1171.9 559.1 1171.2 560.6 1171.0 562.0C1170.8 563.4 1171.2 565.0 1172.0 566.4C1172.8 567.7 1174.2 568.9 1176.0 570.1C1177.9 571.3 1180.2 572.4 1182.9 573.5C1185.6 574.5 1188.8 575.6 1192.3 576.5C1195.8 577.5 1199.8 578.4 1203.9 579.2C1208.1 580.0 1212.6 580.7 1217.2 581.4C1221.9 582.1 1226.8 582.6 1231.8 583.1C1236.7 583.6 1241.9 584.1 1246.9 584.4C1252.0 584.8 1257.2 585.1 1262.2 585.3C1267.1 585.5 1272.1 585.6 1276.8 585.7C1281.6 585.8 1286.2 585.8 1290.4 585.8C1294.7 585.7 1298.7 585.6 1302.4 585.5C1306.0 585.3 1309.3 585.1 1312.2 584.8C1315.1 584.5 1317.6 584.2 1319.6 583.8C1321.6 583.4 1323.2 582.9 1324.2 582.3C1325.3 581.7 1325.9 580.8 1326.0 580.0Z" fill="url(#p5c)"/>
<path d="M1326.0 580.0C1326.1 579.2 1325.7 578.2 1324.8 577.4C1323.9 576.5 1322.5 575.7 1320.6 574.8C1318.8 574.0 1316.4 573.1 1313.7 572.1C1310.9 571.2 1307.7 570.2 1304.2 569.2C1300.7 568.3 1296.8 567.2 1292.7 566.2C1288.6 565.2 1284.1 564.2 1279.5 563.2C1274.9 562.2 1270.0 561.2 1265.1 560.2C1260.2 559.3 1255.1 558.4 1250.1 557.6C1245.0 556.8 1239.9 556.0 1235.0 555.3C1230.1 554.7 1225.1 554.1 1220.4 553.7C1215.8 553.3 1211.2 553.0 1207.0 552.8C1202.7 552.7 1198.7 552.6 1195.1 552.7C1191.5 552.9 1188.1 553.1 1185.2 553.6C1182.3 554.0 1179.8 554.6 1177.8 555.3C1175.7 556.0 1174.1 556.8 1173.0 558.0C1171.9 559.1 1171.2 560.6 1171.0 562.0C1170.8 563.4 1171.2 565.0 1172.0 566.4C1172.8 567.7 1174.2 568.9 1176.0 570.1C1177.9 571.3 1180.2 572.4 1182.9 573.5C1185.6 574.5 1188.8 575.6 1192.3 576.5C1195.8 577.5 1199.8 578.4 1203.9 579.2C1208.1 580.0 1212.6 580.7 1217.2 581.4C1221.9 582.1 1226.8 582.6 1231.8 583.1C1236.7 583.6 1241.9 584.1 1246.9 584.4C1252.0 584.8 1257.2 585.1 1262.2 585.3C1267.1 585.5 1272.1 585.6 1276.8 585.7C1281.6 585.8 1286.2 585.8 1290.4 585.8C1294.7 585.7 1298.7 585.6 1302.4 585.5C1306.0 585.3 1309.3 585.1 1312.2 584.8C1315.1 584.5 1317.6 584.2 1319.6 583.8C1321.6 583.4 1323.2 582.9 1324.2 582.3C1325.3 581.7 1325.9 580.8 1326.0 580.0Z" fill="url(#p5cp)"/>
<path d="M1295.0 576.4C1295.1 575.9 1294.8 575.2 1294.1 574.6C1293.4 574.1 1292.4 573.5 1291.0 572.9C1289.6 572.3 1287.8 571.7 1285.8 571.1C1283.8 570.4 1281.4 569.8 1278.8 569.1C1276.2 568.4 1273.3 567.7 1270.3 567.0C1267.2 566.3 1263.9 565.5 1260.5 564.8C1257.1 564.1 1253.4 563.4 1249.8 562.8C1246.2 562.1 1242.4 561.5 1238.7 560.9C1235.0 560.3 1231.2 559.7 1227.5 559.3C1223.9 558.8 1220.2 558.4 1216.8 558.1C1213.3 557.7 1209.9 557.5 1206.8 557.3C1203.7 557.2 1200.7 557.1 1198.0 557.2C1195.3 557.2 1192.9 557.4 1190.7 557.6C1188.6 557.9 1186.7 558.2 1185.2 558.7C1183.7 559.2 1182.5 559.7 1181.7 560.4C1180.9 561.2 1180.4 562.2 1180.3 563.1C1180.2 564.0 1180.4 565.1 1181.1 566.0C1181.7 566.9 1182.7 567.7 1184.1 568.5C1185.5 569.3 1187.2 570.0 1189.2 570.8C1191.2 571.5 1193.6 572.2 1196.2 572.9C1198.8 573.5 1201.7 574.2 1204.8 574.7C1207.9 575.3 1211.2 575.8 1214.6 576.3C1218.1 576.8 1221.7 577.2 1225.4 577.6C1229.1 578.0 1232.9 578.3 1236.6 578.6C1240.4 578.9 1244.2 579.1 1247.9 579.3C1251.6 579.5 1255.3 579.6 1258.7 579.7C1262.2 579.8 1265.6 579.9 1268.8 579.9C1271.9 579.9 1274.9 579.9 1277.6 579.8C1280.3 579.7 1282.7 579.6 1284.8 579.5C1287.0 579.3 1288.8 579.1 1290.3 578.8C1291.8 578.6 1292.9 578.3 1293.7 577.9C1294.5 577.5 1294.9 576.9 1295.0 576.4Z" fill="none" stroke="#000" stroke-width="0.9" opacity="0.7"/>
<path d="M1326.0 580.0C1326.1 579.2 1325.7 578.2 1324.8 577.4C1323.9 576.5 1322.5 575.7 1320.6 574.8C1318.8 574.0 1316.4 573.1 1313.7 572.1C1310.9 571.2 1307.7 570.2 1304.2 569.2C1300.7 568.3 1296.8 567.2 1292.7 566.2C1288.6 565.2 1284.1 564.2 1279.5 563.2C1274.9 562.2 1270.0 561.2 1265.1 560.2C1260.2 559.3 1255.1 558.4 1250.1 557.6C1245.0 556.8 1239.9 556.0 1235.0 555.3C1230.1 554.7 1225.1 554.1 1220.4 553.7C1215.8 553.3 1211.2 553.0 1207.0 552.8C1202.7 552.7 1198.7 552.6 1195.1 552.7C1191.5 552.9 1188.1 553.1 1185.2 553.6C1182.3 554.0 1179.8 554.6 1177.8 555.3C1175.7 556.0 1174.1 556.8 1173.0 558.0C1171.9 559.1 1171.2 560.6 1171.0 562.0C1170.8 563.4 1171.2 565.0 1172.0 566.4C1172.8 567.7 1174.2 568.9 1176.0 570.1C1177.9 571.3 1180.2 572.4 1182.9 573.5C1185.6 574.5 1188.8 575.6 1192.3 576.5C1195.8 577.5 1199.8 578.4 1203.9 579.2C1208.1 580.0 1212.6 580.7 1217.2 581.4C1221.9 582.1 1226.8 582.6 1231.8 583.1C1236.7 583.6 1241.9 584.1 1246.9 584.4C1252.0 584.8 1257.2 585.1 1262.2 585.3C1267.1 585.5 1272.1 585.6 1276.8 585.7C1281.6 585.8 1286.2 585.8 1290.4 585.8C1294.7 585.7 1298.7 585.6 1302.4 585.5C1306.0 585.3 1309.3 585.1 1312.2 584.8C1315.1 584.5 1317.6 584.2 1319.6 583.8C1321.6 583.4 1323.2 582.9 1324.2 582.3C1325.3 581.7 1325.9 580.8 1326.0 580.0Z" fill="none" stroke="#000" stroke-width="1.4"/>
<linearGradient id="q5b" gradientUnits="userSpaceOnUse" x1="1348.0" y1="589.0" x2="1485.0" y2="589.0"><stop offset="0" stop-color="#000"/><stop offset="0.25" stop-color="#000"/><stop offset="0.55" stop-color="#5a5a10"/><stop offset="1" stop-color="#d8d844"/></linearGradient>
<pattern id="q5bp" width="2.3" height="40" patternUnits="userSpaceOnUse" patternTransform="rotate(0.0)"><path d="M0.4 0V40" stroke="#000" stroke-width="0.8" opacity="0.7"/></pattern>
<path d="M1348.0 589.0C1348.0 589.8 1348.4 590.6 1349.3 591.3C1350.2 592.0 1351.5 592.6 1353.2 593.2C1354.9 593.8 1357.1 594.4 1359.5 595.0C1362.0 595.6 1364.9 596.1 1368.1 596.7C1371.2 597.2 1374.7 597.7 1378.4 598.2C1382.1 598.7 1386.2 599.2 1390.3 599.6C1394.4 600.1 1398.8 600.5 1403.1 600.8C1407.5 601.2 1412.0 601.5 1416.5 601.7C1421.0 601.9 1425.5 602.1 1429.9 602.1C1434.2 602.2 1438.6 602.2 1442.7 602.1C1446.8 601.9 1450.9 601.7 1454.6 601.4C1458.3 601.1 1461.8 600.7 1464.9 600.2C1468.1 599.7 1471.0 599.1 1473.5 598.4C1475.9 597.7 1478.1 596.9 1479.8 596.0C1481.5 595.1 1482.8 594.1 1483.7 593.0C1484.6 591.8 1485.0 590.3 1485.0 589.0C1485.0 587.7 1484.6 586.2 1483.7 585.0C1482.8 583.9 1481.5 582.9 1479.8 582.0C1478.1 581.1 1475.9 580.3 1473.5 579.6C1471.0 578.9 1468.1 578.3 1464.9 577.8C1461.8 577.3 1458.3 576.9 1454.6 576.6C1450.9 576.3 1446.8 576.1 1442.7 575.9C1438.6 575.8 1434.2 575.8 1429.9 575.9C1425.5 575.9 1421.0 576.1 1416.5 576.3C1412.0 576.5 1407.5 576.8 1403.1 577.2C1398.8 577.5 1394.4 577.9 1390.3 578.4C1386.2 578.8 1382.1 579.3 1378.4 579.8C1374.7 580.3 1371.2 580.8 1368.1 581.3C1364.9 581.9 1362.0 582.4 1359.5 583.0C1357.1 583.6 1354.9 584.2 1353.2 584.8C1351.5 585.4 1350.2 586.0 1349.3 586.7C1348.4 587.4 1348.0 588.2 1348.0 589.0Z" fill="url(#q5b)"/>
<path d="M1348.0 589.0C1348.0 589.8 1348.4 590.6 1349.3 591.3C1350.2 592.0 1351.5 592.6 1353.2 593.2C1354.9 593.8 1357.1 594.4 1359.5 595.0C1362.0 595.6 1364.9 596.1 1368.1 596.7C1371.2 597.2 1374.7 597.7 1378.4 598.2C1382.1 598.7 1386.2 599.2 1390.3 599.6C1394.4 600.1 1398.8 600.5 1403.1 600.8C1407.5 601.2 1412.0 601.5 1416.5 601.7C1421.0 601.9 1425.5 602.1 1429.9 602.1C1434.2 602.2 1438.6 602.2 1442.7 602.1C1446.8 601.9 1450.9 601.7 1454.6 601.4C1458.3 601.1 1461.8 600.7 1464.9 600.2C1468.1 599.7 1471.0 599.1 1473.5 598.4C1475.9 597.7 1478.1 596.9 1479.8 596.0C1481.5 595.1 1482.8 594.1 1483.7 593.0C1484.6 591.8 1485.0 590.3 1485.0 589.0C1485.0 587.7 1484.6 586.2 1483.7 585.0C1482.8 583.9 1481.5 582.9 1479.8 582.0C1478.1 581.1 1475.9 580.3 1473.5 579.6C1471.0 578.9 1468.1 578.3 1464.9 577.8C1461.8 577.3 1458.3 576.9 1454.6 576.6C1450.9 576.3 1446.8 576.1 1442.7 575.9C1438.6 575.8 1434.2 575.8 1429.9 575.9C1425.5 575.9 1421.0 576.1 1416.5 576.3C1412.0 576.5 1407.5 576.8 1403.1 577.2C1398.8 577.5 1394.4 577.9 1390.3 578.4C1386.2 578.8 1382.1 579.3 1378.4 579.8C1374.7 580.3 1371.2 580.8 1368.1 581.3C1364.9 581.9 1362.0 582.4 1359.5 583.0C1357.1 583.6 1354.9 584.2 1353.2 584.8C1351.5 585.4 1350.2 586.0 1349.3 586.7C1348.4 587.4 1348.0 588.2 1348.0 589.0Z" fill="url(#q5bp)"/>
<path d="M1375.4 589.0C1375.4 589.5 1375.7 590.1 1376.4 590.5C1377.0 591.0 1378.0 591.4 1379.3 591.8C1380.5 592.2 1382.1 592.6 1383.9 593.0C1385.8 593.3 1387.9 593.7 1390.2 594.1C1392.6 594.4 1395.2 594.8 1397.9 595.1C1400.7 595.4 1403.6 595.7 1406.7 596.0C1409.7 596.3 1413.0 596.6 1416.2 596.8C1419.4 597.0 1422.8 597.2 1426.1 597.4C1429.4 597.5 1432.7 597.6 1436.0 597.7C1439.2 597.7 1442.4 597.7 1445.5 597.6C1448.5 597.5 1451.5 597.4 1454.3 597.2C1457.0 597.0 1459.6 596.7 1461.9 596.4C1464.3 596.1 1466.4 595.7 1468.2 595.2C1470.1 594.7 1471.7 594.2 1472.9 593.6C1474.2 593.0 1475.2 592.4 1475.8 591.6C1476.4 590.9 1476.8 589.9 1476.8 589.0C1476.8 588.1 1476.4 587.1 1475.8 586.4C1475.2 585.6 1474.2 585.0 1472.9 584.4C1471.7 583.8 1470.1 583.3 1468.2 582.8C1466.4 582.3 1464.3 581.9 1461.9 581.6C1459.6 581.3 1457.0 581.0 1454.3 580.8C1451.5 580.6 1448.5 580.5 1445.5 580.4C1442.4 580.3 1439.2 580.3 1436.0 580.3C1432.7 580.4 1429.4 580.5 1426.1 580.6C1422.8 580.8 1419.4 581.0 1416.2 581.2C1413.0 581.4 1409.7 581.7 1406.7 582.0C1403.6 582.3 1400.7 582.6 1397.9 582.9C1395.2 583.2 1392.6 583.6 1390.2 583.9C1387.9 584.3 1385.8 584.7 1383.9 585.0C1382.1 585.4 1380.5 585.8 1379.3 586.2C1378.0 586.6 1377.0 587.0 1376.4 587.5C1375.7 587.9 1375.4 588.5 1375.4 589.0Z" fill="none" stroke="#000" stroke-width="0.9" opacity="0.7"/>
<path d="M1348.0 589.0C1348.0 589.8 1348.4 590.6 1349.3 591.3C1350.2 592.0 1351.5 592.6 1353.2 593.2C1354.9 593.8 1357.1 594.4 1359.5 595.0C1362.0 595.6 1364.9 596.1 1368.1 596.7C1371.2 597.2 1374.7 597.7 1378.4 598.2C1382.1 598.7 1386.2 599.2 1390.3 599.6C1394.4 600.1 1398.8 600.5 1403.1 600.8C1407.5 601.2 1412.0 601.5 1416.5 601.7C1421.0 601.9 1425.5 602.1 1429.9 602.1C1434.2 602.2 1438.6 602.2 1442.7 602.1C1446.8 601.9 1450.9 601.7 1454.6 601.4C1458.3 601.1 1461.8 600.7 1464.9 600.2C1468.1 599.7 1471.0 599.1 1473.5 598.4C1475.9 597.7 1478.1 596.9 1479.8 596.0C1481.5 595.1 1482.8 594.1 1483.7 593.0C1484.6 591.8 1485.0 590.3 1485.0 589.0C1485.0 587.7 1484.6 586.2 1483.7 585.0C1482.8 583.9 1481.5 582.9 1479.8 582.0C1478.1 581.1 1475.9 580.3 1473.5 579.6C1471.0 578.9 1468.1 578.3 1464.9 577.8C1461.8 577.3 1458.3 576.9 1454.6 576.6C1450.9 576.3 1446.8 576.1 1442.7 575.9C1438.6 575.8 1434.2 575.8 1429.9 575.9C1425.5 575.9 1421.0 576.1 1416.5 576.3C1412.0 576.5 1407.5 576.8 1403.1 577.2C1398.8 577.5 1394.4 577.9 1390.3 578.4C1386.2 578.8 1382.1 579.3 1378.4 579.8C1374.7 580.3 1371.2 580.8 1368.1 581.3C1364.9 581.9 1362.0 582.4 1359.5 583.0C1357.1 583.6 1354.9 584.2 1353.2 584.8C1351.5 585.4 1350.2 586.0 1349.3 586.7C1348.4 587.4 1348.0 588.2 1348.0 589.0Z" fill="none" stroke="#000" stroke-width="1.4"/>
<linearGradient id="p5d" gradientUnits="userSpaceOnUse" x1="1328.0" y1="588.0" x2="1179.0" y2="590.0"><stop offset="0" stop-color="#000"/><stop offset="0.25" stop-color="#000"/><stop offset="0.55" stop-color="#5a5a10"/><stop offset="1" stop-color="#d4d444"/></linearGradient>
<pattern id="p5dp" width="2.3" height="40" patternUnits="userSpaceOnUse" patternTransform="rotate(179.2)"><path d="M0.4 0V40" stroke="#000" stroke-width="0.8" opacity="0.7"/></pattern>
<path d="M1328.0 588.0C1328.0 587.1 1327.5 586.2 1326.5 585.4C1325.6 584.6 1324.1 584.0 1322.3 583.3C1320.4 582.6 1318.1 582.0 1315.4 581.4C1312.7 580.8 1309.5 580.2 1306.1 579.6C1302.6 579.0 1298.8 578.5 1294.7 578.0C1290.7 577.5 1286.3 577.0 1281.8 576.6C1277.4 576.1 1272.6 575.7 1267.9 575.4C1263.1 575.1 1258.2 574.8 1253.3 574.6C1248.5 574.5 1243.5 574.3 1238.8 574.3C1234.0 574.3 1229.3 574.4 1224.8 574.6C1220.3 574.8 1215.9 575.1 1211.9 575.5C1207.9 575.9 1204.1 576.4 1200.6 577.0C1197.2 577.6 1194.1 578.3 1191.4 579.2C1188.7 580.0 1186.4 581.0 1184.6 582.0C1182.7 583.1 1181.3 584.1 1180.4 585.5C1179.4 586.8 1179.0 588.5 1179.0 590.0C1179.0 591.5 1179.5 593.2 1180.5 594.5C1181.5 595.8 1182.9 596.8 1184.8 597.8C1186.6 598.8 1189.0 599.7 1191.7 600.5C1194.4 601.2 1197.6 601.9 1201.0 602.4C1204.4 602.9 1208.3 603.4 1212.3 603.7C1216.3 603.9 1220.7 604.1 1225.2 604.2C1229.7 604.2 1234.4 604.2 1239.2 604.1C1243.9 603.9 1248.9 603.7 1253.7 603.4C1258.5 603.1 1263.5 602.6 1268.2 602.2C1273.0 601.8 1277.7 601.2 1282.2 600.7C1286.6 600.1 1291.0 599.5 1295.0 598.9C1299.1 598.3 1302.9 597.6 1306.3 597.0C1309.7 596.3 1312.9 595.6 1315.5 595.0C1318.2 594.3 1320.5 593.6 1322.4 592.9C1324.2 592.1 1325.7 591.5 1326.6 590.7C1327.5 589.9 1328.0 588.9 1328.0 588.0Z" fill="url(#p5d)"/>
<path d="M1328.0 588.0C1328.0 587.1 1327.5 586.2 1326.5 585.4C1325.6 584.6 1324.1 584.0 1322.3 583.3C1320.4 582.6 1318.1 582.0 1315.4 581.4C1312.7 580.8 1309.5 580.2 1306.1 579.6C1302.6 579.0 1298.8 578.5 1294.7 578.0C1290.7 577.5 1286.3 577.0 1281.8 576.6C1277.4 576.1 1272.6 575.7 1267.9 575.4C1263.1 575.1 1258.2 574.8 1253.3 574.6C1248.5 574.5 1243.5 574.3 1238.8 574.3C1234.0 574.3 1229.3 574.4 1224.8 574.6C1220.3 574.8 1215.9 575.1 1211.9 575.5C1207.9 575.9 1204.1 576.4 1200.6 577.0C1197.2 577.6 1194.1 578.3 1191.4 579.2C1188.7 580.0 1186.4 581.0 1184.6 582.0C1182.7 583.1 1181.3 584.1 1180.4 585.5C1179.4 586.8 1179.0 588.5 1179.0 590.0C1179.0 591.5 1179.5 593.2 1180.5 594.5C1181.5 595.8 1182.9 596.8 1184.8 597.8C1186.6 598.8 1189.0 599.7 1191.7 600.5C1194.4 601.2 1197.6 601.9 1201.0 602.4C1204.4 602.9 1208.3 603.4 1212.3 603.7C1216.3 603.9 1220.7 604.1 1225.2 604.2C1229.7 604.2 1234.4 604.2 1239.2 604.1C1243.9 603.9 1248.9 603.7 1253.7 603.4C1258.5 603.1 1263.5 602.6 1268.2 602.2C1273.0 601.8 1277.7 601.2 1282.2 600.7C1286.6 600.1 1291.0 599.5 1295.0 598.9C1299.1 598.3 1302.9 597.6 1306.3 597.0C1309.7 596.3 1312.9 595.6 1315.5 595.0C1318.2 594.3 1320.5 593.6 1322.4 592.9C1324.2 592.1 1325.7 591.5 1326.6 590.7C1327.5 589.9 1328.0 588.9 1328.0 588.0Z" fill="url(#p5dp)"/>
<path d="M1298.2 588.4C1298.2 587.8 1297.8 587.2 1297.1 586.7C1296.4 586.2 1295.3 585.7 1294.0 585.3C1292.6 584.9 1290.8 584.4 1288.8 584.0C1286.9 583.6 1284.5 583.3 1282.0 582.9C1279.4 582.5 1276.6 582.2 1273.6 581.8C1270.6 581.5 1267.4 581.2 1264.1 580.9C1260.7 580.6 1257.2 580.4 1253.7 580.2C1250.2 579.9 1246.5 579.8 1242.9 579.7C1239.4 579.5 1235.7 579.5 1232.2 579.5C1228.7 579.5 1225.2 579.5 1221.8 579.7C1218.5 579.8 1215.3 580.0 1212.3 580.2C1209.3 580.5 1206.5 580.9 1204.0 581.3C1201.4 581.7 1199.1 582.2 1197.1 582.7C1195.2 583.3 1193.4 583.9 1192.1 584.6C1190.7 585.3 1189.6 586.0 1189.0 586.9C1188.3 587.8 1187.9 588.9 1187.9 589.9C1188.0 590.9 1188.3 592.0 1189.0 592.8C1189.8 593.7 1190.8 594.4 1192.2 595.0C1193.6 595.7 1195.3 596.3 1197.3 596.8C1199.3 597.3 1201.7 597.7 1204.2 598.1C1206.7 598.4 1209.6 598.7 1212.6 598.9C1215.6 599.0 1218.8 599.1 1222.1 599.2C1225.4 599.2 1228.9 599.2 1232.4 599.1C1236.0 599.0 1239.6 598.8 1243.2 598.6C1246.8 598.4 1250.4 598.1 1253.9 597.8C1257.5 597.5 1261.0 597.2 1264.3 596.8C1267.6 596.4 1270.8 596.0 1273.8 595.6C1276.8 595.2 1279.6 594.8 1282.1 594.3C1284.7 593.9 1287.0 593.5 1289.0 593.0C1291.0 592.5 1292.7 592.1 1294.0 591.6C1295.4 591.1 1296.5 590.7 1297.2 590.2C1297.9 589.6 1298.2 589.0 1298.2 588.4Z" fill="none" stroke="#000" stroke-width="0.9" opacity="0.7"/>
<path d="M1328.0 588.0C1328.0 587.1 1327.5 586.2 1326.5 585.4C1325.6 584.6 1324.1 584.0 1322.3 583.3C1320.4 582.6 1318.1 582.0 1315.4 581.4C1312.7 580.8 1309.5 580.2 1306.1 579.6C1302.6 579.0 1298.8 578.5 1294.7 578.0C1290.7 577.5 1286.3 577.0 1281.8 576.6C1277.4 576.1 1272.6 575.7 1267.9 575.4C1263.1 575.1 1258.2 574.8 1253.3 574.6C1248.5 574.5 1243.5 574.3 1238.8 574.3C1234.0 574.3 1229.3 574.4 1224.8 574.6C1220.3 574.8 1215.9 575.1 1211.9 575.5C1207.9 575.9 1204.1 576.4 1200.6 577.0C1197.2 577.6 1194.1 578.3 1191.4 579.2C1188.7 580.0 1186.4 581.0 1184.6 582.0C1182.7 583.1 1181.3 584.1 1180.4 585.5C1179.4 586.8 1179.0 588.5 1179.0 590.0C1179.0 591.5 1179.5 593.2 1180.5 594.5C1181.5 595.8 1182.9 596.8 1184.8 597.8C1186.6 598.8 1189.0 599.7 1191.7 600.5C1194.4 601.2 1197.6 601.9 1201.0 602.4C1204.4 602.9 1208.3 603.4 1212.3 603.7C1216.3 603.9 1220.7 604.1 1225.2 604.2C1229.7 604.2 1234.4 604.2 1239.2 604.1C1243.9 603.9 1248.9 603.7 1253.7 603.4C1258.5 603.1 1263.5 602.6 1268.2 602.2C1273.0 601.8 1277.7 601.2 1282.2 600.7C1286.6 600.1 1291.0 599.5 1295.0 598.9C1299.1 598.3 1302.9 597.6 1306.3 597.0C1309.7 596.3 1312.9 595.6 1315.5 595.0C1318.2 594.3 1320.5 593.6 1322.4 592.9C1324.2 592.1 1325.7 591.5 1326.6 590.7C1327.5 589.9 1328.0 588.9 1328.0 588.0Z" fill="none" stroke="#000" stroke-width="1.4"/>
<linearGradient id="q5c" gradientUnits="userSpaceOnUse" x1="1348.0" y1="593.0" x2="1493.0" y2="613.0"><stop offset="0" stop-color="#000"/><stop offset="0.25" stop-color="#000"/><stop offset="0.5" stop-color="#5a5a10"/><stop offset="1" stop-color="#dcdc46"/></linearGradient>
<pattern id="q5cp" width="2.3" height="40" patternUnits="userSpaceOnUse" patternTransform="rotate(7.9)"><path d="M0.4 0V40" stroke="#000" stroke-width="0.8" opacity="0.7"/></pattern>
<path d="M1348.0 593.0C1347.9 593.8 1348.3 594.7 1349.1 595.5C1349.9 596.3 1351.2 597.1 1352.9 597.9C1354.7 598.8 1356.9 599.7 1359.4 600.6C1361.9 601.5 1364.9 602.5 1368.2 603.5C1371.4 604.5 1375.1 605.6 1379.0 606.6C1382.8 607.6 1387.0 608.7 1391.3 609.7C1395.6 610.7 1400.2 611.8 1404.7 612.8C1409.3 613.7 1414.1 614.7 1418.8 615.6C1423.5 616.4 1428.2 617.2 1432.9 617.9C1437.5 618.6 1442.1 619.3 1446.5 619.8C1450.8 620.3 1455.1 620.6 1459.1 620.9C1463.0 621.1 1466.8 621.2 1470.2 621.2C1473.6 621.1 1476.8 621.0 1479.5 620.6C1482.2 620.3 1484.6 619.8 1486.5 619.2C1488.5 618.5 1490.0 617.8 1491.1 616.8C1492.1 615.7 1492.8 614.3 1493.0 613.0C1493.2 611.7 1492.9 610.1 1492.2 608.9C1491.4 607.6 1490.1 606.5 1488.4 605.3C1486.8 604.2 1484.6 603.1 1482.1 602.0C1479.5 600.9 1476.6 599.9 1473.3 599.0C1470.0 598.0 1466.4 597.1 1462.5 596.2C1458.6 595.4 1454.4 594.6 1450.0 593.9C1445.7 593.2 1441.1 592.5 1436.4 592.0C1431.8 591.4 1427.0 590.9 1422.2 590.4C1417.5 590.0 1412.6 589.6 1408.0 589.3C1403.3 589.0 1398.6 588.8 1394.2 588.6C1389.8 588.5 1385.5 588.3 1381.5 588.3C1377.5 588.3 1373.7 588.3 1370.3 588.3C1366.9 588.4 1363.7 588.5 1361.0 588.8C1358.3 589.0 1356.0 589.2 1354.1 589.6C1352.2 589.9 1350.7 590.3 1349.7 590.9C1348.7 591.5 1348.1 592.2 1348.0 593.0Z" fill="url(#q5c)"/>
<path d="M1348.0 593.0C1347.9 593.8 1348.3 594.7 1349.1 595.5C1349.9 596.3 1351.2 597.1 1352.9 597.9C1354.7 598.8 1356.9 599.7 1359.4 600.6C1361.9 601.5 1364.9 602.5 1368.2 603.5C1371.4 604.5 1375.1 605.6 1379.0 606.6C1382.8 607.6 1387.0 608.7 1391.3 609.7C1395.6 610.7 1400.2 611.8 1404.7 612.8C1409.3 613.7 1414.1 614.7 1418.8 615.6C1423.5 616.4 1428.2 617.2 1432.9 617.9C1437.5 618.6 1442.1 619.3 1446.5 619.8C1450.8 620.3 1455.1 620.6 1459.1 620.9C1463.0 621.1 1466.8 621.2 1470.2 621.2C1473.6 621.1 1476.8 621.0 1479.5 620.6C1482.2 620.3 1484.6 619.8 1486.5 619.2C1488.5 618.5 1490.0 617.8 1491.1 616.8C1492.1 615.7 1492.8 614.3 1493.0 613.0C1493.2 611.7 1492.9 610.1 1492.2 608.9C1491.4 607.6 1490.1 606.5 1488.4 605.3C1486.8 604.2 1484.6 603.1 1482.1 602.0C1479.5 600.9 1476.6 599.9 1473.3 599.0C1470.0 598.0 1466.4 597.1 1462.5 596.2C1458.6 595.4 1454.4 594.6 1450.0 593.9C1445.7 593.2 1441.1 592.5 1436.4 592.0C1431.8 591.4 1427.0 590.9 1422.2 590.4C1417.5 590.0 1412.6 589.6 1408.0 589.3C1403.3 589.0 1398.6 588.8 1394.2 588.6C1389.8 588.5 1385.5 588.3 1381.5 588.3C1377.5 588.3 1373.7 588.3 1370.3 588.3C1366.9 588.4 1363.7 588.5 1361.0 588.8C1358.3 589.0 1356.0 589.2 1354.1 589.6C1352.2 589.9 1350.7 590.3 1349.7 590.9C1348.7 591.5 1348.1 592.2 1348.0 593.0Z" fill="url(#q5cp)"/>
<path d="M1377.0 597.0C1376.9 597.5 1377.2 598.1 1377.8 598.7C1378.4 599.2 1379.4 599.7 1380.7 600.3C1382.0 600.9 1383.6 601.5 1385.5 602.2C1387.4 602.8 1389.6 603.5 1392.0 604.2C1394.4 604.9 1397.2 605.6 1400.0 606.3C1402.9 607.0 1406.0 607.8 1409.2 608.5C1412.3 609.3 1415.7 610.0 1419.1 610.7C1422.5 611.4 1426.0 612.1 1429.5 612.7C1433.0 613.3 1436.5 613.9 1439.9 614.4C1443.3 614.9 1446.8 615.4 1450.0 615.8C1453.2 616.1 1456.4 616.4 1459.3 616.6C1462.3 616.8 1465.1 617.0 1467.6 617.0C1470.1 617.0 1472.4 616.9 1474.4 616.7C1476.4 616.5 1478.2 616.2 1479.6 615.8C1481.0 615.4 1482.1 614.9 1482.9 614.3C1483.7 613.6 1484.2 612.7 1484.3 611.8C1484.4 610.9 1484.2 609.9 1483.6 609.1C1483.1 608.2 1482.1 607.4 1480.8 606.7C1479.6 605.9 1478.0 605.1 1476.1 604.4C1474.2 603.7 1472.0 603.0 1469.6 602.3C1467.2 601.6 1464.5 601.0 1461.6 600.4C1458.7 599.8 1455.6 599.2 1452.4 598.7C1449.1 598.2 1445.7 597.7 1442.3 597.3C1438.9 596.8 1435.3 596.5 1431.8 596.1C1428.3 595.8 1424.7 595.5 1421.2 595.2C1417.8 595.0 1414.3 594.8 1411.1 594.6C1407.8 594.4 1404.6 594.3 1401.7 594.3C1398.7 594.2 1395.9 594.1 1393.4 594.2C1390.9 594.2 1388.6 594.2 1386.6 594.3C1384.6 594.4 1382.9 594.6 1381.5 594.8C1380.1 595.0 1379.0 595.2 1378.2 595.6C1377.5 596.0 1377.1 596.5 1377.0 597.0Z" fill="none" stroke="#000" stroke-width="0.9" opacity="0.7"/>
<path d="M1348.0 593.0C1347.9 593.8 1348.3 594.7 1349.1 595.5C1349.9 596.3 1351.2 597.1 1352.9 597.9C1354.7 598.8 1356.9 599.7 1359.4 600.6C1361.9 601.5 1364.9 602.5 1368.2 603.5C1371.4 604.5 1375.1 605.6 1379.0 606.6C1382.8 607.6 1387.0 608.7 1391.3 609.7C1395.6 610.7 1400.2 611.8 1404.7 612.8C1409.3 613.7 1414.1 614.7 1418.8 615.6C1423.5 616.4 1428.2 617.2 1432.9 617.9C1437.5 618.6 1442.1 619.3 1446.5 619.8C1450.8 620.3 1455.1 620.6 1459.1 620.9C1463.0 621.1 1466.8 621.2 1470.2 621.2C1473.6 621.1 1476.8 621.0 1479.5 620.6C1482.2 620.3 1484.6 619.8 1486.5 619.2C1488.5 618.5 1490.0 617.8 1491.1 616.8C1492.1 615.7 1492.8 614.3 1493.0 613.0C1493.2 611.7 1492.9 610.1 1492.2 608.9C1491.4 607.6 1490.1 606.5 1488.4 605.3C1486.8 604.2 1484.6 603.1 1482.1 602.0C1479.5 600.9 1476.6 599.9 1473.3 599.0C1470.0 598.0 1466.4 597.1 1462.5 596.2C1458.6 595.4 1454.4 594.6 1450.0 593.9C1445.7 593.2 1441.1 592.5 1436.4 592.0C1431.8 591.4 1427.0 590.9 1422.2 590.4C1417.5 590.0 1412.6 589.6 1408.0 589.3C1403.3 589.0 1398.6 588.8 1394.2 588.6C1389.8 588.5 1385.5 588.3 1381.5 588.3C1377.5 588.3 1373.7 588.3 1370.3 588.3C1366.9 588.4 1363.7 588.5 1361.0 588.8C1358.3 589.0 1356.0 589.2 1354.1 589.6C1352.2 589.9 1350.7 590.3 1349.7 590.9C1348.7 591.5 1348.1 592.2 1348.0 593.0Z" fill="none" stroke="#000" stroke-width="1.4"/>
<linearGradient id="p5e" gradientUnits="userSpaceOnUse" x1="1330.0" y1="593.0" x2="1226.0" y2="607.0"><stop offset="0" stop-color="#000"/><stop offset="0.3" stop-color="#000"/><stop offset="0.65" stop-color="#5a5a10"/><stop offset="1" stop-color="#c0c03c"/></linearGradient>
<pattern id="p5ep" width="2.3" height="40" patternUnits="userSpaceOnUse" patternTransform="rotate(172.3)"><path d="M0.4 0V40" stroke="#000" stroke-width="0.8" opacity="0.7"/></pattern>
<path d="M1330.0 593.0C1329.9 592.3 1329.5 591.5 1328.7 591.0C1328.0 590.4 1326.9 590.0 1325.5 589.6C1324.1 589.2 1322.4 588.9 1320.5 588.6C1318.5 588.4 1316.3 588.1 1313.8 588.0C1311.4 587.8 1308.6 587.7 1305.7 587.6C1302.9 587.5 1299.8 587.5 1296.6 587.5C1293.4 587.5 1290.0 587.6 1286.7 587.7C1283.3 587.8 1279.8 588.0 1276.4 588.3C1273.0 588.5 1269.5 588.8 1266.2 589.2C1262.9 589.6 1259.6 590.1 1256.5 590.6C1253.4 591.1 1250.3 591.7 1247.6 592.4C1244.8 593.0 1242.2 593.8 1239.8 594.6C1237.5 595.4 1235.4 596.2 1233.6 597.1C1231.8 598.0 1230.3 599.0 1229.1 600.0C1227.9 601.0 1227.0 602.0 1226.5 603.2C1226.0 604.3 1225.8 605.8 1226.0 607.0C1226.2 608.2 1226.7 609.6 1227.5 610.6C1228.3 611.5 1229.4 612.3 1230.8 612.9C1232.2 613.6 1234.0 614.1 1235.9 614.5C1237.9 614.9 1240.2 615.2 1242.6 615.3C1245.1 615.5 1247.8 615.5 1250.7 615.4C1253.5 615.3 1256.6 615.1 1259.7 614.8C1262.9 614.4 1266.2 614.0 1269.5 613.5C1272.8 613.0 1276.2 612.4 1279.6 611.7C1282.9 611.1 1286.3 610.3 1289.6 609.6C1292.9 608.8 1296.2 608.0 1299.2 607.2C1302.3 606.3 1305.3 605.5 1308.0 604.7C1310.8 603.8 1313.4 603.0 1315.7 602.1C1318.0 601.3 1320.2 600.5 1322.0 599.7C1323.8 598.9 1325.3 598.2 1326.6 597.4C1327.8 596.7 1328.7 596.0 1329.3 595.3C1329.9 594.6 1330.1 593.7 1330.0 593.0Z" fill="url(#p5e)"/>
<path d="M1330.0 593.0C1329.9 592.3 1329.5 591.5 1328.7 591.0C1328.0 590.4 1326.9 590.0 1325.5 589.6C1324.1 589.2 1322.4 588.9 1320.5 588.6C1318.5 588.4 1316.3 588.1 1313.8 588.0C1311.4 587.8 1308.6 587.7 1305.7 587.6C1302.9 587.5 1299.8 587.5 1296.6 587.5C1293.4 587.5 1290.0 587.6 1286.7 587.7C1283.3 587.8 1279.8 588.0 1276.4 588.3C1273.0 588.5 1269.5 588.8 1266.2 589.2C1262.9 589.6 1259.6 590.1 1256.5 590.6C1253.4 591.1 1250.3 591.7 1247.6 592.4C1244.8 593.0 1242.2 593.8 1239.8 594.6C1237.5 595.4 1235.4 596.2 1233.6 597.1C1231.8 598.0 1230.3 599.0 1229.1 600.0C1227.9 601.0 1227.0 602.0 1226.5 603.2C1226.0 604.3 1225.8 605.8 1226.0 607.0C1226.2 608.2 1226.7 609.6 1227.5 610.6C1228.3 611.5 1229.4 612.3 1230.8 612.9C1232.2 613.6 1234.0 614.1 1235.9 614.5C1237.9 614.9 1240.2 615.2 1242.6 615.3C1245.1 615.5 1247.8 615.5 1250.7 615.4C1253.5 615.3 1256.6 615.1 1259.7 614.8C1262.9 614.4 1266.2 614.0 1269.5 613.5C1272.8 613.0 1276.2 612.4 1279.6 611.7C1282.9 611.1 1286.3 610.3 1289.6 609.6C1292.9 608.8 1296.2 608.0 1299.2 607.2C1302.3 606.3 1305.3 605.5 1308.0 604.7C1310.8 603.8 1313.4 603.0 1315.7 602.1C1318.0 601.3 1320.2 600.5 1322.0 599.7C1323.8 598.9 1325.3 598.2 1326.6 597.4C1327.8 596.7 1328.7 596.0 1329.3 595.3C1329.9 594.6 1330.1 593.7 1330.0 593.0Z" fill="url(#p5ep)"/>
<path d="M1309.2 595.8C1309.1 595.3 1308.8 594.8 1308.3 594.5C1307.7 594.1 1306.9 593.9 1305.9 593.6C1304.9 593.4 1303.7 593.2 1302.2 593.0C1300.8 592.9 1299.1 592.7 1297.3 592.6C1295.5 592.5 1293.5 592.5 1291.3 592.5C1289.2 592.4 1286.9 592.5 1284.6 592.5C1282.2 592.5 1279.7 592.6 1277.3 592.8C1274.8 592.9 1272.2 593.0 1269.7 593.2C1267.2 593.4 1264.6 593.7 1262.1 594.0C1259.7 594.3 1257.2 594.6 1254.9 595.0C1252.6 595.4 1250.4 595.8 1248.3 596.3C1246.3 596.7 1244.3 597.2 1242.6 597.8C1240.9 598.3 1239.3 598.9 1238.0 599.6C1236.6 600.2 1235.5 600.8 1234.6 601.5C1233.7 602.2 1233.0 602.9 1232.7 603.6C1232.3 604.4 1232.1 605.3 1232.2 606.2C1232.3 607.0 1232.7 607.8 1233.3 608.5C1233.9 609.1 1234.7 609.6 1235.7 610.0C1236.8 610.4 1238.0 610.8 1239.5 611.0C1240.9 611.3 1242.6 611.4 1244.4 611.5C1246.2 611.6 1248.3 611.5 1250.4 611.5C1252.5 611.4 1254.7 611.2 1257.1 610.9C1259.4 610.7 1261.8 610.4 1264.3 610.0C1266.7 609.6 1269.3 609.2 1271.8 608.7C1274.2 608.2 1276.8 607.7 1279.2 607.2C1281.6 606.6 1284.0 606.1 1286.3 605.5C1288.6 604.9 1290.8 604.3 1292.9 603.7C1294.9 603.2 1296.8 602.6 1298.6 602.0C1300.3 601.4 1301.9 600.9 1303.2 600.3C1304.6 599.8 1305.7 599.3 1306.6 598.8C1307.5 598.3 1308.2 597.8 1308.7 597.3C1309.1 596.8 1309.3 596.3 1309.2 595.8Z" fill="none" stroke="#000" stroke-width="0.9" opacity="0.7"/>
<path d="M1330.0 593.0C1329.9 592.3 1329.5 591.5 1328.7 591.0C1328.0 590.4 1326.9 590.0 1325.5 589.6C1324.1 589.2 1322.4 588.9 1320.5 588.6C1318.5 588.4 1316.3 588.1 1313.8 588.0C1311.4 587.8 1308.6 587.7 1305.7 587.6C1302.9 587.5 1299.8 587.5 1296.6 587.5C1293.4 587.5 1290.0 587.6 1286.7 587.7C1283.3 587.8 1279.8 588.0 1276.4 588.3C1273.0 588.5 1269.5 588.8 1266.2 589.2C1262.9 589.6 1259.6 590.1 1256.5 590.6C1253.4 591.1 1250.3 591.7 1247.6 592.4C1244.8 593.0 1242.2 593.8 1239.8 594.6C1237.5 595.4 1235.4 596.2 1233.6 597.1C1231.8 598.0 1230.3 599.0 1229.1 600.0C1227.9 601.0 1227.0 602.0 1226.5 603.2C1226.0 604.3 1225.8 605.8 1226.0 607.0C1226.2 608.2 1226.7 609.6 1227.5 610.6C1228.3 611.5 1229.4 612.3 1230.8 612.9C1232.2 613.6 1234.0 614.1 1235.9 614.5C1237.9 614.9 1240.2 615.2 1242.6 615.3C1245.1 615.5 1247.8 615.5 1250.7 615.4C1253.5 615.3 1256.6 615.1 1259.7 614.8C1262.9 614.4 1266.2 614.0 1269.5 613.5C1272.8 613.0 1276.2 612.4 1279.6 611.7C1282.9 611.1 1286.3 610.3 1289.6 609.6C1292.9 608.8 1296.2 608.0 1299.2 607.2C1302.3 606.3 1305.3 605.5 1308.0 604.7C1310.8 603.8 1313.4 603.0 1315.7 602.1C1318.0 601.3 1320.2 600.5 1322.0 599.7C1323.8 598.9 1325.3 598.2 1326.6 597.4C1327.8 596.7 1328.7 596.0 1329.3 595.3C1329.9 594.6 1330.1 593.7 1330.0 593.0Z" fill="none" stroke="#000" stroke-width="1.4"/>
<linearGradient id="q5d" gradientUnits="userSpaceOnUse" x1="1346.0" y1="598.0" x2="1455.0" y2="637.0"><stop offset="0" stop-color="#000"/><stop offset="0.3" stop-color="#000"/><stop offset="0.6" stop-color="#5a5a10"/><stop offset="1" stop-color="#d0d042"/></linearGradient>
<pattern id="q5dp" width="2.3" height="40" patternUnits="userSpaceOnUse" patternTransform="rotate(19.7)"><path d="M0.4 0V40" stroke="#000" stroke-width="0.8" opacity="0.7"/></pattern>
<path d="M1346.0 598.0C1345.7 598.7 1345.8 599.7 1346.3 600.6C1346.7 601.5 1347.6 602.4 1348.7 603.5C1349.9 604.5 1351.4 605.7 1353.2 606.9C1354.9 608.2 1357.1 609.5 1359.4 610.9C1361.7 612.3 1364.3 613.8 1367.1 615.4C1369.9 616.9 1372.9 618.5 1376.1 620.1C1379.2 621.6 1382.5 623.3 1385.9 624.8C1389.2 626.4 1392.8 628.0 1396.2 629.4C1399.7 630.9 1403.3 632.3 1406.7 633.7C1410.2 635.0 1413.6 636.2 1417.0 637.3C1420.3 638.3 1423.5 639.3 1426.6 640.0C1429.6 640.8 1432.6 641.4 1435.3 641.9C1437.9 642.3 1440.4 642.5 1442.7 642.6C1444.9 642.6 1446.8 642.5 1448.5 642.1C1450.2 641.7 1451.5 641.2 1452.6 640.4C1453.7 639.5 1454.6 638.3 1455.0 637.0C1455.4 635.7 1455.6 634.2 1455.3 632.9C1455.0 631.5 1454.3 630.3 1453.2 628.9C1452.2 627.6 1450.7 626.2 1449.0 624.9C1447.2 623.5 1445.2 622.1 1442.8 620.7C1440.5 619.4 1437.8 618.0 1435.0 616.6C1432.1 615.3 1429.0 613.9 1425.8 612.7C1422.5 611.4 1419.0 610.1 1415.6 609.0C1412.1 607.8 1408.4 606.6 1404.8 605.6C1401.2 604.5 1397.4 603.5 1393.8 602.6C1390.3 601.6 1386.6 600.8 1383.2 600.0C1379.8 599.3 1376.4 598.6 1373.3 598.0C1370.2 597.4 1367.2 596.9 1364.5 596.5C1361.9 596.1 1359.4 595.8 1357.2 595.6C1355.0 595.5 1353.1 595.4 1351.6 595.5C1350.0 595.6 1348.8 595.8 1347.8 596.2C1346.9 596.6 1346.3 597.3 1346.0 598.0Z" fill="url(#q5d)"/>
<path d="M1346.0 598.0C1345.7 598.7 1345.8 599.7 1346.3 600.6C1346.7 601.5 1347.6 602.4 1348.7 603.5C1349.9 604.5 1351.4 605.7 1353.2 606.9C1354.9 608.2 1357.1 609.5 1359.4 610.9C1361.7 612.3 1364.3 613.8 1367.1 615.4C1369.9 616.9 1372.9 618.5 1376.1 620.1C1379.2 621.6 1382.5 623.3 1385.9 624.8C1389.2 626.4 1392.8 628.0 1396.2 629.4C1399.7 630.9 1403.3 632.3 1406.7 633.7C1410.2 635.0 1413.6 636.2 1417.0 637.3C1420.3 638.3 1423.5 639.3 1426.6 640.0C1429.6 640.8 1432.6 641.4 1435.3 641.9C1437.9 642.3 1440.4 642.5 1442.7 642.6C1444.9 642.6 1446.8 642.5 1448.5 642.1C1450.2 641.7 1451.5 641.2 1452.6 640.4C1453.7 639.5 1454.6 638.3 1455.0 637.0C1455.4 635.7 1455.6 634.2 1455.3 632.9C1455.0 631.5 1454.3 630.3 1453.2 628.9C1452.2 627.6 1450.7 626.2 1449.0 624.9C1447.2 623.5 1445.2 622.1 1442.8 620.7C1440.5 619.4 1437.8 618.0 1435.0 616.6C1432.1 615.3 1429.0 613.9 1425.8 612.7C1422.5 611.4 1419.0 610.1 1415.6 609.0C1412.1 607.8 1408.4 606.6 1404.8 605.6C1401.2 604.5 1397.4 603.5 1393.8 602.6C1390.3 601.6 1386.6 600.8 1383.2 600.0C1379.8 599.3 1376.4 598.6 1373.3 598.0C1370.2 597.4 1367.2 596.9 1364.5 596.5C1361.9 596.1 1359.4 595.8 1357.2 595.6C1355.0 595.5 1353.1 595.4 1351.6 595.5C1350.0 595.6 1348.8 595.8 1347.8 596.2C1346.9 596.6 1346.3 597.3 1346.0 598.0Z" fill="url(#q5dp)"/>
<path d="M1367.8 605.8C1367.6 606.3 1367.7 606.9 1368.1 607.5C1368.4 608.1 1369.1 608.8 1369.9 609.5C1370.8 610.3 1371.9 611.1 1373.3 612.0C1374.6 612.8 1376.2 613.8 1377.9 614.8C1379.6 615.8 1381.6 616.9 1383.7 618.0C1385.7 619.0 1388.0 620.2 1390.3 621.3C1392.7 622.5 1395.1 623.6 1397.6 624.8C1400.1 625.9 1402.7 627.0 1405.3 628.1C1407.9 629.2 1410.5 630.2 1413.1 631.2C1415.6 632.2 1418.2 633.1 1420.7 633.9C1423.1 634.7 1425.5 635.4 1427.8 636.0C1430.0 636.6 1432.2 637.1 1434.2 637.4C1436.1 637.8 1438.0 638.0 1439.6 638.1C1441.2 638.1 1442.6 638.1 1443.8 637.9C1445.0 637.7 1446.0 637.4 1446.8 636.9C1447.6 636.3 1448.2 635.5 1448.5 634.7C1448.8 633.8 1448.8 632.8 1448.6 631.9C1448.3 631.0 1447.7 630.1 1446.9 629.2C1446.1 628.3 1445.1 627.4 1443.8 626.4C1442.5 625.4 1440.9 624.4 1439.1 623.5C1437.4 622.5 1435.4 621.5 1433.3 620.5C1431.2 619.5 1428.9 618.6 1426.5 617.6C1424.1 616.7 1421.5 615.8 1418.9 614.9C1416.3 614.0 1413.6 613.2 1410.9 612.4C1408.3 611.5 1405.5 610.8 1402.9 610.1C1400.2 609.4 1397.6 608.7 1395.1 608.1C1392.5 607.5 1390.1 606.9 1387.8 606.5C1385.5 606.0 1383.3 605.6 1381.3 605.3C1379.3 604.9 1377.5 604.7 1375.9 604.5C1374.3 604.3 1372.9 604.3 1371.8 604.3C1370.7 604.3 1369.8 604.4 1369.1 604.6C1368.4 604.9 1368.0 605.3 1367.8 605.8Z" fill="none" stroke="#000" stroke-width="0.9" opacity="0.7"/>
<path d="M1346.0 598.0C1345.7 598.7 1345.8 599.7 1346.3 600.6C1346.7 601.5 1347.6 602.4 1348.7 603.5C1349.9 604.5 1351.4 605.7 1353.2 606.9C1354.9 608.2 1357.1 609.5 1359.4 610.9C1361.7 612.3 1364.3 613.8 1367.1 615.4C1369.9 616.9 1372.9 618.5 1376.1 620.1C1379.2 621.6 1382.5 623.3 1385.9 624.8C1389.2 626.4 1392.8 628.0 1396.2 629.4C1399.7 630.9 1403.3 632.3 1406.7 633.7C1410.2 635.0 1413.6 636.2 1417.0 637.3C1420.3 638.3 1423.5 639.3 1426.6 640.0C1429.6 640.8 1432.6 641.4 1435.3 641.9C1437.9 642.3 1440.4 642.5 1442.7 642.6C1444.9 642.6 1446.8 642.5 1448.5 642.1C1450.2 641.7 1451.5 641.2 1452.6 640.4C1453.7 639.5 1454.6 638.3 1455.0 637.0C1455.4 635.7 1455.6 634.2 1455.3 632.9C1455.0 631.5 1454.3 630.3 1453.2 628.9C1452.2 627.6 1450.7 626.2 1449.0 624.9C1447.2 623.5 1445.2 622.1 1442.8 620.7C1440.5 619.4 1437.8 618.0 1435.0 616.6C1432.1 615.3 1429.0 613.9 1425.8 612.7C1422.5 611.4 1419.0 610.1 1415.6 609.0C1412.1 607.8 1408.4 606.6 1404.8 605.6C1401.2 604.5 1397.4 603.5 1393.8 602.6C1390.3 601.6 1386.6 600.8 1383.2 600.0C1379.8 599.3 1376.4 598.6 1373.3 598.0C1370.2 597.4 1367.2 596.9 1364.5 596.5C1361.9 596.1 1359.4 595.8 1357.2 595.6C1355.0 595.5 1353.1 595.4 1351.6 595.5C1350.0 595.6 1348.8 595.8 1347.8 596.2C1346.9 596.6 1346.3 597.3 1346.0 598.0Z" fill="none" stroke="#000" stroke-width="1.4"/>
<linearGradient id="q5e" gradientUnits="userSpaceOnUse" x1="1342.0" y1="600.0" x2="1398.0" y2="638.0"><stop offset="0" stop-color="#000"/><stop offset="0.35" stop-color="#000"/><stop offset="0.75" stop-color="#5a5a10"/><stop offset="1" stop-color="#a8a834"/></linearGradient>
<pattern id="q5ep" width="2.3" height="40" patternUnits="userSpaceOnUse" patternTransform="rotate(34.2)"><path d="M0.4 0V40" stroke="#000" stroke-width="0.8" opacity="0.7"/></pattern>
<path d="M1342.0 600.0C1341.7 600.5 1341.5 601.2 1341.5 601.9C1341.5 602.6 1341.8 603.4 1342.2 604.2C1342.7 605.1 1343.3 606.1 1344.0 607.2C1344.8 608.2 1345.7 609.4 1346.8 610.6C1347.8 611.9 1349.0 613.2 1350.3 614.6C1351.6 615.9 1353.0 617.3 1354.5 618.8C1356.0 620.2 1357.6 621.7 1359.2 623.1C1360.9 624.6 1362.6 626.0 1364.3 627.4C1366.0 628.8 1367.8 630.1 1369.6 631.4C1371.3 632.6 1373.1 633.8 1374.8 634.9C1376.6 636.0 1378.3 637.0 1380.0 637.8C1381.6 638.6 1383.2 639.3 1384.8 639.9C1386.3 640.4 1387.7 640.8 1389.1 641.0C1390.4 641.2 1391.6 641.3 1392.7 641.2C1393.8 641.1 1394.8 640.8 1395.7 640.3C1396.5 639.7 1397.4 638.9 1398.0 638.0C1398.6 637.1 1399.1 636.0 1399.3 635.0C1399.4 634.0 1399.3 633.0 1399.0 631.9C1398.7 630.9 1398.2 629.7 1397.5 628.6C1396.8 627.4 1395.9 626.2 1394.8 625.0C1393.8 623.8 1392.5 622.6 1391.1 621.3C1389.8 620.1 1388.2 618.8 1386.6 617.6C1384.9 616.4 1383.2 615.2 1381.4 614.0C1379.5 612.9 1377.6 611.7 1375.7 610.6C1373.8 609.5 1371.8 608.5 1369.8 607.5C1367.9 606.5 1365.9 605.5 1364.1 604.7C1362.2 603.8 1360.3 603.0 1358.6 602.3C1356.9 601.6 1355.2 601.0 1353.6 600.5C1352.1 600.0 1350.7 599.5 1349.4 599.2C1348.1 598.9 1347.0 598.7 1346.0 598.7C1345.1 598.6 1344.3 598.6 1343.6 598.8C1342.9 599.0 1342.3 599.5 1342.0 600.0Z" fill="url(#q5e)"/>
<path d="M1342.0 600.0C1341.7 600.5 1341.5 601.2 1341.5 601.9C1341.5 602.6 1341.8 603.4 1342.2 604.2C1342.7 605.1 1343.3 606.1 1344.0 607.2C1344.8 608.2 1345.7 609.4 1346.8 610.6C1347.8 611.9 1349.0 613.2 1350.3 614.6C1351.6 615.9 1353.0 617.3 1354.5 618.8C1356.0 620.2 1357.6 621.7 1359.2 623.1C1360.9 624.6 1362.6 626.0 1364.3 627.4C1366.0 628.8 1367.8 630.1 1369.6 631.4C1371.3 632.6 1373.1 633.8 1374.8 634.9C1376.6 636.0 1378.3 637.0 1380.0 637.8C1381.6 638.6 1383.2 639.3 1384.8 639.9C1386.3 640.4 1387.7 640.8 1389.1 641.0C1390.4 641.2 1391.6 641.3 1392.7 641.2C1393.8 641.1 1394.8 640.8 1395.7 640.3C1396.5 639.7 1397.4 638.9 1398.0 638.0C1398.6 637.1 1399.1 636.0 1399.3 635.0C1399.4 634.0 1399.3 633.0 1399.0 631.9C1398.7 630.9 1398.2 629.7 1397.5 628.6C1396.8 627.4 1395.9 626.2 1394.8 625.0C1393.8 623.8 1392.5 622.6 1391.1 621.3C1389.8 620.1 1388.2 618.8 1386.6 617.6C1384.9 616.4 1383.2 615.2 1381.4 614.0C1379.5 612.9 1377.6 611.7 1375.7 610.6C1373.8 609.5 1371.8 608.5 1369.8 607.5C1367.9 606.5 1365.9 605.5 1364.1 604.7C1362.2 603.8 1360.3 603.0 1358.6 602.3C1356.9 601.6 1355.2 601.0 1353.6 600.5C1352.1 600.0 1350.7 599.5 1349.4 599.2C1348.1 598.9 1347.0 598.7 1346.0 598.7C1345.1 598.6 1344.3 598.6 1343.6 598.8C1342.9 599.0 1342.3 599.5 1342.0 600.0Z" fill="url(#q5ep)"/>
<path d="M1353.2 607.6C1353.0 607.9 1352.9 608.4 1352.9 608.9C1353.0 609.4 1353.2 609.9 1353.5 610.5C1353.9 611.1 1354.3 611.8 1354.9 612.6C1355.5 613.3 1356.2 614.2 1357.0 615.1C1357.8 615.9 1358.7 616.9 1359.7 617.9C1360.6 618.9 1361.7 619.9 1362.8 620.9C1364.0 622.0 1365.2 623.0 1366.4 624.1C1367.6 625.1 1368.9 626.2 1370.2 627.2C1371.4 628.2 1372.8 629.2 1374.1 630.1C1375.4 631.1 1376.7 632.0 1378.0 632.7C1379.3 633.5 1380.5 634.3 1381.7 634.9C1383.0 635.5 1384.1 636.1 1385.2 636.5C1386.3 636.9 1387.4 637.3 1388.4 637.5C1389.3 637.7 1390.2 637.7 1391.0 637.7C1391.8 637.7 1392.5 637.5 1393.1 637.2C1393.7 636.9 1394.2 636.3 1394.6 635.7C1395.0 635.1 1395.3 634.4 1395.4 633.7C1395.5 633.0 1395.4 632.3 1395.1 631.6C1394.9 630.9 1394.5 630.1 1393.9 629.2C1393.4 628.4 1392.7 627.6 1391.9 626.7C1391.1 625.8 1390.1 624.9 1389.1 624.0C1388.1 623.1 1386.9 622.2 1385.7 621.3C1384.5 620.4 1383.2 619.5 1381.9 618.7C1380.5 617.8 1379.1 616.9 1377.7 616.1C1376.3 615.3 1374.8 614.5 1373.4 613.8C1372.0 613.0 1370.5 612.3 1369.1 611.6C1367.8 611.0 1366.4 610.4 1365.1 609.8C1363.9 609.3 1362.7 608.8 1361.5 608.4C1360.4 608.0 1359.4 607.6 1358.5 607.4C1357.5 607.1 1356.7 606.9 1356.0 606.8C1355.3 606.7 1354.8 606.7 1354.3 606.9C1353.8 607.0 1353.4 607.3 1353.2 607.6Z" fill="none" stroke="#000" stroke-width="0.9" opacity="0.7"/>
<path d="M1342.0 600.0C1341.7 600.5 1341.5 601.2 1341.5 601.9C1341.5 602.6 1341.8 603.4 1342.2 604.2C1342.7 605.1 1343.3 606.1 1344.0 607.2C1344.8 608.2 1345.7 609.4 1346.8 610.6C1347.8 611.9 1349.0 613.2 1350.3 614.6C1351.6 615.9 1353.0 617.3 1354.5 618.8C1356.0 620.2 1357.6 621.7 1359.2 623.1C1360.9 624.6 1362.6 626.0 1364.3 627.4C1366.0 628.8 1367.8 630.1 1369.6 631.4C1371.3 632.6 1373.1 633.8 1374.8 634.9C1376.6 636.0 1378.3 637.0 1380.0 637.8C1381.6 638.6 1383.2 639.3 1384.8 639.9C1386.3 640.4 1387.7 640.8 1389.1 641.0C1390.4 641.2 1391.6 641.3 1392.7 641.2C1393.8 641.1 1394.8 640.8 1395.7 640.3C1396.5 639.7 1397.4 638.9 1398.0 638.0C1398.6 637.1 1399.1 636.0 1399.3 635.0C1399.4 634.0 1399.3 633.0 1399.0 631.9C1398.7 630.9 1398.2 629.7 1397.5 628.6C1396.8 627.4 1395.9 626.2 1394.8 625.0C1393.8 623.8 1392.5 622.6 1391.1 621.3C1389.8 620.1 1388.2 618.8 1386.6 617.6C1384.9 616.4 1383.2 615.2 1381.4 614.0C1379.5 612.9 1377.6 611.7 1375.7 610.6C1373.8 609.5 1371.8 608.5 1369.8 607.5C1367.9 606.5 1365.9 605.5 1364.1 604.7C1362.2 603.8 1360.3 603.0 1358.6 602.3C1356.9 601.6 1355.2 601.0 1353.6 600.5C1352.1 600.0 1350.7 599.5 1349.4 599.2C1348.1 598.9 1347.0 598.7 1346.0 598.7C1345.1 598.6 1344.3 598.6 1343.6 598.8C1342.9 599.0 1342.3 599.5 1342.0 600.0Z" fill="none" stroke="#000" stroke-width="1.4"/>
<linearGradient id="q5f" gradientUnits="userSpaceOnUse" x1="1338.0" y1="600.0" x2="1362.0" y2="634.0"><stop offset="0" stop-color="#000"/><stop offset="0.5" stop-color="#000"/><stop offset="0.9" stop-color="#5a5a10"/><stop offset="1" stop-color="#303008"/></linearGradient>
<pattern id="q5fp" width="2.3" height="40" patternUnits="userSpaceOnUse" patternTransform="rotate(54.8)"><path d="M0.4 0V40" stroke="#000" stroke-width="0.8" opacity="0.7"/></pattern>
<path d="M1338.0 600.0C1337.6 600.3 1337.3 600.7 1337.1 601.1C1336.9 601.6 1336.8 602.1 1336.8 602.8C1336.8 603.4 1336.9 604.1 1337.1 604.9C1337.2 605.7 1337.5 606.7 1337.8 607.6C1338.0 608.6 1338.4 609.7 1338.8 610.7C1339.2 611.8 1339.7 613.0 1340.2 614.2C1340.7 615.3 1341.3 616.6 1341.9 617.8C1342.5 619.0 1343.1 620.2 1343.8 621.4C1344.5 622.6 1345.2 623.7 1345.9 624.9C1346.6 626.0 1347.4 627.0 1348.2 628.0C1349.0 629.0 1349.8 629.9 1350.6 630.7C1351.4 631.6 1352.2 632.3 1353.0 632.9C1353.8 633.5 1354.6 634.0 1355.4 634.4C1356.2 634.8 1356.9 635.0 1357.7 635.1C1358.4 635.2 1359.1 635.2 1359.8 635.1C1360.5 634.9 1361.3 634.5 1362.0 634.0C1362.7 633.5 1363.3 632.9 1363.7 632.3C1364.1 631.7 1364.4 631.0 1364.5 630.3C1364.7 629.6 1364.7 628.7 1364.6 627.9C1364.5 627.0 1364.3 626.1 1364.0 625.1C1363.7 624.2 1363.3 623.2 1362.8 622.1C1362.3 621.1 1361.7 620.0 1361.0 619.0C1360.3 617.9 1359.6 616.8 1358.8 615.8C1358.0 614.7 1357.1 613.6 1356.2 612.6C1355.3 611.6 1354.4 610.6 1353.5 609.6C1352.5 608.6 1351.6 607.7 1350.6 606.8C1349.7 605.9 1348.8 605.1 1347.9 604.4C1347.0 603.6 1346.1 602.9 1345.3 602.3C1344.5 601.7 1343.7 601.2 1343.0 600.8C1342.2 600.4 1341.6 600.0 1341.0 599.8C1340.4 599.6 1339.9 599.5 1339.4 599.5C1338.9 599.5 1338.4 599.7 1338.0 600.0Z" fill="url(#q5f)"/>
<path d="M1338.0 600.0C1337.6 600.3 1337.3 600.7 1337.1 601.1C1336.9 601.6 1336.8 602.1 1336.8 602.8C1336.8 603.4 1336.9 604.1 1337.1 604.9C1337.2 605.7 1337.5 606.7 1337.8 607.6C1338.0 608.6 1338.4 609.7 1338.8 610.7C1339.2 611.8 1339.7 613.0 1340.2 614.2C1340.7 615.3 1341.3 616.6 1341.9 617.8C1342.5 619.0 1343.1 620.2 1343.8 621.4C1344.5 622.6 1345.2 623.7 1345.9 624.9C1346.6 626.0 1347.4 627.0 1348.2 628.0C1349.0 629.0 1349.8 629.9 1350.6 630.7C1351.4 631.6 1352.2 632.3 1353.0 632.9C1353.8 633.5 1354.6 634.0 1355.4 634.4C1356.2 634.8 1356.9 635.0 1357.7 635.1C1358.4 635.2 1359.1 635.2 1359.8 635.1C1360.5 634.9 1361.3 634.5 1362.0 634.0C1362.7 633.5 1363.3 632.9 1363.7 632.3C1364.1 631.7 1364.4 631.0 1364.5 630.3C1364.7 629.6 1364.7 628.7 1364.6 627.9C1364.5 627.0 1364.3 626.1 1364.0 625.1C1363.7 624.2 1363.3 623.2 1362.8 622.1C1362.3 621.1 1361.7 620.0 1361.0 619.0C1360.3 617.9 1359.6 616.8 1358.8 615.8C1358.0 614.7 1357.1 613.6 1356.2 612.6C1355.3 611.6 1354.4 610.6 1353.5 609.6C1352.5 608.6 1351.6 607.7 1350.6 606.8C1349.7 605.9 1348.8 605.1 1347.9 604.4C1347.0 603.6 1346.1 602.9 1345.3 602.3C1344.5 601.7 1343.7 601.2 1343.0 600.8C1342.2 600.4 1341.6 600.0 1341.0 599.8C1340.4 599.6 1339.9 599.5 1339.4 599.5C1338.9 599.5 1338.4 599.7 1338.0 600.0Z" fill="url(#q5fp)"/>
<path d="M1342.8 606.8C1342.5 607.0 1342.3 607.3 1342.2 607.6C1342.1 607.9 1342.1 608.3 1342.1 608.7C1342.1 609.2 1342.2 609.7 1342.4 610.3C1342.5 610.9 1342.7 611.5 1342.9 612.2C1343.2 612.9 1343.4 613.7 1343.8 614.5C1344.1 615.3 1344.4 616.1 1344.8 617.0C1345.2 617.9 1345.7 618.7 1346.1 619.6C1346.6 620.5 1347.1 621.4 1347.6 622.3C1348.1 623.1 1348.6 624.0 1349.2 624.8C1349.7 625.6 1350.3 626.4 1350.9 627.2C1351.4 627.9 1352.0 628.6 1352.6 629.2C1353.2 629.8 1353.8 630.4 1354.3 630.8C1354.9 631.3 1355.5 631.7 1356.0 632.0C1356.6 632.3 1357.1 632.5 1357.6 632.6C1358.1 632.7 1358.6 632.7 1359.1 632.6C1359.6 632.5 1360.1 632.3 1360.6 632.0C1361.0 631.7 1361.4 631.2 1361.7 630.8C1361.9 630.4 1362.1 629.9 1362.1 629.4C1362.2 628.9 1362.2 628.3 1362.1 627.7C1362.0 627.1 1361.8 626.4 1361.6 625.7C1361.3 625.0 1361.0 624.3 1360.6 623.5C1360.3 622.8 1359.8 622.0 1359.3 621.2C1358.8 620.4 1358.2 619.6 1357.7 618.8C1357.1 618.1 1356.4 617.3 1355.8 616.5C1355.1 615.7 1354.4 615.0 1353.8 614.2C1353.1 613.5 1352.4 612.8 1351.7 612.1C1351.1 611.5 1350.4 610.8 1349.7 610.3C1349.1 609.7 1348.5 609.2 1347.9 608.7C1347.3 608.3 1346.7 607.9 1346.2 607.6C1345.7 607.2 1345.3 607.0 1344.8 606.8C1344.4 606.6 1344.1 606.5 1343.7 606.5C1343.4 606.5 1343.1 606.6 1342.8 606.8Z" fill="none" stroke="#000" stroke-width="0.9" opacity="0.7"/>
<path d="M1338.0 600.0C1337.6 600.3 1337.3 600.7 1337.1 601.1C1336.9 601.6 1336.8 602.1 1336.8 602.8C1336.8 603.4 1336.9 604.1 1337.1 604.9C1337.2 605.7 1337.5 606.7 1337.8 607.6C1338.0 608.6 1338.4 609.7 1338.8 610.7C1339.2 611.8 1339.7 613.0 1340.2 614.2C1340.7 615.3 1341.3 616.6 1341.9 617.8C1342.5 619.0 1343.1 620.2 1343.8 621.4C1344.5 622.6 1345.2 623.7 1345.9 624.9C1346.6 626.0 1347.4 627.0 1348.2 628.0C1349.0 629.0 1349.8 629.9 1350.6 630.7C1351.4 631.6 1352.2 632.3 1353.0 632.9C1353.8 633.5 1354.6 634.0 1355.4 634.4C1356.2 634.8 1356.9 635.0 1357.7 635.1C1358.4 635.2 1359.1 635.2 1359.8 635.1C1360.5 634.9 1361.3 634.5 1362.0 634.0C1362.7 633.5 1363.3 632.9 1363.7 632.3C1364.1 631.7 1364.4 631.0 1364.5 630.3C1364.7 629.6 1364.7 628.7 1364.6 627.9C1364.5 627.0 1364.3 626.1 1364.0 625.1C1363.7 624.2 1363.3 623.2 1362.8 622.1C1362.3 621.1 1361.7 620.0 1361.0 619.0C1360.3 617.9 1359.6 616.8 1358.8 615.8C1358.0 614.7 1357.1 613.6 1356.2 612.6C1355.3 611.6 1354.4 610.6 1353.5 609.6C1352.5 608.6 1351.6 607.7 1350.6 606.8C1349.7 605.9 1348.8 605.1 1347.9 604.4C1347.0 603.6 1346.1 602.9 1345.3 602.3C1344.5 601.7 1343.7 601.2 1343.0 600.8C1342.2 600.4 1341.6 600.0 1341.0 599.8C1340.4 599.6 1339.9 599.5 1339.4 599.5C1338.9 599.5 1338.4 599.7 1338.0 600.0Z" fill="none" stroke="#000" stroke-width="1.4"/>
<ellipse cx="1326" cy="580" rx="9" ry="21" fill="#000" transform="rotate(-12 1326 580)"/>
<ellipse cx="1342" cy="600" rx="8" ry="22" fill="#000" transform="rotate(-18 1342 600)"/>
<ellipse cx="1305" cy="590" rx="22" ry="14" fill="#000" opacity="0.75" filter="url(#bl4)"/>
<ellipse cx="1365" cy="600" rx="22" ry="16" fill="#000" opacity="0.75" filter="url(#bl4)"/>
<g stroke="#262626" stroke-width="5" fill="none">
<rect x="196.0" y="15.0" width="537.5" height="325.0" stroke-linejoin="miter"/>
<path d="M196.0 320.44H212.0M733.5 320.44H717.5"/>
<path d="M196.0 255.44H212.0M733.5 255.44H717.5"/>
<path d="M196.0 190.44H212.0M733.5 190.44H717.5"/>
<path d="M196.0 125.43H212.0M733.5 125.43H717.5"/>
<path d="M196.0 60.43H212.0M733.5 60.43H717.5"/>
<path d="M196.0 334.86H204.5M733.5 334.86H725.0"/>
<path d="M196.0 330.50H204.5M733.5 330.50H725.0"/>
<path d="M196.0 326.73H204.5M733.5 326.73H725.0"/>
<path d="M196.0 323.41H204.5M733.5 323.41H725.0"/>
<path d="M196.0 300.87H204.5M733.5 300.87H725.0"/>
<path d="M196.0 289.42H204.5M733.5 289.42H725.0"/>
<path d="M196.0 281.30H204.5M733.5 281.30H725.0"/>
<path d="M196.0 275.00H204.5M733.5 275.00H725.0"/>
<path d="M196.0 269.86H204.5M733.5 269.86H725.0"/>
<path d="M196.0 265.50H204.5M733.5 265.50H725.0"/>
<path d="M196.0 261.73H204.5M733.5 261.73H725.0"/>
<path d="M196.0 258.41H204.5M733.5 258.41H725.0"/>
<path d="M196.0 235.87H204.5M733.5 235.87H725.0"/>
<path d="M196.0 224.42H204.5M733.5 224.42H725.0"/>
<path d="M196.0 216.30H204.5M733.5 216.30H725.0"/>
<path d="M196.0 210.00H204.5M733.5 210.00H725.0"/>
<path d="M196.0 204.86H204.5M733.5 204.86H725.0"/>
<path d="M196.0 200.50H204.5M733.5 200.50H725.0"/>
<path d="M196.0 196.73H204.5M733.5 196.73H725.0"/>
<path d="M196.0 193.41H204.5M733.5 193.41H725.0"/>
<path d="M196.0 170.87H204.5M733.5 170.87H725.0"/>
<path d="M196.0 159.42H204.5M733.5 159.42H725.0"/>
<path d="M196.0 151.30H204.5M733.5 151.30H725.0"/>
<path d="M196.0 145.00H204.5M733.5 145.00H725.0"/>
<path d="M196.0 139.86H204.5M733.5 139.86H725.0"/>
<path d="M196.0 135.50H204.5M733.5 135.50H725.0"/>
<path d="M196.0 131.73H204.5M733.5 131.73H725.0"/>
<path d="M196.0 128.41H204.5M733.5 128.41H725.0"/>
<path d="M196.0 105.87H204.5M733.5 105.87H725.0"/>
<path d="M196.0 94.42H204.5M733.5 94.42H725.0"/>
<path d="M196.0 86.30H204.5M733.5 86.30H725.0"/>
<path d="M196.0 80.00H204.5M733.5 80.00H725.0"/>
<path d="M196.0 74.86H204.5M733.5 74.86H725.0"/>
<path d="M196.0 70.50H204.5M733.5 70.50H725.0"/>
<path d="M196.0 66.73H204.5M733.5 66.73H725.0"/>
<path d="M196.0 63.41H204.5M733.5 63.41H725.0"/>
<path d="M196.0 40.87H204.5M733.5 40.87H725.0"/>
<path d="M196.0 29.42H204.5M733.5 29.42H725.0"/>
<path d="M196.0 21.30H204.5M733.5 21.30H725.0"/>
<path d="M316.94 340.0V324.0M316.94 15.0V31.0"/>
<path d="M451.31 340.0V324.0M451.31 15.0V31.0"/>
<path d="M585.69 340.0V324.0M585.69 15.0V31.0"/>
<path d="M720.06 340.0V324.0M720.06 15.0V31.0"/>
</g>
<g><polyline points="209.44,320.00 236.31,308.20 263.19,251.20 290.06,238.20 316.94,210.50 343.81,195.50 370.69,190.80 397.56,167.90 424.44,164.50 451.31,150.50 478.19,142.50 505.06,105.90 531.94,83.80 558.81,58.80 585.69,35.30 612.56,33.80 639.44,27.90 666.31,27.90 693.19,25.00 720.06,23.50" fill="none" stroke="#0072BD" stroke-width="7" stroke-linejoin="round" stroke-linecap="round"/>
<path d="M209.44 305.00L220.24 320.00L209.44 335.00L198.64 320.00Z" fill="none" stroke="#0072BD" stroke-width="7.0" stroke-linejoin="miter" stroke-miterlimit="10"/>
<path d="M236.31 293.20L247.11 308.20L236.31 323.20L225.51 308.20Z" fill="none" stroke="#0072BD" stroke-width="7.0" stroke-linejoin="miter" stroke-miterlimit="10"/>
<path d="M263.19 236.20L273.99 251.20L263.19 266.20L252.39 251.20Z" fill="none" stroke="#0072BD" stroke-width="7.0" stroke-linejoin="miter" stroke-miterlimit="10"/>
<path d="M290.06 223.20L300.86 238.20L290.06 253.20L279.26 238.20Z" fill="none" stroke="#0072BD" stroke-width="7.0" stroke-linejoin="miter" stroke-miterlimit="10"/>
<path d="M316.94 195.50L327.74 210.50L316.94 225.50L306.14 210.50Z" fill="none" stroke="#0072BD" stroke-width="7.0" stroke-linejoin="miter" stroke-miterlimit="10"/>
<path d="M343.81 180.50L354.61 195.50L343.81 210.50L333.01 195.50Z" fill="none" stroke="#0072BD" stroke-width="7.0" stroke-linejoin="miter" stroke-miterlimit="10"/>
<path d="M370.69 175.80L381.49 190.80L370.69 205.80L359.89 190.80Z" fill="none" stroke="#0072BD" stroke-width="7.0" stroke-linejoin="miter" stroke-miterlimit="10"/>
<path d="M397.56 152.90L408.36 167.90L397.56 182.90L386.76 167.90Z" fill="none" stroke="#0072BD" stroke-width="7.0" stroke-linejoin="miter" stroke-miterlimit="10"/>
<path d="M424.44 149.50L435.24 164.50L424.44 179.50L413.64 164.50Z" fill="none" stroke="#0072BD" stroke-width="7.0" stroke-linejoin="miter" stroke-miterlimit="10"/>
<path d="M451.31 135.50L462.11 150.50L451.31 165.50L440.51 150.50Z" fill="none" stroke="#0072BD" stroke-width="7.0" stroke-linejoin="miter" stroke-miterlimit="10"/>
<path d="M478.19 127.50L488.99 142.50L478.19 157.50L467.39 142.50Z" fill="none" stroke="#0072BD" stroke-width="7.0" stroke-linejoin="miter" stroke-miterlimit="10"/>
<path d="M505.06 90.90L515.86 105.90L505.06 120.90L494.26 105.90Z" fill="none" stroke="#0072BD" stroke-width="7.0" stroke-linejoin="miter" stroke-miterlimit="10"/>
<path d="M531.94 68.80L542.74 83.80L531.94 98.80L521.14 83.80Z" fill="none" stroke="#0072BD" stroke-width="7.0" stroke-linejoin="miter" stroke-miterlimit="10"/>
<path d="M558.81 43.80L569.61 58.80L558.81 73.80L548.01 58.80Z" fill="none" stroke="#0072BD" stroke-width="7.0" stroke-linejoin="miter" stroke-miterlimit="10"/>
<path d="M585.69 20.30L596.49 35.30L585.69 50.30L574.89 35.30Z" fill="none" stroke="#0072BD" stroke-width="7.0" stroke-linejoin="miter" stroke-miterlimit="10"/>
<path d="M612.56 18.80L623.36 33.80L612.56 48.80L601.76 33.80Z" fill="none" stroke="#0072BD" stroke-width="7.0" stroke-linejoin="miter" stroke-miterlimit="10"/>
<path d="M639.44 12.90L650.24 27.90L639.44 42.90L628.64 27.90Z" fill="none" stroke="#0072BD" stroke-width="7.0" stroke-linejoin="miter" stroke-miterlimit="10"/>
<path d="M666.31 12.90L677.11 27.90L666.31 42.90L655.51 27.90Z" fill="none" stroke="#0072BD" stroke-width="7.0" stroke-linejoin="miter" stroke-miterlimit="10"/>
<path d="M693.19 10.00L703.99 25.00L693.19 40.00L682.39 25.00Z" fill="none" stroke="#0072BD" stroke-width="7.0" stroke-linejoin="miter" stroke-miterlimit="10"/>
<path d="M720.06 8.50L730.86 23.50L720.06 38.50L709.26 23.50Z" fill="none" stroke="#0072BD" stroke-width="7.0" stroke-linejoin="miter" stroke-miterlimit="10"/>
</g>
<path d="M209.44 59.9H720.06" stroke="#000" stroke-width="5.6" />
<g font-family="Liberation Sans" font-weight="bold" fill="#262626">
<text x="304.57" y="397.00" font-size="44.5">5</text>
<path d="M388 0L388 706L292 706C272 652 205 585 74 530L74 428C150 452 212 492 255 535L255 0Z" transform="translate(426.57,397.00) scale(0.04450,-0.04450)"/><text x="451.31" y="397.00" font-size="44.5">0</text>
<path d="M388 0L388 706L292 706C272 652 205 585 74 530L74 428C150 452 212 492 255 535L255 0Z" transform="translate(560.95,397.00) scale(0.04450,-0.04450)"/><text x="585.69" y="397.00" font-size="44.5">5</text>
<text x="695.32" y="397.00" font-size="44.5">2</text><text x="720.06" y="397.00" font-size="44.5">0</text>
<path d="M388 0L388 706L292 706C272 652 205 585 74 530L74 428C150 452 212 492 255 535L255 0Z" transform="translate(158.96,78.00) scale(0.04450,-0.04450)"/>
<path d="M388 0L388 706L292 706C272 652 205 585 74 530L74 428C150 452 212 492 255 535L255 0Z" transform="translate(101.40,148.83) scale(0.04450,-0.04450)"/><text x="126.14" y="148.83" font-size="44.5">0</text><text x="150.88" y="127.23" font-size="35">-</text><path d="M388 0L388 706L292 706C272 652 205 585 74 530L74 428C150 452 212 492 255 535L255 0Z" transform="translate(162.54,127.23) scale(0.03500,-0.03500)"/>
<path d="M388 0L388 706L292 706C272 652 205 585 74 530L74 428C150 452 212 492 255 535L255 0Z" transform="translate(101.40,213.84) scale(0.04450,-0.04450)"/><text x="126.14" y="213.84" font-size="44.5">0</text><text x="150.88" y="192.24" font-size="35">-</text><text x="162.54" y="192.24" font-size="35">2</text>
<path d="M388 0L388 706L292 706C272 652 205 585 74 530L74 428C150 452 212 492 255 535L255 0Z" transform="translate(101.40,278.83) scale(0.04450,-0.04450)"/><text x="126.14" y="278.83" font-size="44.5">0</text><text x="150.88" y="257.23" font-size="35">-</text><text x="162.54" y="257.23" font-size="35">3</text>
<path d="M388 0L388 706L292 706C272 652 205 585 74 530L74 428C150 452 212 492 255 535L255 0Z" transform="translate(101.40,343.83) scale(0.04450,-0.04450)"/><text x="126.14" y="343.83" font-size="44.5">0</text><text x="150.88" y="322.23" font-size="35">-</text><text x="162.54" y="322.23" font-size="35">4</text>
<text x="465.5" y="436.3" font-size="48" text-anchor="middle">m</text>
</g>
<g stroke="#262626" stroke-width="5" fill="none">
<rect x="928.5" y="14.0" width="560.8" height="323.1" stroke-linejoin="miter"/>
<path d="M928.5 337.10H944.5M1489.3 337.10H1473.3"/>
<path d="M928.5 250.80H944.5M1489.3 250.80H1473.3"/>
<path d="M928.5 164.50H944.5M1489.3 164.50H1473.3"/>
<path d="M928.5 78.20H944.5M1489.3 78.20H1473.3"/>
<path d="M1054.66 337.1V321.1M1054.66 14.0V30.0"/>
<path d="M1194.86 337.1V321.1M1194.86 14.0V30.0"/>
<path d="M1335.06 337.1V321.1M1335.06 14.0V30.0"/>
<path d="M1475.26 337.1V321.1M1475.26 14.0V30.0"/>
</g>
<polyline points="942.50,337.10 970.54,337.10 998.58,337.10 1026.62,337.10 1054.66,337.10 1082.70,337.10 1110.74,337.10 1138.78,337.10 1166.82,337.10 1194.86,337.10 1222.90,337.10 1250.94,337.10 1278.98,337.10 1307.02,337.10 1335.06,337.10 1363.10,276.26 1391.14,42.82 1419.18,337.10 1447.22,337.10 1475.26,260.29" fill="none" stroke="#FF0000" stroke-width="6.8" stroke-linejoin="round" stroke-linecap="round"/>
<rect x="933.55" y="328.15" width="17.9" height="17.9" fill="none" stroke="#FF0000" stroke-width="4.7"/>
<rect x="961.59" y="328.15" width="17.9" height="17.9" fill="none" stroke="#FF0000" stroke-width="4.7"/>
<rect x="989.63" y="328.15" width="17.9" height="17.9" fill="none" stroke="#FF0000" stroke-width="4.7"/>
<rect x="1017.67" y="328.15" width="17.9" height="17.9" fill="none" stroke="#FF0000" stroke-width="4.7"/>
<rect x="1045.71" y="328.15" width="17.9" height="17.9" fill="none" stroke="#FF0000" stroke-width="4.7"/>
<rect x="1073.75" y="328.15" width="17.9" height="17.9" fill="none" stroke="#FF0000" stroke-width="4.7"/>
<rect x="1101.79" y="328.15" width="17.9" height="17.9" fill="none" stroke="#FF0000" stroke-width="4.7"/>
<rect x="1129.83" y="328.15" width="17.9" height="17.9" fill="none" stroke="#FF0000" stroke-width="4.7"/>
<rect x="1157.87" y="328.15" width="17.9" height="17.9" fill="none" stroke="#FF0000" stroke-width="4.7"/>
<rect x="1185.91" y="328.15" width="17.9" height="17.9" fill="none" stroke="#FF0000" stroke-width="4.7"/>
<rect x="1213.95" y="328.15" width="17.9" height="17.9" fill="none" stroke="#FF0000" stroke-width="4.7"/>
<rect x="1241.99" y="328.15" width="17.9" height="17.9" fill="none" stroke="#FF0000" stroke-width="4.7"/>
<rect x="1270.03" y="328.15" width="17.9" height="17.9" fill="none" stroke="#FF0000" stroke-width="4.7"/>
<rect x="1298.07" y="328.15" width="17.9" height="17.9" fill="none" stroke="#FF0000" stroke-width="4.7"/>
<rect x="1326.11" y="328.15" width="17.9" height="17.9" fill="none" stroke="#FF0000" stroke-width="4.7"/>
<rect x="1354.15" y="267.31" width="17.9" height="17.9" fill="none" stroke="#FF0000" stroke-width="4.7"/>
<rect x="1382.19" y="33.87" width="17.9" height="17.9" fill="none" stroke="#FF0000" stroke-width="4.7"/>
<rect x="1410.23" y="328.15" width="17.9" height="17.9" fill="none" stroke="#FF0000" stroke-width="4.7"/>
<rect x="1438.27" y="328.15" width="17.9" height="17.9" fill="none" stroke="#FF0000" stroke-width="4.7"/>
<rect x="1466.31" y="251.34" width="17.9" height="17.9" fill="none" stroke="#FF0000" stroke-width="4.7"/>
<polyline points="942.50,337.10 970.54,337.10 998.58,337.10 1026.62,337.10 1054.66,337.10 1082.70,337.10 1110.74,337.10 1138.78,337.10 1166.82,337.10 1194.86,337.10 1222.90,337.10 1250.94,337.10 1278.98,337.10 1307.02,325.45 1335.06,298.27 1363.10,337.10 1391.14,337.10 1419.18,176.58 1447.22,109.70 1475.26,337.10" fill="none" stroke="#0072BD" stroke-width="6.8" stroke-linejoin="round" stroke-linecap="round"/>
<circle cx="942.50" cy="337.10" r="10.85" fill="none" stroke="#0072BD" stroke-width="6.3"/>
<circle cx="970.54" cy="337.10" r="10.85" fill="none" stroke="#0072BD" stroke-width="6.3"/>
<circle cx="998.58" cy="337.10" r="10.85" fill="none" stroke="#0072BD" stroke-width="6.3"/>
<circle cx="1026.62" cy="337.10" r="10.85" fill="none" stroke="#0072BD" stroke-width="6.3"/>
<circle cx="1054.66" cy="337.10" r="10.85" fill="none" stroke="#0072BD" stroke-width="6.3"/>
<circle cx="1082.70" cy="337.10" r="10.85" fill="none" stroke="#0072BD" stroke-width="6.3"/>
<circle cx="1110.74" cy="337.10" r="10.85" fill="none" stroke="#0072BD" stroke-width="6.3"/>
<circle cx="1138.78" cy="337.10" r="10.85" fill="none" stroke="#0072BD" stroke-width="6.3"/>
<circle cx="1166.82" cy="337.10" r="10.85" fill="none" stroke="#0072BD" stroke-width="6.3"/>
<circle cx="1194.86" cy="337.10" r="10.85" fill="none" stroke="#0072BD" stroke-width="6.3"/>
<circle cx="1222.90" cy="337.10" r="10.85" fill="none" stroke="#0072BD" stroke-width="6.3"/>
<circle cx="1250.94" cy="337.10" r="10.85" fill="none" stroke="#0072BD" stroke-width="6.3"/>
<circle cx="1278.98" cy="337.10" r="10.85" fill="none" stroke="#0072BD" stroke-width="6.3"/>
<circle cx="1307.02" cy="325.45" r="10.85" fill="none" stroke="#0072BD" stroke-width="6.3"/>
<circle cx="1335.06" cy="298.27" r="10.85" fill="none" stroke="#0072BD" stroke-width="6.3"/>
<circle cx="1363.10" cy="337.10" r="10.85" fill="none" stroke="#0072BD" stroke-width="6.3"/>
<circle cx="1391.14" cy="337.10" r="10.85" fill="none" stroke="#0072BD" stroke-width="6.3"/>
<circle cx="1419.18" cy="176.58" r="10.85" fill="none" stroke="#0072BD" stroke-width="6.3"/>
<circle cx="1447.22" cy="109.70" r="10.85" fill="none" stroke="#0072BD" stroke-width="6.3"/>
<circle cx="1475.26" cy="337.10" r="10.85" fill="none" stroke="#0072BD" stroke-width="6.3"/>
<polyline points="942.50,337.10 970.54,337.10 998.58,337.10 1026.62,337.10 1054.66,337.10 1082.70,337.10 1110.74,288.34 1138.78,108.84 1166.82,189.10 1194.86,337.10 1222.90,337.10 1250.94,337.10 1278.98,337.10 1307.02,337.10 1335.06,337.10 1363.10,337.10 1391.14,337.10 1419.18,337.10 1447.22,337.10 1475.26,337.10" fill="none" stroke="#D95319" stroke-width="6.8" stroke-linejoin="round" stroke-linecap="round"/>
<path d="M929.75 337.10L955.25 337.10M942.50 324.35L942.50 349.85" stroke="#D95319" stroke-width="7" fill="none"/>
<path d="M957.79 337.10L983.29 337.10M970.54 324.35L970.54 349.85" stroke="#D95319" stroke-width="7" fill="none"/>
<path d="M985.83 337.10L1011.33 337.10M998.58 324.35L998.58 349.85" stroke="#D95319" stroke-width="7" fill="none"/>
<path d="M1013.87 337.10L1039.37 337.10M1026.62 324.35L1026.62 349.85" stroke="#D95319" stroke-width="7" fill="none"/>
<path d="M1041.91 337.10L1067.41 337.10M1054.66 324.35L1054.66 349.85" stroke="#D95319" stroke-width="7" fill="none"/>
<path d="M1069.95 337.10L1095.45 337.10M1082.70 324.35L1082.70 349.85" stroke="#D95319" stroke-width="7" fill="none"/>
<path d="M1097.99 288.34L1123.49 288.34M1110.74 275.59L1110.74 301.09" stroke="#D95319" stroke-width="7" fill="none"/>
<path d="M1126.03 108.84L1151.53 108.84M1138.78 96.09L1138.78 121.59" stroke="#D95319" stroke-width="7" fill="none"/>
<path d="M1154.07 189.10L1179.57 189.10M1166.82 176.35L1166.82 201.85" stroke="#D95319" stroke-width="7" fill="none"/>
<path d="M1182.11 337.10L1207.61 337.10M1194.86 324.35L1194.86 349.85" stroke="#D95319" stroke-width="7" fill="none"/>
<path d="M1210.15 337.10L1235.65 337.10M1222.90 324.35L1222.90 349.85" stroke="#D95319" stroke-width="7" fill="none"/>
<path d="M1238.19 337.10L1263.69 337.10M1250.94 324.35L1250.94 349.85" stroke="#D95319" stroke-width="7" fill="none"/>
<path d="M1266.23 337.10L1291.73 337.10M1278.98 324.35L1278.98 349.85" stroke="#D95319" stroke-width="7" fill="none"/>
<path d="M1294.27 337.10L1319.77 337.10M1307.02 324.35L1307.02 349.85" stroke="#D95319" stroke-width="7" fill="none"/>
<path d="M1322.31 337.10L1347.81 337.10M1335.06 324.35L1335.06 349.85" stroke="#D95319" stroke-width="7" fill="none"/>
<path d="M1350.35 337.10L1375.85 337.10M1363.10 324.35L1363.10 349.85" stroke="#D95319" stroke-width="7" fill="none"/>
<path d="M1378.39 337.10L1403.89 337.10M1391.14 324.35L1391.14 349.85" stroke="#D95319" stroke-width="7" fill="none"/>
<path d="M1406.43 337.10L1431.93 337.10M1419.18 324.35L1419.18 349.85" stroke="#D95319" stroke-width="7" fill="none"/>
<path d="M1434.47 337.10L1459.97 337.10M1447.22 324.35L1447.22 349.85" stroke="#D95319" stroke-width="7" fill="none"/>
<path d="M1462.51 337.10L1488.01 337.10M1475.26 324.35L1475.26 349.85" stroke="#D95319" stroke-width="7" fill="none"/>
<polyline points="942.50,337.10 970.54,83.38 998.58,337.10 1026.62,309.92 1054.66,218.87 1082.70,337.10 1110.74,316.82 1138.78,312.50 1166.82,337.10 1194.86,337.10 1222.90,337.10 1250.94,337.10 1278.98,337.10 1307.02,337.10 1335.06,337.10 1363.10,337.10 1391.14,337.10 1419.18,337.10 1447.22,337.10 1475.26,337.10" fill="none" stroke="#00FF00" stroke-width="6.8" stroke-linejoin="round" stroke-linecap="round"/>
<path d="M933.55 328.15L951.45 346.05M933.55 346.05L951.45 328.15" stroke="#00FF00" stroke-width="6.5" fill="none"/>
<path d="M961.59 74.43L979.49 92.33M961.59 92.33L979.49 74.43" stroke="#00FF00" stroke-width="6.5" fill="none"/>
<path d="M989.63 328.15L1007.53 346.05M989.63 346.05L1007.53 328.15" stroke="#00FF00" stroke-width="6.5" fill="none"/>
<path d="M1017.67 300.97L1035.57 318.87M1017.67 318.87L1035.57 300.97" stroke="#00FF00" stroke-width="6.5" fill="none"/>
<path d="M1045.71 209.92L1063.61 227.82M1045.71 227.82L1063.61 209.92" stroke="#00FF00" stroke-width="6.5" fill="none"/>
<path d="M1073.75 328.15L1091.65 346.05M1073.75 346.05L1091.65 328.15" stroke="#00FF00" stroke-width="6.5" fill="none"/>
<path d="M1101.79 307.87L1119.69 325.77M1101.79 325.77L1119.69 307.87" stroke="#00FF00" stroke-width="6.5" fill="none"/>
<path d="M1129.83 303.55L1147.73 321.45M1129.83 321.45L1147.73 303.55" stroke="#00FF00" stroke-width="6.5" fill="none"/>
<path d="M1157.87 328.15L1175.77 346.05M1157.87 346.05L1175.77 328.15" stroke="#00FF00" stroke-width="6.5" fill="none"/>
<path d="M1185.91 328.15L1203.81 346.05M1185.91 346.05L1203.81 328.15" stroke="#00FF00" stroke-width="6.5" fill="none"/>
<path d="M1213.95 328.15L1231.85 346.05M1213.95 346.05L1231.85 328.15" stroke="#00FF00" stroke-width="6.5" fill="none"/>
<path d="M1241.99 328.15L1259.89 346.05M1241.99 346.05L1259.89 328.15" stroke="#00FF00" stroke-width="6.5" fill="none"/>
<path d="M1270.03 328.15L1287.93 346.05M1270.03 346.05L1287.93 328.15" stroke="#00FF00" stroke-width="6.5" fill="none"/>
<path d="M1298.07 328.15L1315.97 346.05M1298.07 346.05L1315.97 328.15" stroke="#00FF00" stroke-width="6.5" fill="none"/>
<path d="M1326.11 328.15L1344.01 346.05M1326.11 346.05L1344.01 328.15" stroke="#00FF00" stroke-width="6.5" fill="none"/>
<path d="M1354.15 328.15L1372.05 346.05M1354.15 346.05L1372.05 328.15" stroke="#00FF00" stroke-width="6.5" fill="none"/>
<path d="M1382.19 328.15L1400.09 346.05M1382.19 346.05L1400.09 328.15" stroke="#00FF00" stroke-width="6.5" fill="none"/>
<path d="M1410.23 328.15L1428.13 346.05M1410.23 346.05L1428.13 328.15" stroke="#00FF00" stroke-width="6.5" fill="none"/>
<path d="M1438.27 328.15L1456.17 346.05M1438.27 346.05L1456.17 328.15" stroke="#00FF00" stroke-width="6.5" fill="none"/>
<path d="M1466.31 328.15L1484.21 346.05M1466.31 346.05L1484.21 328.15" stroke="#00FF00" stroke-width="6.5" fill="none"/>
<polyline points="942.50,65.25 970.54,337.10 998.58,337.10 1026.62,337.10 1054.66,337.10 1082.70,270.22 1110.74,337.10 1138.78,337.10 1166.82,337.10 1194.86,337.10 1222.90,255.55 1250.94,319.84 1278.98,337.10 1307.02,337.10 1335.06,337.10 1363.10,337.10 1391.14,337.10 1419.18,337.10 1447.22,337.10 1475.26,337.10" fill="none" stroke="#000000" stroke-width="6.8" stroke-linejoin="round" stroke-linecap="round"/>
<path d="M942.50 50.25L953.30 65.25L942.50 80.25L931.70 65.25Z" fill="none" stroke="#000000" stroke-width="7.0" stroke-linejoin="miter" stroke-miterlimit="10"/>
<path d="M970.54 322.10L981.34 337.10L970.54 352.10L959.74 337.10Z" fill="none" stroke="#000000" stroke-width="7.0" stroke-linejoin="miter" stroke-miterlimit="10"/>
<path d="M998.58 322.10L1009.38 337.10L998.58 352.10L987.78 337.10Z" fill="none" stroke="#000000" stroke-width="7.0" stroke-linejoin="miter" stroke-miterlimit="10"/>
<path d="M1026.62 322.10L1037.42 337.10L1026.62 352.10L1015.82 337.10Z" fill="none" stroke="#000000" stroke-width="7.0" stroke-linejoin="miter" stroke-miterlimit="10"/>
<path d="M1054.66 322.10L1065.46 337.10L1054.66 352.10L1043.86 337.10Z" fill="none" stroke="#000000" stroke-width="7.0" stroke-linejoin="miter" stroke-miterlimit="10"/>
<path d="M1082.70 255.22L1093.50 270.22L1082.70 285.22L1071.90 270.22Z" fill="none" stroke="#000000" stroke-width="7.0" stroke-linejoin="miter" stroke-miterlimit="10"/>
<path d="M1110.74 322.10L1121.54 337.10L1110.74 352.10L1099.94 337.10Z" fill="none" stroke="#000000" stroke-width="7.0" stroke-linejoin="miter" stroke-miterlimit="10"/>
<path d="M1138.78 322.10L1149.58 337.10L1138.78 352.10L1127.98 337.10Z" fill="none" stroke="#000000" stroke-width="7.0" stroke-linejoin="miter" stroke-miterlimit="10"/>
<path d="M1166.82 322.10L1177.62 337.10L1166.82 352.10L1156.02 337.10Z" fill="none" stroke="#000000" stroke-width="7.0" stroke-linejoin="miter" stroke-miterlimit="10"/>
<path d="M1194.86 322.10L1205.66 337.10L1194.86 352.10L1184.06 337.10Z" fill="none" stroke="#000000" stroke-width="7.0" stroke-linejoin="miter" stroke-miterlimit="10"/>
<path d="M1222.90 240.55L1233.70 255.55L1222.90 270.55L1212.10 255.55Z" fill="none" stroke="#000000" stroke-width="7.0" stroke-linejoin="miter" stroke-miterlimit="10"/>
<path d="M1250.94 304.84L1261.74 319.84L1250.94 334.84L1240.14 319.84Z" fill="none" stroke="#000000" stroke-width="7.0" stroke-linejoin="miter" stroke-miterlimit="10"/>
<path d="M1278.98 322.10L1289.78 337.10L1278.98 352.10L1268.18 337.10Z" fill="none" stroke="#000000" stroke-width="7.0" stroke-linejoin="miter" stroke-miterlimit="10"/>
<path d="M1307.02 322.10L1317.82 337.10L1307.02 352.10L1296.22 337.10Z" fill="none" stroke="#000000" stroke-width="7.0" stroke-linejoin="miter" stroke-miterlimit="10"/>
<path d="M1335.06 322.10L1345.86 337.10L1335.06 352.10L1324.26 337.10Z" fill="none" stroke="#000000" stroke-width="7.0" stroke-linejoin="miter" stroke-miterlimit="10"/>
<path d="M1363.10 322.10L1373.90 337.10L1363.10 352.10L1352.30 337.10Z" fill="none" stroke="#000000" stroke-width="7.0" stroke-linejoin="miter" stroke-miterlimit="10"/>
<path d="M1391.14 322.10L1401.94 337.10L1391.14 352.10L1380.34 337.10Z" fill="none" stroke="#000000" stroke-width="7.0" stroke-linejoin="miter" stroke-miterlimit="10"/>
<path d="M1419.18 322.10L1429.98 337.10L1419.18 352.10L1408.38 337.10Z" fill="none" stroke="#000000" stroke-width="7.0" stroke-linejoin="miter" stroke-miterlimit="10"/>
<path d="M1447.22 322.10L1458.02 337.10L1447.22 352.10L1436.42 337.10Z" fill="none" stroke="#000000" stroke-width="7.0" stroke-linejoin="miter" stroke-miterlimit="10"/>
<path d="M1475.26 322.10L1486.06 337.10L1475.26 352.10L1464.46 337.10Z" fill="none" stroke="#000000" stroke-width="7.0" stroke-linejoin="miter" stroke-miterlimit="10"/>
<g font-family="Liberation Sans" font-weight="bold" fill="#262626">
<text x="1042.29" y="394.30" font-size="44.5">5</text>
<path d="M388 0L388 706L292 706C272 652 205 585 74 530L74 428C150 452 212 492 255 535L255 0Z" transform="translate(1170.12,394.30) scale(0.04450,-0.04450)"/><text x="1194.86" y="394.30" font-size="44.5">0</text>
<path d="M388 0L388 706L292 706C272 652 205 585 74 530L74 428C150 452 212 492 255 535L255 0Z" transform="translate(1310.32,394.30) scale(0.04450,-0.04450)"/><text x="1335.06" y="394.30" font-size="44.5">5</text>
<text x="1450.52" y="394.30" font-size="44.5">2</text><text x="1475.26" y="394.30" font-size="44.5">0</text>
<text x="890.76" y="354.60" font-size="44.5">0</text>
<text x="853.64" y="268.30" font-size="44.5">0</text><text x="878.39" y="268.30" font-size="44.5">.</text><text x="890.76" y="268.30" font-size="44.5">2</text>
<text x="853.64" y="182.00" font-size="44.5">0</text><text x="878.39" y="182.00" font-size="44.5">.</text><text x="890.76" y="182.00" font-size="44.5">4</text>
<text x="853.64" y="95.70" font-size="44.5">0</text><text x="878.39" y="95.70" font-size="44.5">.</text><text x="890.76" y="95.70" font-size="44.5">6</text>
<text x="1218.9" y="428" font-size="48" text-anchor="middle">m</text>
</g>
<g font-family="Liberation Sans" font-weight="bold" fill="#000" font-size="44">
<text x="1" y="37.3">(a)</text>
<text x="745" y="36.3">(b)</text>
<text x="1" y="470.5">(c)</text>
</g>
<g fill="#262626">
<text transform="translate(54.00,347.50) rotate(-90)" font-family="Liberation Sans" font-weight="bold" font-size="48">R</text>
<text transform="translate(54.00,313.50) rotate(-90)" font-family="Liberation Sans" font-weight="bold" font-size="48">e</text>
<text transform="translate(54.00,285.30) rotate(-90)" font-family="Liberation Sans" font-weight="bold" font-size="48">[</text>
<text transform="translate(54.00,269.30) rotate(-90)" font-family="Liberation Sans" font-weight="bold" font-size="48">-</text>
<text transform="translate(54.00,251.60) rotate(-90)" font-family="Liberation Sans" font-weight="normal" font-size="48">&#955;</text>
<text transform="translate(78.00,223.00) rotate(-90)" font-family="Liberation Sans" font-weight="bold" font-size="38">m</text>
<text transform="translate(54.00,187.50) rotate(-90)" font-family="Liberation Sans" font-weight="bold" font-size="48">]</text>
<text transform="translate(54.00,172.50) rotate(-90)" font-family="Liberation Sans" font-weight="bold" font-size="48">/</text>
<text transform="translate(54.00,157.50) rotate(-90)" font-family="Liberation Sans" font-weight="normal" font-size="48">(</text>
<text transform="translate(54.00,139.80) rotate(-90)" font-family="Liberation Serif" font-weight="normal" font-size="50">&#915;</text>
<text transform="translate(54.00,109.00) rotate(-90)" font-family="Liberation Sans" font-weight="bold" font-size="48">/</text>
<text transform="translate(54.00,95.20) rotate(-90)" font-family="Liberation Sans" font-weight="bold" font-size="48">2</text>
<text transform="translate(54.00,67.15) rotate(-90)" font-family="Liberation Sans" font-weight="normal" font-size="48">)</text>
<text transform="translate(807.60,334.80) rotate(-90)" font-family="Liberation Sans" font-weight="bold" font-size="48">|</text>
<text transform="translate(807.60,321.00) rotate(-90)" font-family="Liberation Sans" font-weight="bold" font-size="48">v</text>
<text transform="translate(831.20,294.20) rotate(-90)" font-family="Liberation Sans" font-weight="bold" font-size="38">m</text>
<text transform="translate(807.60,259.40) rotate(-90)" font-family="Liberation Sans" font-weight="normal" font-size="48">(</text>
<text transform="translate(807.60,242.30) rotate(-90)" font-family="Liberation Sans" font-weight="bold" font-size="48">l</text>
<text transform="translate(807.60,228.70) rotate(-90)" font-family="Liberation Sans" font-weight="normal" font-size="48">)</text>
<text transform="translate(807.60,212.90) rotate(-90)" font-family="Liberation Sans" font-weight="bold" font-size="48">w</text>
<text transform="translate(831.20,176.50) rotate(-90)" font-family="Liberation Sans" font-weight="bold" font-size="38">m</text>
<text transform="translate(807.60,140.60) rotate(-90)" font-family="Liberation Sans" font-weight="normal" font-size="48">(</text>
<text transform="translate(807.60,123.60) rotate(-90)" font-family="Liberation Sans" font-weight="bold" font-size="48">l</text>
<text transform="translate(807.60,109.95) rotate(-90)" font-family="Liberation Sans" font-weight="normal" font-size="48">)</text>
<text transform="translate(807.60,93.70) rotate(-90)" font-family="Liberation Sans" font-weight="bold" font-size="48">|</text>
<text transform="translate(784.00,80.30) rotate(-90)" font-family="Liberation Sans" font-weight="bold" font-size="38">2</text>
</g>
</svg>
</body></html>
